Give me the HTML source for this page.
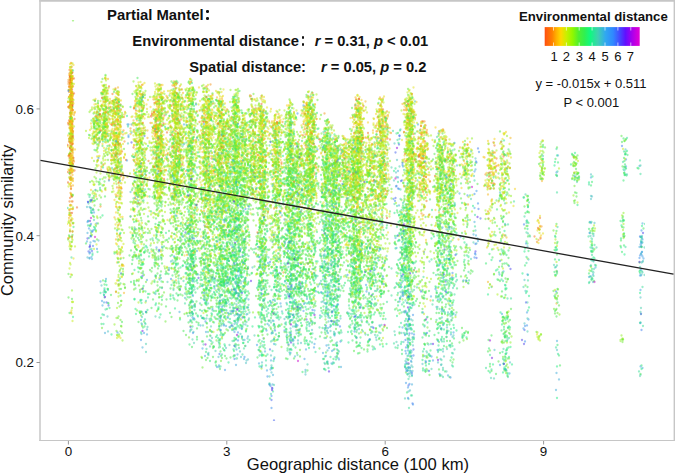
<!DOCTYPE html>
<html><head><meta charset="utf-8">
<style>
html,body{margin:0;padding:0;background:#fff;}
body{width:675px;height:475px;position:relative;overflow:hidden;font-family:"Liberation Sans",sans-serif;color:#111;}
.t{position:absolute;white-space:pre;line-height:1;}
.b{font-weight:700;}
</style></head><body>
<svg width="675" height="475" style="position:absolute;left:0;top:0">
<defs><filter id="bl" x="0" y="0" width="1" height="1"><feGaussianBlur stdDeviation="0.3"/></filter><linearGradient id="cg" x1="0" x2="1" y1="0" y2="0"><stop offset="0.0" stop-color="#ff4a08"/><stop offset="0.014" stop-color="#ff5a10"/><stop offset="0.077" stop-color="#ff8000"/><stop offset="0.122" stop-color="#ffb000"/><stop offset="0.17" stop-color="#ffd800"/><stop offset="0.23" stop-color="#c8f000"/><stop offset="0.294" stop-color="#90f800"/><stop offset="0.356" stop-color="#50f030"/><stop offset="0.419" stop-color="#30f050"/><stop offset="0.48" stop-color="#10f880"/><stop offset="0.56" stop-color="#40d0b0"/><stop offset="0.64" stop-color="#30a8f0"/><stop offset="0.72" stop-color="#3088ff"/><stop offset="0.8" stop-color="#4840ff"/><stop offset="0.85" stop-color="#6010ff"/><stop offset="0.91" stop-color="#a000f0"/><stop offset="0.98" stop-color="#d800d8"/><stop offset="1.0" stop-color="#e000d8"/></linearGradient></defs>
<g stroke="#c6c6c6" fill="none"><line x1="39.2" y1="0.8" x2="675" y2="0.8" stroke-width="1.7"/><line x1="40" y1="0" x2="40" y2="441.1" stroke-width="1.6" stroke="#cbcbcb"/><line x1="39.2" y1="440.5" x2="675" y2="440.5" stroke-width="1.2"/><line x1="674.3" y1="0" x2="674.3" y2="441.1" stroke-width="1.4"/></g>
<g fill="none" stroke-width="4.6" stroke-linecap="round" stroke-opacity="0.5" transform="scale(.5)" filter="url(#bl)">
<path stroke="#f0611d" d="M142 142h0m0 4h0m-4 27h0m0 21h0m3 16h0m-3 31h0m0 37h0m0 5h0m2 13h0m2 12h0m-2 0h0m-1 8h0m2 94h0m0 16h0m3-100h0m0-114h0m4-25h0m-4-31h0m0-3h0m67 108h0m17-13h0m7 35h0m32 12h0m16-24h0m30 4h0m0-36h0m1-5h0m-10-5h0m7-23h0m18 25h0m15 64h0m5-56h0m65-21h0m11 155h0m13-142h0m5-5h0m20 35h0m43-17h0m5-27h0m12-9h0m-2 82h0m5 140h0m94-215h0m-6 42h0m-3 34h0m14 47h0m1-1h0m32 48h0m32-68h0m22-73h0m4 98h0m6-25h0m30 95h0m8-149h0m8 95h0m50-110h0m2-49h0m21 132h0m-1 39h0m10-113h0m20 95h0m117-47h0m94 172h0"/>
<path stroke="#f27516" d="M139 140h0m0 7h0m3 10h0m1 5h0m-3 29h0m2 14h0m0 21h0m1 47h0m-1 5h0m1 1h0m0 0h0m0 52h0m-3 65h0m-1 7h0m3 37h0m3-112h0m4-90h0m-3-34h0m-2-18h0m0-32h0m70 95h0m7-35h0m16-14h0m-3 6h0m3 0h0m-6 35h0m6 92h0m7 197h0m42-297h0m-14-12h0m44 9h0m1-5h0m8-28h0m-1 119h0m23 77h0m-7-25h0m2-14h0m8-154h0m4 86h0m45-42h0m10 21h0m4-92h0m10 61h0m25 226h0m37-214h0m-1 151h0m19-52h0m-7-85h0m6-62h0m61 127h0m39 98h0m4-152h0m7 80h0m93-117h0m13 47h0m-2 115h0m-2 27h0m5-158h0m28 95h0m13-89h0m-2-26h0m5-23h0m-1-3h0m48-14h0m7 67h0m9-4h0m-11-23h0m30-2h0m7 159h0m39-122h0m83 94h0m8-8h0m1-5h0m5-70h0m31 45h0m-6 0h0m-4-7h0m66 127h0"/>
<path stroke="#f38f13" d="M142 126h0m0 23h0m-3 2h0m4 2h0m-1 6h0m0 2h0m-1 3h0m-1 2h0m0 6h0m1 6h0m-3 6h0m5 2h0m0 2h0m-4 15h0m2 4h0m-5 7h0m0 32h0m4 22h0m2 8h0m0 42h0m1 21h0m-1 5h0m0 16h0m-5 117h0m9-30h0m-2-103h0m2-68h0m-1-32h0m4-18h0m-3-6h0m-2-17h0m0-3h0m0-16h0m0-11h0m46 28h0m11 212h0m17-54h0m3-20h0m-8-72h0m4-38h0m-9-3h0m23 23h0m-7 1h0m9 30h0m-3 57h0m9 61h0m0 73h0m-2 98h0m3-282h0m9-4h0m-8-74h0m20 48h0m26 0h0m-4-43h0m30 116h0m4-4h0m2-6h0m-7-14h0m3-49h0m-3-2h0m0-17h0m-4-14h0m15-7h0m1 5h0m8 3h0m-9 4h0m3 10h0m-1 52h0m6 19h0m-6 58h0m24-39h0m-1-34h0m-1-23h0m0-65h0m6 12h0m0 13h0m9 7h0m-4 58h0m-5 1h0m-1 34h0m33 99h0m23-51h0m-1-138h0m3-6h0m4-1h0m4-19h0m7 53h0m-7 60h0m28-110h0m-2-15h0m18 125h0m-4 60h0m30-114h0m23 15h0m-4-67h0m18 4h0m-12 13h0m10 8h0m-6 25h0m9 7h0m-14 4h0m14 30h0m0 28h0m23-96h0m8 18h0m1 42h0m9 239h0m12-282h0m24 67h0m17-113h0m-5 18h0m2 14h0m-3 2h0m-4 7h0m10 22h0m2 27h0m3 34h0m0-53h0m25 76h0m8-120h0m15 55h0m0 24h0m11 115h0m18-79h0m15-147h0m-6 3h0m8 27h0m-10 82h0m-1 33h0m6 57h0m9 19h0m-3-146h0m2-2h0m3-15h0m-4-26h0m45 70h0m-10-80h0m4-13h0m-1-2h0m12 26h0m-1 9h0m4 5h0m8 7h0m-8 34h0m-4 7h0m6 21h0m-4 60h0m38-168h0m-2 0h0m7 7h0m-1 19h0m11 93h0m-3-63h0m1-39h0m7-1h0m-3-7h0m15 23h0m-8 45h0m0 80h0m12 4h0m3 31h0m-1-46h0m8-28h0m-3-74h0m-4-21h0m29 20h0m3 12h0m24 54h0m30 34h0m42 124h0m11-138h0m-3 0h0m-3-38h0m30 37h0m65 132h0"/>
<path stroke="#f6b316" d="M143 151h0m-2 12h0m1 8h0m1 7h0m0 0h0m-2 18h0m1 13h0m0 25h0m0 6h0m-1 1h0m1 11h0m-1 4h0m1 15h0m-2 21h0m0 15h0m1 24h0m-1 8h0m1 72h0m-3 25h0m6-97h0m0-14h0m2-28h0m0-10h0m-1-21h0m-1 0h0m1-59h0m-1-19h0m0-14h0m0-2h0m0-5h0m1-10h0m45 129h0m-2-44h0m19-70h0m-3 13h0m0 93h0m19 36h0m0-48h0m-7-40h0m-4-1h0m11-6h0m-8-39h0m1-22h0m20 17h0m-2 12h0m-1 18h0m1 8h0m2 36h0m-2 6h0m-8 14h0m8 2h0m5 2h0m-11 0h0m7 17h0m-1 17h0m-1 8h0m-5 2h0m8 7h0m2 40h0m-9 71h0m3 44h0m16 107h0m-2-56h0m-6-55h0m2-126h0m4-80h0m-5-24h0m29-43h0m-1 62h0m-8 4h0m16 174h0m10-70h0m-4-45h0m-4-5h0m-6-4h0m4-34h0m2-16h0m0-45h0m-2-10h0m8-24h0m33 205h0m-9-22h0m-2-57h0m10-27h0m-1-15h0m-6-1h0m3-18h0m0-16h0m-5 0h0m10-24h0m0-11h0m0-1h0m1-24h0m4 17h0m8 5h0m-8 19h0m-3 59h0m5 93h0m19 62h0m-4-86h0m8-88h0m-2-21h0m-3-27h0m9-47h0m14 22h0m-11 35h0m1 54h0m8 10h0m-7 18h0m3 2h0m-2 10h0m8 33h0m-12 11h0m24 15h0m3-42h0m-13-60h0m10-41h0m0-38h0m6 152h0m13 58h0m12-7h0m-7-112h0m6-16h0m4-15h0m2-10h0m-10-10h0m11-55h0m10 13h0m-1 6h0m-3 6h0m3 55h0m-8 11h0m3 8h0m-2 25h0m21 19h0m3-23h0m-1-19h0m-4-5h0m1-28h0m7-48h0m8 25h0m9 71h0m-1 19h0m-6 14h0m7 17h0m-12 106h0m9 0h0m6-67h0m5-171h0m17 19h0m-2 14h0m23 81h0m-1-11h0m1-48h0m0-36h0m-5-2h0m7-3h0m-4-11h0m-1-17h0m21 32h0m-1 17h0m-1 29h0m3 15h0m-14 49h0m15 12h0m-8 3h0m2 41h0m10 16h0m0-24h0m7-117h0m-9-6h0m14-11h0m14 3h0m-5 37h0m-5 55h0m7 30h0m-7 94h0m22-102h0m19-147h0m-5 23h0m-1 42h0m3 117h0m12-71h0m-1-36h0m12-94h0m11 32h0m1 10h0m-9 3h0m5 14h0m4 6h0m-3 8h0m3 6h0m-3 18h0m1 10h0m5 8h0m-5 1h0m5 46h0m-7 19h0m9 9h0m4-50h0m-5-36h0m32 68h0m1-79h0m16-22h0m14 22h0m-2 54h0m10 15h0m-4-37h0m6-22h0m20-84h0m-7 58h0m-5 9h0m6 14h0m6 15h0m-3 35h0m-8 5h0m1 86h0m1 10h0m10 31h0m6 0h0m-2-129h0m0-96h0m6-40h0m-5-4h0m8-15h0m20 49h0m-8 69h0m-5 25h0m18 23h0m-2-56h0m4-66h0m7-17h0m7 21h0m-1 28h0m43 62h0m0 40h0m5 57h0m-2 0h0m-1-64h0m10-29h0m1-21h0m-4-60h0m2-5h0m-8-19h0m7-35h0m-2-7h0m19 68h0m3 27h0m-1 11h0m-11 20h0m7 66h0m1 5h0m21 206h0m-12-186h0m-1-90h0m3-25h0m3-40h0m73 89h0m42-34h0m5 113h0m10-20h0m-8-19h0m5-54h0m1-27h0m8-3h0m15 55h0m12-52h0m64 167h0m-1-23h0m4-90h0m29 245h0m36-262h0"/>
<path stroke="#f8cf18" d="M143 145h0m-1 1h0m-3 10h0m4 5h0m-1 4h0m1 1h0m0 7h0m-1 12h0m1 0h0m-5 9h0m5 0h0m0 5h0m-3 1h0m1 11h0m1 2h0m-1 12h0m-1 12h0m0 5h0m3 12h0m0 1h0m-1 3h0m-1 0h0m0 9h0m2 1h0m-7 3h0m4 12h0m-1 1h0m1 28h0m2 15h0m-1 40h0m1 10h0m0 11h0m-4 42h0m2 22h0m1 0h0m1 97h0m2-264h0m1-42h0m0-3h0m0-73h0m-1-8h0m1-5h0m60 55h0m-8 3h0m3 10h0m1 10h0m-5 15h0m1 84h0m13-87h0m0-9h0m4-48h0m-3-29h0m19 42h0m-3 21h0m7 17h0m2 1h0m-4 12h0m2 7h0m-2 14h0m-7 2h0m10 1h0m-5 44h0m5 10h0m2 17h0m1 74h0m-6 5h0m6 16h0m-3 14h0m4 15h0m-1 35h0m4 11h0m-1-12h0m0-70h0m4 0h0m3-120h0m-6-21h0m0-92h0m25 78h0m19 107h0m-10-12h0m5-19h0m-7-35h0m6-22h0m2-12h0m-7-3h0m3-60h0m4-12h0m3 0h0m-10-2h0m3-21h0m23 26h0m-12 87h0m10 54h0m-4 38h0m20-60h0m3-33h0m-8-29h0m3-4h0m4-31h0m-4-3h0m-2-2h0m5-8h0m-3-27h0m6-7h0m0-8h0m-3-2h0m9-9h0m-3 5h0m3 19h0m2 13h0m-5 1h0m1 6h0m-1 6h0m-1 21h0m1 2h0m-2 7h0m0 4h0m12 3h0m-8 16h0m-1 5h0m4 1h0m-3 6h0m1 20h0m-2 14h0m-1 8h0m2 10h0m-2 8h0m1 1h0m0 24h0m24 168h0m-4-66h0m7-85h0m-1-74h0m-13-7h0m11-12h0m1-4h0m0-72h0m6 11h0m-2 17h0m4 23h0m9 8h0m-5 1h0m6 7h0m-12 4h0m0 23h0m3 7h0m-5 10h0m8 0h0m-3 45h0m26 17h0m-3-37h0m0-7h0m-1-19h0m-7-93h0m6-43h0m7-16h0m3 7h0m-3 19h0m-1 51h0m4 40h0m-2 99h0m3 63h0m23 89h0m0-147h0m1-46h0m1-98h0m-8-18h0m8-13h0m1-5h0m-8-2h0m6-31h0m0 0h0m12 5h0m-5 4h0m2 4h0m-4 32h0m-2 28h0m0 21h0m2 36h0m4 29h0m-4 13h0m7 72h0m16-38h0m-1-72h0m-4-12h0m7-50h0m4-10h0m-8-10h0m1-9h0m-2-9h0m3-6h0m9-5h0m0 65h0m10 13h0m-12 81h0m14 16h0m-14 14h0m24 46h0m-4-69h0m1-6h0m0-12h0m0 0h0m-2-55h0m0-3h0m6-6h0m21 21h0m-14 132h0m22-58h0m1-9h0m-2-8h0m4-10h0m0-61h0m-8-28h0m10-44h0m1-27h0m9 20h0m6 22h0m-7 38h0m0 6h0m8 3h0m1 4h0m-10 19h0m1 10h0m3 1h0m6 13h0m-2 1h0m3 48h0m-2 0h0m-1 7h0m6 97h0m0-120h0m7-104h0m6-46h0m17 24h0m-12 13h0m10 1h0m-5 45h0m0 26h0m-7 5h0m13 60h0m-10 82h0m15-107h0m12-41h0m-2-10h0m6-105h0m11 76h0m-4 50h0m-9 10h0m4 53h0m13 260h0m13-223h0m-13-72h0m11-48h0m-9-3h0m27-99h0m-8 1h0m-5 7h0m7 2h0m-9 19h0m9 2h0m-2 6h0m-6 2h0m10 1h0m-1 19h0m-6 33h0m7 30h0m8-27h0m-2-24h0m5-16h0m7-2h0m-10-23h0m0-3h0m5-13h0m23 72h0m-4 63h0m19-34h0m-11-12h0m-2-2h0m9-2h0m-9-24h0m16-11h0m2 23h0m11 24h0m-10 27h0m5 154h0m11-116h0m4-14h0m-8-4h0m4-16h0m-3-23h0m0-29h0m24-107h0m-2 10h0m-3 40h0m9 9h0m-6 27h0m8 0h0m-6 4h0m2 33h0m-9 2h0m2 5h0m2 10h0m-5 22h0m11 10h0m7 115h0m-2-11h0m-1-5h0m15-9h0m-15-62h0m14-4h0m1-17h0m-1-27h0m-9-4h0m8-18h0m-12-4h0m3-4h0m6-20h0m3-24h0m-13-2h0m6-4h0m-6-26h0m4-6h0m-2-5h0m3-17h0m-4-2h0m2-14h0m25 38h0m-5 38h0m0 14h0m5 56h0m-10 18h0m1 0h0m7 35h0m-3 38h0m5 2h0m-10 8h0m-1 92h0m23-122h0m5-18h0m-5-38h0m5-8h0m-9-64h0m9-8h0m-2-16h0m-8-3h0m2-4h0m-1 0h0m7-2h0m2-8h0m1-6h0m-4-4h0m-10-10h0m16 3h0m12 25h0m-9 9h0m-1 67h0m2 17h0m-4 2h0m2 46h0m0 255h0m38-445h0m1 6h0m5 18h0m-3 3h0m2 22h0m2 31h0m-1 33h0m0 56h0m3 118h0m-1-48h0m14-33h0m-12-22h0m8-32h0m-4-23h0m6-2h0m-3-7h0m-1-12h0m3-1h0m-8-1h0m2-5h0m-3-13h0m3-3h0m-3-23h0m4-15h0m2-3h0m-3-1h0m-5-12h0m3-28h0m26 62h0m-4 6h0m-6 9h0m7 1h0m-2 4h0m-5 3h0m5 3h0m-1 13h0m3 2h0m4 12h0m0 9h0m-7 3h0m8 9h0m-9 9h0m3 10h0m2 9h0m2 64h0m6-63h0m1-7h0m-2-63h0m-2-8h0m1-5h0m2-3h0m-2-19h0m27 40h0m3 26h0m-8 84h0m-1 32h0m11-20h0m9-35h0m-9-16h0m14-37h0m-13-4h0m-1-24h0m4-1h0m-1-21h0m3-33h0m11 80h0m10 3h0m-7 16h0m39-76h0m-6 22h0m3 2h0m-7 19h0m0 18h0m37-31h0m17 259h0m-7-207h0m1-2h0m0-3h0m4-5h0m-2-26h0m4-19h0m5-33h0m7 77h0m3 130h0m13-221h0m18 114h0m49 81h0m1-5h0"/>
<path stroke="#e3e018" d="M141 138h0m2 26h0m0 3h0m-1 42h0m-4 5h0m3 23h0m1 35h0m1 0h0m-3 16h0m-4 5h0m4 37h0m2 2h0m-1 2h0m2 21h0m-2 63h0m-2 7h0m1 23h0m6-30h0m1-98h0m-1-4h0m1-37h0m-2 0h0m1-16h0m-1-22h0m1-89h0m38 164h0m4-51h0m0 0h0m1-39h0m18-54h0m-11 36h0m0 4h0m1 15h0m3 1h0m-2 12h0m-3 37h0m12 94h0m13-34h0m3-16h0m-10-49h0m-3-2h0m1-5h0m6-48h0m-6-4h0m1-10h0m-1-26h0m28 24h0m-14 1h0m10 0h0m-6 3h0m7 7h0m-1 32h0m2 22h0m2 4h0m-12 20h0m3 1h0m8 2h0m-6 3h0m4 141h0m3 133h0m5-16h0m-4-111h0m2-67h0m3-16h0m1-72h0m-5-25h0m-1-38h0m26 84h0m1 112h0m-1 18h0m0 108h0m14-79h0m3-13h0m-1-50h0m-6-35h0m4-13h0m-8-13h0m4-11h0m4 0h0m-4-6h0m3-4h0m1-8h0m-8-7h0m12-2h0m-6-4h0m-4-5h0m5-9h0m-7-6h0m15-13h0m-5 0h0m-6-10h0m9-11h0m-7-16h0m-3-10h0m11-1h0m-3-12h0m-6-44h0m12 72h0m-1 32h0m0 45h0m24 82h0m-1 0h0m-3-40h0m3-10h0m0-11h0m6-7h0m2-7h0m-6-25h0m4-10h0m1-12h0m-3-8h0m1-15h0m3-18h0m-12-5h0m10-2h0m-8-5h0m8-6h0m-7-31h0m9-12h0m6 15h0m-3 1h0m3 17h0m-2 3h0m-2 30h0m11 20h0m-11 11h0m2 0h0m-3 6h0m7 15h0m-4 1h0m5 2h0m-6 35h0m6 7h0m-5 7h0m0 15h0m-2 6h0m3 5h0m-1 18h0m-2 79h0m13 69h0m15-147h0m0-41h0m-13-13h0m12-7h0m2-2h0m-1-20h0m-4-2h0m4-26h0m-8-25h0m5-63h0m-3-1h0m4-1h0m12-6h0m-4 9h0m0 0h0m3 13h0m4 9h0m-9 16h0m-1 21h0m0 4h0m3 2h0m-1 10h0m2 7h0m0 5h0m5 16h0m-2 2h0m-7 9h0m2 9h0m-1 6h0m13 0h0m-6 13h0m-2 6h0m-3 21h0m-3 4h0m5 6h0m-4 24h0m3 60h0m22-59h0m-9-1h0m4-78h0m-1-38h0m11-22h0m-8-2h0m5-20h0m2-14h0m-3-21h0m1-10h0m0-29h0m4 21h0m8 11h0m-7 20h0m6 42h0m-3 22h0m-3 22h0m6 15h0m1 6h0m-3 4h0m1 70h0m4 31h0m5 79h0m15-97h0m-8-2h0m5-5h0m-3-2h0m-5-7h0m10-66h0m-3-11h0m2-5h0m1-2h0m-12-10h0m0-17h0m13-8h0m-8-7h0m0-2h0m5-16h0m4-32h0m-6-2h0m7-40h0m8 28h0m-2 28h0m3 4h0m-6 1h0m0 9h0m4 16h0m2 9h0m-7 2h0m0 3h0m0 10h0m-2 61h0m15 9h0m-14 22h0m0 8h0m1 10h0m1 9h0m7 75h0m19 53h0m1-77h0m-7-49h0m6-40h0m-12-43h0m6-4h0m-4-9h0m10-1h0m-4-5h0m6-4h0m-10-10h0m6-5h0m2-4h0m-8-5h0m9-12h0m-1-9h0m-6-1h0m-6-8h0m4-19h0m2 0h0m5-18h0m-6-15h0m20 60h0m1 30h0m-11 20h0m3 6h0m3 14h0m-5 24h0m3 16h0m7 34h0m-2 16h0m-6 3h0m-1 28h0m6 10h0m8 84h0m1-161h0m11-70h0m-2-10h0m2-12h0m3-2h0m-12-5h0m-2-3h0m11-25h0m-6-3h0m0-5h0m1-11h0m-1-11h0m0-11h0m1-5h0m-2-8h0m22 67h0m4 43h0m-9 55h0m-1 124h0m11-86h0m11-6h0m-2-33h0m5 0h0m-1-10h0m1-7h0m-7-25h0m0-13h0m8-2h0m0-5h0m-6-11h0m1-22h0m5-15h0m-10-15h0m-1-2h0m27-25h0m-1 28h0m-7 1h0m8 20h0m-10 9h0m0 1h0m8 17h0m-8 0h0m7 14h0m-11 6h0m-1 15h0m6 2h0m-2 9h0m3 19h0m-1 6h0m3 1h0m-4 13h0m5 7h0m5 2h0m-6 21h0m5 18h0m13 34h0m-9-63h0m4-73h0m9-43h0m-13-19h0m23-27h0m-4 15h0m6 0h0m-2 9h0m4 7h0m-10 22h0m6 14h0m2 10h0m-5 3h0m8 23h0m-9 2h0m2 1h0m4 2h0m-3 14h0m-7 16h0m12 26h0m-13 79h0m7 38h0m-4 27h0m25-60h0m0-182h0m9-83h0m3 4h0m2 24h0m-10 18h0m10 36h0m-9 2h0m2 12h0m2 2h0m3 0h0m-2 0h0m1 12h0m6 71h0m-10 7h0m1 27h0m-2 38h0m13 16h0m4-28h0m3-6h0m3-1h0m-9-42h0m15-5h0m-10-43h0m-2-7h0m-3-16h0m7-11h0m19-132h0m-1 1h0m-5 33h0m2 18h0m7 3h0m1 24h0m-2 7h0m-4 2h0m4 26h0m-12 2h0m5 7h0m2 8h0m5 6h0m-1 7h0m-11 5h0m6 14h0m4 3h0m5 16h0m1 27h0m9 0h0m-5-14h0m-2-1h0m10-38h0m2-47h0m-14-26h0m2-9h0m2-6h0m0-1h0m-2 0h0m0-9h0m0-8h0m0-38h0m23 61h0m1 39h0m-3 22h0m8 40h0m-5 10h0m18-1h0m2-7h0m-9-6h0m6-1h0m-1-11h0m1-5h0m7-54h0m10 8h0m-12 7h0m14 17h0m-13 25h0m4 86h0m-4 120h0m22-107h0m-2-49h0m0-33h0m0-21h0m-5-33h0m13-66h0m17-31h0m-2 3h0m2 10h0m-3 2h0m4 19h0m-8 7h0m6 30h0m-4 1h0m-5 2h0m11 0h0m-15 2h0m10 0h0m5 9h0m0 7h0m-13 8h0m11 4h0m-4 12h0m-7 2h0m8 6h0m4 12h0m-2 3h0m-11 2h0m2 4h0m0 3h0m4 9h0m5 20h0m-7 6h0m5 29h0m-4 13h0m4 41h0m3 11h0m0 7h0m0 3h0m-11 29h0m4 17h0m3 18h0m13-117h0m2-28h0m-8-34h0m0-25h0m14-10h0m0-3h0m-3-8h0m-4-1h0m0-12h0m-7-19h0m15-1h0m-10-21h0m-3-19h0m-2-39h0m26 47h0m-4 27h0m7 14h0m-11 6h0m1 19h0m-2 1h0m11 6h0m2 12h0m-8 27h0m2 0h0m6 5h0m-7 2h0m-2 61h0m1 7h0m-1 14h0m8 12h0m-3 84h0m11-80h0m-5-1h0m7-103h0m5-7h0m-9-18h0m9-11h0m-3-1h0m-1-13h0m0-11h0m2-39h0m-9 0h0m8-14h0m4-2h0m2-11h0m-13-5h0m8 0h0m3-23h0m-7-5h0m5-6h0m-7-5h0m17 24h0m3 1h0m-4 9h0m1 5h0m-2 31h0m0 6h0m-3 8h0m0 23h0m6 43h0m2 107h0m-4 106h0m38-372h0m-3 29h0m8 21h0m-2 10h0m2 1h0m-11 20h0m9 51h0m-2 28h0m3 19h0m-12 63h0m14 138h0m3-117h0m4-53h0m-7-11h0m4-7h0m2-8h0m5-3h0m-8-13h0m7-1h0m0-20h0m-6-4h0m1-24h0m-2-2h0m4-4h0m5-2h0m-12-2h0m4-4h0m3-1h0m-3-2h0m8-27h0m-8-6h0m4 0h0m-2-1h0m3-8h0m-3-2h0m1-18h0m-7-3h0m9-2h0m-4-3h0m0-3h0m-5-19h0m1-15h0m6-6h0m4-13h0m15 98h0m-5 10h0m4 10h0m-5 3h0m9 0h0m-5 16h0m2 3h0m1 13h0m0 5h0m13 100h0m-1-59h0m0-3h0m-3-6h0m-1-1h0m9-1h0m-7-14h0m1-60h0m1-21h0m15 16h0m6 15h0m0 74h0m-11 87h0m28-135h0m0 0h0m-4-5h0m2-32h0m0-12h0m16 12h0m-11 12h0m2 41h0m-2 303h0m27-315h0m5-31h0m14 1h0m-7 14h0m36 48h0m18 77h0m-8-17h0m6-69h0m-8-21h0m1-8h0m27-56h0m0 26h0m0 16h0m-3 47h0m3 18h0m5 24h0m0-32h0m-3-9h0m9 0h0m4-42h0m64 152h0m-11-6h0m1-21h0m4-8h0m3-91h0"/>
<path stroke="#c6eb18" d="M142 152h0m1 16h0m0 6h0m-1 3h0m0 20h0m0 34h0m0 0h0m1 5h0m-2 31h0m-2 10h0m2 50h0m-2 14h0m2 14h0m1 35h0m-1 40h0m1 63h0m-2 33h0m3 101h0m1-386h0m0-25h0m41 52h0m22-63h0m-12 14h0m5 20h0m7 2h0m-12 5h0m4 2h0m-2 1h0m2 3h0m8 6h0m-9 1h0m-4 0h0m7 20h0m21 64h0m-2-6h0m-8-33h0m9-27h0m-9-9h0m6-6h0m4-37h0m-11-6h0m8 0h0m-7-6h0m1-16h0m-4-8h0m0-10h0m22 0h0m-4 0h0m4 48h0m5 0h0m-11 5h0m11 2h0m-2 22h0m5 18h0m-4 6h0m2 6h0m-6 3h0m5 20h0m-2 7h0m4 25h0m-1 46h0m-5 21h0m5 30h0m-2 35h0m2 81h0m3-138h0m15-62h0m-8-2h0m-7-7h0m0-43h0m27-31h0m4 28h0m0 81h0m8 130h0m-1-1h0m0-47h0m-5-79h0m7-32h0m-2-6h0m-3-1h0m7-4h0m4-12h0m-5-2h0m-6-4h0m0-18h0m-2-6h0m5-3h0m2-1h0m-3-7h0m-3-10h0m6-2h0m4-6h0m3-2h0m-3-21h0m-3-11h0m-2-17h0m0-1h0m-1-7h0m-3-8h0m6-8h0m-8-12h0m16 4h0m1 10h0m9 38h0m4 52h0m-14 0h0m6 76h0m-4 56h0m11 69h0m6-16h0m6-15h0m5-4h0m-4-33h0m1-23h0m-2-12h0m1-10h0m-1-12h0m-3-16h0m-3-13h0m8-3h0m-2-6h0m5-7h0m-3-4h0m-9-13h0m10-8h0m-10-8h0m5-1h0m-5-21h0m-1-6h0m12-5h0m-1-61h0m-6-17h0m17 30h0m-3 3h0m-4 22h0m10 20h0m-10 33h0m1 5h0m2 6h0m9 9h0m-11 5h0m-1 35h0m2 16h0m-1 20h0m1 77h0m18-8h0m6-6h0m2-39h0m-6-8h0m7-18h0m-5-9h0m-7-67h0m10-2h0m1-4h0m-5-6h0m6-56h0m1-2h0m-7-7h0m3-30h0m1-4h0m6 5h0m11 11h0m0 0h0m-13 5h0m1 7h0m3 4h0m-3 2h0m3 16h0m0 7h0m10 19h0m-3 5h0m-7 2h0m-1 3h0m4 6h0m-2 8h0m5 28h0m4 10h0m-8 2h0m-3 4h0m6 1h0m-9 1h0m2 17h0m-1 12h0m8 3h0m-1 2h0m5 3h0m-7 2h0m-3 14h0m-3 8h0m0 75h0m4 82h0m17 74h0m8-180h0m-1-29h0m-12-1h0m15-90h0m0-17h0m-4-8h0m-11-2h0m12-2h0m-7 0h0m0-21h0m-5-57h0m6-42h0m11 55h0m4 2h0m2 8h0m-5 17h0m3 75h0m-1 46h0m8 39h0m-7 11h0m6 41h0m-6 75h0m23-31h0m3-62h0m-10-91h0m3-11h0m2-4h0m-8-1h0m-2-9h0m15-12h0m-5-8h0m5-3h0m-11-29h0m11-2h0m-11-17h0m8-6h0m-2-3h0m-1-2h0m-1-28h0m2-6h0m2-7h0m2-30h0m8 9h0m-1 9h0m-3 11h0m2 22h0m2 3h0m-4 4h0m12 16h0m-12 23h0m2 14h0m-1 17h0m-3 3h0m13 3h0m-3 41h0m-6 20h0m-2 26h0m7 9h0m0 26h0m2 2h0m1 10h0m-12 97h0m21-42h0m5-7h0m-1-60h0m-1-11h0m6-1h0m-3-61h0m-1-2h0m-5-1h0m8-1h0m-9-2h0m10 0h0m0-7h0m-3-4h0m-6-2h0m-5-3h0m1-6h0m6 0h0m-3-13h0m1-12h0m1-2h0m-3-96h0m5-9h0m23 27h0m-11 18h0m6 1h0m-4 13h0m0 23h0m-2 2h0m9 6h0m-7 13h0m2 6h0m0 27h0m1 28h0m1 25h0m0 103h0m-5 6h0m-1 134h0m26-59h0m-2-95h0m-9-45h0m5-30h0m1-48h0m6-24h0m-14-9h0m14-14h0m-3-1h0m-5 0h0m5-21h0m2-3h0m-8-11h0m3-10h0m3-10h0m-3-25h0m6-1h0m-7-1h0m-1-4h0m6-13h0m-1-3h0m-7-6h0m-3-1h0m2-6h0m8-12h0m13 49h0m-4 4h0m5 5h0m3 4h0m-6 24h0m4 15h0m-4 2h0m7 1h0m-10 21h0m11 25h0m-15 12h0m4 7h0m-3 41h0m8 96h0m-1 72h0m17-184h0m1-1h0m-2-3h0m-8-14h0m11-18h0m-2-2h0m-8-24h0m14-2h0m-9-12h0m6 0h0m-4-2h0m2-11h0m-6 0h0m3-23h0m-7-3h0m6-12h0m8-20h0m-5-8h0m-8-7h0m30-19h0m-2 3h0m-7 6h0m-5 13h0m10 3h0m-9 3h0m12 16h0m-1 2h0m-7 6h0m-1 0h0m2 11h0m6 8h0m-9 0h0m9 5h0m-4 29h0m6 17h0m-7 9h0m-4 0h0m-2 3h0m4 2h0m9 28h0m-7 11h0m-2 1h0m6 6h0m0 23h0m-3 3h0m2 55h0m2 29h0m-10 31h0m5 6h0m9 0h0m0-5h0m7-87h0m-6-58h0m-1-25h0m11-76h0m-6-15h0m-2-28h0m24 11h0m-6 14h0m1 16h0m8 14h0m-9 16h0m-4 39h0m6 9h0m-4 13h0m10 31h0m-13 2h0m8 40h0m0 61h0m-7 50h0m26-157h0m-5-3h0m8-32h0m-14 0h0m-1-10h0m3-3h0m2-42h0m8-31h0m-3-3h0m3-42h0m0-2h0m15 1h0m-11 1h0m6 1h0m7 2h0m-2 6h0m2 1h0m-12 19h0m9 2h0m-4 2h0m-3 0h0m4 0h0m-3 2h0m0 1h0m4 22h0m-7 5h0m-2 19h0m6 5h0m3 0h0m-7 3h0m8 4h0m5 12h0m-15 1h0m10 6h0m-9 8h0m-1 18h0m6 78h0m8 28h0m-7 104h0m-6 2h0m5 43h0m25-84h0m-10-83h0m0-10h0m9-57h0m-7 0h0m-2-17h0m1-7h0m-4-3h0m0 0h0m2-11h0m3-21h0m4-1h0m2-17h0m0-8h0m1-70h0m-13-12h0m21-10h0m4 9h0m3 16h0m0 0h0m-3 10h0m-2 13h0m7 27h0m-8 0h0m1 15h0m4 15h0m-6 1h0m-5 11h0m8 25h0m4 1h0m1 11h0m0 2h0m-2 0h0m-2 13h0m-10 37h0m6 68h0m6 26h0m-9 40h0m26-124h0m-11-26h0m7-14h0m-8-7h0m1-26h0m-2-99h0m4-17h0m15 67h0m12 1h0m-13 29h0m2 5h0m5 19h0m0 14h0m2 3h0m-7 8h0m2 42h0m4 51h0m6 36h0m9-35h0m-4-18h0m1-28h0m6-20h0m-3-7h0m5-1h0m-3-14h0m-7-8h0m6-6h0m-10-17h0m7-18h0m-2-3h0m5-2h0m3-6h0m-7-3h0m7-1h0m-8-32h0m8-1h0m-3-8h0m3-12h0m-13-18h0m30 56h0m-8 21h0m-3 6h0m5 2h0m1 49h0m-2 14h0m8 92h0m6 16h0m-1-40h0m0-37h0m10-45h0m-5 0h0m-6-6h0m-2-6h0m6-2h0m1-23h0m-8-19h0m1-1h0m14-2h0m-5-22h0m-9-6h0m9-1h0m3-14h0m1-19h0m15-62h0m-5 12h0m3 16h0m-1 0h0m-8 10h0m4 2h0m-6 13h0m7 6h0m-6 8h0m13 2h0m-4 3h0m-10 13h0m1 7h0m14 0h0m-8 16h0m7 5h0m-7 8h0m1 7h0m-4 16h0m7 1h0m-5 1h0m-4 4h0m0 9h0m3 10h0m7 9h0m-9 7h0m9 14h0m-12 8h0m15 4h0m-6 18h0m0 5h0m-5 9h0m7 24h0m0 11h0m-3 9h0m3 3h0m2 12h0m-7 41h0m0 16h0m1 30h0m11 1h0m13-78h0m-11-73h0m-1-23h0m4-15h0m-1 0h0m-1-37h0m10-23h0m-15-13h0m2-5h0m7-9h0m-1-7h0m7-5h0m-12-30h0m1 0h0m2-5h0m-5-8h0m-1-30h0m27 2h0m-10 34h0m3 27h0m4 11h0m2 2h0m0 11h0m-6 5h0m2 52h0m-1 9h0m8 3h0m-11 3h0m13 4h0m-9 54h0m-3 8h0m7 27h0m-5 29h0m2 12h0m23 148h0m-10-75h0m11-185h0m-15-10h0m12-10h0m-9-28h0m2-4h0m4-5h0m5-2h0m-3-3h0m-3-4h0m4-27h0m-2-13h0m1-2h0m-6-4h0m5-6h0m4-27h0m-2-6h0m-12-9h0m6-4h0m2-9h0m5-2h0m-5-8h0m3-34h0m5 28h0m3 0h0m-2 8h0m4 26h0m-4 5h0m1 98h0m4 57h0m8 30h0m16 21h0m17-287h0m-1 29h0m1 25h0m-1 10h0m-1 2h0m-5 14h0m7 58h0m-3 4h0m0 3h0m-10 105h0m11 60h0m15 98h0m-7-22h0m4-27h0m-9-18h0m10-54h0m0-9h0m-5-3h0m0-18h0m0-58h0m5-1h0m-5-5h0m1-26h0m6-10h0m-12-2h0m0-11h0m9-11h0m4-1h0m-8-10h0m1-3h0m5-8h0m-8-9h0m1-29h0m10-3h0m-3-30h0m-5-2h0m0-13h0m5-11h0m16 79h0m4 1h0m-3 20h0m1 1h0m1 8h0m-5 1h0m2 17h0m-10 48h0m3 19h0m5 7h0m-9 26h0m0 0h0m15 117h0m1 85h0m5-54h0m7-187h0m-11-9h0m4-8h0m-3-53h0m0-11h0m24 47h0m1 4h0m0 10h0m-3 10h0m-1 1h0m5 3h0m3 5h0m-15 48h0m9 1h0m2 78h0m13-8h0m-8-45h0m1-31h0m6-45h0m1-1h0m-4-13h0m7-24h0m-6-13h0m-4-3h0m1-35h0m1-3h0m6-8h0m15 5h0m-8 14h0m15 6h0m-12 1h0m-1 4h0m13 9h0m-6 13h0m-6 7h0m6 11h0m-3 52h0m8 13h0m17-110h0m6-12h0m5 15h0m-8 24h0m1 2h0m1 10h0m3 0h0m-7 2h0m9 44h0m8-4h0m30-11h0m14 111h0m-6-89h0m2-39h0m-2-29h0m7-18h0m14-26h0m-3 46h0m1 75h0m2 8h0m-12 71h0m16 6h0m2-75h0m0-26h0m5-46h0m-6-81h0"/>
<path stroke="#aaef17" d="M142 159h0m-2 0h0m2 2h0m-1 8h0m2 14h0m-7 21h0m3 13h0m0 40h0m1 1h0m1 3h0m-1 45h0m0 11h0m3 10h0m-5 119h0m7 17h0m1-123h0m-1-64h0m2-76h0m-2-73h0m36 94h0m6-21h0m16-36h0m-11 44h0m12 30h0m1 12h0m-6 2h0m-1 0h0m7 8h0m-10 10h0m0 11h0m12 32h0m-5 68h0m6-11h0m8-30h0m-6-13h0m13-26h0m-6-3h0m-6-24h0m-3-22h0m2-2h0m6-17h0m4-3h0m-11-20h0m1-5h0m2-4h0m3-7h0m-3-5h0m-2-7h0m3-6h0m-4-6h0m1-14h0m1-4h0m27 46h0m-5 15h0m-2 12h0m2 5h0m-7 10h0m4 10h0m3 26h0m1 1h0m-5 1h0m9 11h0m-12 11h0m13 6h0m-8 3h0m6 24h0m2 1h0m-1 13h0m-8 2h0m3 7h0m-7 21h0m11 7h0m-2 33h0m1 9h0m0 25h0m2 7h0m-2 103h0m1 25h0m-3 30h0m9 37h0m1-124h0m0-122h0m-3-18h0m0-82h0m2-27h0m10-14h0m-12-22h0m4-14h0m-4-9h0m28-38h0m1 2h0m1 65h0m0 16h0m0 65h0m-11 16h0m8 55h0m-2 5h0m0 52h0m4 36h0m11 26h0m1-18h0m0-52h0m-10-10h0m12-61h0m-5-1h0m4-10h0m-1-1h0m-10-3h0m7-4h0m-1-4h0m7-7h0m-5-47h0m-3-3h0m5-18h0m-4-12h0m-4 0h0m8-2h0m5-6h0m-11-13h0m6-16h0m4-14h0m-8-13h0m5-9h0m1-5h0m-1-15h0m5 35h0m2 55h0m-1 40h0m-1 18h0m6 32h0m-5 99h0m-1 10h0m21 47h0m7-53h0m-9-73h0m7-4h0m0-11h0m5-3h0m-6-16h0m5-4h0m-5-6h0m-2-2h0m4-9h0m3 0h0m0-9h0m-13-5h0m7-1h0m3-7h0m3-3h0m-5-25h0m3-19h0m0-9h0m-7-25h0m1-8h0m2-16h0m6-5h0m3-6h0m5 23h0m8 23h0m-14 8h0m2 13h0m0 15h0m1 5h0m11 0h0m-7 19h0m0 8h0m-6 11h0m1 27h0m-2 4h0m3 7h0m6 4h0m-6 6h0m-3 0h0m3 5h0m-2 3h0m3 10h0m-1 10h0m8 10h0m-7 17h0m-4 1h0m10 1h0m-4 19h0m-5 57h0m18-120h0m8-12h0m-3-7h0m5-12h0m-2 0h0m1-7h0m3-8h0m-1-63h0m-9-6h0m8-8h0m-11-1h0m-1-19h0m12-13h0m2-1h0m-8-3h0m-3-2h0m11-15h0m-6 0h0m4-2h0m-2-2h0m-1-17h0m1 0h0m15-13h0m-10 27h0m0 1h0m4 7h0m-4 8h0m4 2h0m10 1h0m-9 4h0m6 8h0m-7 6h0m1 6h0m-2 6h0m7 8h0m-4 2h0m6 3h0m-7 15h0m-1 3h0m-4 9h0m13 1h0m-11 5h0m1 3h0m3 1h0m2 6h0m1 13h0m-3 5h0m-4 21h0m2 1h0m9 10h0m-3 2h0m-6 0h0m-1 30h0m11 0h0m-8 4h0m-2 8h0m4 87h0m12 22h0m-2-80h0m9-10h0m4-12h0m-13-15h0m0-25h0m8-28h0m3-11h0m-2-19h0m4-9h0m-1-6h0m1-3h0m-5-23h0m-6-18h0m7-6h0m-11-3h0m11-9h0m4-25h0m-12-23h0m18 71h0m-3 13h0m9 2h0m-4 30h0m-5 2h0m1 40h0m-2 2h0m3 46h0m1 16h0m5 8h0m-6 28h0m-3 27h0m9 25h0m4 8h0m-9 8h0m25 50h0m-4-6h0m5-162h0m-3-1h0m0 0h0m-4-6h0m-6-4h0m13-23h0m-4-8h0m-10 0h0m3-2h0m10-5h0m-5-7h0m2-21h0m-3-10h0m3-11h0m2-12h0m-4-4h0m-3-2h0m2-16h0m4-3h0m-7-15h0m0-17h0m10-16h0m-8-28h0m0-6h0m13 69h0m1 0h0m1 13h0m-5 6h0m4 6h0m-1 70h0m3 8h0m-6 7h0m4 4h0m0 7h0m-5 8h0m0 19h0m8 3h0m6 37h0m14 103h0m-4-11h0m-4-1h0m9 0h0m-8-24h0m2-8h0m7-8h0m0-1h0m-7-7h0m4-9h0m-8-25h0m9-13h0m-10-16h0m0-4h0m5-18h0m0 0h0m-7-19h0m3-9h0m6-12h0m6-1h0m-5-18h0m-4-12h0m7-13h0m-13-1h0m8-6h0m6-1h0m-7-5h0m-2-16h0m-4-4h0m5-4h0m7-1h0m1-11h0m-2-33h0m-8-1h0m15 8h0m-3 4h0m5 16h0m8 14h0m-12 5h0m-1 6h0m1 29h0m8 10h0m-5 4h0m8 1h0m-4 6h0m7 4h0m-2 5h0m-6 2h0m-1 3h0m3 1h0m-1 4h0m0 16h0m-4 1h0m-4 7h0m10 4h0m1 9h0m-6 25h0m2 4h0m-4 6h0m5 8h0m7 0h0m-15 4h0m4 0h0m6 1h0m3 9h0m-8 7h0m5 20h0m-9 5h0m8 27h0m-2 68h0m13 30h0m0-151h0m5-5h0m-5-12h0m8-19h0m-6-2h0m-1-17h0m6-15h0m-6-16h0m0-10h0m10-1h0m0-10h0m-1-4h0m-3-10h0m-5-1h0m-2-6h0m11-3h0m-9-6h0m2 0h0m5-6h0m-1-3h0m2-7h0m-4-4h0m3-16h0m-10-6h0m-2-2h0m14-21h0m-4-15h0m-4-14h0m-4-7h0m5-2h0m-1-1h0m16 32h0m-2 1h0m8 21h0m-2 20h0m1 23h0m-2 2h0m-6 14h0m7 5h0m-7 70h0m7 54h0m-8 18h0m1 27h0m8 3h0m6-112h0m4-10h0m8-39h0m-2-20h0m-1-2h0m2-1h0m-4-10h0m-7-19h0m8-3h0m0-2h0m4-3h0m-9-4h0m-1-33h0m0-3h0m7-1h0m-3-25h0m16 19h0m1 12h0m-7 7h0m8 1h0m1 13h0m-2 0h0m1 9h0m4 10h0m-2 11h0m-2 1h0m5 1h0m-10 18h0m9 0h0m-14 9h0m9 3h0m6 0h0m-6 15h0m-8 1h0m9 14h0m-2 15h0m-2 5h0m5 7h0m3 6h0m0 1h0m1 13h0m-2 2h0m1 4h0m-6 45h0m0 39h0m2 50h0m7 58h0m-1-102h0m1-58h0m0-20h0m-1-40h0m0-22h0m2-5h0m-1-3h0m2-12h0m3-32h0m-1-25h0m-3-5h0m9-21h0m-10-4h0m21-12h0m4 15h0m-1 3h0m-1 1h0m4 10h0m2 1h0m1 3h0m-6 3h0m-5 34h0m7 1h0m-10 11h0m1 18h0m11 6h0m0 37h0m1 8h0m-3 6h0m4 2h0m-4 11h0m-5 15h0m3 1h0m-4 15h0m4 13h0m-6 81h0m14 46h0m5-19h0m5-7h0m-1-144h0m-1-13h0m-8-29h0m8-1h0m6-44h0m-12-29h0m0-25h0m0-10h0m10-7h0m0-7h0m7-3h0m6 32h0m-6 24h0m5 50h0m6 3h0m-15 2h0m3 9h0m0 0h0m-3 2h0m8 13h0m-7 18h0m1 1h0m4 11h0m-3 10h0m3 11h0m-2 25h0m10 8h0m0 0h0m0 1h0m-13 7h0m-1 49h0m5 9h0m6 0h0m2 18h0m-11 19h0m3 12h0m13-49h0m4-25h0m6-20h0m-11-4h0m5-35h0m0-15h0m-3-48h0m8-9h0m-9-35h0m8-15h0m-7-7h0m3-17h0m0-8h0m24-63h0m1 7h0m-7 3h0m5 1h0m0 32h0m-5 13h0m7 20h0m-7 27h0m4 5h0m0 32h0m-11 2h0m14 12h0m-4 11h0m-3 8h0m3 0h0m3 6h0m-3 10h0m2 16h0m-4 24h0m-2 13h0m-1 12h0m3 16h0m-9 6h0m12 28h0m0 12h0m-7 37h0m-1 0h0m12-50h0m2-80h0m-2-5h0m1-3h0m4-4h0m-1-98h0m4-4h0m-7-2h0m1-2h0m2-5h0m-4-10h0m2-22h0m1-2h0m0-40h0m1-3h0m1-13h0m23 43h0m1 0h0m1 3h0m0 5h0m-5 4h0m-1 13h0m-1 0h0m5 1h0m3 12h0m-5 15h0m-7 60h0m22 165h0m-3-17h0m-1-33h0m4-27h0m-8-16h0m5-21h0m6-33h0m-9-21h0m5-32h0m2-4h0m2-7h0m2-4h0m1-17h0m-1-3h0m-3-24h0m3-5h0m-10-3h0m2-3h0m-6-11h0m29 5h0m-5 42h0m-2 16h0m7 27h0m-7 11h0m-6 8h0m3 1h0m3 19h0m-5 20h0m3 12h0m-4 5h0m13 24h0m-7 62h0m25 46h0m-6-9h0m3-154h0m-7-7h0m8-11h0m-2-15h0m-9-10h0m4-1h0m6-23h0m-3-24h0m1-2h0m17-108h0m2 22h0m-11 9h0m12 17h0m-7 12h0m0 6h0m0 8h0m-2 3h0m6 19h0m4 0h0m-11 6h0m11 4h0m-15 5h0m7 9h0m0 4h0m6 1h0m-8 2h0m2 14h0m4 4h0m-1 0h0m-6 0h0m-2 3h0m12 4h0m-5 20h0m-1 1h0m7 1h0m-14 20h0m2 3h0m0 2h0m11 15h0m-5 12h0m-5 44h0m1 12h0m-3 6h0m3 7h0m1 23h0m3 46h0m9-8h0m1-50h0m9-75h0m-1-1h0m3-19h0m-3-45h0m-9-6h0m-2-27h0m5-1h0m-4-5h0m-1-41h0m2-7h0m1-5h0m1-10h0m0-3h0m0-19h0m-4-7h0m6-15h0m-6-5h0m12-1h0m5 84h0m-1 2h0m3 4h0m9 0h0m-7 16h0m7 2h0m-4 0h0m-5 23h0m3 7h0m-6 1h0m2 38h0m3 16h0m0 23h0m-3 4h0m2 20h0m7 44h0m-3 4h0m-7 14h0m22 3h0m3-29h0m-4-17h0m4-28h0m3-45h0m2-6h0m-10-23h0m-4-9h0m11-1h0m-4-11h0m-2-2h0m4-18h0m-9 0h0m5-4h0m4-4h0m-4-11h0m3-18h0m6-5h0m-1-17h0m0-4h0m1-9h0m-7-8h0m0-1h0m-6-27h0m6-11h0m-2-14h0m12 38h0m7 20h0m-7 33h0m4 50h0m2 2h0m3 92h0m-8 54h0m0 80h0m40-367h0m3 3h0m-2 42h0m1 8h0m-1 48h0m0 5h0m2 14h0m0 37h0m1 2h0m-2 13h0m-4 28h0m3 76h0m2 83h0m8-38h0m0-10h0m4-4h0m-8-13h0m-2-5h0m4-16h0m-3-1h0m3-8h0m9-6h0m-8-8h0m7-5h0m0-7h0m-6-6h0m1-2h0m-3-1h0m0-18h0m5-4h0m-7-4h0m-2-8h0m2-8h0m7-16h0m-6-7h0m8-10h0m-11-13h0m7-12h0m-3-5h0m-4-5h0m6-1h0m-5-20h0m5 0h0m-6-1h0m0-3h0m2-2h0m3-2h0m9-12h0m-9-5h0m-5 0h0m9-15h0m-3-2h0m3-5h0m-7-1h0m2-14h0m6 0h0m-10-3h0m3-6h0m0-14h0m-2-2h0m12-3h0m-6-20h0m-4-8h0m20 86h0m-4 37h0m11 1h0m1 21h0m-8 31h0m-7 1h0m14 1h0m-7 23h0m5 15h0m3 50h0m-6 76h0m21 36h0m-3-231h0m-4-36h0m-5-28h0m28 20h0m0 22h0m-5 21h0m4 2h0m-2 7h0m-9 2h0m5 17h0m5 6h0m-1 17h0m4 17h0m-2 8h0m0 7h0m-1 88h0m-1 6h0m9 143h0m-1-201h0m11-38h0m-14-21h0m1-28h0m6-39h0m7-4h0m-1-29h0m14 28h0m0 2h0m-3 47h0m-7 2h0m10 12h0m0 12h0m-3 22h0m-4 6h0m3 11h0m3 15h0m-5 23h0m10 4h0m2 31h0m-1-30h0m1-100h0m22-70h0m6 9h0m-1 3h0m-9 2h0m12 36h0m-13 59h0m4 33h0m5 53h0m5-73h0m34 153h0m10-28h0m-7-68h0m-4-52h0m4-52h0m-4-44h0m10-5h0m-3-8h0m9-18h0m8 16h0m1 11h0m4 37h0m-1 7h0m2 135h0m-12 82h0m16 134h0m3-38h0m6-349h0m-5-28h0m0 0h0m65 373h0m-1-9h0m2-378h0m9 43h0m-2 7h0m22 142h0m40-159h0m32 207h0m6-83h0m56-20h0"/>
<path stroke="#8cef1d" d="M137 180h0m4 17h0m2 66h0m-2 33h0m2 145h0m1 175h0m0-35h0m0-31h0m3-104h0m41-50h0m3-15h0m-2-12h0m-1-47h0m0-45h0m18-97h0m-1 15h0m2 31h0m-8 7h0m8 33h0m-1 1h0m-11 55h0m11 9h0m5 45h0m8-35h0m-8-74h0m-2-8h0m0-3h0m7-4h0m-5-43h0m0-4h0m-3-10h0m1-1h0m6-12h0m23 22h0m-10 6h0m-2 4h0m-1 23h0m0 49h0m6 51h0m-2 16h0m4 1h0m0 14h0m2 91h0m-1 9h0m-5 36h0m6 12h0m-2 120h0m1 34h0m8-60h0m0-73h0m-1-155h0m2-48h0m-1-11h0m0-33h0m-1-37h0m-1-3h0m27-87h0m4 47h0m-2 222h0m-8 1h0m-2 22h0m11 5h0m-3 52h0m17 140h0m-4-26h0m-6-66h0m12-64h0m-13-5h0m9-13h0m1-2h0m-1-60h0m5-11h0m-7-13h0m0-8h0m4-1h0m-9-4h0m12-14h0m-8-2h0m-6-11h0m10 0h0m-2-21h0m-8-4h0m1-1h0m6-9h0m3-8h0m-3-15h0m5-19h0m-6-4h0m-5-6h0m13-14h0m-11-18h0m2-25h0m22-14h0m-12 34h0m13 67h0m0 6h0m-9 83h0m-4 2h0m9 29h0m-1 43h0m4 8h0m7 119h0m12-29h0m-6-29h0m-1-10h0m1-44h0m-6-38h0m6-14h0m-3-27h0m7-14h0m-2-3h0m1-2h0m-9-2h0m4-1h0m4-6h0m-1-42h0m-8-46h0m9-5h0m4-25h0m0-22h0m-2-5h0m2-19h0m-4-24h0m2-9h0m5 10h0m12 23h0m-8 5h0m9 18h0m-8 25h0m-2 13h0m-5 9h0m3 1h0m10 16h0m-8 7h0m0 32h0m9 38h0m-7 4h0m5 4h0m-9 23h0m5 44h0m6 95h0m17-40h0m-10-70h0m7-49h0m-1-14h0m-4-6h0m7-7h0m-7-14h0m-6-7h0m14-11h0m-1-5h0m-4-34h0m5-11h0m0-21h0m-6-25h0m-5-6h0m0-6h0m3-30h0m12 14h0m3 3h0m-5 14h0m3 10h0m4 9h0m-6 8h0m4 5h0m-5 3h0m1 0h0m6 1h0m-7 33h0m11 1h0m-4 20h0m-1 19h0m-5 8h0m2 16h0m-2 12h0m10 10h0m3 9h0m-13 7h0m2 5h0m-3 12h0m13 0h0m-9 5h0m7 31h0m-8 16h0m-2 14h0m1 25h0m-2 18h0m6 9h0m12 60h0m6-26h0m-3-4h0m2-109h0m-3-2h0m6-38h0m1-1h0m2-5h0m-4-11h0m3-22h0m-2-2h0m-4-23h0m7-2h0m-5-3h0m6-1h0m0-13h0m-3-16h0m0-7h0m0-8h0m-8-5h0m10-2h0m-10-13h0m-2-8h0m8-13h0m2-16h0m-4-37h0m10 2h0m-1 7h0m4 0h0m3 25h0m-3 0h0m-4 16h0m2 0h0m-2 26h0m8 18h0m-7 10h0m2 7h0m-4 25h0m0 10h0m3 16h0m0 1h0m-3 27h0m0 3h0m7 5h0m8 10h0m-13 2h0m0 4h0m1 3h0m3 9h0m-4 31h0m10 11h0m-8 1h0m5 31h0m-3 44h0m9 40h0m14-29h0m-8-38h0m4-21h0m-2-43h0m3-16h0m-5-1h0m-1-2h0m-2-3h0m9-9h0m3-5h0m1-1h0m-4-9h0m-7-1h0m5-28h0m1-10h0m1-6h0m-5-4h0m3-25h0m2-12h0m-3-7h0m5-9h0m-2-15h0m-11-6h0m15-28h0m5-47h0m-3 9h0m6 1h0m-7 18h0m5 4h0m-2 34h0m2 3h0m1 20h0m1 45h0m7 8h0m-9 2h0m3 4h0m-6 8h0m1 3h0m-3 28h0m1 4h0m12 13h0m-13 43h0m1 9h0m5 8h0m-4 26h0m6 4h0m3 32h0m-6 15h0m22 79h0m-8-79h0m-3-28h0m6-12h0m5-33h0m-6-21h0m2-2h0m2-10h0m1-13h0m4-17h0m-12-2h0m7-9h0m-5-2h0m7-2h0m-3-18h0m1-2h0m3-7h0m-6-39h0m5-3h0m-4-22h0m1 0h0m-5-10h0m7-8h0m1-7h0m-6-6h0m10-5h0m-4-20h0m4-13h0m-11-22h0m25-27h0m-5 41h0m1 2h0m6 29h0m-6 27h0m2 6h0m0 22h0m-3 10h0m-5 10h0m3 7h0m-1 3h0m-2 17h0m-1 5h0m-2 2h0m14 24h0m-6 3h0m-2 1h0m9 11h0m-12 4h0m10 7h0m1 31h0m-6 10h0m-5 27h0m3 15h0m9 21h0m-15 30h0m12 10h0m4-37h0m2-2h0m3-13h0m9-21h0m0-49h0m-1-28h0m-9-16h0m5-17h0m-9-1h0m3-2h0m6-2h0m6-1h0m-6-21h0m1-9h0m-4-1h0m-4-10h0m8-3h0m0-6h0m-2-4h0m-1-17h0m0-10h0m-1-8h0m5-4h0m4-2h0m-4-3h0m-2-6h0m-4-15h0m3-2h0m2-21h0m-2-12h0m-1-3h0m9 46h0m5 4h0m9 1h0m-4 5h0m-6 27h0m0 1h0m3 2h0m2 1h0m-4 8h0m3 18h0m2 8h0m3 6h0m2 6h0m-13 4h0m8 4h0m4 2h0m-14 10h0m9 9h0m-8 30h0m-1 8h0m1 13h0m5 48h0m-4 1h0m1 5h0m-3 13h0m10 20h0m-6 11h0m5 3h0m-9 18h0m11 24h0m-2 1h0m17 59h0m-10-88h0m3-56h0m0-11h0m4-83h0m5-2h0m-6-21h0m8-12h0m-5-12h0m6-8h0m-7-12h0m1-8h0m1-13h0m-9-20h0m6-24h0m1-4h0m4-7h0m19-14h0m-13 6h0m8 23h0m-9 32h0m11 10h0m-10 3h0m10 4h0m-7 8h0m10 4h0m-6 0h0m6 6h0m-7 15h0m-1 10h0m0 25h0m1 22h0m-7 5h0m11 4h0m2 3h0m0 4h0m1 8h0m-7 16h0m-1 8h0m0 16h0m1 3h0m-4 7h0m5 6h0m-3 16h0m9 25h0m-10 60h0m-1 19h0m7 139h0m6-195h0m2-23h0m-1-33h0m13-8h0m0-23h0m-15-20h0m14-24h0m-6-6h0m3-21h0m-11-27h0m1-1h0m3-23h0m6-7h0m-6-14h0m9-6h0m-9-5h0m2-58h0m16-12h0m-1 16h0m8 16h0m2 38h0m-4 5h0m-2 58h0m4 26h0m-9 6h0m4 10h0m-2 26h0m2 2h0m-7 2h0m3 3h0m9 15h0m-2 96h0m-4 13h0m2 6h0m4 20h0m-6 92h0m-2 1h0m25-103h0m-5-153h0m5-1h0m1-19h0m-15-6h0m5-54h0m0-10h0m7-67h0m-1-4h0m4-23h0m3-15h0m4 8h0m0 58h0m-1 9h0m1 17h0m7 0h0m-1 7h0m-5 3h0m-2 8h0m-2 1h0m2 7h0m7 2h0m-12 9h0m11 5h0m-8 18h0m6 4h0m1 0h0m-8 8h0m10 9h0m-7 9h0m3 19h0m-8 7h0m0 18h0m8 5h0m-3 0h0m6 40h0m3 17h0m-14 0h0m0 47h0m4 28h0m-2 32h0m20-19h0m-4-60h0m4-9h0m-4-31h0m3-9h0m-3-50h0m0-19h0m1-18h0m1-26h0m11-9h0m-12-56h0m1-6h0m7-4h0m-9 0h0m-1-4h0m3 0h0m3-29h0m-3-4h0m20-85h0m5 22h0m-1 35h0m1 4h0m-1 15h0m-7 2h0m-5 3h0m7 0h0m8 3h0m-6 10h0m-3 24h0m3 3h0m-5 1h0m5 1h0m5 17h0m-11 2h0m10 11h0m-1 12h0m-3 4h0m-9 6h0m10 4h0m-6 1h0m7 0h0m-6 18h0m1 7h0m5 10h0m3 2h0m-4 23h0m-9 0h0m13 5h0m-1 1h0m-4 0h0m6 20h0m-3 8h0m0 67h0m-5 25h0m4 5h0m3 87h0m5-48h0m1-16h0m3-37h0m-1-54h0m-6-15h0m2-22h0m1-22h0m9-1h0m-7-37h0m-4-26h0m1-4h0m3-61h0m-4-20h0m2-3h0m8-3h0m-8-1h0m-2-35h0m5-22h0m20 59h0m-3 2h0m3 49h0m5 20h0m-5 8h0m0 21h0m-9 7h0m3 6h0m7 12h0m4 25h0m-5 42h0m3 9h0m-11 28h0m10 14h0m-6 28h0m4 10h0m18 8h0m-1-76h0m-11-18h0m4-37h0m7-14h0m0-18h0m-4-1h0m5-6h0m3-2h0m-14-3h0m9-9h0m-2-31h0m4-4h0m1-20h0m-7-14h0m-1-1h0m0-12h0m-2-7h0m-3-14h0m16-4h0m14 19h0m-10 14h0m-1 8h0m-1 2h0m6 2h0m-4 7h0m2 26h0m9 6h0m-13 31h0m13 7h0m-12 28h0m1 18h0m0 18h0m7 6h0m3 9h0m-6 13h0m-5 16h0m6 7h0m19-26h0m1-8h0m-11-1h0m6-24h0m5-32h0m-6-28h0m4-2h0m4-1h0m-14-1h0m13 0h0m0-18h0m-6-12h0m7-16h0m-10-5h0m-2-3h0m11-14h0m-4-4h0m-2 0h0m-5-3h0m-3-4h0m6 0h0m-1-2h0m20-75h0m3 5h0m1 1h0m-9 49h0m2 14h0m7 1h0m-3 1h0m-7 1h0m2 1h0m4 2h0m6 7h0m-9 2h0m-3 8h0m9 14h0m-10 1h0m4 1h0m-1 4h0m7 0h0m-4 23h0m3 1h0m-2 5h0m-8 6h0m6 13h0m-1 4h0m4 1h0m-5 6h0m6 46h0m-6 31h0m0 7h0m8 2h0m-8 3h0m4 17h0m-2 16h0m1 9h0m1 30h0m1 25h0m-5 40h0m2 12h0m19 27h0m5-106h0m-14-13h0m4-37h0m1-41h0m9-4h0m-14-32h0m3-16h0m-4-1h0m13-7h0m-4-5h0m2-1h0m-1-4h0m0-9h0m-9-10h0m6-4h0m2-4h0m-3-15h0m-4-24h0m13-17h0m-7-9h0m-7-52h0m7-18h0m21 65h0m-10 9h0m5 2h0m-3 1h0m5 3h0m-6 4h0m10 0h0m1 13h0m-1 29h0m-10 1h0m3 14h0m-7 67h0m9 16h0m-6 33h0m7 5h0m-1 15h0m0 39h0m7 104h0m12-94h0m-4-27h0m-4-24h0m5-2h0m-8-9h0m14-29h0m-4-18h0m-4-63h0m6-13h0m-1-20h0m-7-25h0m6-3h0m4-45h0m-5-7h0m0-1h0m0-5h0m-6-14h0m4-4h0m13-16h0m-5 45h0m2 13h0m-2 18h0m12 8h0m-11 2h0m3 3h0m-2 12h0m1 24h0m4 24h0m-6 22h0m0 67h0m10 11h0m-9 34h0m43-318h0m2 51h0m-5 45h0m3 57h0m-1 24h0m-6 81h0m8 49h0m-11 20h0m2 69h0m16-48h0m0-10h0m-1-25h0m0-12h0m-1-27h0m3-10h0m9-6h0m-14 0h0m5-2h0m4-7h0m-7-31h0m0-14h0m-3-15h0m10-7h0m-5-19h0m-3-5h0m6-37h0m6-6h0m-1-5h0m-9-10h0m3-7h0m-5 0h0m7-9h0m-8-6h0m5-12h0m-1-10h0m-5-20h0m10-3h0m-4-1h0m1-7h0m-1-6h0m-5-10h0m28 81h0m1 23h0m-5 16h0m-6 1h0m6 23h0m6 11h0m-11 127h0m8 22h0m1 8h0m-1 36h0m-4 20h0m19-151h0m-11-19h0m9-30h0m-6-64h0m26-44h0m-10 20h0m11 6h0m1 33h0m-1 7h0m-3 22h0m-7 1h0m7 13h0m3 83h0m-11 11h0m2 49h0m9 51h0m17 63h0m-2-105h0m-10-12h0m4 0h0m5-31h0m-7-2h0m2-9h0m-6-18h0m10-36h0m-2-2h0m-3-13h0m6-2h0m-12-9h0m4-28h0m6-8h0m-7-16h0m4-19h0m-3-21h0m1 0h0m5-2h0m-5-20h0m1-16h0m17 58h0m7 20h0m-2 6h0m-1 15h0m1 12h0m-3 23h0m-7 6h0m-1 45h0m11 45h0m-5 20h0m4 13h0m-3 81h0m23-32h0m-1-134h0m-5-23h0m15-85h0m-2 18h0m3 25h0m-2 55h0m-3 65h0m19-169h0m-7-49h0m28 151h0m4 64h0m1-5h0m5-14h0m7-9h0m-4-23h0m-3-109h0m22-2h0m-2 63h0m0 39h0m2 252h0m10 45h0m9-56h0m-15-6h0m3-331h0m3-64h0m67 86h0m4-10h0m-1-7h0m-1-7h0m2-13h0m0-19h0m34 327h0m-3-37h0m-4-125h0m34-110h0m-1-1h0m2-26h0m5 0h0m4 16h0m-1 10h0m34 106h0m57 217h0m2-211h0"/>
<path stroke="#6bea34" d="M141 250h0m-2 31h0m1 181h0m1 92h0m41-88h0m6-32h0m-3-33h0m6-64h0m-2-54h0m-6-5h0m7-36h0m15-54h0m-7 31h0m-5 9h0m12 26h0m2 3h0m-8 6h0m7 2h0m1 8h0m-7 10h0m-7 47h0m15 25h0m3 0h0m5-35h0m-5-20h0m-1-16h0m2-1h0m-3-20h0m2-9h0m0-27h0m2-10h0m-1-17h0m-4-15h0m29 5h0m-10 18h0m-3 38h0m14 23h0m-4 8h0m1 23h0m-2 6h0m2 7h0m-6 1h0m6 22h0m1 10h0m-8 3h0m-2 4h0m12 3h0m-11 2h0m11 82h0m0 58h0m-6 7h0m4 101h0m3 7h0m-2 20h0m-1 3h0m5 4h0m3-309h0m4-33h0m23-104h0m-2 88h0m-5 173h0m4 124h0m14 52h0m-1-6h0m2-69h0m-3-53h0m4-4h0m-3-26h0m4-12h0m-7-39h0m5-26h0m0-7h0m0-6h0m-4-26h0m5-24h0m-6-1h0m0-3h0m8-39h0m-10-5h0m10-8h0m1-11h0m0-51h0m-4-5h0m-4-2h0m0-9h0m3-1h0m1-1h0m-3-14h0m-2-11h0m12 18h0m-2 21h0m6 124h0m2 108h0m-5 4h0m-3 103h0m29 68h0m-7-106h0m9-109h0m-9-6h0m3-14h0m0-8h0m-4-2h0m2-5h0m1-15h0m3-2h0m-9-18h0m3-27h0m-4-11h0m8 0h0m4 0h0m-1-37h0m-2-2h0m1-3h0m4-74h0m14 24h0m2 128h0m-10 11h0m3 25h0m-5 98h0m9 31h0m-7 95h0m-2 18h0m8 34h0m19-102h0m-14-57h0m12-16h0m3-9h0m-4-6h0m-5-44h0m0-1h0m8-28h0m-2-28h0m3-3h0m-2 0h0m-3-1h0m-3-20h0m1-16h0m-3-4h0m10-13h0m-1-17h0m-3-1h0m1-1h0m-6-21h0m9-10h0m-2-54h0m-6-28h0m16 31h0m-5 16h0m7 4h0m-4 12h0m4 8h0m-1 24h0m0 7h0m-3 1h0m-4 2h0m10 2h0m-11 22h0m5 41h0m-5 14h0m3 2h0m-1 11h0m-1 5h0m5 14h0m2 6h0m-1 8h0m4 16h0m-9 7h0m8 51h0m-10 25h0m7 14h0m-5 12h0m3 25h0m2 37h0m24 45h0m-8-59h0m2-60h0m-1-25h0m0-2h0m3-4h0m-10-5h0m14-6h0m-5-1h0m3-3h0m-5-8h0m6-56h0m-13-7h0m9-11h0m0-19h0m0 0h0m0-10h0m2-27h0m3-13h0m-7-8h0m-8-37h0m11-7h0m1 0h0m3-1h0m-9-13h0m6-10h0m0-5h0m2 0h0m1-24h0m-4-6h0m-3-2h0m-1-9h0m19-2h0m-6 8h0m-2 12h0m6 2h0m-8 1h0m2 73h0m12 32h0m-10 18h0m-4 10h0m15 37h0m-7 33h0m5 54h0m-10 20h0m4 1h0m-5 22h0m1 2h0m-2 1h0m2 23h0m27 121h0m0-64h0m-12-64h0m8-21h0m2-9h0m-10 0h0m12-9h0m-11-74h0m6-7h0m-2-7h0m-4-2h0m0-17h0m10-24h0m-2-9h0m3-9h0m-1-12h0m-7-2h0m7-10h0m-4 0h0m4-16h0m-3-8h0m1-3h0m-9-37h0m15-41h0m5 20h0m8 1h0m-4 12h0m1 12h0m-8 41h0m5 10h0m-6 17h0m1 10h0m12 2h0m-13 1h0m7 20h0m-5 14h0m-1 3h0m-2 10h0m10 1h0m3 29h0m0 21h0m1 6h0m-1 59h0m0 11h0m0 47h0m-11 24h0m1 79h0m1 2h0m18-11h0m8-8h0m-1-40h0m-10-24h0m7-16h0m-3-5h0m-6-17h0m9-18h0m-1-23h0m-3-4h0m-2-17h0m-5-4h0m10-13h0m2-4h0m-8-24h0m6-25h0m-9-1h0m12-7h0m-9-1h0m7-3h0m-8-2h0m7-6h0m-7-2h0m9-6h0m-8-1h0m10-11h0m-6-12h0m1-11h0m4 0h0m-11-15h0m2-2h0m7-1h0m-4-3h0m0-14h0m-3-1h0m-2-2h0m9-11h0m1-3h0m1-8h0m-11-4h0m2-5h0m10-5h0m-7-7h0m4-29h0m-9-9h0m1-43h0m18 63h0m-5 7h0m13 6h0m-13 2h0m13 11h0m-5 2h0m-6 1h0m3 13h0m4 3h0m-1 12h0m1 7h0m3 4h0m-8 1h0m4 53h0m7 2h0m-12 12h0m5 1h0m-2 4h0m5 1h0m-8 4h0m3 3h0m7 7h0m1 64h0m-14 4h0m7 24h0m-4 4h0m12 12h0m-8 23h0m7 4h0m0 25h0m-4 0h0m3 5h0m-12 2h0m19 24h0m10-18h0m-8-45h0m-3-4h0m1-17h0m3-51h0m1-31h0m1-20h0m5-9h0m-4-1h0m-8-15h0m7-11h0m-1-1h0m-7-1h0m-1-7h0m3-3h0m3-15h0m3-13h0m-3-6h0m7-1h0m-10-13h0m10-15h0m-6-5h0m1-3h0m0-3h0m6-6h0m-8-10h0m-3-30h0m7-25h0m-6-5h0m3-1h0m-6-5h0m8-11h0m10 52h0m-1 23h0m4 1h0m9 44h0m-4 5h0m-6 3h0m-1 1h0m-1 4h0m6 13h0m2 6h0m-8 15h0m11 5h0m-13 11h0m8 18h0m4 34h0m-11 0h0m-1 0h0m10 6h0m-2 8h0m-6 13h0m12 17h0m-6 28h0m-9 2h0m6 3h0m1 23h0m-1 72h0m0 14h0m12-144h0m6-41h0m-5-20h0m-1-15h0m6-24h0m-2-8h0m-5-1h0m-1-10h0m15-3h0m-15-21h0m3-7h0m7-27h0m-3-11h0m7-14h0m1-21h0m-14-24h0m3-30h0m7-5h0m20 31h0m-3 13h0m0 15h0m2 19h0m-1 10h0m-8 5h0m8 69h0m2 9h0m-2 12h0m-1 4h0m-1 27h0m-2 1h0m3 45h0m2 5h0m-5 12h0m3 2h0m-11 6h0m1 8h0m-2 16h0m8 1h0m4 19h0m-3 27h0m0 3h0m6 16h0m-2 3h0m-3 30h0m1 13h0m-1 1h0m7-38h0m0-50h0m0-24h0m1-11h0m2-36h0m0-33h0m0 0h0m-4-8h0m3-6h0m-3 0h0m10-11h0m-3-2h0m-6-13h0m6-15h0m8-8h0m-4-41h0m-7-10h0m9-21h0m-7-49h0m18 43h0m-6 6h0m11 3h0m-11 8h0m9 10h0m-3 3h0m2 10h0m-4 1h0m6 2h0m-3 8h0m0 2h0m4 0h0m-8 5h0m4 8h0m1 39h0m5 8h0m-11 86h0m6 4h0m-3 8h0m3 52h0m-1 40h0m-8 25h0m15-90h0m5-43h0m-5-99h0m1-35h0m7-11h0m-7-16h0m7-11h0m7-29h0m0-16h0m-3-25h0m9 0h0m0 6h0m-1 59h0m4 2h0m-4 8h0m3 3h0m-4 0h0m10 19h0m-7 15h0m1 5h0m1 5h0m1 2h0m-4 1h0m5 6h0m-7 4h0m6 3h0m-8 3h0m11 19h0m-6 4h0m-2 4h0m4 37h0m5 9h0m-2 2h0m1 4h0m2 3h0m-8 14h0m4 34h0m-7 11h0m7 13h0m-3 155h0m12-70h0m9-27h0m-2-7h0m-6-44h0m4-20h0m6-5h0m-1 0h0m-12-3h0m10-44h0m-7-5h0m10-20h0m-7-7h0m-3-17h0m-1-7h0m8-8h0m-9-13h0m9-5h0m-9-1h0m12-49h0m-8-28h0m7-2h0m-3-67h0m21-30h0m-8 22h0m-1 33h0m5 42h0m-11 30h0m13 27h0m-11 20h0m13 1h0m-1 23h0m-6 20h0m3 4h0m-7 14h0m-4 2h0m11 14h0m-2 9h0m5 7h0m-14 25h0m5 49h0m4 39h0m9-2h0m2-71h0m-1-25h0m-2-8h0m-1-66h0m13-37h0m0-7h0m-9 0h0m-2-14h0m0-13h0m-2-1h0m14-23h0m-13-18h0m3-76h0m14 9h0m13 10h0m-2 3h0m1 23h0m-4 9h0m0 2h0m2 22h0m-2 2h0m-5 0h0m6 34h0m2 0h0m-1 4h0m1 3h0m-7 25h0m-3 8h0m4 14h0m3 0h0m-1 6h0m-3 17h0m-1 3h0m9 10h0m-11 87h0m10 2h0m-10 3h0m-1 25h0m8 12h0m17-7h0m4-19h0m-12-29h0m7-7h0m-1-7h0m-5-3h0m0-9h0m5-10h0m-2-6h0m2-32h0m-5-19h0m-3-13h0m4-1h0m1-7h0m6-13h0m-10-39h0m10-5h0m2-6h0m-5-16h0m-7-3h0m9-4h0m-10-12h0m12-2h0m-10-1h0m1-8h0m-1-9h0m0-12h0m16 22h0m-1 5h0m2 34h0m-3 6h0m13 9h0m-11 4h0m-1 20h0m-2 20h0m4 14h0m-4 1h0m9 31h0m-9 6h0m13 28h0m-7 8h0m-3 60h0m-1 92h0m28-24h0m-9-70h0m-5-6h0m10-26h0m5 0h0m-6-6h0m5-7h0m-12-4h0m8-10h0m-10-3h0m5-46h0m0-2h0m4-4h0m-2-7h0m0-1h0m2-18h0m4-9h0m-11 0h0m2-17h0m-1-5h0m-3-4h0m6-12h0m2-11h0m5-41h0m16-78h0m2 25h0m-4 1h0m-1 1h0m5 2h0m-7 12h0m-7 32h0m10 3h0m-8 42h0m2 5h0m8 20h0m-9 7h0m11 0h0m-8 23h0m7 7h0m1 2h0m-3 0h0m0 14h0m-2 17h0m-6 6h0m-4 19h0m9 16h0m0 5h0m5 3h0m-4 10h0m2 5h0m2 9h0m-12 13h0m11 31h0m-10 10h0m9 2h0m-12 1h0m0 6h0m15 10h0m-13 21h0m13 2h0m-14 3h0m13 1h0m-5 7h0m-3 5h0m1 1h0m4 46h0m-3 25h0m22-32h0m-14-43h0m14-20h0m-14-20h0m8-25h0m4-3h0m2-18h0m-4-6h0m0-47h0m-10-65h0m11-35h0m-10-3h0m13-12h0m1-1h0m-1-4h0m-13-50h0m-1-6h0m5-6h0m21 11h0m-7 56h0m-1 20h0m11 17h0m1 23h0m-1 9h0m1 10h0m-3 2h0m2 1h0m-3 43h0m4 7h0m-2 13h0m-12 2h0m14 2h0m-6 17h0m-7 37h0m10 19h0m-6 45h0m-4 6h0m1 1h0m27 69h0m-4-79h0m-6-46h0m3-2h0m1-7h0m5-30h0m3-26h0m-12-24h0m-2 0h0m9-14h0m-9-31h0m5-9h0m3-8h0m1-9h0m1-11h0m-4-4h0m4-8h0m-1-4h0m0-3h0m-7-20h0m11-3h0m1-1h0m-8-8h0m5-10h0m-3-1h0m-8-17h0m14-4h0m-9-23h0m1-10h0m0-27h0m6-24h0m6 13h0m6 51h0m-8 18h0m8 74h0m16 236h0m-1-128h0m20-223h0m3 76h0m-5 41h0m-7 17h0m-3 36h0m15 9h0m-13 14h0m8 40h0m3 4h0m-9 10h0m6 22h0m1 17h0m10-27h0m3-1h0m-7-10h0m13-9h0m-7-3h0m-7-1h0m10-3h0m5-4h0m-9-4h0m-3-10h0m3-7h0m-1-10h0m1-18h0m-6-24h0m5-3h0m0-13h0m-4-2h0m7-19h0m5-12h0m-4-5h0m-1-12h0m1-25h0m2-3h0m-9-18h0m7-4h0m0-23h0m-7-17h0m5-2h0m-4-2h0m3-28h0m7-2h0m-4-8h0m-5-4h0m-1-20h0m-3-9h0m0-12h0m30 134h0m-10 1h0m-3 58h0m9 14h0m-5 167h0m-5 2h0m23 101h0m8-205h0m-15-99h0m10-33h0m21 7h0m-6 41h0m1 29h0m3 38h0m0 8h0m-1 13h0m1 1h0m0 31h0m1 53h0m-6 105h0m2 71h0m10-87h0m0-14h0m1-88h0m-5-25h0m2-6h0m3-14h0m7-27h0m-12-6h0m13-1h0m-2-14h0m-5-1h0m2-30h0m-1-21h0m-6-12h0m3-22h0m0-12h0m-4-5h0m10-9h0m-8-6h0m-2-20h0m9-14h0m-7-20h0m20 75h0m-3 12h0m6 2h0m-6 3h0m4 38h0m-3 3h0m-2 1h0m6 17h0m-6 26h0m6 31h0m-4 29h0m-1 12h0m4 131h0m24 40h0m-15-245h0m13-121h0m10-14h0m6 40h0m-1 23h0m-3 13h0m-3 55h0m1 18h0m-6 54h0m15-173h0m27 107h0m13-23h0m-2-38h0m9-24h0m-11-2h0m5-49h0m22 1h0m-8 74h0m1 14h0m4 7h0m0 39h0m-2 41h0m-5 22h0m8 135h0m-2 49h0m2 2h0m4-13h0m11-5h0m-3-25h0m-9-6h0m8-3h0m-3-70h0m-5-167h0m0-89h0m74 4h0m8-17h0m22 325h0m2-24h0m36-195h0m-1-29h0m3-57h0m93 369h0m6-405h0"/>
<path stroke="#52e747" d="M138 471h0m-1 124h0m7-121h0m45-200h0m1-56h0m-1-3h0m16-57h0m1 41h0m-12 90h0m1 32h0m8 6h0m-4 38h0m-3 82h0m10 114h0m17-260h0m-15-61h0m6-1h0m-5-12h0m2-77h0m20 49h0m6 28h0m-7 40h0m8 294h0m0 108h0m6-3h0m6-91h0m-4-25h0m0-12h0m-2-304h0m24 88h0m-2 46h0m3 87h0m-1 7h0m1 4h0m16 60h0m-12-14h0m8-28h0m2-43h0m-8-11h0m5 0h0m-2-23h0m-4-18h0m8-7h0m-2-60h0m-1-63h0m-6-2h0m8-21h0m0-32h0m-6-6h0m6-16h0m7 140h0m1 11h0m2 11h0m1 6h0m1 20h0m5 73h0m2 97h0m3 3h0m15 45h0m-2-6h0m-7-52h0m3-3h0m5-14h0m-11-32h0m9-17h0m-7-38h0m11-31h0m-1-23h0m1-2h0m-5-11h0m0-5h0m5-2h0m-12-9h0m7-10h0m-1-19h0m6-2h0m-6-1h0m4-18h0m1-5h0m-4-24h0m4-15h0m-5-1h0m10-48h0m-3 45h0m3 28h0m-1 8h0m-1 10h0m-1 33h0m9 9h0m0 42h0m1 73h0m-7 17h0m9 78h0m-12 9h0m27 25h0m-4-41h0m7-1h0m-10-96h0m7-21h0m-10-8h0m5-44h0m7-2h0m-5-11h0m2-7h0m-2-5h0m6-17h0m-2-41h0m-7-4h0m5-16h0m-7-72h0m28 42h0m-8 14h0m1 20h0m-5 19h0m-1 12h0m-1 32h0m0 14h0m3 3h0m-4 16h0m7 5h0m-1 48h0m-5 27h0m14 13h0m-7 19h0m3 5h0m-11 20h0m2 4h0m5 1h0m-7 22h0m3 48h0m10 16h0m16 3h0m-1-37h0m-4-31h0m2-44h0m1-24h0m-5-1h0m9-17h0m-5-10h0m3-5h0m-11-11h0m11-13h0m0-20h0m-11-14h0m13-6h0m-12-8h0m11-31h0m1-7h0m-10-15h0m1-49h0m5-61h0m8-3h0m-2 11h0m2 25h0m8 41h0m-1 11h0m-10 10h0m6 23h0m4 49h0m-10 14h0m7 5h0m1 43h0m-3 47h0m-3 24h0m7 57h0m-7 10h0m0 13h0m20 113h0m7-37h0m-10-36h0m7-3h0m-8-11h0m7-15h0m-7-50h0m0-9h0m10-14h0m-8-14h0m4-4h0m3-19h0m-3-5h0m1-21h0m-9-16h0m5-4h0m3-12h0m4-5h0m-3-12h0m4-35h0m-13-6h0m13-20h0m-1-1h0m-2-29h0m3-49h0m-8-33h0m2-26h0m6-16h0m6 161h0m12 18h0m-10 3h0m1 15h0m-1 27h0m-3 26h0m10 28h0m-7 32h0m3 9h0m-4 8h0m-2 24h0m1 14h0m-2 0h0m14 44h0m13 126h0m-3-91h0m3-35h0m-1-20h0m-5-9h0m8-7h0m-1-6h0m-4-55h0m4-8h0m0-1h0m-12-1h0m9-26h0m-7-39h0m-1-7h0m11-6h0m-13-5h0m6-1h0m6 0h0m-4-8h0m1-20h0m-5-19h0m2-23h0m2-29h0m-3-1h0m9-27h0m-2-4h0m-5-21h0m5-27h0m-6-14h0m15 60h0m-4 13h0m2 41h0m-2 2h0m0 22h0m4 45h0m6 4h0m1 9h0m-1 13h0m-3 5h0m-7 3h0m2 1h0m7 10h0m-3 2h0m-3 6h0m-4 9h0m13 1h0m-7 40h0m4 7h0m1 6h0m-9 13h0m8 4h0m1 11h0m-7 1h0m-1 2h0m5 2h0m-8 21h0m1 2h0m4 31h0m-3 14h0m19-17h0m10-28h0m-14-6h0m8-14h0m-1-10h0m2-3h0m-10-52h0m6-18h0m5-21h0m2-11h0m-13-9h0m0-11h0m10-2h0m-7-13h0m0-6h0m6-7h0m2-72h0m-3-8h0m0-6h0m7-39h0m-12-5h0m5-5h0m3-14h0m4-8h0m-4-5h0m1 0h0m-1-17h0m-8-1h0m9-2h0m12 56h0m-5 29h0m0 47h0m7 36h0m-2 0h0m-7 7h0m8 11h0m0 2h0m-5 7h0m6 19h0m-10 19h0m14 7h0m-14 19h0m2 18h0m6 27h0m-1 5h0m-1 8h0m3 59h0m-8 10h0m5 63h0m10-233h0m6-1h0m-1-22h0m3-42h0m1-6h0m-2-2h0m5-6h0m-12-3h0m15-7h0m-6-9h0m-9-6h0m0-10h0m3-48h0m12-5h0m1-17h0m8 13h0m5 2h0m-11 27h0m4 46h0m5 6h0m-11 32h0m14 7h0m-2 36h0m2 15h0m-13 4h0m8 1h0m-5 13h0m10 17h0m-7 37h0m-7 6h0m14 13h0m-2 46h0m0 14h0m-4 2h0m-4 15h0m7 65h0m9 13h0m-4-57h0m0-13h0m10-50h0m-9-17h0m1-42h0m-1-103h0m7-3h0m5-28h0m-11-3h0m25-72h0m-6 5h0m1 17h0m0 61h0m7 28h0m1 12h0m-4 2h0m-3 12h0m5 143h0m-2 24h0m-8 162h0m23-72h0m-8-107h0m0-35h0m7-8h0m2-4h0m-5-21h0m5-1h0m-7-10h0m2-3h0m-2-14h0m9-43h0m-10-35h0m9-37h0m0-109h0m3-13h0m8 38h0m-2 7h0m-1 11h0m1 9h0m0 3h0m3 6h0m4 1h0m-3 22h0m-2 18h0m-4 3h0m10 14h0m-6 1h0m6 8h0m-12 3h0m11 1h0m-7 1h0m3 18h0m2 2h0m-1 19h0m1 7h0m3 13h0m2 10h0m-8 8h0m2 6h0m-4 15h0m-1 6h0m4 7h0m1 10h0m-1 5h0m-7 2h0m10 31h0m2 19h0m3 10h0m-3 31h0m12 124h0m4-76h0m-10-17h0m5-42h0m-7-9h0m13-2h0m-10-12h0m-3-23h0m10-15h0m2-30h0m0-13h0m-3-3h0m-3 0h0m2-2h0m-5-28h0m1-1h0m-2-8h0m0-4h0m-1-18h0m0-4h0m14-19h0m-5-23h0m-2-9h0m4-100h0m16-43h0m-12 6h0m15 55h0m-5 18h0m-1 8h0m-1 11h0m-1 2h0m6 15h0m-4 4h0m-8 6h0m4 4h0m9 2h0m0 32h0m-8 8h0m7 2h0m1 14h0m-7 26h0m4 23h0m-3 43h0m0 12h0m7 0h0m-2 9h0m2 12h0m-4 84h0m3 59h0m-12 8h0m21-63h0m-4-15h0m3-16h0m-3-43h0m-1-11h0m4-32h0m3-12h0m1-155h0m-10-6h0m3-19h0m10-26h0m-4-3h0m-4-15h0m-4-33h0m-1-41h0m28 88h0m-6 3h0m8 22h0m-3 28h0m-2 29h0m0 2h0m2 7h0m2 4h0m-1 9h0m2 4h0m-3 14h0m1 34h0m-6 1h0m0 1h0m0 43h0m9 5h0m-6 1h0m-5 42h0m-1 46h0m5 32h0m7 3h0m-3 19h0m0 83h0m6-95h0m1-9h0m8-12h0m-8-13h0m4-69h0m1-5h0m-6-1h0m8-9h0m-1-15h0m-3-1h0m-3-16h0m11-2h0m-8-4h0m6-3h0m-3-25h0m-1-40h0m-3-26h0m6-3h0m-10-3h0m6-56h0m7-13h0m-9-15h0m16 5h0m-3 18h0m-1 13h0m2 12h0m-2 8h0m7 1h0m6 0h0m-14 18h0m12 11h0m-10 5h0m3 10h0m-4 2h0m5 12h0m-5 9h0m9 38h0m4 7h0m-11 11h0m1 10h0m-4 9h0m12 16h0m-10 17h0m11 6h0m-10 23h0m-1 32h0m-2 63h0m27-82h0m3-20h0m0-20h0m-9-25h0m-1-19h0m6-40h0m4 0h0m-3-9h0m-7-10h0m-1-15h0m-2-17h0m12-50h0m-4-1h0m-3-22h0m10-80h0m15 13h0m-2 21h0m-3 5h0m5 49h0m-1 0h0m-6 5h0m2 3h0m-9 17h0m6 23h0m2 6h0m-4 27h0m0 0h0m-4 13h0m9 0h0m3 11h0m-11 39h0m11 16h0m-11 13h0m8 4h0m1 9h0m0 13h0m-4 0h0m5 7h0m0 4h0m-2 4h0m-7 24h0m0 4h0m2 5h0m-1 21h0m3 3h0m3 2h0m-7 46h0m6 0h0m2 12h0m13 64h0m-4-39h0m0-16h0m2-27h0m5-74h0m4-26h0m-1-19h0m-5 0h0m-2-13h0m-6-5h0m14-31h0m-5-55h0m16-86h0m1 1h0m1 24h0m-11 19h0m6 18h0m-4 53h0m12 3h0m-5 16h0m4 24h0m-9 21h0m0 7h0m4 4h0m1 8h0m-7 39h0m-3 12h0m2 55h0m-1 19h0m8 13h0m-5 16h0m-2 22h0m25-1h0m-2-65h0m6-29h0m-7-12h0m2-97h0m-7-3h0m-2-35h0m-1-30h0m0-13h0m6-9h0m7-47h0m-9-7h0m10 0h0m0-35h0m-11-7h0m13 76h0m15 10h0m-14 149h0m3 44h0m5 11h0m18 8h0m4-122h0m16-240h0m-1 56h0m1 1h0m-1 12h0m0 4h0m-9 114h0m8 1h0m-6 5h0m8 10h0m-6 6h0m1 4h0m-9 0h0m11 26h0m3 17h0m-9 5h0m-2 6h0m7 2h0m1 8h0m-12 0h0m6 12h0m2 10h0m6 6h0m-9 2h0m2 6h0m8 14h0m-3 190h0m5-146h0m6-7h0m1-24h0m-4-9h0m9-2h0m-12-6h0m6-42h0m-4-9h0m3-6h0m-4-9h0m-2-33h0m13-16h0m-6-24h0m-6-11h0m8-10h0m1-3h0m-3-16h0m1-4h0m-5-6h0m-1-90h0m5-4h0m-7-64h0m18 59h0m8 12h0m-10 210h0m7 13h0m-5 100h0m11 20h0m4 70h0m3-20h0m-3-84h0m-1-170h0m2-34h0m12-41h0m13 22h0m-9 13h0m9 3h0m-2 57h0m5 0h0m1 9h0m-1 22h0m-3 49h0m-2 72h0m2 16h0m3 2h0m-1 42h0m16 48h0m0-20h0m1-13h0m-2-72h0m-2-12h0m-4-31h0m3-52h0m2-9h0m-5-14h0m8-1h0m-6-23h0m-2-17h0m6-52h0m-5-12h0m-4-17h0m1-23h0m-4-6h0m1-4h0m1-16h0m24 22h0m-9 17h0m3 37h0m0 5h0m-2 28h0m4 3h0m8 24h0m-13 14h0m10 11h0m-5 41h0m-6 35h0m10 30h0m-8 6h0m28-10h0m-2-97h0m3-146h0m4 38h0m1 58h0m1 75h0m2 5h0m-6 33h0m3 134h0m43-343h0m13 149h0m12-206h0m1 126h0m-8 12h0m14 108h0m-2 19h0m-1 65h0m1 88h0m-8 42h0m12 18h0m2-59h0m7-16h0m-7-2h0m0-107h0m-2-171h0m5-43h0m2-10h0m-7-23h0m50 161h0m21-120h0m4-13h0m66 47h0m0-30h0m-2-31h0m5 25h0m5 6h0m23 107h0m65-29h0m-3-161h0m5 202h0"/>
<path stroke="#42e757" d="M141 234h0m4-20h0m37 257h0m4-39h0m3-147h0m-1-34h0m2-6h0m7-21h0m1 5h0m9 4h0m-10 20h0m1 13h0m-3 31h0m-3 4h0m30 289h0m-13-227h0m11-141h0m15-23h0m1 150h0m3 66h0m5 229h0m-2-42h0m4-54h0m-5-30h0m30-132h0m-4 11h0m-3 61h0m5 47h0m-10 6h0m6 3h0m12 48h0m5-32h0m-4-18h0m3-10h0m5-28h0m-13-5h0m8-113h0m3-3h0m-3-10h0m5-26h0m-11-56h0m9-32h0m7 236h0m10 14h0m-13 26h0m11 83h0m7 11h0m3-38h0m1-28h0m3-18h0m4-12h0m-5-27h0m0-39h0m7-64h0m-4-25h0m4-26h0m-6-3h0m5-2h0m-12-14h0m8-4h0m3-24h0m-9-23h0m13 38h0m1 71h0m1 6h0m-3 25h0m14 88h0m-9 16h0m15 130h0m1-49h0m7-6h0m0-173h0m-1-49h0m1-17h0m3-29h0m-4-125h0m18 19h0m-4 119h0m5 70h0m-4 4h0m-10 69h0m15 14h0m-3 37h0m3 12h0m-11 5h0m5 46h0m0 16h0m-6 12h0m20-14h0m8-1h0m-7-4h0m-2-47h0m-4-11h0m13-13h0m-9-55h0m7-6h0m-6-32h0m5-29h0m-2-88h0m2-9h0m-2-3h0m-8-87h0m3-12h0m15 22h0m1 44h0m4 5h0m-9 31h0m6 96h0m6 15h0m-9 56h0m5 13h0m1 1h0m-8 37h0m-1 48h0m2 23h0m7 22h0m-1 24h0m23 89h0m-6-96h0m-1-29h0m-2-71h0m4-66h0m4-21h0m-11-35h0m9-48h0m-8-96h0m3-37h0m24-5h0m-11 157h0m-2 4h0m13 22h0m-2 49h0m-11 2h0m11 58h0m2 13h0m-11 14h0m-3 15h0m12 20h0m-5 29h0m18 24h0m-5-14h0m6-14h0m-1-32h0m-3-7h0m7-4h0m-14-2h0m8-7h0m-1-23h0m2-4h0m-1-14h0m-7-16h0m10-9h0m2-8h0m1-11h0m-6-9h0m6-32h0m1-27h0m-3-14h0m-9-120h0m11-4h0m-3-20h0m-11-28h0m26 32h0m-3 17h0m8 39h0m-12 20h0m2 39h0m-2 0h0m5 8h0m-3 10h0m4 7h0m4 4h0m-4 11h0m-1 2h0m-8 16h0m4 3h0m6 5h0m-5 27h0m6 20h0m-10 3h0m12 8h0m2 3h0m-9 13h0m9 23h0m-5 12h0m-7 10h0m9 6h0m-7 6h0m-2 2h0m8 14h0m-2 20h0m2 3h0m-10 17h0m1 112h0m20-70h0m9-12h0m-5-2h0m-6-11h0m10 0h0m-1-11h0m-6-8h0m0 0h0m-5-7h0m5-7h0m4-13h0m-9-29h0m9-6h0m-1-6h0m-9-10h0m12-8h0m-5 0h0m6-3h0m0-9h0m-7-10h0m-1-24h0m7-9h0m-4-16h0m2-2h0m0-29h0m4-2h0m-15-18h0m9-1h0m4-6h0m-4-23h0m3-6h0m1-8h0m-4-4h0m-5-9h0m-2-42h0m6-18h0m-3-13h0m6-5h0m-8-9h0m-1-18h0m4-35h0m12 63h0m4 6h0m-1 8h0m5 33h0m-8 33h0m1 34h0m6 0h0m-9 5h0m8 28h0m-7 11h0m12 49h0m-2 2h0m-2 4h0m1 14h0m-2 3h0m3 11h0m-4 0h0m-7 5h0m0 26h0m4 7h0m-1 6h0m-1 5h0m-1 105h0m11 10h0m5-41h0m2-70h0m2-196h0m1-16h0m8-1h0m-10-13h0m6-56h0m-7-14h0m25-17h0m-6 44h0m5 31h0m4 53h0m-6 76h0m-3 19h0m5 1h0m0 15h0m2 17h0m-5 30h0m6 6h0m0 11h0m-4 9h0m-4 12h0m-1 8h0m8 85h0m-1 10h0m3 30h0m-12 21h0m24-142h0m4-39h0m-11-17h0m-1-22h0m10-145h0m-2-59h0m-8-54h0m20 31h0m-3 72h0m-2 1h0m11 24h0m1 7h0m-3 7h0m-1 8h0m3 102h0m-10 25h0m4 27h0m-2 10h0m6 4h0m4 12h0m-3 64h0m2 19h0m-13 12h0m9 18h0m14-100h0m1-77h0m-8-57h0m8-19h0m5-21h0m-1-8h0m1-5h0m-13-115h0m13-7h0m9-22h0m-5 19h0m5 1h0m-4 42h0m12 0h0m-12 7h0m3 18h0m2 2h0m-5 4h0m3 8h0m-4 3h0m7 17h0m-9 14h0m0 17h0m3 13h0m-1 12h0m10 17h0m-9 17h0m7 4h0m-7 19h0m3 3h0m-6 23h0m7 30h0m-1 12h0m-6 10h0m14 15h0m9 63h0m1-23h0m-4-72h0m7-35h0m-7-5h0m4-6h0m-2-16h0m7-33h0m-10-15h0m1-18h0m9-10h0m-11-22h0m-2-17h0m2-5h0m6-32h0m-7-2h0m8-28h0m-4-8h0m-2-2h0m9-8h0m15-73h0m4 69h0m-14 34h0m7 1h0m6 12h0m-9 18h0m-3 5h0m-1 4h0m7 29h0m7 71h0m-12 36h0m1 32h0m-4 14h0m8 44h0m7 48h0m0 49h0m6-109h0m-2-5h0m-3-6h0m7-3h0m0-49h0m4-21h0m-11-95h0m8-137h0m20 42h0m-3 6h0m-4 1h0m1 23h0m-2 12h0m6 2h0m5 44h0m-1 1h0m-6 13h0m6 53h0m-1 3h0m-5 12h0m0 15h0m3 5h0m4 16h0m-9 37h0m2 2h0m2 5h0m0 32h0m-8 42h0m8 9h0m0 25h0m-7 15h0m6 11h0m-1 42h0m21-162h0m0-33h0m0-5h0m2-16h0m-1-20h0m-9-8h0m4-4h0m-1-23h0m7-8h0m-3 0h0m1-9h0m-2-14h0m-2-4h0m5-3h0m-10-17h0m1-3h0m0-3h0m-5-16h0m12-2h0m2-4h0m0-5h0m-13-19h0m7-11h0m6-3h0m-11-1h0m12-24h0m-15-22h0m0-7h0m16 36h0m5 10h0m-3 12h0m13 3h0m-5 39h0m3 6h0m-5 14h0m-3 3h0m-1 23h0m1 7h0m-5 2h0m9 1h0m-5 4h0m0 10h0m6 52h0m-8 1h0m-1 2h0m0 4h0m7 39h0m0 0h0m-4 40h0m-2 126h0m0 6h0m26-57h0m1-19h0m1-42h0m-1-4h0m-3-2h0m4-5h0m0-17h0m-9-12h0m8-21h0m2-13h0m-1-111h0m-7-25h0m5-10h0m-8-11h0m11-25h0m-8-2h0m3-43h0m1-8h0m11-20h0m6 28h0m-1 13h0m2 1h0m-5 41h0m-6 1h0m4 29h0m-6 3h0m4 13h0m5 2h0m0 28h0m-2 13h0m-5 14h0m11 10h0m-12 16h0m6 4h0m-4 2h0m8 28h0m2 8h0m-5 26h0m1 10h0m-3 12h0m7 8h0m-11 29h0m25-9h0m-11-11h0m2-11h0m2-13h0m5-10h0m5-27h0m-14-17h0m0-6h0m3-13h0m5-21h0m-3-32h0m-4-11h0m11-119h0m-9-14h0m-1-3h0m14 56h0m11 11h0m2 25h0m-7 40h0m2 17h0m6 59h0m-14 13h0m4 32h0m-3 16h0m1 33h0m24-1h0m-9-6h0m8-1h0m2-30h0m-8-2h0m-3-23h0m1-62h0m14-4h0m-4-17h0m-3-107h0m2-26h0m0-55h0m12 296h0m22 70h0m0-17h0m3-155h0m-4-24h0m12 5h0m1 3h0m-3 19h0m-3 8h0m7 4h0m-1 8h0m3 5h0m2 80h0m2 24h0m0 24h0m4-7h0m6-15h0m-9-27h0m3-24h0m4-50h0m-6-48h0m5-67h0m-3-3h0m-3-18h0m4-45h0m1-37h0m2-38h0m21 367h0m2 56h0m5 77h0m4-92h0m3-52h0m-7-15h0m9-168h0m-11-55h0m28-56h0m1 26h0m-4 85h0m3 83h0m0 37h0m-10 27h0m9 3h0m0 44h0m19 45h0m-5-10h0m-3-36h0m2-18h0m5-5h0m1-4h0m-14-2h0m-1-2h0m2-5h0m-2-83h0m4-4h0m0-4h0m-4-22h0m3-56h0m9-7h0m-8-36h0m-4-13h0m9-8h0m-9-5h0m23 26h0m6 13h0m-12 4h0m5 19h0m1 49h0m-7 68h0m4 23h0m5 39h0m-6 3h0m4 3h0m1 122h0m-3 34h0m24-45h0m-12-51h0m14-148h0m-5-110h0m-2-36h0m12-24h0m3 140h0m-5 84h0m4 25h0m11-13h0m40-28h0m5-70h0m14-147h0m1 249h0m-1 5h0m11 165h0m-5-4h0m6-57h0m0-98h0m2-179h0m-4-18h0m0-12h0m101 229h0m-4-83h0m1-145h0m37-3h0m8-1h0m-3 15h0m30 195h0m58-75h0m2-197h0m8-5h0m-1 25h0m-3 137h0"/>
<path stroke="#31ea6d" d="M143 212h0m46 60h0m17 0h0m-3 376h0m11-30h0m-6-438h0m25 46h0m-7 55h0m5 14h0m-2 212h0m12 84h0m20-377h0m9 273h0m8-7h0m-2-108h0m-2-83h0m8-3h0m9 297h0m27 12h0m-9-69h0m8-9h0m-10-212h0m17 295h0m25-64h0m-5-39h0m6-60h0m-5-45h0m-1-24h0m3-67h0m-8-18h0m24-50h0m-11 72h0m7 16h0m-3 5h0m3 54h0m-4 38h0m-2 14h0m5 64h0m6 13h0m-10 10h0m11 13h0m7 47h0m7-2h0m-1-11h0m2 0h0m-5-16h0m8-99h0m-1-20h0m-5-7h0m6-15h0m-8-17h0m6-23h0m-2-45h0m-6-19h0m0-20h0m9-24h0m0-43h0m6 245h0m-4 7h0m3 40h0m-1 14h0m0 48h0m8 107h0m16-158h0m-3-53h0m-2-236h0m11-32h0m5 58h0m7 109h0m-11 79h0m0 2h0m13 47h0m-8 17h0m-2 6h0m3 40h0m4 135h0m15-84h0m-2-16h0m4-28h0m-9-25h0m1-3h0m9-1h0m-11-1h0m11-3h0m2-4h0m-14-7h0m11-10h0m-2-18h0m4-22h0m-13-46h0m2-25h0m4-11h0m-4-46h0m12-3h0m-9-6h0m0-120h0m9-5h0m5 69h0m5 31h0m-2 17h0m-7 139h0m8 5h0m7 42h0m-6 17h0m-6 18h0m-2 1h0m-1 17h0m7 19h0m-6 2h0m8 0h0m-7 14h0m10 15h0m3 32h0m-15 22h0m20 33h0m11-99h0m-14-15h0m14-1h0m-8-20h0m4-3h0m1-23h0m-8 0h0m5-7h0m-4-36h0m-1-4h0m10-2h0m-9-11h0m6-16h0m-11-2h0m9-6h0m3-1h0m-5-11h0m-1-18h0m6-2h0m-8-18h0m-2-7h0m10-14h0m-4-22h0m0-5h0m1-44h0m-1 0h0m-3-30h0m10-46h0m-13-4h0m9-1h0m3-31h0m8 59h0m3 54h0m-1 3h0m-3 21h0m3 42h0m-1 41h0m-6 29h0m9 5h0m-10 4h0m5 16h0m4 6h0m0 20h0m-6 21h0m8 45h0m-3 33h0m-6 12h0m6 2h0m3 7h0m-3 11h0m2 9h0m-6 9h0m3 34h0m10-46h0m1-175h0m9-116h0m16 24h0m0 4h0m-4 62h0m3 46h0m-1 0h0m-3 51h0m3 32h0m1 3h0m-1 5h0m1 13h0m-2 6h0m6 7h0m-7 78h0m5 29h0m16 88h0m-8-85h0m-3-76h0m5-3h0m0-4h0m-5-13h0m7-11h0m-3-25h0m4-80h0m-9-25h0m9-81h0m-9-151h0m25 37h0m1 1h0m-2 22h0m6 9h0m1 58h0m-14 28h0m-1 49h0m7 33h0m5 27h0m-3 27h0m1 18h0m-4 2h0m0 8h0m6 8h0m-6 18h0m5 10h0m2 16h0m-8 11h0m-1 24h0m-1 2h0m-2 30h0m25-84h0m-9-23h0m10-29h0m2-8h0m-12-26h0m6-8h0m1-11h0m0-17h0m3-45h0m3-21h0m-7-6h0m-1-5h0m7-6h0m2-68h0m-2-5h0m-12-12h0m20-20h0m0 35h0m4 22h0m-5 33h0m11 8h0m-4 10h0m-6 2h0m5 5h0m0 15h0m0 12h0m-6 25h0m11 13h0m-4 1h0m3 3h0m-2 19h0m-3 18h0m5 6h0m-8 17h0m5 1h0m1 5h0m-2 12h0m4 3h0m-14 8h0m12 18h0m1 29h0m-4 23h0m3 4h0m-6 29h0m-3 2h0m8 26h0m4 4h0m14 49h0m-8-72h0m5-3h0m-1-60h0m0-55h0m1-2h0m0-25h0m-7-7h0m2-10h0m1 0h0m-3-53h0m8-68h0m-7-34h0m1-6h0m11-13h0m8 10h0m4 2h0m-5 4h0m3 51h0m-2 12h0m7 11h0m-7 22h0m2 48h0m-7 3h0m12 20h0m-12 20h0m5 15h0m5 34h0m-1 38h0m-5 2h0m-2 30h0m12-12h0m0-40h0m3-27h0m1-166h0m7-44h0m-2-93h0m8 6h0m12 46h0m-10 66h0m10 15h0m-11 30h0m9 5h0m-2 14h0m-10 27h0m15 9h0m-6 39h0m6 6h0m-8 1h0m3 23h0m-3 33h0m5 30h0m-7 30h0m22 62h0m0-69h0m3-13h0m-6-13h0m-4-39h0m-1-4h0m11-8h0m1-10h0m-3-9h0m0-6h0m-4-32h0m-7-6h0m7-1h0m-7 0h0m0-38h0m7-4h0m-3-2h0m1-36h0m2-17h0m2-23h0m-3-3h0m4-16h0m-8-41h0m10-23h0m-7-7h0m10 44h0m4 56h0m0 50h0m-4 2h0m1 6h0m4 17h0m0 9h0m8 21h0m-3 13h0m3 60h0m-4 56h0m-3 10h0m23-54h0m2-20h0m-13-2h0m10-37h0m-1-46h0m-1-8h0m-4-93h0m-2-4h0m0-51h0m25-60h0m-9 14h0m2 72h0m-2 5h0m1 101h0m10 1h0m-15 18h0m6 17h0m-3 13h0m0 7h0m4 7h0m-2 6h0m-1 9h0m5 1h0m1 22h0m-6 5h0m10 6h0m-1 12h0m-13 3h0m5 3h0m8 16h0m2 11h0m-1 51h0m-5 9h0m13-61h0m8-40h0m-12-32h0m-1-5h0m13-6h0m-6-14h0m6-23h0m-7-35h0m-5-72h0m12-24h0m-8-61h0m14 29h0m0 97h0m10 88h0m-7 8h0m-4 7h0m5 22h0m2 6h0m-5 1h0m-1 14h0m0 28h0m10 22h0m-14 58h0m16-26h0m11-30h0m-7-6h0m8-5h0m-1-34h0m-11-17h0m15-7h0m-2-107h0m2-128h0m-2-48h0m8 133h0m17 211h0m3-74h0m4-9h0m2-55h0m-9-9h0m7-28h0m3-183h0m14 84h0m-5 84h0m-9 13h0m8 10h0m2 2h0m-4 1h0m2 43h0m4 3h0m-3 15h0m-9 10h0m3 13h0m8 1h0m4 14h0m0 17h0m-6 10h0m0 2h0m-6 42h0m1 75h0m10 85h0m4-108h0m0-24h0m-2-58h0m3-3h0m0-4h0m0-17h0m4-32h0m7-14h0m-13-9h0m5-25h0m-5-8h0m8-17h0m-9-10h0m2-15h0m-2-32h0m9-26h0m-5-24h0m4-60h0m3-7h0m-10-90h0m15 321h0m9 40h0m5 174h0m5 6h0m4-2h0m6-40h0m-11-11h0m8-18h0m-9-31h0m4-155h0m-5-162h0m27-37h0m0 3h0m3 131h0m1 9h0m0 27h0m-7 44h0m7 1h0m-3 11h0m1 18h0m-6 42h0m5 107h0m7-2h0m10-11h0m-1-25h0m-4-88h0m6-8h0m-13-68h0m3-8h0m-4-77h0m9-3h0m-6-11h0m8-7h0m16-10h0m-5 26h0m7 23h0m-8 22h0m-3 58h0m4 19h0m3 8h0m-8 1h0m3 6h0m2 4h0m-3 18h0m6 12h0m-8 18h0m6 10h0m-2 107h0m13-117h0m10-171h0m8 145h0m-3 115h0m50-158h0m5-9h0m7-28h0m12-188h0m0 112h0m3 49h0m-4 38h0m1 17h0m0 162h0m3 57h0m11-23h0m-9-36h0m8-26h0m-3 0h0m-2-43h0m0-11h0m6-78h0m-4-190h0m42 263h0m-7-179h0m9 107h0m29-173h0m32 382h0m-3-106h0m-5-55h0m-1-6h0m7-219h0m32-12h0m32 240h0m-2-6h0m4-5h0m0-171h0m2-7h0m61 79h0m6-135h0m4 2h0m-5 19h0m-1 17h0m-1 145h0m29-154h0"/>
<path stroke="#23ed86" d="M185 510h0m5-51h0m-8-34h0m24-142h0m-1 148h0m0 198h0m18 40h0m-14-92h0m1-313h0m59 276h0m2 78h0m11 47h0m1-65h0m-4-63h0m-7-181h0m22 139h0m18 88h0m6-51h0m-7-228h0m22 10h0m-9 5h0m2 6h0m-1 42h0m-2 227h0m-2 35h0m29-12h0m-4-90h0m11-192h0m-5 196h0m9 4h0m-1 104h0m23-27h0m-2-6h0m2-6h0m-11-31h0m5-76h0m-7-34h0m13-24h0m-1-25h0m0-5h0m-6-20h0m4-83h0m4 14h0m5 12h0m-3 135h0m2 19h0m2 27h0m-5 0h0m4 13h0m-3 7h0m4 14h0m4 17h0m-5 79h0m-4 14h0m28-67h0m-9-14h0m0-12h0m9-85h0m-12-33h0m8-148h0m-1-7h0m18 3h0m-2 6h0m-5 101h0m1 48h0m1 9h0m-5 87h0m10 13h0m-3 23h0m11 94h0m3-57h0m2-32h0m3-11h0m0-36h0m3-22h0m-5-36h0m-4-77h0m0-6h0m10-31h0m1-11h0m-6-7h0m16-75h0m1 57h0m3 21h0m-8 14h0m-5 21h0m9 25h0m-9 14h0m12 17h0m0 10h0m-9 51h0m0 36h0m9 21h0m-7 5h0m-3 31h0m3 13h0m7 32h0m0 7h0m-11 44h0m18 10h0m0-77h0m4-36h0m0-7h0m2-17h0m-2-22h0m2 0h0m6-1h0m-11-15h0m-2-34h0m5-1h0m3-6h0m-7-6h0m8-4h0m-10-3h0m-1-6h0m9-1h0m4-24h0m-1-36h0m-7-13h0m7-32h0m-7-15h0m-4-8h0m5-47h0m-5-13h0m9-60h0m15 42h0m-7 88h0m-1 5h0m6 8h0m7 41h0m-2 26h0m-3 87h0m1 74h0m3 10h0m-11 1h0m5 21h0m-5 12h0m2 24h0m1 0h0m14 26h0m11-45h0m-14-68h0m3-93h0m23-231h0m-5 41h0m9 8h0m-7 52h0m2 20h0m-1 115h0m5 27h0m-4 29h0m0 16h0m6 10h0m-11 12h0m8 47h0m-1 7h0m1 3h0m-5 23h0m4 57h0m-4 23h0m19-121h0m-9-86h0m6-64h0m5-118h0m-11-40h0m17 87h0m12 94h0m-4 59h0m-2 17h0m-4 14h0m6 32h0m-10 16h0m11 2h0m-3 4h0m5 44h0m17 7h0m-2-31h0m-7-22h0m8-31h0m-9-28h0m9-15h0m1-324h0m13 100h0m-2 17h0m-1 64h0m6 17h0m-10 13h0m0 6h0m-4 3h0m5 9h0m-5 32h0m5 5h0m-1 11h0m4 14h0m-8 5h0m11 6h0m-4 18h0m0 11h0m5 1h0m-6 1h0m1 7h0m2 42h0m-6 6h0m-1 10h0m13 20h0m11-1h0m-7-28h0m3-1h0m-5-4h0m4-2h0m-5-1h0m14-25h0m-1-19h0m-3-38h0m-4-58h0m0-30h0m6-49h0m-2-1h0m-7-76h0m25 14h0m-4 24h0m-1 29h0m7 52h0m-13 106h0m9 65h0m-7 10h0m3 36h0m1 37h0m11-129h0m-2-4h0m8-31h0m21-254h0m-3 34h0m0 26h0m1 18h0m-8 12h0m10 14h0m-9 11h0m-4 60h0m0 32h0m15 39h0m-10 12h0m1 4h0m-1 15h0m10 26h0m0 1h0m-2 4h0m2 15h0m-12 41h0m19 9h0m9-18h0m-5-24h0m1-30h0m-10-33h0m14-10h0m-13-29h0m5-12h0m3-20h0m0-2h0m-10-3h0m10-27h0m4-43h0m1-20h0m0-17h0m-8-4h0m10 55h0m7 81h0m-8 11h0m8 9h0m2 3h0m-10 56h0m2 31h0m-2 18h0m2 8h0m28 42h0m1-2h0m-5-30h0m-5-123h0m-1-36h0m-1-53h0m15-26h0m11 33h0m-11 26h0m2 13h0m-3 13h0m13 55h0m-9 51h0m3 6h0m-5 16h0m-1 12h0m4 53h0m23-28h0m-9-101h0m-4-9h0m0-120h0m19-64h0m-3 183h0m12 14h0m-6 78h0m6 4h0m-5 1h0m16 46h0m5-89h0m-7-66h0m-5-12h0m21 179h0m21-56h0m2-21h0m1-91h0m-6-23h0m-2-71h0m22-17h0m-1 7h0m-9 13h0m12 56h0m-2 0h0m-6 23h0m9 3h0m-6 11h0m-4 10h0m6 3h0m-4 3h0m-4 3h0m12 1h0m-3 19h0m-7 4h0m5 11h0m1 10h0m-3 19h0m8 21h0m-1 102h0m5-42h0m9-8h0m-9-28h0m7 0h0m-8-2h0m3-32h0m2-24h0m2-30h0m-9-1h0m0-134h0m13-175h0m9 150h0m14 329h0m8-9h0m-12-24h0m15-221h0m11-185h0m5 75h0m0 5h0m-3 78h0m0 2h0m-1 19h0m3 6h0m-3 51h0m-3 47h0m3 74h0m7 51h0m5-51h0m1-2h0m-7-2h0m3-27h0m-4-17h0m10-153h0m-10-62h0m2-11h0m18 19h0m9 131h0m0 5h0m-8 27h0m2 67h0m3 4h0m-10 15h0m11 7h0m1 6h0m-5 59h0m22-41h0m21-262h0m30 177h0m16-48h0m9 84h0m3 24h0m3 79h0m-1 17h0m15-51h0m-7-12h0m6-27h0m-9-78h0m2-187h0m-5-109h0m42 216h0m5-39h0m3 134h0m56 141h0m0-234h0m-5-168h0m5-20h0m28 18h0m41 161h0m1 1h0m5 26h0m53-22h0m0-18h0m1-26h0m4-112h0m1 128h0m36-15h0m-1 32h0m-3 102h0"/>
<path stroke="#36dd98" d="M183 498h0m-5-22h0m9-56h0m13-44h0m7 272h0m62-286h0m1 208h0m16 58h0m-3-258h0m0-65h0m6 190h0m1 144h0m19-53h0m-4-109h0m11-176h0m27 269h0m6-102h0m-4-116h0m10-70h0m2 79h0m0 147h0m-1 83h0m23 26h0m-9-10h0m12-3h0m-10-58h0m10-30h0m-10-65h0m7-2h0m2-247h0m8 372h0m7 59h0m17-23h0m-1-74h0m-6-160h0m10-159h0m3 165h0m-3 10h0m10 56h0m2 44h0m-10 49h0m10 32h0m-7 9h0m8 52h0m-7 48h0m-5 28h0m27-1h0m-5-56h0m1-34h0m-2-1h0m-3-83h0m-2-36h0m8 0h0m5-38h0m-1-22h0m0-79h0m-6-43h0m18 135h0m-8 16h0m5 98h0m3 37h0m0 41h0m3 11h0m-11 46h0m24-11h0m-7-37h0m12-31h0m-11-5h0m1-38h0m8-13h0m-2-15h0m-4-30h0m1-16h0m2-38h0m-2-13h0m6-15h0m-11-7h0m5-38h0m4-20h0m-7-1h0m-2-3h0m10-77h0m-5-3h0m14 101h0m1 1h0m-5 6h0m14 30h0m-4 50h0m-5 4h0m-1 40h0m-4 19h0m0 11h0m8 31h0m-4 0h0m0 22h0m-3 13h0m5 5h0m12 2h0m10-127h0m-3-102h0m-2-94h0m17 18h0m3 3h0m-5 26h0m8 43h0m-8 62h0m5 229h0m8 48h0m-1-170h0m-2-57h0m5-41h0m16-184h0m7 87h0m-3 216h0m3 71h0m-5 16h0m-1 20h0m9-105h0m1-51h0m13-55h0m-10-20h0m11-67h0m0-24h0m-8-114h0m10 78h0m3 12h0m8 70h0m3 28h0m-1 29h0m0 22h0m-8 41h0m0 19h0m1 6h0m-2 6h0m2 11h0m-4 3h0m1 63h0m17 25h0m-1-5h0m1-1h0m0-26h0m-5-5h0m5-3h0m0-8h0m-1-42h0m8-12h0m-2-36h0m-8-8h0m1-17h0m24-184h0m-11 218h0m10 111h0m7-22h0m7-72h0m3-2h0m-5-16h0m-2-26h0m-1-290h0m19 106h0m-1 54h0m8 59h0m-8 2h0m-3 144h0m11 30h0m2 11h0m6 88h0m3-71h0m7 0h0m-10-54h0m-5 0h0m14-26h0m-5-9h0m-8-2h0m1-2h0m9-4h0m1-15h0m-5-2h0m2-26h0m6-72h0m-15 0h0m18-13h0m2 33h0m-1 99h0m3 10h0m22-79h0m1-55h0m18-203h0m-9 148h0m-2 117h0m-2 46h0m13 1h0m-2 3h0m-8 89h0m-3 1h0m13 7h0m-1 55h0m15-82h0m-13-11h0m8-7h0m-7-12h0m-1-40h0m14-43h0m-13-38h0m2-186h0m21 267h0m6 60h0m-11 28h0m0 54h0m19-15h0m-4-46h0m-1-12h0m9-13h0m4-61h0m-5-34h0m22 92h0m5 96h0m8-205h0m-2-70h0m2-48h0m-1-84h0m-9-18h0m22 78h0m1 91h0m-6 32h0m3 18h0m6 10h0m1 23h0m-13 4h0m10 36h0m-6 55h0m9 50h0m-11 29h0m8 46h0m14 57h0m-7-33h0m4-11h0m1-34h0m-2-9h0m1-3h0m-5-5h0m9-12h0m-8-46h0m3-24h0m-3-58h0m3-58h0m-2-107h0m17-30h0m4 18h0m36 108h0m-1 1h0m-9 121h0m11 95h0m7 16h0m1-37h0m10-19h0m-11-5h0m1-16h0m21-342h0m-3 60h0m7 45h0m0 6h0m-2 144h0m-5 10h0m-3 44h0m5 21h0m-3 59h0m35-250h0m2 121h0m12-131h0m22 306h0m26-191h0m13 193h0m-1-19h0m5-81h0m0-41h0m-5-27h0m43-105h0m3 156h0m56 74h0m-1-194h0m4-158h0m63 223h0m2-100h0m3-22h0m6 46h0m-5 20h0m0 8h0m3 34h0m59-112h0m0-116h0m2 10h0m34 147h0m-2 65h0m0 100h0"/>
<path stroke="#48cdab" d="M177 407h0m2-13h0m37 212h0m25-281h0m15-38h0m11 194h0m16 166h0m1-23h0m-3-22h0m11 86h0m19-55h0m5-403h0m31 350h0m34 80h0m-5-28h0m-6-45h0m7-29h0m6-42h0m-6-7h0m9 54h0m-2 61h0m3 40h0m20 25h0m9-82h0m6 46h0m24 17h0m-7-28h0m7-31h0m-6-16h0m7-30h0m-14-141h0m19-135h0m-1 77h0m3 3h0m8 53h0m-2 6h0m-7 37h0m1 20h0m4 37h0m2 10h0m3 7h0m-12 13h0m3 20h0m-1 11h0m20 56h0m-7-24h0m7-29h0m1-12h0m5-14h0m-4-18h0m-6-5h0m5-10h0m-2-3h0m4-8h0m-10-15h0m0-77h0m8-100h0m-4 0h0m3-23h0m9 125h0m5 42h0m2 92h0m-9 20h0m0 31h0m15 17h0m-2 16h0m-7 36h0m23-9h0m18-229h0m-1 69h0m-9 3h0m7 23h0m-3 35h0m18 197h0m3-86h0m14-374h0m-9 233h0m1 68h0m-3 8h0m0 23h0m28-58h0m0-203h0m0-20h0m11 175h0m-2 3h0m5 42h0m-7 8h0m-1 9h0m1 32h0m8 4h0m-6 36h0m0 29h0m16-121h0m3-41h0m-5-5h0m1-18h0m14-205h0m0 436h0m19-98h0m2-95h0m-6-64h0m21-223h0m3 34h0m-1 179h0m-1 35h0m3 16h0m-9 34h0m10 23h0m1 43h0m1 35h0m-5 63h0m7 2h0m1-38h0m11-71h0m-10-75h0m4-21h0m1 0h0m4-82h0m-1-53h0m-5-82h0m20 140h0m-8 17h0m2 65h0m-1 0h0m3 52h0m2 14h0m-7 24h0m5 47h0m36-205h0m-4 67h0m-3 8h0m11 55h0m5 61h0m-1-89h0m27-114h0m-12 115h0m6 91h0m8 16h0m3 10h0m40 4h0m4-114h0m-4-216h0m6-76h0m7 284h0m4 11h0m-5 16h0m-3 4h0m9 8h0m3 27h0m-4 169h0m15-63h0m-9-42h0m9-51h0m3-61h0m-12-54h0m8-113h0m7-38h0m-7-93h0m10 293h0m15 78h0m5-18h0m20-361h0m1 173h0m3 35h0m-6 110h0m3 2h0m0 20h0m2 87h0m6 28h0m11-31h0m-8 0h0m8-112h0m0-69h0m-8-177h0m13 118h0m-3 2h0m0 142h0m5 10h0m6 59h0m35-273h0m-5 169h0m11-215h0m34 404h0m25-58h0m48-61h0m0-32h0m-8-31h0m4-185h0m103-25h0m29 194h0m-1-38h0m1-16h0m10-9h0m92 29h0m-5 10h0m1 90h0"/>
<path stroke="#46bdc2" d="M175 515h0m15-32h0m9-199h0m-2 197h0m6 90h0m13 92h0m47-398h0m-2 119h0m22 284h0m-2-326h0m42-40h0m-1 254h0m20-33h0m39 117h0m-3-84h0m16-280h0m-7 249h0m-3 59h0m2 8h0m27 45h0m-12-120h0m8-90h0m3-108h0m4 389h0m26-75h0m4-254h0m5 241h0m5 16h0m-8 13h0m11 5h0m11 57h0m-2-53h0m7-62h0m2-4h0m-10-34h0m11-21h0m-2-7h0m-3-79h0m-9-104h0m17 150h0m-1 52h0m3 1h0m8 14h0m-9 3h0m0 17h0m-1 0h0m8 28h0m-7 102h0m10 12h0m26-135h0m25 154h0m-1-34h0m-4-60h0m7-167h0m13 189h0m4-60h0m9-83h0m7-300h0m11 218h0m-12 139h0m9 66h0m-5 4h0m1 17h0m14 7h0m-3-31h0m1-90h0m4-156h0m8-50h0m9 46h0m2 206h0m3 40h0m-9 103h0m37-372h0m1 132h0m3 108h0m0 59h0m9-26h0m-5-32h0m4-33h0m10-65h0m-9-130h0m15 75h0m0 68h0m-1 108h0m-3 46h0m2 4h0m29-395h0m-7-11h0m10 1h0m0 30h0m2 318h0m9 0h0m-9 21h0m29-173h0m14 43h0m-11 33h0m2 48h0m3 39h0m24-120h0m23-180h0m2-25h0m-5-33h0m26 0h0m0 169h0m-2 133h0m0 129h0m1 0h0m-4 16h0m5 14h0m2 35h0m0-72h0m9-20h0m-10-13h0m4-70h0m1-24h0m5-38h0m4-343h0m28 519h0m-1-33h0m5-1h0m16-166h0m-5 92h0m7 136h0m1-32h0m5-68h0m2-27h0m7-86h0m-4-168h0m-1-19h0m-4-49h0m17 89h0m11-59h0m39 156h0m-2-26h0m69 264h0m31-143h0m-2-22h0m133-162h0m5 125h0m-1 41h0m65-265h0m-2 42h0m32 133h0m2 51h0"/>
<path stroke="#3eacda" d="M175 466h0m9 52h0m-1-4h0m27 152h0m0-82h0m-1-4h0m23-381h0m25 72h0m122 314h0m-7-51h0m7-84h0m5-146h0m17 347h0m12-48h0m-4-3h0m0-149h0m12 119h0m8 7h0m-4 41h0m15-48h0m15 11h0m17 98h0m1-111h0m10-300h0m5 450h0m29-355h0m1 364h0m12-24h0m1-477h0m27 230h0m-12 144h0m0 150h0m-1 19h0m0 8h0m25-214h0m11-314h0m2 217h0m-4 168h0m2 37h0m13-163h0m14 100h0m28-35h0m9-187h0m8 69h0m1 17h0m-14 95h0m6 139h0m21-6h0m-8-108h0m1-94h0m-1-166h0m53 193h0m47 126h0m5-204h0m-4-94h0m6-28h0m47 97h0m-1 32h0m3 199h0m-3 54h0m-1 21h0m4 13h0m9 28h0m-6-62h0m-1-76h0m5-413h0m27 494h0m37-156h0m-6-28h0m1-81h0m-1-103h0m19 54h0m-2 79h0m10 150h0m-5 42h0m17-282h0m88 156h0m-8 6h0m119 210h0m64-206h0m4-4h0m93-55h0m0-162h0m6 115h0m0 289h0"/>
<path stroke="#3b9de7" d="M180 490h0m7-8h0m-2-19h0m40-114h0m32-100h0m25 95h0m10 280h0m-4 42h0m32-303h0m60 263h0m25 71h0m28-268h0m14-18h0m25 175h0m-3-7h0m0-214h0m47 129h0m18 247h0m7-2h0m-10-326h0m16 57h0m22 191h0m12 5h0m47 29h0m1-7h0m3-105h0m17-60h0m-6 62h0m26 86h0m-12-134h0m1-98h0m10-25h0m-10-34h0m18-84h0m-3 189h0m34 5h0m8 75h0m-2 110h0m16-164h0m26 68h0m1-63h0m6-123h0m40 112h0m-2 91h0m10 29h0m1 77h0m7-69h0m3-145h0m-2-34h0m3-69h0m71 109h0m-3-121h0m4-18h0m13 310h0m20-104h0m24-52h0m1-186h0m300 10h0m33 146h0m2 38h0"/>
<path stroke="#3a8fec" d="M185 420h0m8 27h0m42 218h0m57-41h0m27-122h0m5-303h0m59 378h0m3 89h0m31-302h0m17 370h0m5-127h0m13-186h0m24 260h0m-2-227h0m6 48h0m47 175h0m14 95h0m-6-19h0m-5-223h0m18 149h0m26-185h0m14 110h0m41-342h0m32 336h0m-2-155h0m22-144h0m-7 293h0m20-195h0m17 236h0m101 62h0m1 47h0m13 67h0m-7-41h0m7-138h0m-7-84h0m4-208h0m40 375h0m-15-209h0m24-179h0m3 375h0m30-154h0m44-31h0m69 17h0m36 119h0m58-68h0m2-40h0m138-224h0m27 197h0m4-55h0"/>
<path stroke="#3c7cef" d="M180 505h0m-1-11h0m91-98h0m41 157h0m34-158h0m34 83h0m4-125h0m-1-71h0m57 426h0m30-179h0m6-69h0m49 128h0m16-64h0m29-85h0m14 43h0m-7 91h0m6 6h0m21 36h0m44-169h0m33 207h0m15-264h0m27 120h0m49-151h0m33 150h0m23 203h0m77-156h0m46-48h0m1-19h0m293-196h0m36 181h0m2 67h0m1 120h0"/>
<path stroke="#435eed" d="M181 472h0m32 133h0m147-27h0m108 1h0m73-295h0m7 557h0m39-225h0m10-89h0m75-112h0m38 218h0m20-89h0m63-172h0m28 278h0m7-110h0m74-172h0m147 292h0m3-55h0"/>
<path stroke="#4b40eb" d="M175 477h0m210 0h0m12 79h0m27-1h0m47-118h0m130 130h0m146 89h0m73-109h0m69-48h0m155 181h0"/>
<path stroke="#5920e9" d="M313 317h0m75 215h0m194 153h0m18-377h0m355 126h0m327 194h0"/>
<path stroke="#7411e3" d="M180 442h0m672 197h0m132 77h0"/>
<path stroke="#9609dc" d="M471 436h0m158 194h0m140 20h0m48 77h0"/>
<path stroke="#ca0bc9" d="M190 474h0m-8-38h0"/>
<path stroke="#f0611d" d="M142 166h0m-2 2h0m1 13h0m1 8h0m0 11h0m-3 13h0m3 0h0m-4 2h0m3 7h0m-1 4h0m0 51h0m1 8h0m-1 11h0m1 3h0m2 2h0m-3 7h0m0 14h0m2 16h0m-6 27h0m6 8h0m-3 47h0m5 6h0m2-105h0m-2-32h0m0-16h0m1-6h0m0-3h0m0-43h0m0-12h0m55 20h0m1 33h0m11-38h0m31 153h0m9-57h0m50-88h0m1 1h0m5 24h0m2-5h0m-2-27h0m5-6h0m2-17h0m12 45h0m-7 30h0m8 81h0m16-88h0m39-37h0m40 84h0m98-95h0m6 0h0m9 202h0m92-136h0m41-9h0m16 70h0m27-118h0m4 134h0m4 81h0m7-234h0m20 150h0m19-143h0m-5-9h0m52 218h0m25-114h0m10 45h0m3-108h0m26 85h0m6-13h0m23 20h0m77-22h0m24-8h0m-15 28h0"/>
<path stroke="#f27516" d="M143 134h0m-6 30h0m3 2h0m-2 14h0m2 0h0m2 3h0m-1 7h0m1 15h0m-3 7h0m3 79h0m0 21h0m-3 29h0m-4 3h0m5 13h0m4 116h0m1-10h0m-1-70h0m0-3h0m1-91h0m1-111h0m2-31h0m-4-11h0m55 83h0m11 45h0m15-72h0m13 19h0m-8 2h0m0 36h0m-1 12h0m-1 36h0m9 59h0m7-63h0m42-4h0m-2-129h0m13 152h0m21 21h0m-2-66h0m-6-17h0m1-2h0m-2-52h0m42 171h0m-11-67h0m16-87h0m3 19h0m-4 5h0m4 43h0m-3 12h0m1 67h0m56-73h0m-8-28h0m41 67h0m-2-1h0m1-17h0m-6-52h0m84-73h0m-3 53h0m-4 65h0m55 105h0m39-202h0m23 25h0m-9-15h0m61 102h0m33-127h0m-4 20h0m-2 317h0m25-258h0m23-13h0m0-11h0m20 26h0m-9 101h0m43-160h0m10 94h0m3-9h0m-8-64h0m3-20h0m-1-2h0m22 50h0m8 56h0m36 98h0m91-70h0m2-8h0m2-7h0m11-21h0m0 15h0m87 104h0"/>
<path stroke="#f38f13" d="M140 154h0m-1 13h0m-2 1h0m6 27h0m-2 15h0m2 26h0m-2 3h0m0 4h0m2 1h0m-4 3h0m3 1h0m-1 9h0m2 15h0m-1 22h0m-2 14h0m-3 4h0m4 2h0m-2 12h0m1 33h0m1 27h0m-1 77h0m8-140h0m-3-10h0m-1-1h0m1-11h0m-1-24h0m1-21h0m-1-43h0m0-15h0m0-39h0m59 76h0m-5 42h0m9 52h0m7-113h0m-5-22h0m19 24h0m-3 3h0m6 7h0m2 12h0m4 2h0m-11 2h0m3 48h0m2 20h0m-5 8h0m8 55h0m4 1h0m-3 132h0m6-257h0m7-17h0m-8-2h0m2-13h0m26 41h0m-1 60h0m2 65h0m4-101h0m14-68h0m14 30h0m9 87h0m6-91h0m3-33h0m-4-6h0m4-9h0m16 1h0m-10 1h0m-4 101h0m14 11h0m-13 21h0m24 37h0m2-127h0m0-24h0m-1-13h0m3-35h0m13 45h0m-6 76h0m10 28h0m15 24h0m-6-47h0m12-12h0m15-45h0m3-15h0m15-52h0m5 38h0m-9 88h0m0 19h0m21-15h0m1-24h0m1-31h0m21 33h0m-9 48h0m21-64h0m-4-29h0m25 79h0m14 22h0m-1-26h0m-5-115h0m-2-1h0m22 45h0m3 33h0m-3 5h0m3 40h0m-5 31h0m3 24h0m4 79h0m16-193h0m12-7h0m-9 3h0m4 8h0m0 6h0m1 21h0m0 23h0m-6 22h0m20-87h0m29 107h0m2-67h0m11-36h0m9-56h0m5 7h0m-5 50h0m3 34h0m2 1h0m-6 10h0m14 87h0m-5-28h0m5-4h0m20-122h0m25 93h0m7 42h0m7-46h0m10-24h0m12-81h0m8 16h0m-5 24h0m2 13h0m-7 2h0m8 9h0m-1 21h0m-3 47h0m1 17h0m-5 54h0m16 6h0m-4-37h0m6-93h0m0-13h0m-6-28h0m3 0h0m21 39h0m-7 12h0m13 9h0m1 84h0m13 41h0m3-56h0m-14-115h0m5-21h0m10 79h0m48-2h0m9-20h0m-9-43h0m2-24h0m9-9h0m-3-35h0m17 71h0m6 6h0m-2 43h0m-6 2h0m8 23h0m-3 28h0m-5 17h0m19 52h0m-7-115h0m-2-20h0m4-29h0m85 45h0m39 126h0m-1-14h0m11-52h0m3-37h0m84 150h0m9-31h0m64-139h0"/>
<path stroke="#f6b316" d="M143 154h0m-1 3h0m-4 17h0m5 15h0m0 0h0m0 12h0m-7 3h0m4 5h0m2 3h0m-1 15h0m-2 17h0m2 11h0m0 29h0m-3 42h0m4 34h0m1 43h0m-3 29h0m1 11h0m1 56h0m0 126h0m4-282h0m-1-35h0m-1-3h0m0-18h0m1-4h0m-1-24h0m1-39h0m0-36h0m42 94h0m8-46h0m10 37h0m-13 2h0m7 14h0m4 49h0m-11 59h0m19-13h0m1-107h0m-1-26h0m-1-21h0m13-5h0m-14-18h0m2-5h0m0-41h0m23 39h0m1 1h0m1 15h0m2 3h0m-2 5h0m-10 12h0m9 29h0m-7 1h0m5 10h0m-1 40h0m-3 27h0m2 7h0m8 28h0m-2 7h0m-4 33h0m4 36h0m3 59h0m1-124h0m-1-43h0m3-4h0m-3-50h0m9-59h0m1-5h0m21-17h0m-2 7h0m2 20h0m-1 90h0m-3 46h0m4 28h0m5-70h0m-3 0h0m-1-1h0m4-43h0m4-5h0m-6-38h0m7-10h0m5-28h0m-5-14h0m14 72h0m0 15h0m-6 62h0m3 13h0m21 0h0m-6-84h0m6-13h0m2-23h0m-8 0h0m11-5h0m0-15h0m1-4h0m3-37h0m11 22h0m-7 43h0m-6 49h0m0 4h0m13 2h0m-6 21h0m7 9h0m-14 22h0m25 45h0m-9-69h0m14-36h0m1-8h0m-8-62h0m4-15h0m3-13h0m-2-21h0m12 9h0m1 60h0m2 23h0m-1 44h0m-10 44h0m0 218h0m26-271h0m-1-78h0m8 26h0m1 67h0m13 54h0m-9 56h0m20 37h0m1-19h0m-3-11h0m-2-21h0m0-22h0m4-114h0m2-21h0m4-13h0m0 19h0m9 63h0m-9 17h0m11 11h0m-4 21h0m-6 11h0m12 18h0m-3 15h0m-6 54h0m18-113h0m7-22h0m-4-35h0m0-4h0m2-8h0m0-49h0m6 15h0m-1 48h0m11 7h0m-2 25h0m3 19h0m-12 80h0m17-92h0m8-31h0m-2-18h0m14-1h0m0 114h0m21-16h0m-8-5h0m8-135h0m17-40h0m-4 20h0m7 22h0m-1 17h0m-6 24h0m5 43h0m-7 59h0m25 27h0m15-183h0m-9 21h0m0 0h0m-1 21h0m1 28h0m-3 10h0m1 16h0m13 61h0m-8 43h0m10 6h0m12-15h0m-12-99h0m17-89h0m7 88h0m15 90h0m2-60h0m5-146h0m6 5h0m8 20h0m1 38h0m-10 30h0m7 40h0m4 21h0m1 192h0m0-154h0m1-131h0m0-1h0m2-21h0m-3-22h0m17 59h0m12 10h0m17 31h0m6-27h0m7 9h0m15 54h0m4-60h0m9-101h0m4 40h0m-4 11h0m-4 8h0m12 31h0m-6 13h0m-3 4h0m0 39h0m5 62h0m6 120h0m14-88h0m0-59h0m-13-62h0m-1-79h0m20 65h0m4 137h0m1 63h0m9-107h0m-2-3h0m8-3h0m5-42h0m-5-16h0m6-47h0m-2-4h0m-13-4h0m3 0h0m-2-23h0m4-7h0m4-3h0m-6-6h0m5-40h0m12 78h0m-2 67h0m43-62h0m0 8h0m12 93h0m-1-2h0m-7-34h0m10-36h0m-6-32h0m-1-24h0m3-32h0m-3-1h0m-2-5h0m27 72h0m-2 31h0m1 20h0m15 14h0m-8-85h0m27 160h0m11-148h0m8 11h0m20 191h0m14-177h0m53 97h0m-6-27h0m6-28h0m-3-8h0m16-5h0m0 72h0m16 72h0m2-150h0m6-49h0m58 183h0m5-138h0m1-40h0"/>
<path stroke="#f8cf18" d="M143 127h0m-3 7h0m3 8h0m-4 7h0m4 14h0m-3 30h0m3 6h0m0 17h0m-1 3h0m0 38h0m1 3h0m-5 50h0m3 61h0m0 79h0m-1 37h0m5-49h0m0-112h0m0-10h0m-1-77h0m6-15h0m-5 0h0m0-35h0m2-59h0m42 151h0m-9-21h0m9-51h0m8 25h0m3 24h0m-6 1h0m-2 13h0m4 8h0m9 8h0m11 55h0m7-32h0m-5-15h0m-6-11h0m-2-10h0m6-20h0m-6-4h0m7-10h0m-7-9h0m7-19h0m0-5h0m2-4h0m-4-5h0m1-12h0m-4-2h0m-2-5h0m14 26h0m6 2h0m7 2h0m-3 11h0m-5 0h0m-2 6h0m7 13h0m2 5h0m1 1h0m-2 11h0m1 18h0m-9 4h0m6 5h0m3 7h0m-3 4h0m3 31h0m-8 18h0m8 49h0m-4 20h0m2 76h0m10 43h0m0-38h0m-2-118h0m-2-36h0m2-33h0m0-4h0m0-9h0m2-17h0m-2-23h0m28 27h0m-2 59h0m0 8h0m3 45h0m0 12h0m-3 0h0m1 18h0m17-31h0m-6-40h0m6-21h0m0-23h0m-8-11h0m2-7h0m-4-32h0m7-1h0m-2-10h0m5-14h0m-14-24h0m1-6h0m3-11h0m9 0h0m-12-19h0m44 291h0m-2-69h0m2-23h0m-2-5h0m-1-9h0m5-20h0m-2-4h0m-2-13h0m-5-20h0m0-48h0m2 0h0m-4-2h0m1-2h0m5 0h0m-4-21h0m6-10h0m-2-5h0m9-19h0m-1 55h0m2 15h0m-2 3h0m0 26h0m0 14h0m0 196h0m26-109h0m3-21h0m-1-75h0m-13-38h0m12-13h0m-4-12h0m4-2h0m1-4h0m-5 0h0m3-30h0m0-30h0m5-1h0m7 27h0m-7 31h0m4 3h0m9 45h0m-4 9h0m-9 4h0m4 47h0m9 5h0m-3 24h0m20 251h0m-13-220h0m6-13h0m7-100h0m-5-32h0m-3-6h0m-5-25h0m5-15h0m11 21h0m1 14h0m0 0h0m1 26h0m3 44h0m-5 127h0m21-47h0m-4-18h0m11-23h0m-10-58h0m-2-28h0m7-9h0m-1-25h0m-8-6h0m14-13h0m-6-11h0m2-22h0m8 61h0m3 4h0m-2 8h0m1 5h0m1 15h0m5 75h0m-1 97h0m20 99h0m-5-32h0m-7-11h0m5-74h0m4-20h0m0-46h0m-5-29h0m10 0h0m0-17h0m-12-3h0m7-15h0m5-20h0m-14-40h0m4 0h0m7-2h0m-3-6h0m-3-2h0m-5-10h0m9 0h0m1-5h0m2-5h0m9 52h0m4 17h0m0 41h0m-5 155h0m7 66h0m14-177h0m1-32h0m2-33h0m-6-42h0m8-10h0m10 9h0m-4 3h0m0 23h0m-4 1h0m10 8h0m-6 1h0m6 57h0m-4 1h0m-1 1h0m0 120h0m21-150h0m17-118h0m-3 17h0m0 8h0m-8 20h0m7 30h0m6 50h0m0 2h0m1 19h0m-3 10h0m-11 30h0m14 116h0m11-116h0m-7-23h0m-1-43h0m-1-1h0m19-43h0m3 10h0m2 71h0m-5 4h0m10 71h0m-12 14h0m12 16h0m-1 42h0m4-133h0m-1-123h0m1-3h0m19-9h0m9 13h0m-5 2h0m6 3h0m-4 31h0m0 48h0m4 34h0m-12 18h0m-1 62h0m28-71h0m-2-41h0m-2-29h0m2-31h0m19-52h0m-13 8h0m4 7h0m9 4h0m1 6h0m-6 4h0m3 19h0m2 13h0m-2 5h0m3 31h0m-1 33h0m1 21h0m-1 5h0m-8 10h0m8 35h0m6 180h0m-3-53h0m-1-177h0m13-26h0m-13-56h0m11-13h0m-6-30h0m21 28h0m-4 28h0m5 10h0m-3 30h0m-4 28h0m27 102h0m-13-125h0m12-7h0m-10-39h0m11-7h0m-9 0h0m2-26h0m21 45h0m-4 28h0m16 152h0m-9-24h0m15-66h0m-12-32h0m2-8h0m2-7h0m4-12h0m-4-4h0m5-9h0m-3-4h0m-6-21h0m11 0h0m-10-19h0m27-77h0m-6 15h0m6 5h0m-8 6h0m4 12h0m3 4h0m-3 5h0m2 10h0m-8 3h0m9 8h0m1 5h0m0 15h0m-2 7h0m-5 13h0m6 11h0m-8 3h0m3 16h0m2 1h0m-4 1h0m3 6h0m1 2h0m0 10h0m3 1h0m0 0h0m-8 5h0m2 12h0m5 64h0m6 58h0m-1-42h0m2-113h0m-4-103h0m1-22h0m4-19h0m25 84h0m-12 18h0m2 11h0m-3 21h0m3 22h0m-1 16h0m12 19h0m-10 58h0m22-72h0m-6-8h0m4-8h0m-7-33h0m10-5h0m0-9h0m-1-16h0m-3-1h0m4-1h0m0-22h0m-3 0h0m0-16h0m3-13h0m1-14h0m-2-6h0m1-4h0m-3-9h0m8 43h0m-1 30h0m4 1h0m-3 55h0m3 3h0m41-140h0m1 7h0m-1 3h0m1 20h0m-1 44h0m2 35h0m-5 140h0m11-54h0m2-1h0m-2-46h0m3 0h0m-8-15h0m8-8h0m0-37h0m-8-13h0m5-3h0m-1-1h0m1-61h0m0-4h0m1-11h0m11-2h0m3 59h0m7 2h0m4 46h0m-1 5h0m1 4h0m-7 6h0m5 0h0m-3 7h0m0 5h0m2 8h0m3 6h0m-3 15h0m8 118h0m-4-96h0m11-6h0m-2-24h0m-5-5h0m0-6h0m-3-12h0m4-44h0m40 83h0m-10-5h0m-1-64h0m6-5h0m-6-5h0m44 35h0m0-47h0m9 6h0m8 62h0m32-21h0m-7 41h0m13 70h0m2-39h0m2-67h0m6-1h0m-5-12h0m-7-5h0m10-2h0m-5-10h0m20 40h0m-2 27h0m2 100h0m78-2h0m-4-25h0"/>
<path stroke="#e3e018" d="M143 140h0m0 42h0m0 6h0m-7 15h0m6 8h0m1 15h0m-1 11h0m-1 8h0m0 29h0m-2 3h0m4 24h0m-1 14h0m-1 11h0m1 16h0m0 76h0m-4 1h0m1 11h0m4 191h0m1-144h0m1-135h0m-1-8h0m0-89h0m0-54h0m41 96h0m3-70h0m3-19h0m14-27h0m0 69h0m2 1h0m-15 5h0m15 18h0m-4 8h0m-9 41h0m0 11h0m29-16h0m-15-6h0m10-2h0m-10-4h0m9-28h0m-7-6h0m3-13h0m18-55h0m5 6h0m-8 4h0m7 11h0m2 3h0m-5 10h0m-5 5h0m-2 25h0m7 1h0m7 6h0m-12 0h0m2 4h0m9 0h0m-8 5h0m0 23h0m-2 22h0m7 30h0m-3 1h0m-3 3h0m9 3h0m-7 93h0m1 38h0m6 37h0m1 148h0m2 4h0m0-285h0m0-63h0m0-11h0m9-9h0m-9-49h0m-1-16h0m6-29h0m17 20h0m8 44h0m-2 141h0m-4 48h0m7 43h0m5-16h0m-1-3h0m7-3h0m-2-114h0m4-15h0m-10-5h0m5-10h0m0-10h0m7-9h0m-3-5h0m-1-22h0m-5-2h0m6-14h0m-5-31h0m-2-18h0m-4-36h0m8-9h0m-7-9h0m5-5h0m17 26h0m-2 18h0m-4 37h0m0 49h0m0 88h0m9 30h0m4 81h0m16-80h0m-3-33h0m0-3h0m2-17h0m-9-2h0m10-4h0m-7-11h0m5 0h0m1-4h0m-2-12h0m-5-11h0m7-5h0m-9-3h0m5-8h0m-10-9h0m7-23h0m4-11h0m-10-7h0m3-5h0m7-3h0m-11-6h0m14-8h0m-6-1h0m-2-2h0m1-16h0m3-10h0m0-11h0m5-20h0m-3-3h0m12 8h0m-3 11h0m4 22h0m-3 22h0m-6 19h0m1 16h0m11 4h0m-12 8h0m2 12h0m2 4h0m-2 8h0m8 8h0m-2 5h0m4 18h0m-12 12h0m4 4h0m0 17h0m-3 12h0m-1 4h0m23 86h0m0-39h0m7-48h0m-1-41h0m-3-21h0m-3-11h0m6-1h0m-10-4h0m6-9h0m6-1h0m-7-32h0m-5-24h0m10-2h0m0-19h0m-9-10h0m10-8h0m1-6h0m0-4h0m-11-8h0m5-1h0m4-4h0m4 4h0m3 5h0m10 8h0m-1 13h0m-8 27h0m-5 7h0m3 1h0m4 4h0m3 14h0m5 66h0m-15 2h0m4 1h0m-3 19h0m1 8h0m1 14h0m-1 52h0m9 130h0m20-19h0m-14-27h0m12-164h0m-6-22h0m7-9h0m-7-17h0m5-76h0m-6-12h0m7-3h0m1-6h0m0-4h0m-9-3h0m10-9h0m1 67h0m1 16h0m1 58h0m7 43h0m-1 27h0m14 144h0m4-126h0m-1-19h0m2-21h0m0-23h0m0-4h0m-10-11h0m0-3h0m-1-12h0m6-5h0m0-21h0m4-3h0m-10-5h0m7-33h0m-3-7h0m1-13h0m3-15h0m-6-5h0m5-32h0m11 20h0m0 16h0m6 7h0m-6 4h0m12 2h0m-14 6h0m15 6h0m-2 10h0m-6 3h0m-6 23h0m14 22h0m-7 3h0m0 42h0m1 38h0m2 16h0m17 273h0m-10-185h0m3-16h0m0-41h0m0-16h0m-4-5h0m8-19h0m1-21h0m-3-10h0m-3-13h0m5 0h0m1-38h0m1-6h0m2-10h0m-11 0h0m5-7h0m1-32h0m5-18h0m-3-27h0m-2 0h0m17 19h0m3 39h0m3 16h0m-12 0h0m7 3h0m-1 32h0m-4 4h0m3 26h0m-8 62h0m17 91h0m8-71h0m-2-34h0m4-28h0m4-56h0m-5-3h0m-5-41h0m-3-18h0m2-48h0m21 28h0m-3 9h0m5 6h0m-9 16h0m6 29h0m-3 5h0m6 89h0m-3 9h0m13 33h0m3-49h0m7-3h0m-11-10h0m6-10h0m-5-1h0m8-1h0m2 0h0m-14-7h0m3-1h0m1-23h0m2-16h0m3-28h0m4-9h0m-7-2h0m7-2h0m-14-15h0m8-6h0m3-5h0m3-4h0m0-36h0m14 26h0m3 5h0m-3 15h0m1 10h0m-7 2h0m7 29h0m0 0h0m-6 1h0m0 6h0m6 20h0m-5 30h0m-2 8h0m-2 5h0m6 12h0m5 15h0m-6 16h0m18 76h0m-9-136h0m6-1h0m-6-15h0m4-26h0m-5-19h0m3-15h0m5-5h0m-6-5h0m3-38h0m-4-13h0m28 34h0m-10 6h0m0 0h0m11 3h0m-1 64h0m-6 1h0m1 4h0m-7 10h0m3 3h0m2 19h0m-4 12h0m9 132h0m-10 4h0m17-105h0m1-54h0m11-45h0m-2-61h0m5-5h0m8 22h0m-9 15h0m7 4h0m-4 1h0m-1 18h0m-2 3h0m3 11h0m5 1h0m5 11h0m-2 7h0m1 70h0m-2 50h0m16 88h0m-3-61h0m2-34h0m2-16h0m-1-11h0m-5-14h0m-6-7h0m1-6h0m3-36h0m11-3h0m0-5h0m-9-16h0m4-5h0m-7-18h0m11-70h0m-3-2h0m14-22h0m2 2h0m2 2h0m-9 13h0m5 18h0m1 9h0m3 0h0m-5 8h0m-2 18h0m-4 5h0m9 9h0m-5 8h0m1 9h0m5 7h0m1 22h0m-1 20h0m-11 8h0m5 13h0m-3 1h0m12 10h0m-7 1h0m-2 1h0m-4 19h0m10 33h0m-12 58h0m16 33h0m10-101h0m-2-38h0m-6-3h0m-2-4h0m2-1h0m5-20h0m3-42h0m-6-9h0m0-13h0m1-3h0m6-21h0m-9-8h0m2-5h0m5-20h0m-8-4h0m1-2h0m-1-3h0m27 27h0m-8 26h0m7 85h0m7 154h0m-1-191h0m14-18h0m16-35h0m-4 36h0m-4 33h0m-2 37h0m0 5h0m5 6h0m11 94h0m1-3h0m6-115h0m-11-26h0m1-1h0m13-34h0m-15-13h0m5-8h0m3 0h0m19-98h0m0 1h0m0 14h0m-2 12h0m5 0h0m-4 2h0m2 5h0m2 0h0m-8 8h0m-1 7h0m8 10h0m1 7h0m0 19h0m-1 2h0m-6 9h0m-3 17h0m-1 2h0m0 7h0m11 2h0m-5 5h0m5 17h0m-12 9h0m8 7h0m-4 4h0m9 4h0m-1 3h0m1 28h0m-3 22h0m-2 121h0m17-61h0m-6-99h0m-5-16h0m12-22h0m-11-30h0m12-20h0m-7-10h0m0-22h0m-4-29h0m-2-4h0m4-4h0m23 30h0m-8 38h0m0 10h0m0 7h0m3 5h0m7 25h0m-12 10h0m4 67h0m2 74h0m0 13h0m17 77h0m-6-78h0m0-7h0m8-95h0m-1-4h0m-2-47h0m4-18h0m-4-4h0m0-1h0m1-10h0m4-18h0m-6-56h0m-1-10h0m6-5h0m0-6h0m5-21h0m11 72h0m-4 40h0m-2 12h0m-5 19h0m9 19h0m-7 160h0m-2 16h0m42-323h0m5 102h0m-6 14h0m5 12h0m0 10h0m-6 15h0m-4 64h0m9 88h0m3-54h0m13-10h0m-11-36h0m1-4h0m9-37h0m-6-30h0m-1-7h0m3-2h0m-6-10h0m3-5h0m5-8h0m-5-3h0m4-7h0m-4-20h0m-5-21h0m0-8h0m9 0h0m-5-8h0m4 0h0m6-4h0m-4-3h0m-3-4h0m-6-20h0m8-7h0m-4-1h0m21 43h0m-1 14h0m-5 17h0m11 4h0m-6 25h0m1 16h0m-6 9h0m4 0h0m1 11h0m5 16h0m0 1h0m-6 8h0m4 10h0m-8 24h0m8 7h0m0 47h0m6-42h0m2-31h0m8 0h0m-9-71h0m4-13h0m-2-6h0m12-13h0m9 42h0m4 33h0m-1 32h0m-4 8h0m4 4h0m18 133h0m-13-99h0m0-37h0m-2-9h0m3-3h0m12-13h0m-5-13h0m-4-53h0m9-9h0m-15-5h0m21-3h0m1 21h0m1 5h0m2 9h0m-6 27h0m-2 7h0m7 22h0m0 2h0m-8 5h0m19 40h0m-3-61h0m15-62h0m2-11h0m9 15h0m4 25h0m-5 9h0m-9 1h0m5 12h0m40-8h0m12 125h0m-5-2h0m7-121h0m-8-21h0m-2-20h0m28-29h0m1 191h0m-11 27h0m14-171h0m0-58h0m65 402h0"/>
<path stroke="#c6eb18" d="M143 153h0m-1 23h0m-1 30h0m1 27h0m-1 16h0m1 44h0m1 37h0m-5 38h0m5 21h0m-4 104h0m0 44h0m6 105h0m1-38h0m-2 0h0m0-120h0m0-167h0m1-16h0m-1-4h0m0-37h0m1-70h0m-1-5h0m4-17h0m41 220h0m-2-19h0m0-87h0m1-25h0m1-9h0m0-24h0m-5-9h0m22-29h0m-10 29h0m-4 47h0m6 2h0m-3 1h0m4 10h0m-5 2h0m11 3h0m-8 33h0m10 8h0m16-27h0m-2-26h0m-13 0h0m5 0h0m-1-16h0m2-12h0m-1-4h0m10-4h0m-14-5h0m-1-9h0m13-3h0m-9-1h0m0-44h0m-1-14h0m25 32h0m-12 19h0m13 9h0m-10 5h0m10 2h0m-3 2h0m-6 0h0m6 2h0m1 3h0m-5 6h0m1 6h0m3 2h0m-8 19h0m3 2h0m3 1h0m-6 21h0m4 2h0m2 5h0m1 2h0m5 2h0m-7 1h0m-2 8h0m5 16h0m-5 20h0m1 5h0m9 32h0m-4 6h0m-1 116h0m-2 65h0m-1 0h0m10-66h0m6-13h0m-4-29h0m-1-53h0m4-58h0m-2-14h0m-3-90h0m-1-11h0m25 0h0m5 14h0m-2 95h0m2 22h0m16 160h0m-13-86h0m3-45h0m-2-21h0m7-16h0m6-30h0m-10-17h0m7-3h0m-4-14h0m5-14h0m-12-6h0m-1-5h0m9-10h0m-8-6h0m-1-24h0m2-14h0m12-28h0m-6-2h0m1-10h0m-4-3h0m16 127h0m-1 2h0m2 72h0m-3 20h0m14 124h0m14-122h0m-11-20h0m10-18h0m1-7h0m-15-9h0m10 0h0m-7-5h0m-1-2h0m6-16h0m7-18h0m-10-4h0m-5-29h0m8-1h0m-4-2h0m6-4h0m-10-35h0m10-1h0m3-7h0m-8-6h0m5-3h0m-4-7h0m-5-5h0m5-6h0m6-6h0m-6-15h0m17 29h0m-5 39h0m5 1h0m0 1h0m0 13h0m-4 40h0m-1 4h0m1 32h0m0 5h0m-1 15h0m5 4h0m-2 15h0m0 13h0m-2 107h0m26 31h0m-3-14h0m4-18h0m0-7h0m-6-110h0m5-4h0m1-14h0m-6-10h0m2-3h0m-4-4h0m5-12h0m3-3h0m-1-41h0m-1-10h0m-6-5h0m4-19h0m-1-7h0m5 0h0m-1-2h0m-11-17h0m10-23h0m-3-4h0m13 4h0m9 10h0m-14 1h0m8 8h0m-4 1h0m10 0h0m-6 3h0m4 20h0m-12 10h0m3 2h0m1 8h0m-1 10h0m2 13h0m1 9h0m-1 22h0m7 13h0m-7 12h0m2 24h0m-5 21h0m-3 1h0m1 1h0m5 11h0m1 15h0m6 37h0m1 1h0m-12 27h0m25 152h0m-3-161h0m-6-16h0m13-41h0m-2-10h0m2-51h0m-5-16h0m5-10h0m-3-2h0m-8-7h0m5-7h0m4-1h0m-6-50h0m-3-12h0m1-27h0m5-3h0m1-44h0m7 9h0m2 8h0m4 1h0m-6 5h0m-1 40h0m-1 28h0m3 26h0m7 32h0m-3 53h0m8 14h0m11 95h0m2-79h0m-11-1h0m9-16h0m0-13h0m-9-4h0m11-4h0m-5-40h0m6-15h0m-10-9h0m4-2h0m4-6h0m-3-5h0m-2-9h0m1-5h0m5-20h0m1-5h0m0-7h0m-4-4h0m-4-21h0m3-1h0m10-31h0m-2 19h0m8 28h0m5 4h0m-9 21h0m5 2h0m2 6h0m-10 10h0m1 17h0m7 5h0m4 1h0m1 45h0m-11 2h0m2 4h0m4 17h0m1 55h0m-10 1h0m9 1h0m-2 7h0m-3 14h0m-1 19h0m-3 16h0m0 2h0m5 37h0m6 150h0m18-191h0m-1-37h0m-1-5h0m-11-2h0m8-17h0m0-21h0m2-30h0m5-16h0m-9-14h0m-1-4h0m-4 0h0m3-10h0m-3-38h0m13-8h0m-5-24h0m1-12h0m1-3h0m4-18h0m-7-7h0m5-1h0m-5-13h0m8 37h0m7 11h0m6 9h0m0 5h0m0 29h0m-4 5h0m-2 26h0m8 9h0m-11 1h0m1 7h0m6 3h0m-11 5h0m1 2h0m13 1h0m-8 23h0m4 26h0m-9 7h0m6 13h0m3 9h0m-3 4h0m-6 37h0m9 6h0m15 10h0m-3-79h0m-2-2h0m6-4h0m-2-3h0m-6 0h0m3-2h0m-1-1h0m1-26h0m8 0h0m-6-16h0m-6-1h0m13-8h0m-8-13h0m-6-30h0m14-96h0m-9-8h0m26 31h0m-8 18h0m5 12h0m0 23h0m-8 2h0m5 12h0m-7 0h0m7 2h0m1 12h0m4 6h0m-11 17h0m9 23h0m-8 25h0m10 2h0m-4 149h0m0 36h0m-4 74h0m10-174h0m14-68h0m-1-1h0m-2-7h0m-11-10h0m8-15h0m7-27h0m-4-3h0m1-14h0m0-5h0m-10-20h0m5-5h0m-4-9h0m12-23h0m-4-5h0m-3-24h0m10-26h0m0 27h0m-1 9h0m9 19h0m3 3h0m1 34h0m-12 9h0m10 13h0m1 2h0m-4 1h0m-9 0h0m11 5h0m-8 1h0m4 10h0m-3 8h0m-4 9h0m2 10h0m4 8h0m7 12h0m-13 7h0m14 1h0m-1 17h0m1 16h0m-3 11h0m-1 8h0m-4 4h0m7 54h0m-13 54h0m21-17h0m8-71h0m-12-28h0m11-1h0m-8-10h0m1-62h0m-2-3h0m12-14h0m-3 0h0m-3-33h0m4-87h0m18 9h0m-12 17h0m0 21h0m10 10h0m-7 7h0m-2 5h0m1 13h0m0 20h0m4 13h0m2 0h0m3 20h0m-5 2h0m4 8h0m-3 24h0m-1 47h0m2 14h0m-2 64h0m22-97h0m-8-86h0m7-17h0m-4-20h0m4-4h0m1-4h0m-12-24h0m12-16h0m-12-18h0m17-29h0m1 9h0m-3 5h0m9 1h0m-10 0h0m12 56h0m-4 10h0m-1 3h0m-1 19h0m-2 23h0m-2 14h0m1 19h0m-3 32h0m12 3h0m15 59h0m-3-16h0m-6-85h0m2-1h0m6-1h0m1-34h0m-10-12h0m9-14h0m12-76h0m0 6h0m-3 0h0m6 2h0m-5 4h0m3 5h0m-5 3h0m11 27h0m-8 4h0m8 8h0m-8 7h0m6 57h0m2 3h0m-4 4h0m1 14h0m-6 0h0m3 9h0m4 2h0m-8 1h0m7 13h0m-1 7h0m-3 3h0m-6 12h0m3 26h0m15 81h0m-3-21h0m7-3h0m-7-112h0m6-7h0m0-8h0m4-1h0m-9-24h0m2-2h0m1-2h0m-4-55h0m3-31h0m-2-29h0m29 24h0m-14 54h0m5 15h0m9 22h0m-6 18h0m4 14h0m-7 5h0m4 40h0m-1 91h0m12-30h0m8-74h0m-10-29h0m10-19h0m1-38h0m-9-2h0m8-7h0m-7-52h0m-4-6h0m16 70h0m-1 15h0m12 8h0m-12 47h0m15 3h0m-10 17h0m11 148h0m5-64h0m7-89h0m2-17h0m-7-3h0m-7-9h0m13-18h0m-7-39h0m-6-13h0m5-4h0m-5-7h0m27-99h0m-2 33h0m5 6h0m-6 16h0m2 1h0m3 3h0m-4 6h0m6 2h0m-3 20h0m1 2h0m-4 11h0m-9 18h0m11 10h0m1 3h0m-4 13h0m4 0h0m-6 11h0m5 0h0m-9 3h0m1 10h0m4 20h0m-7 4h0m10 18h0m-8 14h0m-2 1h0m5 15h0m1 20h0m-3 67h0m2 93h0m12-54h0m1-37h0m-2-22h0m8-132h0m0-4h0m2-12h0m5-36h0m-15-4h0m0-13h0m2-3h0m-1-19h0m0-2h0m0-11h0m1-46h0m-1-9h0m26 43h0m-9 41h0m0 6h0m0 9h0m11 26h0m-2 19h0m-5 9h0m-4 7h0m6 33h0m-6 1h0m13 11h0m-8 19h0m5 30h0m-2 8h0m-5 11h0m3 92h0m13-26h0m-4-98h0m10-18h0m2-3h0m-2-11h0m3-50h0m-2-2h0m-11-3h0m10-4h0m2-3h0m-9-10h0m0-1h0m9-14h0m-1-22h0m-4-15h0m5-1h0m-1-5h0m-9-1h0m8-8h0m2-6h0m-7-15h0m6-1h0m-3-6h0m-3-10h0m-5-20h0m9-12h0m16 18h0m-5 28h0m2 17h0m-6 2h0m5 2h0m-1 21h0m6 2h0m-8 1h0m-3 1h0m0 5h0m9 28h0m-4 0h0m-5 20h0m1 30h0m2 36h0m42-180h0m-4 12h0m3 0h0m2 52h0m0 47h0m0 36h0m1 30h0m-1 154h0m0 23h0m7-28h0m3-4h0m1-54h0m-4-18h0m-4-41h0m10-9h0m2-5h0m-13-1h0m8-18h0m-5-28h0m4-29h0m0-15h0m-1-11h0m2-12h0m-3-1h0m0-20h0m4-5h0m-6 0h0m-3-4h0m6-10h0m3-1h0m-9-3h0m3-23h0m-2-19h0m10 0h0m4-4h0m-12-9h0m5-7h0m-1-7h0m-3-2h0m-3-2h0m15 28h0m2 16h0m12 14h0m-11 37h0m3 1h0m3 4h0m-1 7h0m-4 18h0m3 4h0m5 11h0m-1 7h0m-5 15h0m4 16h0m0 42h0m-3 43h0m0 25h0m5 35h0m5 47h0m5-16h0m-5-93h0m3-12h0m-3-102h0m0-11h0m13-15h0m-8-5h0m-2-4h0m-1-21h0m4-5h0m19 41h0m2 9h0m0 20h0m-5 17h0m5 6h0m13 11h0m-9-6h0m14-2h0m-13-9h0m11-7h0m-11-10h0m7-13h0m-7-5h0m1-23h0m12-4h0m1-5h0m-7-20h0m-8-5h0m3-9h0m10 0h0m-4-9h0m10 14h0m2 10h0m6 22h0m-11 4h0m4 8h0m1 27h0m-5 2h0m5 29h0m7 34h0m-1 28h0m0 2h0m-7 27h0m5 8h0m8-122h0m12-7h0m-3-43h0m13-31h0m6 44h0m-7 22h0m-4 4h0m15-40h0m28 59h0m5 60h0m6-16h0m-8-33h0m6-26h0m-5-20h0m12-3h0m-11-28h0m22-13h0m-8 57h0m12 4h0m-12 8h0m15 41h0m10 226h0m-2-317h0m4-18h0m56 377h0m5-333h0m1-30h0m33 190h0"/>
<path stroke="#aaef17" d="M141 190h0m-1 3h0m-1 55h0m2 28h0m-1 71h0m-2 8h0m-1 89h0m6 48h0m-2 37h0m4-49h0m2-147h0m-3-53h0m0-5h0m2-4h0m2-18h0m37 134h0m2-23h0m0-76h0m-9-12h0m11-31h0m18-65h0m-3 37h0m-11 9h0m12 3h0m-12 5h0m3 3h0m1 4h0m-3 7h0m1 10h0m-3 0h0m4 1h0m8 2h0m-10 39h0m1 4h0m6 43h0m16 5h0m5-78h0m-1-5h0m-9-16h0m-1-1h0m-1-1h0m5-6h0m4 0h0m-2-9h0m-8-8h0m2-35h0m1-32h0m13 62h0m4 3h0m2 3h0m-5 22h0m9 18h0m-4 9h0m8 2h0m-13 8h0m6 5h0m5 9h0m-10 11h0m1 9h0m8 0h0m-6 2h0m5 11h0m4 63h0m-8 41h0m6 133h0m-5 11h0m5 10h0m-2 78h0m5-242h0m10-64h0m-8-49h0m5-40h0m-4-41h0m-2-23h0m20 50h0m7 111h0m3 13h0m-2 0h0m17 198h0m-3-6h0m-5-120h0m-4-16h0m5-42h0m5-5h0m-5-15h0m2-9h0m5-26h0m-3-18h0m-6-10h0m-3-2h0m11-17h0m-3-3h0m-4-20h0m-6-5h0m7-35h0m-1-3h0m0-1h0m-4-3h0m10-5h0m-12-25h0m10-23h0m-10-3h0m31 114h0m-11 2h0m2 9h0m-4 46h0m2 26h0m3 37h0m-7 22h0m14 1h0m3 134h0m3-77h0m5-81h0m2-33h0m-4-5h0m1-4h0m2-9h0m2-20h0m2-4h0m-8-35h0m4-2h0m2-10h0m-9-6h0m1 0h0m3-13h0m7-4h0m-4-1h0m2-6h0m-1-1h0m-6 0h0m3-11h0m2-3h0m5-31h0m-1-7h0m5-7h0m4 25h0m-6 4h0m2 5h0m-1 33h0m1 1h0m3 18h0m2 23h0m5 16h0m-10 13h0m1 32h0m7 5h0m-3 75h0m-4 14h0m3 27h0m2 49h0m16 28h0m-9-21h0m8-12h0m3-94h0m-7-29h0m11-13h0m-1-13h0m-12-2h0m2-19h0m7-9h0m0-25h0m-4-17h0m6-19h0m-3-10h0m2-4h0m0-1h0m2-21h0m-1-11h0m-13-30h0m14-1h0m-2-7h0m-8-2h0m13-25h0m0 10h0m4 7h0m3 8h0m-2 0h0m-3 4h0m2 3h0m-5 1h0m0 1h0m15 9h0m-6 0h0m-6 4h0m0 26h0m1 1h0m9 5h0m-13 0h0m10 15h0m-5 4h0m-2 13h0m3 23h0m7 1h0m-12 1h0m1 17h0m9 22h0m-2 3h0m0 12h0m-3 14h0m1 5h0m8 15h0m-8 22h0m2 0h0m3 5h0m-9 70h0m2 1h0m-2 17h0m18-32h0m3-43h0m7-7h0m-1-21h0m0-8h0m-5-3h0m1-4h0m-4-25h0m9-18h0m-7-2h0m-8-5h0m13-3h0m-3-14h0m2-50h0m0-2h0m-10-12h0m12-18h0m-1-12h0m1-2h0m0-3h0m-6-4h0m-4-1h0m-3-1h0m13-2h0m-5-7h0m1-38h0m8 2h0m0 19h0m10 31h0m-12 5h0m7 6h0m-5 9h0m3 19h0m3 15h0m7 20h0m-14 26h0m8 31h0m2 33h0m-2 47h0m-3 31h0m-3 65h0m5 7h0m14 47h0m3-27h0m3-31h0m-11-49h0m14-9h0m-8-2h0m-2-8h0m6-27h0m-4-5h0m7-10h0m-10-17h0m0 0h0m8-13h0m2-2h0m-3-3h0m-5-5h0m0-32h0m1-5h0m1-20h0m7-2h0m-8-10h0m3-1h0m4-34h0m-4 0h0m3-16h0m-8-2h0m2-42h0m3-3h0m1-18h0m5 19h0m0 16h0m0 19h0m4 7h0m-4 5h0m5 9h0m3 8h0m4 16h0m3 19h0m-5 36h0m2 2h0m-9 2h0m-3 9h0m15 5h0m-3 27h0m-2 6h0m-6 1h0m-4 7h0m13 98h0m1 2h0m-13 55h0m23 121h0m1-160h0m1-24h0m0-61h0m-4-38h0m5-2h0m-4-1h0m2-6h0m-5-26h0m11-8h0m-11-9h0m0-26h0m0-5h0m8-5h0m-7-7h0m0-9h0m-5-3h0m15-2h0m-5-2h0m-8 0h0m13-12h0m-11-5h0m4-7h0m3-23h0m0-2h0m4-2h0m-11-5h0m4-10h0m2-23h0m18 32h0m0 4h0m-6 1h0m1 2h0m-2 1h0m1 0h0m7 24h0m2 1h0m-3 12h0m0 64h0m-5 0h0m6 0h0m-7 9h0m-5 27h0m9 12h0m-2 55h0m-1 2h0m-6 3h0m12 17h0m-1 36h0m-3 10h0m-6 1h0m5 32h0m-7 12h0m15 18h0m6-136h0m-4-42h0m10-6h0m-1-62h0m-5-8h0m5-12h0m3-7h0m1-11h0m-7-7h0m7-3h0m-12-11h0m6-27h0m-7-6h0m1-21h0m11 0h0m-1-3h0m-11-3h0m11-14h0m-2-9h0m-2-11h0m19 82h0m-3 1h0m-8 7h0m2 5h0m7 9h0m-6 4h0m9 2h0m-8 16h0m-4 15h0m0 14h0m7 11h0m-2 1h0m-1 0h0m-2 6h0m11 18h0m-4 43h0m2 49h0m-5 5h0m-2 21h0m22-88h0m-4-11h0m-3-10h0m8-21h0m-1-3h0m-4-10h0m-1-16h0m7-3h0m-6-7h0m4-1h0m0-10h0m-8-1h0m5-10h0m-4-1h0m5-7h0m-4-18h0m0-27h0m-2-1h0m4-3h0m1-21h0m3-2h0m-3-5h0m7-2h0m11 6h0m3 8h0m-3 4h0m1 1h0m-2 3h0m4 0h0m-8 12h0m2 11h0m4 2h0m-6 12h0m8 0h0m0 1h0m-5 13h0m5 7h0m0 2h0m-4 6h0m-7 6h0m6 1h0m-1 8h0m5 4h0m0 1h0m0 3h0m-10 5h0m6 5h0m6 3h0m1 19h0m-15 25h0m5 11h0m8 2h0m0 33h0m-4 21h0m-3 36h0m3 6h0m-3 48h0m8 0h0m-12 11h0m7 155h0m10-167h0m2-31h0m2-71h0m-5-7h0m-1-8h0m10-14h0m-9-37h0m2-6h0m-2-11h0m4-6h0m-3-20h0m6-15h0m-1-32h0m-6-5h0m5-33h0m-5-34h0m19 27h0m7 2h0m3 13h0m-5 46h0m-4 1h0m1 12h0m1 11h0m0 16h0m4 1h0m0 12h0m-9 2h0m5 12h0m0 16h0m-5 6h0m6 2h0m-7 1h0m0 20h0m11 36h0m-11 13h0m10 3h0m2 7h0m-10 48h0m-2 6h0m11 6h0m0 73h0m-1 0h0m5-50h0m9-7h0m-6-53h0m11-55h0m-15-9h0m0-50h0m12-17h0m-10-23h0m8-38h0m-8-9h0m-2-27h0m11-1h0m-11-3h0m9-34h0m12-15h0m7 21h0m-3 7h0m1 33h0m1 5h0m-5 5h0m-1 2h0m10 1h0m-9 12h0m1 11h0m5 5h0m-11 1h0m7 7h0m-8 9h0m5 21h0m1 20h0m2 1h0m-6 4h0m8 3h0m-4 34h0m6 84h0m-8 74h0m1 17h0m13 45h0m11-26h0m-5-38h0m0-38h0m-6-125h0m12 0h0m-8-8h0m-4-9h0m5-18h0m0-15h0m3-3h0m-1-31h0m-6-6h0m-1-7h0m2-10h0m23-88h0m-1 7h0m5 1h0m-2 14h0m-1 2h0m-11 1h0m6 8h0m0 3h0m8 2h0m-1 29h0m1 4h0m-1 7h0m-12 2h0m3 5h0m8 18h0m-3 5h0m-1 14h0m0 3h0m-2 0h0m6 6h0m-10 7h0m-1 8h0m10 36h0m-12 0h0m1 5h0m9 38h0m1 8h0m-10 19h0m14 2h0m-13 8h0m13 9h0m-7 19h0m-6 33h0m14 71h0m0-52h0m4-76h0m0-32h0m-3-6h0m13-9h0m-9-47h0m3-9h0m-4-8h0m-2-8h0m0-30h0m2-3h0m-2-5h0m-2-3h0m6-17h0m1-31h0m-7-13h0m4-1h0m-3 0h0m7-17h0m1-44h0m7 49h0m14 34h0m-10 7h0m11 5h0m-3 9h0m3 26h0m-1 3h0m0 40h0m-6 26h0m5 5h0m-8 15h0m-1 18h0m3 45h0m3 13h0m5 41h0m0 25h0m10 0h0m6-40h0m0-15h0m-14-65h0m11-9h0m-7-33h0m2 0h0m8-2h0m-2-10h0m-3-4h0m-2-3h0m-4-6h0m8-9h0m-12-2h0m11-4h0m-5-7h0m1-11h0m5-14h0m-2-1h0m0-6h0m-7-5h0m10-2h0m-13-40h0m1-5h0m30 20h0m-5 60h0m2 21h0m-11 2h0m3 11h0m6 5h0m3 5h0m-6 9h0m-7 35h0m0 11h0m6 8h0m4 25h0m-6 4h0m0 78h0m0 7h0m26 30h0m-6-65h0m2-16h0m-9-57h0m9-5h0m0-56h0m-10-2h0m13-2h0m1-2h0m1-8h0m-12-8h0m-1-8h0m3-2h0m-1-5h0m2-6h0m-3-24h0m-2-2h0m12-4h0m2-13h0m-3-8h0m-2-11h0m12-66h0m4 37h0m0 6h0m0 6h0m-6 5h0m7 2h0m-6 4h0m9 5h0m-2 6h0m-2 0h0m1 0h0m0 22h0m-4 13h0m-4 1h0m6 13h0m1 1h0m4 4h0m-8 0h0m4 4h0m-5 23h0m8 1h0m1 7h0m-10 15h0m3 14h0m3 43h0m5 17h0m-2 22h0m2 8h0m-4 13h0m-6 11h0m-4 67h0m12 33h0m14-9h0m-10-54h0m2-43h0m4-3h0m4-1h0m-6-1h0m9-64h0m-2-7h0m-5-4h0m-6-15h0m5-10h0m1-28h0m-6-9h0m1-10h0m1-10h0m2-56h0m1-8h0m3-4h0m-7-1h0m5-8h0m-5-6h0m0-49h0m27 34h0m-5 22h0m-6 14h0m1 5h0m6 6h0m-1 5h0m1 7h0m-9 6h0m6 7h0m1 6h0m0 12h0m4 36h0m-11 3h0m15 1h0m-7 40h0m0 20h0m-5 1h0m1 75h0m0 1h0m5 1h0m-8 10h0m7 2h0m-3 82h0m0 7h0m24 34h0m-5-66h0m1-77h0m-9-13h0m2-20h0m8-8h0m-10-9h0m4-5h0m-4-21h0m5-5h0m-5-17h0m14-8h0m-7 0h0m1-20h0m6-13h0m-12-8h0m9-2h0m-2-19h0m-1-8h0m-6-16h0m7-1h0m5-28h0m-3 0h0m0 0h0m-1-2h0m4-2h0m-13-13h0m9-23h0m-2-5h0m6-2h0m-8-7h0m8-11h0m-2-3h0m0-2h0m3-19h0m-5-5h0m9 83h0m-2 57h0m3 14h0m-1 143h0m23 55h0m9-331h0m12 8h0m-1 0h0m-1 54h0m0 9h0m-5 79h0m4 63h0m2 102h0m11-12h0m-7-20h0m2-20h0m5 0h0m5-6h0m-4-5h0m-7-15h0m-2-22h0m1-13h0m6-15h0m-3-13h0m3-14h0m-7-3h0m1-2h0m4-3h0m3 0h0m-5-2h0m7 0h0m-5-5h0m-2-3h0m-2-30h0m3-12h0m2-5h0m-5-9h0m0-19h0m3-5h0m-5-16h0m6-25h0m-4-15h0m0-5h0m2-2h0m0-12h0m-1-17h0m2-5h0m25 92h0m-14 32h0m12 1h0m-2 18h0m-6 1h0m11 6h0m-3 32h0m-9 9h0m-3 0h0m13 2h0m-7 6h0m9 11h0m0 23h0m-12 2h0m6 18h0m-1 30h0m7 138h0m4-41h0m4-52h0m-7-49h0m11-81h0m-5-12h0m-3-11h0m7-16h0m-7-5h0m7-5h0m-5-20h0m-5-11h0m7-5h0m7-28h0m-12-16h0m29 24h0m-4 11h0m3 35h0m-4 84h0m4 3h0m-4 74h0m-4 6h0m9 34h0m-1 30h0m6 15h0m4-7h0m7-109h0m-2-12h0m-3-26h0m-1-42h0m4-11h0m-1-45h0m-9-11h0m0-1h0m-3-17h0m9-1h0m10-2h0m4 21h0m-1 0h0m3 8h0m6 4h0m-6 2h0m-5 0h0m9 11h0m-11 1h0m-2 1h0m8 5h0m-2 6h0m4 20h0m-5 33h0m5 4h0m-8 1h0m5 14h0m-6 58h0m6 29h0m-7 7h0m9 10h0m-8 85h0m15-149h0m1-97h0m6-31h0m6-35h0m5-6h0m7 7h0m-5 3h0m9 26h0m-4 4h0m-2 0h0m-5 21h0m1 70h0m7 109h0m-8 24h0m51-81h0m4-133h0m-7-2h0m12 0h0m-10-15h0m23 0h0m-1 44h0m13 264h0m-1-4h0m-4-175h0m-2-30h0m0-36h0m0-16h0m2-11h0m2-11h0m-4-18h0m12-22h0m35 103h0m-1-8h0m21 272h0m6-317h0m0-31h0m6-2h0m26 200h0m-2-45h0m7-142h0m127 340h0m2-229h0"/>
<path stroke="#8cef1d" d="M143 206h0m0 31h0m-2 31h0m0 8h0m-3 32h0m7 138h0m1-31h0m-1-23h0m0-123h0m-1-15h0m1-12h0m39 228h0m-4-18h0m4-90h0m5-8h0m-4-78h0m3-28h0m-2-5h0m4-9h0m-11-10h0m5-5h0m12-4h0m4 3h0m3 15h0m-6 6h0m-3 8h0m1 2h0m-3 3h0m14 5h0m0 60h0m-3 8h0m-2 43h0m-9 21h0m7 2h0m11-13h0m6-94h0m-2-28h0m-6-8h0m3-10h0m0-19h0m-2-7h0m6-10h0m-2-20h0m17-2h0m1 20h0m-3 0h0m4 5h0m6 5h0m-8 24h0m5 15h0m4 0h0m-7 17h0m-4 1h0m1 16h0m3 4h0m5 8h0m-4 12h0m-4 12h0m1 6h0m8 4h0m-11 10h0m8 6h0m0 10h0m4 6h0m-7 2h0m-7 9h0m5 85h0m4 48h0m11 176h0m-2-79h0m0-54h0m-3-193h0m1-115h0m30-28h0m0 56h0m-1 43h0m1 171h0m7 40h0m-5-23h0m6-52h0m0-37h0m-2-20h0m1-6h0m3 0h0m-4-1h0m5-3h0m-7-3h0m-1-8h0m7-4h0m-6-28h0m7-4h0m-3-3h0m1-49h0m-2-17h0m-6-15h0m12-18h0m2-13h0m-8-15h0m4-1h0m3 0h0m-2-2h0m0-3h0m-4-21h0m12 6h0m3 42h0m-6 163h0m26 235h0m5-28h0m-3-162h0m2-29h0m-10-19h0m8-15h0m-6-24h0m0 0h0m6-37h0m-2-20h0m3-16h0m1-10h0m0-6h0m-2-17h0m3-4h0m-1-26h0m-3-20h0m3-9h0m3 45h0m4 18h0m6 15h0m4 0h0m-4 1h0m-5 64h0m6 10h0m-6 14h0m-2 14h0m1 1h0m-3 3h0m4 7h0m-3 2h0m3 5h0m-4 1h0m1 40h0m-2 51h0m3 18h0m11 8h0m-9 15h0m21 15h0m2-42h0m-7-12h0m9-17h0m-1-12h0m-11-73h0m3-18h0m6-2h0m2-7h0m-8-1h0m0-2h0m4-2h0m5-2h0m0-28h0m-8-17h0m8-37h0m-10-1h0m3-11h0m-3-1h0m10-25h0m-3-1h0m-1-28h0m4-10h0m11 1h0m-6 10h0m8 7h0m-8 33h0m-4 4h0m12 43h0m1 65h0m-11 21h0m3 1h0m-4 42h0m4 0h0m8 48h0m-11 6h0m4 46h0m4 68h0m18 48h0m-7-37h0m7-37h0m3-35h0m-10-53h0m9-5h0m-1-21h0m-9-27h0m6-4h0m3 0h0m-4-86h0m-4-10h0m3-12h0m-8-52h0m11-33h0m-7-18h0m4-9h0m11 4h0m-2 4h0m6 55h0m4 17h0m1 11h0m-12 5h0m2 41h0m-2 2h0m0 48h0m5 3h0m8 14h0m-2 5h0m4 45h0m-9 6h0m3 8h0m-4 33h0m-3 12h0m2 8h0m6 45h0m-8 1h0m26 73h0m2-22h0m-4-31h0m-8-46h0m5-4h0m-3-4h0m2-86h0m2-12h0m4-35h0m-11-5h0m9-1h0m0-22h0m-1-9h0m-1-21h0m4-4h0m-10-5h0m10-10h0m-4-30h0m6-5h0m-8 0h0m1-18h0m8-16h0m-6-28h0m3-5h0m-4-3h0m5-5h0m-7-11h0m11 27h0m2 7h0m-3 4h0m4 14h0m2 4h0m-1 11h0m-4 7h0m2 3h0m4 17h0m-5 6h0m12 4h0m-14 10h0m1 21h0m8 5h0m3 6h0m-10 30h0m-1 21h0m-1 17h0m7 17h0m-3 5h0m-3 1h0m13 1h0m-7 10h0m-6 1h0m8 30h0m-5 19h0m0 41h0m-4 21h0m7 32h0m7 20h0m-10 65h0m0 10h0m20-29h0m-1-18h0m0-46h0m-3-9h0m5-15h0m2-40h0m1-52h0m-6-11h0m4-6h0m-3-29h0m7 0h0m-9-3h0m-2-19h0m7-14h0m4-12h0m-13-3h0m4-6h0m-2-65h0m8-2h0m0-4h0m-4-2h0m7-13h0m-9-6h0m2-24h0m8-1h0m-5-8h0m-1 0h0m9 19h0m8 1h0m-10 72h0m5 5h0m4 26h0m-2 10h0m-2 0h0m5 1h0m-6 1h0m1 1h0m9 16h0m-11 5h0m3 0h0m7 5h0m-2 3h0m-5 9h0m8 37h0m-3 42h0m-9 31h0m2 29h0m0 4h0m1 29h0m0 46h0m20-13h0m-9-30h0m12-75h0m-3 0h0m-9-12h0m11-16h0m-5-13h0m-1-1h0m0-7h0m3-4h0m-4-16h0m10-2h0m-1-7h0m-10-4h0m4-19h0m5-7h0m-10-1h0m2-2h0m5-12h0m-5-22h0m1-3h0m10-15h0m-4-2h0m-8-5h0m10-13h0m-1-21h0m-1-10h0m-7-2h0m1-4h0m1-2h0m8-1h0m-2-6h0m3-13h0m-12-8h0m7-4h0m1-7h0m-3-2h0m5-4h0m-10-1h0m-3-6h0m10-1h0m-4-9h0m6-12h0m-10-9h0m5-23h0m16 76h0m3 12h0m1 36h0m-4 10h0m7 6h0m-9 14h0m3 1h0m1 12h0m-7 3h0m3 1h0m-2 9h0m7 14h0m-9 19h0m9 9h0m2 1h0m-3 1h0m-6 3h0m11 55h0m-7 65h0m-7 4h0m10 33h0m-8 75h0m19-278h0m1-1h0m-6-35h0m14-4h0m-2-18h0m1-3h0m-9-19h0m1-38h0m9-3h0m-2-7h0m2-12h0m-7-12h0m12-8h0m4 20h0m2 19h0m-2 7h0m1 1h0m-1 48h0m-7 0h0m8 2h0m-1 6h0m2 13h0m3 2h0m-4 4h0m-3 2h0m7 11h0m1 11h0m-5 7h0m1 14h0m0 2h0m1 25h0m2 1h0m-4 1h0m0 9h0m6 5h0m-4 4h0m-10 36h0m12 27h0m-1 15h0m0 15h0m-6 2h0m-3 38h0m10 13h0m1 76h0m3 74h0m2-201h0m13-41h0m-12-29h0m-1-55h0m9-78h0m-7-23h0m-4-29h0m4-7h0m14 11h0m5 5h0m0 1h0m-6 6h0m12 11h0m-9 4h0m8 19h0m-4 1h0m1 7h0m0 2h0m-8 4h0m1 1h0m3 0h0m-4 1h0m8 4h0m-7 5h0m2 16h0m4 15h0m6 49h0m-5 1h0m3 26h0m-6 28h0m1 54h0m4 0h0m-1 46h0m-8 55h0m1 8h0m2 47h0m25 0h0m-1-118h0m0-17h0m-4-37h0m6-32h0m-4-40h0m2-16h0m2-3h0m-8-3h0m8-10h0m-6-13h0m-9-14h0m15-52h0m-6 0h0m6-16h0m-3-19h0m-10-14h0m11-12h0m0-24h0m6-10h0m-1 43h0m0 8h0m3 4h0m6 1h0m-5 2h0m-6 10h0m0 2h0m1 17h0m3 3h0m-4 10h0m14 19h0m-10 3h0m-4 22h0m6 25h0m-5 30h0m14 8h0m-4 9h0m4 0h0m-12 31h0m7 2h0m-4 63h0m4 45h0m-2 34h0m13 3h0m8-77h0m-8-26h0m-4-71h0m7-12h0m-3-2h0m3-3h0m-4-1h0m4-30h0m-2-18h0m1-2h0m-1-11h0m2-23h0m-7-55h0m23-93h0m-1 27h0m4 22h0m-4 2h0m4 17h0m2 14h0m-2 13h0m1 8h0m0 11h0m-5 12h0m7 18h0m0 1h0m-12 4h0m11 0h0m2 7h0m-5 0h0m-9 0h0m7 11h0m1 7h0m4 11h0m2 18h0m-11 3h0m5 34h0m5 33h0m-12 20h0m13 11h0m-3 26h0m2 76h0m8-25h0m4-7h0m-5-23h0m-1-8h0m8-103h0m-7-50h0m-2-7h0m-1-8h0m1-4h0m0-31h0m-1-18h0m1-1h0m-1-12h0m-2-31h0m3-27h0m-1-1h0m-2-45h0m28 47h0m-6 37h0m4 20h0m3 15h0m-6 9h0m6 6h0m-5 16h0m3 4h0m2 5h0m-5 14h0m3 48h0m3 36h0m-7 24h0m0 7h0m0 8h0m-1 4h0m18 89h0m0-2h0m5-28h0m-4-11h0m5-5h0m-11-36h0m4-38h0m-3-2h0m-3-12h0m11-10h0m-11-3h0m9-2h0m2-21h0m-7-18h0m4-33h0m-9-6h0m5-5h0m-4 0h0m9-1h0m5-12h0m-13-13h0m-1-15h0m0-2h0m4-3h0m5-9h0m-3 0h0m3-2h0m-3-3h0m4-2h0m-10-3h0m3-3h0m4-9h0m1-29h0m7 72h0m14 6h0m-7 0h0m0 5h0m7 3h0m1 32h0m-6 8h0m-1 4h0m3 8h0m-5 1h0m-4 7h0m2 33h0m-4 13h0m0 56h0m3 65h0m19-98h0m7-21h0m-12-1h0m13-7h0m1-2h0m-6-24h0m-5-7h0m-3-39h0m-1-1h0m12-2h0m-9-9h0m-1-9h0m11-1h0m-9-7h0m6-10h0m4-21h0m17-40h0m-9 23h0m0 2h0m-4 1h0m5 1h0m6 5h0m1 3h0m-2 0h0m1 1h0m-7 13h0m6 7h0m-12 1h0m10 5h0m1 1h0m-8 10h0m3 6h0m7 13h0m-10 4h0m0 7h0m12 10h0m-7 0h0m7 7h0m-13 3h0m0 22h0m5 62h0m-1 3h0m8 2h0m-11 11h0m1 2h0m0 12h0m1 14h0m1 1h0m1 9h0m7 24h0m-3 19h0m-1 14h0m1 24h0m5-20h0m4-73h0m-2-13h0m3-2h0m1-49h0m9-6h0m-10 0h0m9-29h0m-1-4h0m-10-35h0m-3-5h0m0-17h0m15-5h0m-15-66h0m2-26h0m6 0h0m8 17h0m11 0h0m3 20h0m-12 48h0m6 5h0m3 23h0m-5 1h0m9 9h0m-12 30h0m3 1h0m-2 18h0m4 5h0m-6 7h0m11 1h0m-5 7h0m2 9h0m-2 17h0m-8 7h0m8 56h0m-3 67h0m-1 54h0m20-107h0m5-56h0m-13-3h0m12-52h0m-5 0h0m-4-20h0m11-6h0m0-1h0m0-18h0m-14-9h0m12-2h0m-11-12h0m14-10h0m0-4h0m-4-23h0m-3-4h0m6-4h0m-8-5h0m8-18h0m-5-18h0m2-22h0m-1-4h0m10-19h0m4 75h0m-1 65h0m-4 13h0m12 2h0m-10 35h0m25 134h0m16-319h0m-9 77h0m4 21h0m-3 6h0m9 1h0m0 0h0m-9 14h0m4 73h0m3 10h0m-13 2h0m12 11h0m-3 10h0m-6 33h0m12 22h0m-2 25h0m-1 1h0m8 16h0m4-6h0m-8-41h0m0-86h0m3-3h0m4-23h0m-5-12h0m0-1h0m10-8h0m0-23h0m3-10h0m-8-7h0m2-10h0m-3-9h0m-2-10h0m3-20h0m5-7h0m-8-1h0m4-5h0m4-6h0m-11-1h0m10-3h0m-4-12h0m3-6h0m-7-6h0m0-5h0m-1-10h0m10-13h0m-10-24h0m27 45h0m-3 50h0m-10 17h0m3 10h0m8 17h0m-5 199h0m7 34h0m9 25h0m7-95h0m-11-4h0m-2-100h0m2-98h0m-2-37h0m31 30h0m-4 4h0m-3 18h0m-8 6h0m12 21h0m-1 5h0m-4 32h0m5 14h0m-1 5h0m4 31h0m-4 12h0m-2 43h0m0 4h0m15 51h0m2-49h0m-2-7h0m3-60h0m0-32h0m-11-14h0m15 0h0m-3-3h0m3-10h0m-8-12h0m-5-3h0m12-2h0m-8-5h0m-5-1h0m5-6h0m-5-14h0m4-44h0m21 39h0m3 3h0m-6 18h0m2 0h0m2 10h0m3 10h0m-10 11h0m7 2h0m-5 10h0m1 7h0m-3 10h0m-4 7h0m15 46h0m-2 11h0m-12 15h0m11 39h0m-2 21h0m-4 54h0m24-151h0m4-102h0m-1 68h0m16-92h0m28 57h0m4 109h0m9-109h0m3-2h0m-12-20h0m1-13h0m10-23h0m-3-2h0m16 2h0m3 78h0m0 2h0m-10 59h0m18 294h0m4-11h0m5-50h0m-12-37h0m10-152h0m-5-10h0m8-94h0m-12-9h0m7-30h0m-7-9h0m1-3h0m8-14h0m-9-17h0m45 83h0m-1-1h0m24 283h0m0-2h0m4-4h0m-3-210h0m7-101h0m-5-12h0m4-20h0m-3-8h0m-1-3h0m6-10h0m-4-12h0m5 57h0m23 247h0m39-239h0m-4-31h0m2-11h0m4-2h0m3 33h0m0 14h0m24 180h0m2-58h0m60 199h0m0-2h0m2-9h0m4-195h0m0-2h0m0-48h0"/>
<path stroke="#6bea34" d="M140 198h0m-4 281h0m8-148h0m2-290h0m43 370h0m-9-8h0m6-20h0m2-129h0m-1-17h0m15-51h0m4 3h0m-3 23h0m-10 45h0m11 12h0m-9 26h0m-3 62h0m0 95h0m2 27h0m10 177h0m15-302h0m3-1h0m-4-1h0m-4-4h0m-1-51h0m-4-18h0m13-3h0m-12-10h0m5-13h0m-7-17h0m11-12h0m-11-3h0m1-23h0m2 0h0m-1 0h0m-1-1h0m28-14h0m-4 116h0m-9 12h0m7 19h0m4 11h0m-7 19h0m4 34h0m4 124h0m3 25h0m-2 26h0m-4 93h0m14-146h0m-6-10h0m-1-168h0m3-107h0m24 187h0m0 21h0m2 25h0m2 2h0m-3 12h0m3 32h0m-5 5h0m8 106h0m4-94h0m5-2h0m2-105h0m-11-13h0m11-5h0m-2-5h0m0-3h0m-5-4h0m-6-2h0m7-11h0m-1-4h0m1-2h0m-1-28h0m-5-13h0m14-26h0m-4-20h0m-2-16h0m2-2h0m-7-8h0m8-10h0m-1 0h0m-4-11h0m0-16h0m4-12h0m8 110h0m3 23h0m24 265h0m-6-55h0m-1-27h0m4-40h0m-6-78h0m6-44h0m-2-31h0m1-1h0m2-35h0m0-37h0m0-2h0m0-57h0m-8-8h0m16 7h0m6 24h0m5 136h0m-13 8h0m9 22h0m-7 20h0m2 48h0m-1 2h0m-1 50h0m2 55h0m-2 11h0m17 14h0m-1-92h0m6-51h0m-7-4h0m11 0h0m-1-20h0m-1-5h0m-3-23h0m5-1h0m1-2h0m-1-2h0m-3-4h0m-8-3h0m-3-33h0m3-11h0m6-49h0m2-14h0m-3 0h0m-4-63h0m0-2h0m2-10h0m17-15h0m-5 2h0m5 9h0m-6 18h0m1 44h0m8 25h0m-10 24h0m7 17h0m2 2h0m-8 27h0m-1 6h0m5 4h0m-4 4h0m7 5h0m1 10h0m2 19h0m0 94h0m3 10h0m-12 42h0m-2 7h0m1 12h0m16 62h0m11-23h0m-6-70h0m8-5h0m-5-11h0m5-2h0m0-8h0m-1-23h0m-2-4h0m0-36h0m2-2h0m-13-13h0m14-25h0m-7-1h0m3-29h0m2-1h0m2-8h0m-4-25h0m1-3h0m0-11h0m-1-1h0m-4-15h0m3-4h0m-2-3h0m8-8h0m-4-11h0m2-2h0m0-2h0m-3-6h0m4-9h0m-3-2h0m0-9h0m-3-1h0m1-26h0m4-7h0m-3-12h0m4-3h0m-5-18h0m-2-3h0m5-18h0m-2-5h0m5-2h0m3 14h0m-2 62h0m5 21h0m-3 41h0m2 9h0m-4 0h0m11 4h0m-3 10h0m-3 40h0m1 1h0m-2 6h0m-2 11h0m-1 1h0m1 67h0m6 1h0m4 48h0m-10 5h0m-1 23h0m4 8h0m23 39h0m-8-63h0m3-40h0m3-9h0m4-24h0m-4-33h0m-5-2h0m-2-26h0m11-18h0m-3-3h0m2-11h0m-1-11h0m-7-50h0m4-4h0m-2-8h0m6-25h0m-8-4h0m9-13h0m-7-50h0m-3-6h0m13 19h0m-1 8h0m7 8h0m5 8h0m-1 34h0m1 10h0m-9 31h0m6 3h0m-8 15h0m9 10h0m2 17h0m-3 36h0m-8 12h0m4 0h0m0 7h0m8 21h0m2 10h0m-7 5h0m-1 6h0m0 18h0m-1 4h0m-4 20h0m2 18h0m0 9h0m-4 21h0m4 54h0m-4 16h0m11 101h0m17-16h0m-3-54h0m4-17h0m-13-25h0m9-6h0m-4-1h0m3-7h0m-5-7h0m7-19h0m-7 0h0m7-13h0m3-10h0m-1-19h0m-4-1h0m0-27h0m-1-18h0m2-1h0m-1-28h0m5-5h0m-12-37h0m12-4h0m-4-3h0m-2-5h0m1-7h0m6-1h0m-3-3h0m-6-3h0m4-3h0m-9-15h0m9-20h0m6-13h0m-7-7h0m2-11h0m3-1h0m-4-43h0m-3-40h0m19 21h0m-4 20h0m9 19h0m0 8h0m1 39h0m-10 0h0m-3 3h0m7 7h0m-3 12h0m1 21h0m4 1h0m-1 7h0m3 4h0m0 4h0m0 13h0m-1 2h0m0 1h0m-4 4h0m-6 6h0m-2 0h0m9 9h0m1 14h0m2 3h0m-8 39h0m9 18h0m0 28h0m0 1h0m-9 11h0m-3 1h0m6 34h0m-7 13h0m2 9h0m0 9h0m7 47h0m-7 1h0m3 27h0m-3 7h0m29-29h0m-2-62h0m-1-2h0m-6-24h0m-5-16h0m12-4h0m-2-25h0m3-8h0m-7-16h0m7-3h0m-13-38h0m3-17h0m0-4h0m3-3h0m-6-2h0m9-6h0m-3 0h0m-6-13h0m2-15h0m0-1h0m5-12h0m6-3h0m1-11h0m-5-10h0m1-29h0m-7 0h0m10-5h0m-11-14h0m2-14h0m4-19h0m-2-4h0m1-19h0m-5 0h0m2-1h0m1-9h0m7-6h0m-4-6h0m0-11h0m-6-2h0m18 23h0m1 12h0m6 41h0m-3 2h0m4 0h0m-6 18h0m5 11h0m3 9h0m-3 2h0m1 0h0m1 2h0m-11 15h0m6 1h0m-4 18h0m5 17h0m-3 0h0m-1 8h0m-3 2h0m12 5h0m-14 12h0m0 10h0m0 11h0m4 18h0m-3 4h0m7 2h0m-2 39h0m2 1h0m3 31h0m-8 6h0m-2 21h0m8 148h0m7-219h0m10-32h0m-11-12h0m5-10h0m-2-11h0m12-3h0m-6-9h0m-3-22h0m-1-10h0m2-13h0m-6-15h0m12-20h0m-2-52h0m-3-15h0m2-1h0m2-29h0m10-12h0m7 29h0m-4 95h0m-5 15h0m10 21h0m-3 45h0m3 4h0m-6 1h0m3 31h0m-3 36h0m4 0h0m-7 15h0m9 73h0m-7 14h0m6 84h0m6-59h0m-3-12h0m9-11h0m0-57h0m-8-14h0m-1-140h0m2-24h0m8-6h0m-10-2h0m0-45h0m5-9h0m22-67h0m-5 23h0m5 24h0m3 16h0m-4 17h0m-6 9h0m-4 7h0m14 13h0m1 16h0m-2 4h0m-1 0h0m-4 12h0m4 24h0m-2 4h0m1 11h0m-3 24h0m-8 3h0m10 11h0m3 1h0m-11 1h0m12 22h0m-14 5h0m1 11h0m2 7h0m11 28h0m-11 8h0m4 67h0m-3 18h0m5 8h0m3 35h0m15-120h0m3-27h0m-6-59h0m-2-47h0m4-14h0m-9-7h0m8-11h0m-5-25h0m8-12h0m3-33h0m-5-5h0m4-7h0m5-87h0m0 15h0m0 22h0m1 9h0m8 4h0m-9 2h0m-1 18h0m2 4h0m-2 10h0m3 26h0m8 1h0m-10 9h0m7 9h0m-4 10h0m-5 2h0m1 10h0m4 16h0m-5 5h0m2 2h0m6 1h0m1 31h0m1 8h0m-1 4h0m-2 23h0m-6 21h0m10 10h0m-4 6h0m-5 0h0m3 1h0m1 0h0m7 17h0m-11 19h0m-1 12h0m1 26h0m4 8h0m4 85h0m-10 46h0m18-76h0m4-52h0m-2-48h0m2-10h0m8-4h0m-9-6h0m2-22h0m-2-30h0m1-8h0m-4-42h0m12-2h0m-3-10h0m-5-7h0m6-12h0m2-3h0m-10-1h0m-4-2h0m0-12h0m1-20h0m8-18h0m-7-18h0m10-67h0m18 59h0m-9 3h0m-2 5h0m10 4h0m-2 6h0m-6 13h0m3 2h0m-6 8h0m1 26h0m8 10h0m-3 6h0m-2 13h0m2 2h0m0 52h0m4 10h0m-13 7h0m14 19h0m-7 29h0m-1 3h0m-1 28h0m9 18h0m-2 21h0m-10 10h0m11 63h0m6-24h0m4-11h0m-5-149h0m5-17h0m0-54h0m-6-40h0m4-6h0m1-8h0m-4-11h0m0-7h0m3-61h0m1-15h0m5-35h0m15 84h0m-6 4h0m5 2h0m-6 0h0m3 9h0m4 6h0m4 5h0m-1 9h0m-7 1h0m2 4h0m3 1h0m4 12h0m-6 8h0m-2 1h0m0 22h0m5 8h0m-2 10h0m-5 57h0m5 0h0m4 60h0m0 11h0m-3 125h0m19-86h0m-3-12h0m1-29h0m-4-9h0m-4-17h0m7-2h0m4-1h0m-8-11h0m0-11h0m3-12h0m-5-17h0m7-2h0m-1-32h0m1-6h0m2-4h0m-3-3h0m2-3h0m-2-8h0m-1-11h0m-3-3h0m6-5h0m-8-23h0m8-5h0m1-6h0m-5 0h0m-6-42h0m4-20h0m-7-12h0m21 25h0m-1 25h0m8 23h0m-12 7h0m1 8h0m5 16h0m-1 2h0m-4 6h0m13 11h0m-10 26h0m-2 3h0m0 0h0m5 7h0m0 5h0m-3 16h0m-4 42h0m3 7h0m2 20h0m1 8h0m-3 23h0m-1 34h0m3 13h0m-5 25h0m22 27h0m5-149h0m1-85h0m0-2h0m2-3h0m-9-1h0m-5-36h0m1-10h0m9-18h0m-7-9h0m9-32h0m19-7h0m0 0h0m-3 5h0m-2 3h0m4 15h0m-4 2h0m1 2h0m-1 19h0m1 4h0m2 3h0m-3 16h0m-5 6h0m10 5h0m-14 10h0m9 11h0m-1 1h0m1 0h0m0 0h0m-10 14h0m5 7h0m-1 15h0m2 17h0m-5 0h0m5 6h0m3 10h0m2 29h0m-7 2h0m1 7h0m9 7h0m-5 7h0m1 8h0m-7 1h0m11 5h0m-14 8h0m14 13h0m-11 4h0m2 9h0m6 21h0m-11 4h0m0 2h0m9 0h0m-2 6h0m-1 11h0m-4 4h0m11 2h0m4-53h0m9-2h0m-6-23h0m-1-4h0m8-50h0m-4-1h0m-4-26h0m-3-3h0m12-28h0m-7-22h0m-5-14h0m6-9h0m6-60h0m-11 0h0m6-15h0m-7-30h0m28 59h0m-10 4h0m11 5h0m-2 13h0m-7 3h0m-2 11h0m13 30h0m-5 9h0m-8 39h0m1 52h0m10 21h0m-9 5h0m-2 7h0m5 4h0m0 3h0m4 6h0m1 1h0m-4 11h0m-3 11h0m2 7h0m1 14h0m6 37h0m-7 7h0m24 18h0m-3-74h0m-9-64h0m-3-24h0m8-12h0m0-21h0m-4-38h0m0-1h0m1-3h0m9-15h0m-14-42h0m9-2h0m6-9h0m-2-11h0m0-56h0m-6-13h0m9 105h0m15 3h0m-13 54h0m28 165h0m1-34h0m-9-56h0m19-278h0m0 92h0m5 13h0m-2 66h0m-10 48h0m12 3h0m-9 23h0m10 9h0m-7 26h0m6 11h0m-5 20h0m10 4h0m-2-12h0m4-2h0m-3-13h0m0-9h0m1-46h0m-1-10h0m6-28h0m4-5h0m-2-10h0m4-3h0m0-2h0m-6-15h0m-7-13h0m3-9h0m4-3h0m-3-3h0m1-8h0m0-23h0m-6-7h0m2-18h0m-2-12h0m5-11h0m2-11h0m-1-20h0m1-7h0m2-15h0m12 82h0m0 10h0m1 31h0m-3 61h0m6 0h0m3 3h0m-1 27h0m-3 186h0m-2 6h0m15 126h0m9-100h0m-10-55h0m-2-237h0m4-31h0m21-12h0m1 11h0m-5 14h0m1 20h0m7 3h0m-10 23h0m1 118h0m3 33h0m1 7h0m6 114h0m14-104h0m-4-10h0m-1-10h0m-6-13h0m10-10h0m1-18h0m-11-24h0m0-27h0m6-3h0m-6-13h0m8-6h0m0-27h0m-8-3h0m-3-19h0m0-8h0m7-61h0m16 16h0m1 25h0m-4 21h0m-3 7h0m2 22h0m4 58h0m5 9h0m-5 6h0m0 9h0m-5 20h0m9 137h0m8-98h0m12-80h0m0-135h0m-9-5h0m12-20h0m6 49h0m2 18h0m-1 8h0m-6 52h0m49 292h0m8-324h0m-8-71h0m-3-18h0m26 29h0m-6 30h0m9 74h0m-8 113h0m8 106h0m5 101h0m7-24h0m-5-55h0m-1-16h0m-4-158h0m5-61h0m-3-51h0m0-37h0m9-36h0m34 149h0m20 212h0m8-311h0m5-21h0m-1-14h0m-2-34h0m25 334h0m2-24h0m-3-133h0m41-59h0m3-48h0m-1-22h0m0-6h0m39 172h0m57 181h0"/>
<path stroke="#52e747" d="M142 195h0m-1 6h0m-1 273h0m-3 74h0m8-78h0m35-106h0m7-118h0m0-19h0m16-16h0m-3 9h0m-4 10h0m-1 10h0m1 26h0m9 26h0m-8 72h0m4 45h0m7-143h0m0-95h0m26 44h0m4 75h0m-8 4h0m5 13h0m-3 13h0m5 173h0m5 159h0m-2-209h0m0-3h0m29-126h0m0 50h0m1 149h0m-6 35h0m23 34h0m-7-2h0m6-4h0m-13-14h0m-1-64h0m1-39h0m11-2h0m0-3h0m-1-70h0m4-2h0m-6-4h0m-5-6h0m10-21h0m-6-18h0m5-14h0m-10-14h0m3-4h0m5 0h0m-10-12h0m-1-28h0m7-15h0m1-41h0m11 56h0m-1 81h0m-1 22h0m1 26h0m-2 0h0m0 28h0m8 82h0m-1 3h0m-6 2h0m-1 138h0m16-107h0m12-8h0m-3-29h0m0-28h0m1-58h0m5-16h0m-10-5h0m-1-21h0m4-41h0m-3-21h0m-2-1h0m5-43h0m11-53h0m0 7h0m7 76h0m-1 46h0m-6 4h0m2 87h0m-3 111h0m21 91h0m4-68h0m-2-67h0m-4-80h0m4-21h0m2-2h0m4-11h0m-3-48h0m-1-17h0m-3-55h0m6-80h0m11 13h0m-8 87h0m12 8h0m1 21h0m-6 4h0m-7 9h0m1 45h0m11 33h0m-7 5h0m4 36h0m-10 4h0m13 0h0m-13 9h0m14 3h0m-8 1h0m1 0h0m3 29h0m-1 7h0m-3 6h0m-1 32h0m-2 7h0m18 55h0m10-77h0m-9-2h0m7-5h0m2-12h0m-15-14h0m0-2h0m9-24h0m-5-4h0m3-7h0m4-11h0m0-4h0m4 0h0m0-19h0m-1-6h0m-2-11h0m0-10h0m-12-3h0m15-13h0m-4-4h0m0-19h0m0-29h0m-6-1h0m2 0h0m-7-19h0m9-32h0m3-5h0m3-18h0m-14-24h0m9-22h0m3-20h0m-2-4h0m5 3h0m7 59h0m-3 124h0m-1 0h0m-2 41h0m11 63h0m-11 7h0m12 10h0m-6 1h0m-4 31h0m0 54h0m25 26h0m-3-2h0m-4-11h0m7-6h0m0-1h0m-2-23h0m-1-27h0m-9-3h0m6-13h0m1-36h0m6-8h0m-5-2h0m2-1h0m3-10h0m-1-64h0m-9-7h0m-1-4h0m10-13h0m-4-15h0m-7-61h0m1-3h0m5-23h0m14-43h0m-2 62h0m6 10h0m-8 2h0m13 9h0m-13 2h0m8 51h0m-7 7h0m12 15h0m-9 15h0m-5 6h0m3 24h0m3 0h0m5 15h0m2 5h0m-1 35h0m1 9h0m-13 10h0m3 13h0m0 19h0m7 20h0m5 87h0m-7 27h0m2 50h0m15-52h0m2-14h0m3-19h0m-11-34h0m9-16h0m-3-15h0m6 0h0m-1-1h0m-1-5h0m-6-5h0m0-4h0m-4-21h0m1-5h0m5-2h0m-3-7h0m7-61h0m-13-29h0m12-3h0m-7-13h0m4-13h0m-7-11h0m11-2h0m-2-4h0m3-2h0m-4-3h0m-1-14h0m3-26h0m-3-22h0m6-16h0m-5-10h0m3-19h0m-5-24h0m0-19h0m4-3h0m-1-12h0m-2-6h0m10 52h0m5 4h0m-5 3h0m12 22h0m-2 5h0m-2 1h0m-2 8h0m-1 14h0m4 63h0m-9 14h0m5 7h0m-7 13h0m2 5h0m9 14h0m-11 14h0m8 8h0m1 20h0m-6 1h0m8 10h0m-7 7h0m-5 24h0m15 2h0m-9 18h0m-4 12h0m13 7h0m-11 10h0m5 23h0m-4 29h0m3 49h0m13 19h0m2-23h0m5-70h0m-1-16h0m-9-35h0m8-20h0m2-27h0m-2-29h0m-5-11h0m10-13h0m-15-3h0m11-12h0m-7-1h0m8-4h0m-2-4h0m-4-8h0m-4-13h0m6-20h0m-2-3h0m3-4h0m0-6h0m-1-4h0m-3-1h0m6-7h0m-6-7h0m10-3h0m-8-5h0m0-4h0m4-2h0m1-12h0m-2-36h0m-8-2h0m-2-15h0m7-10h0m1-41h0m3-4h0m-3-16h0m23 74h0m-13 11h0m1 37h0m0 21h0m3 4h0m1 9h0m-7 12h0m1 1h0m6 1h0m-4 16h0m12 8h0m-1 10h0m-13 7h0m13 9h0m-12 2h0m13 12h0m-12 15h0m12 1h0m-2 25h0m-1 10h0m-11 16h0m3 1h0m-3 92h0m2 7h0m5 38h0m21-95h0m-11-32h0m8-113h0m-5-7h0m4-19h0m-5-1h0m7-1h0m4-2h0m-11-3h0m9-20h0m-13-4h0m6-15h0m8-3h0m-1-40h0m-7-1h0m-4-8h0m2-31h0m8-3h0m-10-11h0m28 4h0m1 2h0m-8 56h0m7 36h0m0 29h0m-3 17h0m-10 5h0m13 62h0m-2 12h0m-3 9h0m0 20h0m-6 5h0m9 26h0m1 15h0m-7 6h0m8 25h0m-3 0h0m-5 77h0m7 5h0m1 29h0m-5 28h0m21-29h0m-14-68h0m2-7h0m0-63h0m4-21h0m7-18h0m-7-23h0m-5-10h0m2-7h0m4-24h0m1-21h0m-8-1h0m7-10h0m-6-38h0m1-45h0m5-75h0m21 24h0m1 55h0m-6 85h0m-2 6h0m4 25h0m-5 17h0m11 1h0m-10 29h0m2 9h0m-4 2h0m10 1h0m-4 31h0m2 2h0m-1 28h0m-8 4h0m4 28h0m0 80h0m8 18h0m15-89h0m-11-5h0m11-3h0m-8-36h0m-1-4h0m7-38h0m-2-14h0m-8-7h0m8-134h0m0-1h0m-8-3h0m12-15h0m1-2h0m0-1h0m-2-12h0m10-67h0m0 11h0m-2 1h0m-2 19h0m1 14h0m7 6h0m-9 8h0m3 2h0m2 13h0m-2 9h0m6 7h0m0 4h0m3 1h0m-3 23h0m-3 0h0m-6 3h0m10 10h0m-7 18h0m8 2h0m-4 2h0m-8 11h0m3 2h0m8 6h0m-7 24h0m-2 53h0m0 5h0m4 4h0m9 8h0m-3 11h0m-7 1h0m8 11h0m-6 2h0m3 19h0m5 7h0m0 16h0m-7 39h0m4 5h0m-7 52h0m12-65h0m14-2h0m-5-17h0m-7-43h0m6-33h0m5-23h0m-8-14h0m-1-6h0m-2-18h0m3-31h0m-4-19h0m2-8h0m7-23h0m0-23h0m-11-7h0m4-16h0m17-132h0m5 31h0m3 16h0m-7 26h0m3 13h0m1 24h0m-2 8h0m0 18h0m-5 50h0m11 4h0m-9 2h0m-1 10h0m6 0h0m4 1h0m-9 4h0m7 4h0m-7 21h0m9 27h0m-1 11h0m-2 9h0m2 4h0m1 2h0m-6 37h0m2 6h0m-7 30h0m3 4h0m-6 36h0m4 39h0m17 20h0m-1-37h0m-2-79h0m2-34h0m3-8h0m-7-5h0m9-37h0m4-25h0m-5-15h0m-6-76h0m5-4h0m-6-15h0m4-8h0m8-47h0m-12-27h0m25 12h0m3 50h0m0 8h0m1 5h0m-2 12h0m-8 3h0m11 4h0m-5 44h0m1 12h0m0 6h0m0 10h0m-10 8h0m5 17h0m0 4h0m5 23h0m-7 22h0m7 6h0m-7 22h0m-4 2h0m6 74h0m5 82h0m18 42h0m-8-15h0m-4-58h0m6-1h0m0-14h0m-7-40h0m9-44h0m2-15h0m-11-17h0m15-10h0m0-4h0m-8-11h0m1-13h0m7 0h0m-9-5h0m-5-46h0m14-28h0m-10-9h0m0-3h0m-4-3h0m1-3h0m0-12h0m-1-12h0m11-22h0m-3-1h0m-3-1h0m1-56h0m-7-16h0m16 42h0m2 1h0m12 39h0m-6 5h0m0 27h0m-7 19h0m5 15h0m5 27h0m-11 27h0m14 0h0m-2 3h0m-11 4h0m9 4h0m5 21h0m-10 10h0m0 20h0m-1 13h0m7 0h0m-2 14h0m-2 14h0m4 28h0m-7 22h0m1 32h0m2 39h0m11-186h0m13-59h0m-10-14h0m3-3h0m-4-20h0m7-2h0m-1-5h0m-4-6h0m-3-27h0m7-50h0m-7-12h0m12-19h0m-3-4h0m14-38h0m0 59h0m-1 33h0m-8 9h0m11 6h0m-6 15h0m1 3h0m5 2h0m-11 25h0m9 0h0m-3 1h0m-2 4h0m-5 15h0m9 13h0m-7 51h0m12 5h0m-4 12h0m-10 15h0m3 6h0m-1 5h0m2 22h0m4 17h0m-8 21h0m6 4h0m-3 41h0m12 10h0m-15 54h0m15 38h0m3-80h0m4-34h0m1-69h0m-4-7h0m-2-14h0m-1-9h0m2-49h0m0-7h0m5-18h0m-7-48h0m2-27h0m-2-3h0m3-3h0m-1-17h0m9-27h0m-9-38h0m-2-49h0m19 94h0m4 78h0m3 1h0m-2 11h0m-2 21h0m2 71h0m-7 6h0m11 16h0m-6 27h0m7 18h0m-6 43h0m-4 3h0m28 12h0m-4-20h0m1-20h0m-4-72h0m5-59h0m0-6h0m1-43h0m-7-23h0m2-53h0m3-28h0m-7-51h0m11 72h0m0 47h0m0 11h0m11 7h0m-1 164h0m-10 50h0m29-47h0m13-295h0m-1 150h0m6 10h0m-1 18h0m1 6h0m-12 24h0m1 50h0m1 7h0m8 4h0m-8 22h0m1 9h0m9 5h0m-13 14h0m15 72h0m8-35h0m4-25h0m-4-13h0m2-5h0m-11-36h0m3-35h0m-2-2h0m1-86h0m4-19h0m4-2h0m-4-9h0m0-40h0m-4-10h0m8-9h0m-5-21h0m-3-64h0m7-27h0m17 136h0m3 252h0m1 130h0m13 37h0m-6-35h0m1-226h0m0-156h0m16-52h0m3 58h0m2 18h0m-1 108h0m2 20h0m-1 56h0m3 143h0m0 55h0m4-81h0m11-59h0m-12-13h0m14-36h0m-8-15h0m-7-13h0m5-56h0m-5-13h0m12-13h0m1-16h0m0-2h0m-6-3h0m2 0h0m-9-1h0m0-22h0m13-33h0m-12-28h0m6 0h0m-4 0h0m8-43h0m-11-2h0m5-23h0m18 25h0m0 28h0m6 2h0m-9 0h0m4 38h0m-6 15h0m8 36h0m3 17h0m-9 1h0m-1 25h0m0 50h0m1 54h0m19 127h0m3-132h0m-10-60h0m10-96h0m-2-82h0m16 52h0m-1 68h0m2 70h0m0 17h0m-7 14h0m12 5h0m-6 25h0m19-198h0m19-17h0m6 382h0m0-164h0m6-161h0m14-16h0m4 5h0m2 109h0m9 119h0m1-95h0m-7-26h0m6-117h0m-1-2h0m-3-61h0m40 247h0m-2-158h0m35-56h0m-6-29h0m32 299h0m3-9h0m-6-36h0m6-134h0m1-153h0m41 16h0m-2 82h0m32 69h0m59-8h0m1-18h0m0-103h0m4 139h0"/>
<path stroke="#42e757" d="M139 626h0m5-28h0m41-202h0m4-96h0m-11-30h0m12-68h0m6 4h0m2 163h0m3 66h0m-9 26h0m23-181h0m-4-38h0m1-4h0m25-9h0m-5 128h0m10 221h0m0-236h0m25-28h0m-1 158h0m-4 29h0m9 76h0m6 67h0m7-88h0m-1-20h0m4-8h0m-7-26h0m1-44h0m2-1h0m-3-79h0m6-1h0m-12-26h0m13-9h0m-9-101h0m9-50h0m-12-35h0m13 183h0m3 1h0m8 6h0m-10 44h0m7 43h0m5 58h0m2 125h0m11-152h0m2-14h0m-6-56h0m-2-55h0m9-5h0m0-10h0m-4-22h0m0-8h0m-3-54h0m22-11h0m-7 22h0m3 124h0m-5 38h0m0 106h0m10 27h0m1 1h0m-1 52h0m-1 14h0m11-114h0m3-3h0m-8-34h0m9-37h0m2-42h0m-10-5h0m-1-1h0m1-32h0m7-58h0m-1-54h0m6-26h0m4-10h0m2 13h0m10 7h0m-7 64h0m-7 5h0m9 3h0m-6 24h0m3 17h0m-2 4h0m7 19h0m-10 28h0m-1 6h0m1 14h0m8 57h0m1 12h0m1 26h0m-10 19h0m3 75h0m10 72h0m10-17h0m-3-18h0m-1-38h0m8-19h0m-1-13h0m3-22h0m-1-2h0m-2-2h0m0-3h0m-10-2h0m12-18h0m-3-45h0m2-53h0m2-3h0m0-25h0m-1-2h0m-5-3h0m6 0h0m-15-28h0m0-11h0m10-10h0m4-6h0m-1-8h0m-6-3h0m7-9h0m-4-10h0m-9-5h0m10-31h0m-2-91h0m18 67h0m4 81h0m-12 2h0m7 20h0m-10 105h0m7 3h0m5 1h0m0 42h0m-5 12h0m-7 17h0m8 3h0m-8 1h0m1 4h0m-1 0h0m8 21h0m-1 3h0m3 127h0m10 42h0m0-33h0m10-36h0m-1-46h0m-4-19h0m3-1h0m2-3h0m-7-8h0m1-34h0m1-8h0m-2-9h0m-4-3h0m7-18h0m-7-1h0m10-7h0m-6-55h0m8-2h0m-3-42h0m-4-31h0m0-12h0m7-33h0m-3-45h0m0-55h0m-1-22h0m8 5h0m3 104h0m-6 12h0m1 35h0m2 7h0m-1 1h0m2 36h0m0 17h0m6 55h0m-7 15h0m8 21h0m-11 17h0m11 27h0m-5 31h0m18 162h0m5-70h0m-5-33h0m0-1h0m1-2h0m-6-2h0m10-11h0m-10-23h0m11-13h0m-3-13h0m-3-3h0m6-1h0m-2-1h0m-2-2h0m1-5h0m2-8h0m-9-2h0m1-119h0m-4-5h0m12-3h0m-4-4h0m-6-1h0m1-2h0m7-83h0m-10-9h0m6 0h0m2-9h0m2-21h0m-8-1h0m10-6h0m2-17h0m-5-64h0m6 35h0m15 3h0m-1 9h0m-2 42h0m3 10h0m-15 86h0m13 53h0m-6 13h0m-3 5h0m11 22h0m-11 19h0m4 11h0m-2 7h0m8 26h0m-6 20h0m7 32h0m-8 2h0m-7 21h0m2 6h0m-1 8h0m12 81h0m16-25h0m0-18h0m-1-34h0m-10-12h0m5-30h0m6-36h0m-10-1h0m10-3h0m-11-11h0m4-30h0m-2-3h0m5-10h0m-2-7h0m-2-2h0m-4-7h0m0 0h0m9-11h0m-9-6h0m1-7h0m12-2h0m-1-1h0m-1-22h0m-9-6h0m1-67h0m6-6h0m2-7h0m-9-32h0m4-2h0m-5-8h0m4 0h0m0-13h0m9 0h0m-9-34h0m4-11h0m1-38h0m-4-4h0m10 128h0m0 15h0m6 9h0m-4 26h0m6 3h0m1 1h0m-7 6h0m5 13h0m-5 13h0m-1 4h0m1 0h0m10 15h0m-7 8h0m-3 2h0m-1 28h0m2 4h0m1 11h0m6 14h0m3 0h0m-4 19h0m-5 11h0m3 6h0m3 35h0m1 3h0m-1 1h0m-7 93h0m21-178h0m-3-2h0m-6-43h0m9-76h0m18-166h0m0 68h0m-2 28h0m-1 70h0m1 1h0m-1 71h0m7 42h0m-6 37h0m-2 5h0m6 1h0m-7 31h0m5 77h0m-4 52h0m11-55h0m5-79h0m-3-81h0m-1-84h0m0-35h0m3-15h0m-4 0h0m2-12h0m-3-24h0m0-45h0m4-30h0m15 111h0m2 28h0m9 17h0m-7 1h0m-1 7h0m-2 43h0m6 31h0m2 21h0m-4 28h0m3 26h0m-7 40h0m23 32h0m2-106h0m0-8h0m-4 0h0m-10-10h0m11-18h0m-5-22h0m-3-39h0m9-3h0m1-46h0m0-7h0m2-95h0m3-50h0m3 5h0m-1 84h0m-3 14h0m11 23h0m0 12h0m-11 7h0m7 12h0m-7 16h0m3 34h0m4 8h0m1 15h0m-3 29h0m6 12h0m-10 9h0m-2 17h0m2 4h0m11 8h0m-11 29h0m12 29h0m0 0h0m-5 2h0m3 6h0m-1 18h0m-3 9h0m3 1h0m-11 66h0m21-19h0m3-8h0m3-60h0m-4-5h0m-2-4h0m-3-1h0m4-6h0m-2-3h0m8-27h0m1-7h0m-8-28h0m-1-12h0m9-2h0m1-18h0m-7-24h0m1-26h0m-7-20h0m6-2h0m7-14h0m-2-2h0m-5-33h0m-5-23h0m-1-13h0m12-6h0m16-119h0m-4 3h0m-7 22h0m13 76h0m-3 16h0m-2 18h0m3 17h0m-9 5h0m4 23h0m-6 9h0m4 44h0m7 11h0m-11 8h0m7 6h0m1 36h0m-7 12h0m1 30h0m6 0h0m0 14h0m1 36h0m-6 56h0m-4 34h0m0 3h0m15-33h0m3-95h0m-3-1h0m1-27h0m0-61h0m7-58h0m-3-34h0m3-25h0m16-79h0m-3 12h0m-5 3h0m14 1h0m-8 29h0m5 1h0m3 3h0m-2 10h0m0 8h0m-10 14h0m13 5h0m-7 68h0m6 34h0m-12 24h0m-2 52h0m15 4h0m-6 25h0m2 19h0m-1 84h0m1 3h0m-11 5h0m14 54h0m15-37h0m-5-9h0m-7-49h0m11-43h0m0-16h0m-10-1h0m8-13h0m4-11h0m-5-13h0m3-1h0m-7-24h0m-5-3h0m11-1h0m-5-7h0m1-9h0m3-5h0m-9-53h0m7-1h0m-4-9h0m-4-3h0m9-12h0m4-26h0m-8-20h0m4-9h0m-2-8h0m-6-1h0m12 0h0m1-2h0m-11-3h0m-1-2h0m12-2h0m-3-8h0m-3-38h0m23-10h0m-12 33h0m6 69h0m-4 1h0m-3 43h0m0 44h0m5 10h0m-4 12h0m0 6h0m6 7h0m-8 86h0m2 13h0m-2 28h0m0 1h0m3 76h0m2 27h0m22-96h0m-1-21h0m-1-18h0m0-95h0m3-7h0m2-5h0m-4-18h0m-6-28h0m9-2h0m-14-6h0m2-19h0m6-62h0m7-33h0m-2-6h0m6-20h0m0 21h0m7 28h0m-7 6h0m10 83h0m-13 6h0m8 30h0m-6 21h0m10 8h0m-8 3h0m11 14h0m-11 6h0m0 24h0m-3 1h0m14 7h0m0 0h0m-8 14h0m-5 7h0m8 6h0m-3 11h0m2 0h0m4 15h0m-12 38h0m8 47h0m7-2h0m14-56h0m-10-5h0m4-15h0m-7-8h0m6-11h0m-7-15h0m0-21h0m3-7h0m1-9h0m-4-11h0m0-3h0m5-16h0m1-59h0m4-11h0m-10-55h0m5-21h0m0-15h0m-5-28h0m4-56h0m19 30h0m6 61h0m-9 5h0m-3 91h0m3 30h0m6 13h0m-2 31h0m-1 5h0m-6 21h0m4 77h0m-3 15h0m13 15h0m12-100h0m-3-11h0m2-6h0m3-29h0m-7-40h0m7-34h0m-11-162h0m21 18h0m-1 219h0m-5 20h0m27 8h0m-7-61h0m9-55h0m15-220h0m-4 32h0m-3 191h0m4 8h0m1 18h0m-7 14h0m7 21h0m-2 9h0m4 1h0m-2 12h0m-7 17h0m5 20h0m-7 16h0m7 19h0m-1 24h0m12 100h0m8-50h0m-10-66h0m6 0h0m-2-8h0m-4-48h0m0-6h0m6-10h0m-6-1h0m3-5h0m1-35h0m-4-9h0m-2-31h0m4-2h0m2-4h0m-5-29h0m1-59h0m7-32h0m-2-18h0m2-40h0m24 428h0m-1-22h0m2-26h0m1-54h0m28-276h0m-13 9h0m9 84h0m-1 38h0m2 8h0m-10 20h0m13 14h0m-6 143h0m5 0h0m-4 32h0m20 24h0m-10-55h0m4-7h0m-5-57h0m4-18h0m4-6h0m-6-31h0m4-7h0m-7-36h0m13-48h0m-9-17h0m4-28h0m3-23h0m-5 0h0m-8-2h0m3-28h0m12-14h0m13 45h0m-7 9h0m1 39h0m2 24h0m4 35h0m-5 78h0m-6 49h0m7 44h0m1 8h0m-6 13h0m6 76h0m-6 29h0m30-465h0m5 15h0m4 26h0m-9 181h0m7 153h0m41 16h0m6-9h0m5-122h0m18-244h0m-2 166h0m3 30h0m-2 44h0m-1 5h0m-4 12h0m7 72h0m4 74h0m0-38h0m6-154h0m-6-45h0m6-172h0m39 100h0m0 12h0m0 62h0m57 160h0m1-47h0m0-39h0m0-2h0m0-36h0m1-25h0m-4-166h0m9 413h0m27-399h0m2-18h0m-4-4h0m8 17h0m5 26h0m-5 33h0m31 105h0m3 10h0m1 61h0m59-107h0"/>
<path stroke="#31ea6d" d="M141 202h0m6 252h0m34-3h0m7-49h0m-11-13h0m23-146h0m-3 45h0m8 83h0m-5 9h0m23-117h0m-7-39h0m2-8h0m15 117h0m2 23h0m6 110h0m27-22h0m-6 120h0m24 91h0m-9-111h0m5-33h0m-8-11h0m10-30h0m-12-84h0m10-33h0m6 39h0m14 31h0m-14 96h0m1 134h0m20-89h0m1-44h0m1-144h0m1-83h0m-1-8h0m10 73h0m1 153h0m1 52h0m24 33h0m-2-45h0m4-7h0m-8-32h0m5-33h0m-2-56h0m6-41h0m-1-2h0m2-18h0m-5-132h0m9-65h0m7 138h0m-7 13h0m4 11h0m-4 47h0m1 19h0m-3 102h0m7 85h0m-7 7h0m29 55h0m0-38h0m-5-66h0m1-5h0m-8-39h0m0-15h0m12-38h0m-7-37h0m0-21h0m14-202h0m-2 93h0m-1 5h0m11 1h0m-13 46h0m2 11h0m5 36h0m-7 34h0m1 40h0m2 24h0m4 43h0m-2 17h0m-5 9h0m1 91h0m27 73h0m-5-68h0m-1 0h0m-2-50h0m4-7h0m-3-10h0m7-11h0m-8-10h0m4-2h0m-6-1h0m12-60h0m0-44h0m-5-10h0m0-50h0m-1-5h0m-5 0h0m3-90h0m7-31h0m5-57h0m5 43h0m3 95h0m-3 18h0m0 71h0m2 53h0m5 14h0m1 5h0m-4 30h0m-11 5h0m2 0h0m-1 24h0m6 7h0m-4 2h0m10 8h0m-11 7h0m11 6h0m-12 2h0m11 34h0m-6 15h0m-2 5h0m11 83h0m7-30h0m2-1h0m0-13h0m2-15h0m3-25h0m-4-8h0m-8-20h0m5-4h0m0-2h0m9-36h0m-3 0h0m1-33h0m1-41h0m1-11h0m-12-11h0m1-14h0m10-1h0m-14-6h0m3-34h0m12-8h0m-7-76h0m-1-24h0m4-74h0m1-27h0m11 96h0m5 57h0m-3 16h0m-6 23h0m-2 58h0m1 9h0m-1 1h0m8 13h0m-2 7h0m2 15h0m3 6h0m-11 4h0m5 10h0m8 18h0m0 44h0m1 19h0m-13 1h0m13 2h0m-2 17h0m-13 8h0m21 56h0m3-13h0m-3-2h0m10-21h0m-10-78h0m10-3h0m-14-16h0m11 0h0m-10-37h0m7-4h0m-4-6h0m-1-14h0m9-18h0m-8-37h0m5-3h0m-3-5h0m-4-32h0m2-10h0m5-5h0m-6-8h0m-3-2h0m14-1h0m-7-8h0m0-7h0m7-7h0m-8-6h0m0-35h0m0-14h0m3-27h0m-9-7h0m11-11h0m-5-5h0m0-23h0m-4-14h0m5-10h0m21 25h0m-7 29h0m7 22h0m-12 129h0m5 9h0m-2 12h0m8 33h0m-7 5h0m5 56h0m-5 9h0m5 5h0m-6 10h0m-1 9h0m8 1h0m-2 78h0m-8 16h0m16-40h0m0-46h0m11-59h0m-12-80h0m1-48h0m9-34h0m-3-30h0m-5-31h0m13-6h0m10-53h0m-7 153h0m13 2h0m-11 40h0m8 25h0m-7 23h0m-3 22h0m9 1h0m-9 24h0m8 37h0m5 10h0m-8 2h0m6 15h0m-5 34h0m7 2h0m-6 19h0m6 1h0m-10 67h0m15-111h0m-4-11h0m6-27h0m-3-29h0m1-28h0m-1-249h0m20 17h0m7 22h0m-6 50h0m3 18h0m-10 2h0m13 8h0m-2 112h0m-6 42h0m3 18h0m-8 79h0m4 16h0m8 5h0m-9 14h0m1 9h0m9 9h0m17 52h0m0-17h0m0-4h0m-1-12h0m-2-27h0m2-131h0m-6-36h0m0-17h0m-6-102h0m10-74h0m-1-54h0m9-21h0m3 21h0m-7 54h0m1 9h0m5 2h0m2 48h0m-2 8h0m-5 3h0m14 6h0m-10 2h0m4 4h0m1 9h0m-4 0h0m-3 30h0m-3 29h0m3 2h0m-2 36h0m11 20h0m-7 33h0m-1 6h0m5 15h0m0 2h0m-9 16h0m6 6h0m1 3h0m-1 7h0m-3 51h0m11 31h0m-10 23h0m15-67h0m-3-9h0m9-3h0m-3-36h0m8-11h0m-5 0h0m-3-3h0m-4-12h0m4-7h0m3-15h0m-1-74h0m1-20h0m-1-18h0m7-29h0m-2-3h0m-12-4h0m10-80h0m20-70h0m-4 57h0m-6 34h0m-1 1h0m-3 27h0m7 3h0m-2 4h0m-4 5h0m2 34h0m11 43h0m-4 53h0m-7 18h0m-1 49h0m-2 16h0m9 8h0m-9 0h0m10 3h0m2 36h0m-7 33h0m16-27h0m6-51h0m-6-86h0m8-11h0m-4-23h0m-7-74h0m3-96h0m4-68h0m-8-17h0m0-19h0m25 67h0m2 87h0m-1 90h0m-2 25h0m-4 77h0m5 13h0m2 14h0m0 36h0m-6 14h0m-2 13h0m6 7h0m10 42h0m3-65h0m4-6h0m-8-8h0m3-3h0m8-10h0m-14-14h0m6-4h0m8-9h0m-1-7h0m0-11h0m-8-18h0m-5-8h0m11-28h0m-6-29h0m2-15h0m3-1h0m1-17h0m-5-19h0m1-7h0m7-11h0m-7-3h0m-2-10h0m7-103h0m-12-10h0m23 58h0m-6 36h0m-1 62h0m3 4h0m-3 35h0m12 12h0m-7 15h0m-3 10h0m8 19h0m-6 52h0m1 17h0m2 12h0m-4 1h0m-4 21h0m4 6h0m-2 31h0m-1 41h0m1 24h0m22-154h0m3-20h0m4-9h0m-15-7h0m10-23h0m-9-46h0m6-3h0m-3-6h0m3-1h0m7-23h0m-10-51h0m11-1h0m-4-24h0m4-23h0m4-43h0m12 6h0m-11 45h0m-3 4h0m1 23h0m2 7h0m-4 37h0m0 35h0m7 6h0m5 36h0m-5 3h0m3 1h0m0 28h0m-9 13h0m4 12h0m-1 11h0m-1 17h0m4 16h0m6 12h0m-13 10h0m8 14h0m-8 25h0m9 5h0m4 5h0m-4 2h0m-3 5h0m-5 22h0m10 11h0m20 11h0m-14-28h0m-1-91h0m7-31h0m-3-65h0m-2-64h0m-2-136h0m17 59h0m0 31h0m14 33h0m-8 94h0m4 36h0m2 10h0m-9 12h0m2 15h0m-4 27h0m3 32h0m4 27h0m-9 6h0m25-88h0m3-17h0m1-8h0m-11-23h0m1-36h0m6-57h0m-7-2h0m-1-170h0m22-12h0m-1 194h0m16 37h0m4-67h0m13-55h0m8 5h0m-9 40h0m2 4h0m-3 25h0m-4 19h0m7 2h0m-2 4h0m8 1h0m-8 11h0m2 28h0m4 32h0m0 2h0m-8 1h0m5 10h0m-9 10h0m14 36h0m-14 2h0m9 54h0m4 84h0m3 0h0m5-29h0m4-28h0m-7-72h0m-1-35h0m3-6h0m9-15h0m-12-12h0m8-14h0m-1-22h0m-4-16h0m8-14h0m-6-56h0m2-52h0m-5-18h0m3-6h0m4-7h0m-3-5h0m2-41h0m-7-4h0m5-2h0m-3-44h0m3-16h0m22 358h0m-1 45h0m1 50h0m14-13h0m15-324h0m4 65h0m-2 51h0m-2 132h0m2 63h0m1 6h0m0 11h0m-8 4h0m19 8h0m2-96h0m0-43h0m-1-10h0m-7-3h0m1-39h0m1-2h0m8-13h0m-12-69h0m6-12h0m21-65h0m-1 13h0m0 30h0m-2 6h0m1 37h0m-5 4h0m9 17h0m-13 16h0m14 15h0m-3 5h0m-10 24h0m2 1h0m11 2h0m-11 23h0m-1 48h0m11 2h0m-13 17h0m44-195h0m-12 133h0m4 37h0m-3 105h0m-1 5h0m44-144h0m5 215h0m1-45h0m9-342h0m19 279h0m-1 8h0m10 104h0m-3-5h0m2-66h0m0-39h0m-5-109h0m1-20h0m6-146h0m39 126h0m0-64h0m1-9h0m1 32h0m29-152h0m58 14h0m39 252h0m-4-115h0m6 22h0m56-25h0m6-1h0m0-80h0m1-45h0m4 21h0m-2 13h0m3 1h0m30 380h0"/>
<path stroke="#23ed86" d="M206 228h0m0 107h0m5 227h0m0 0h0m34-298h0m25 82h0m-1 252h0m3 30h0m11-22h0m-2-6h0m1-46h0m-1-17h0m-5-2h0m9-5h0m-6-13h0m13-25h0m4 103h0m20 24h0m-4-12h0m7-205h0m-1-50h0m23 240h0m1-145h0m2-220h0m10 105h0m0 91h0m2 57h0m3 23h0m-7 25h0m5 35h0m24 68h0m-3-44h0m5-13h0m-2-40h0m-8-5h0m9-1h0m-2-30h0m-9-16h0m7-61h0m-2-80h0m6-34h0m2-141h0m2 163h0m-2 29h0m4 62h0m5 44h0m-9 38h0m1 16h0m2 41h0m2 4h0m-3 11h0m9 57h0m2 19h0m7-14h0m3-57h0m6-1h0m-2-100h0m3-150h0m8-89h0m6 72h0m-12 88h0m4 32h0m-1 5h0m0 57h0m-3 26h0m2 44h0m10 0h0m-7 29h0m2 35h0m13 49h0m2-51h0m7-6h0m-8-4h0m8-63h0m-4-28h0m-2-5h0m-1-61h0m0-21h0m-1-126h0m8-50h0m-9-13h0m18 45h0m7 47h0m-6 76h0m3 1h0m5 15h0m-12 43h0m5 43h0m-4 31h0m6 11h0m-10 21h0m10 47h0m-7 9h0m6 88h0m20-51h0m-13-14h0m15-38h0m-2-9h0m-11-56h0m12-1h0m-2-14h0m-6-2h0m8-3h0m-2-42h0m-3-21h0m-4-7h0m9-17h0m-9-6h0m9-101h0m-11-7h0m3-19h0m1-16h0m8-24h0m-7-50h0m18 57h0m2 54h0m-8 40h0m0 29h0m2 25h0m-5 102h0m-1 10h0m15 4h0m-12 5h0m12 16h0m-12 27h0m7 5h0m-2 13h0m1 22h0m3 27h0m5-339h0m8-11h0m9 175h0m8 22h0m-1 14h0m4 7h0m-3 55h0m-4 11h0m8 2h0m-1 12h0m-1 7h0m-6 37h0m-1 17h0m4 21h0m3 19h0m4-28h0m0-27h0m9-31h0m-6-55h0m-1-34h0m-2-98h0m1-96h0m1-94h0m28 219h0m-6 15h0m5 13h0m-13 38h0m8 13h0m7 31h0m-4 58h0m1 43h0m17-86h0m-1-39h0m2-13h0m0-26h0m-3-47h0m2-76h0m-4-24h0m5-9h0m-8-15h0m15-2h0m-1 6h0m11 14h0m-13 8h0m4 9h0m2 15h0m-8 52h0m2 8h0m2 12h0m3 7h0m0 4h0m-7 16h0m11 8h0m4 0h0m-13 15h0m-1 6h0m9 15h0m-10 11h0m4 44h0m0 12h0m7 32h0m-5 40h0m11-92h0m2-52h0m-3-12h0m5-3h0m-4-76h0m6-3h0m3-7h0m1-4h0m-6-22h0m7-28h0m9-12h0m-2 12h0m12 103h0m-4 13h0m-7 69h0m10 17h0m-9 13h0m0 63h0m5 41h0m9-116h0m-1-109h0m9-213h0m18 25h0m-5 9h0m2 3h0m3 18h0m2 44h0m0 0h0m0 6h0m-1 13h0m-2 36h0m-2 17h0m3 8h0m-2 32h0m-3 14h0m6 4h0m-3 13h0m4 9h0m-6 15h0m-7 11h0m9 1h0m-5 23h0m1 19h0m3 6h0m3 9h0m1 131h0m11 4h0m0 0h0m-3-76h0m4-4h0m4-16h0m-6 0h0m5-11h0m-6-19h0m8-29h0m-10-1h0m5-31h0m3-18h0m-10-76h0m10-40h0m5-78h0m7 184h0m-5 87h0m-1 9h0m0 21h0m-1 61h0m-2 28h0m24-55h0m7-168h0m-11-137h0m22-98h0m-8 75h0m12 15h0m-14 23h0m7 128h0m-1 15h0m-6 26h0m9 10h0m-3 4h0m1 23h0m2 3h0m-4 38h0m-4 1h0m4 36h0m12-28h0m1-19h0m-1-85h0m11-38h0m-8-1h0m11-46h0m-12-134h0m16 45h0m1 196h0m2 8h0m0 21h0m8 121h0m10-9h0m1-57h0m-1-183h0m4-29h0m-6-51h0m3-22h0m10 46h0m26 177h0m-1-38h0m2-52h0m-4-8h0m-6-130h0m17 103h0m3 23h0m7 9h0m-5 15h0m-7 4h0m12 3h0m-11 0h0m9 21h0m-12 27h0m12 9h0m-1 82h0m2 30h0m-11 16h0m7 47h0m9-28h0m3-44h0m-2-11h0m5-38h0m-3-3h0m5-2h0m-9-34h0m-2-9h0m0-4h0m2-28h0m1-112h0m1-15h0m-4-103h0m30 441h0m5-74h0m4-22h0m23-366h0m-10 194h0m8 66h0m3 98h0m0 62h0m5-25h0m-4-22h0m2-53h0m2-11h0m-3-19h0m4-7h0m8-20h0m-4-24h0m4-7h0m-10-135h0m4-91h0m9 34h0m6 196h0m-2 14h0m1 62h0m-2 53h0m6 48h0m1 41h0m6-180h0m1-87h0m16-165h0m5 22h0m-3 144h0m2 208h0m47 70h0m6-16h0m13-332h0m-4 142h0m0 20h0m20 190h0m-5-11h0m-1-3h0m3-27h0m0-7h0m6-48h0m-7-13h0m0-69h0m-1-205h0m48 249h0m56 181h0m-2-301h0m38-189h0m5 104h0m26 85h0m4-142h0m-1 130h0m0 19h0m99 236h0"/>
<path stroke="#36dd98" d="M135 416h0m8 99h0m47-59h0m-14-5h0m5-51h0m34 178h0m-4-15h0m23-102h0m37-244h0m3 86h0m25 203h0m20 129h0m-8-25h0m2-141h0m33 122h0m3-165h0m-2-139h0m20 275h0m4-15h0m4-9h0m1-22h0m-1-14h0m2-12h0m4-29h0m1-28h0m-7-42h0m9 83h0m0 13h0m3 39h0m6 36h0m-7 42h0m-2 11h0m5 5h0m-3 19h0m16-7h0m2-10h0m8-16h0m-12-147h0m11-68h0m-9-2h0m16 44h0m-1 23h0m-1 75h0m11 27h0m-9 4h0m6 67h0m4 16h0m0 49h0m13 39h0m-3-47h0m8-39h0m-8-20h0m-6-97h0m9-21h0m-1-85h0m-2-118h0m24 89h0m-3 25h0m-5 6h0m4 19h0m3 10h0m-5 17h0m-6 2h0m11 73h0m2 15h0m-14 7h0m11 16h0m-7 36h0m-3 71h0m23 25h0m1 0h0m-6-35h0m4-23h0m-2-16h0m2-14h0m3-32h0m0-30h0m-4-15h0m-1-9h0m8-2h0m-12-5h0m-1-5h0m2-22h0m2-64h0m4-8h0m1-53h0m5-61h0m3 19h0m13 46h0m-11 26h0m8 81h0m-4 78h0m-1 30h0m-2 22h0m3 72h0m-3 12h0m11-25h0m1-172h0m0-94h0m28-97h0m-9 0h0m8 98h0m1 61h0m-6 54h0m4 104h0m0 67h0m9 16h0m3-12h0m-5-12h0m3-75h0m3-4h0m4-8h0m-9-24h0m0-56h0m6-15h0m-9-80h0m4-66h0m-4-113h0m26 279h0m1 22h0m2 35h0m-9 26h0m4 11h0m6 10h0m-10 39h0m-3 24h0m4 13h0m-2 7h0m27-46h0m-13-41h0m3-160h0m9-35h0m-7-33h0m16-151h0m0 59h0m8 57h0m-5 8h0m-4 6h0m4 6h0m-3 43h0m-5 27h0m8 26h0m-3 14h0m7 14h0m-5 1h0m7 17h0m-9 17h0m-2 7h0m0 35h0m0 40h0m3 7h0m7 13h0m-5 27h0m11-59h0m10-19h0m-7-25h0m6-4h0m-12-26h0m10-53h0m-3-13h0m-8-168h0m25-69h0m-1 147h0m-4 18h0m4 281h0m23-35h0m-9-154h0m6-92h0m-9-20h0m5-36h0m22 63h0m-7 33h0m0 5h0m6 43h0m-5 72h0m5 0h0m-4 23h0m-6 30h0m7 91h0m7 23h0m14-90h0m-1-16h0m-11-10h0m3-31h0m-3-22h0m3-5h0m6-28h0m-11-3h0m13-3h0m-12-1h0m9-10h0m-3-3h0m-8-6h0m3-23h0m12-6h0m-5-5h0m4-5h0m-12-6h0m1-13h0m5-5h0m2-8h0m-1-104h0m19 100h0m-5 21h0m-6 55h0m25 102h0m-10-40h0m15-17h0m-9-81h0m13-100h0m-1 135h0m2 12h0m10 86h0m-6 24h0m5 20h0m14-149h0m8-56h0m1 52h0m-4 6h0m24 150h0m2-317h0m21 201h0m8 158h0m-1-25h0m6-84h0m-2-57h0m-1-262h0m17 106h0m2 62h0m-5 33h0m-6 2h0m3 14h0m3 11h0m-2 14h0m0 27h0m5 21h0m-5 24h0m7 1h0m-10 64h0m13 66h0m3 104h0m4-25h0m2-39h0m-4-11h0m-2-70h0m1-21h0m-3-57h0m6-30h0m-3-133h0m0-42h0m2-47h0m-4-122h0m30 335h0m2 97h0m30-166h0m-3 11h0m3 122h0m-2 73h0m9 63h0m2-71h0m6-17h0m-11-43h0m12-62h0m-14-16h0m5-56h0m-3-98h0m16-19h0m-3 97h0m3 0h0m6 65h0m-6 15h0m5 10h0m4 13h0m1 17h0m-7 76h0m2 41h0m21-34h0m-13-109h0m2-3h0m-1-52h0m24 36h0m13-91h0m-1-92h0m31 349h0m25-383h0m-2 110h0m0 122h0m3 3h0m1 165h0m1 11h0m20-335h0m24 183h0m1-144h0m-4-9h0m-2-38h0m11 10h0m-2 9h0m53 178h0m1-57h0m4-4h0m-4-59h0m4-87h0m-1-87h0m69 233h0m3 12h0m66-206h0m0 12h0m0 145h0m29-173h0m2 153h0m2 69h0m1 31h0m-4 71h0m5 7h0"/>
<path stroke="#48cdab" d="M182 416h0m25 169h0m4 0h0m56-271h0m17 320h0m2-87h0m4-168h0m0 267h0m2 58h0m34-418h0m-5 264h0m17-14h0m7-15h0m9-65h0m7 27h0m19 180h0m3-78h0m-3-55h0m-1-21h0m-5-161h0m5-130h0m11 396h0m-5 65h0m3 7h0m18-35h0m3-13h0m-8-66h0m4 0h0m4-38h0m-2-91h0m1-148h0m15 248h0m2 78h0m-5 72h0m11 9h0m5-64h0m6-7h0m5-33h0m-12-35h0m3-7h0m9-19h0m-13-82h0m7-106h0m9-35h0m4 33h0m2 27h0m1 191h0m1 4h0m1 40h0m2 13h0m1 6h0m17 5h0m-4-4h0m-3-118h0m2-36h0m14-197h0m4 2h0m-8 30h0m3 111h0m-6 93h0m6 135h0m-3 9h0m-3 10h0m17-31h0m7-251h0m-9-44h0m12-48h0m17 57h0m-9 116h0m11 61h0m-9 172h0m24 88h0m-3-35h0m1-112h0m-9-389h0m22 29h0m-8 91h0m12 209h0m-13 156h0m25-231h0m4-46h0m4-60h0m2 7h0m5 101h0m-1 2h0m6 43h0m-7 6h0m-2 46h0m5 77h0m12-22h0m0-45h0m1-45h0m-6-215h0m6-8h0m18-56h0m0 255h0m5 69h0m-6 114h0m10-62h0m-1-443h0m19 170h0m12 35h0m-4 22h0m1 61h0m3 211h0m-7 15h0m20-74h0m-7-2h0m-5-34h0m3-22h0m7-82h0m-1-22h0m5-18h0m9-102h0m-3 109h0m-4 53h0m0 34h0m2 33h0m0 74h0m22-154h0m23-1h0m-9 119h0m25-46h0m14-252h0m-2 215h0m23-253h0m26 378h0m-5-117h0m8-241h0m4 87h0m8 93h0m-9 27h0m7 5h0m-3 12h0m6 25h0m-11 2h0m4 0h0m1 5h0m-6 8h0m12 52h0m1 17h0m1 1h0m-3 55h0m5 19h0m0-47h0m4-5h0m5-14h0m-1-16h0m-6-21h0m0-15h0m0-3h0m36 85h0m-1-2h0m6-180h0m19 67h0m15 153h0m-7-7h0m7-62h0m-10-17h0m3-77h0m-1-50h0m-4-21h0m23-52h0m-7 46h0m3 100h0m5 7h0m-8 52h0m12 37h0m-3 8h0m36-189h0m5-33h0m38-177h0m17 201h0m14 245h0m-6-347h0m44 34h0m103-84h0m24 175h0m6-64h0m-1 29h0m4 33h0m-2 8h0m59-66h0m36 21h0m6 2h0m-4 50h0m-3 71h0m-1 134h0m-1 2h0"/>
<path stroke="#46bdc2" d="M179 414h0m36 219h0m69 16h0m10 10h0m17-71h0m11-323h0m0 250h0m48 81h0m11-77h0m-4-31h0m4-149h0m-5-46h0m-3-43h0m14 93h0m22 257h0m0-7h0m7-251h0m21 372h0m4-54h0m2-39h0m-4-30h0m1-1h0m-3-11h0m4-127h0m15 69h0m6 131h0m-10 44h0m23-51h0m2-15h0m-12-40h0m28-234h0m-3 90h0m1 203h0m-11 54h0m13 18h0m3-2h0m0-46h0m9-138h0m3-189h0m13 173h0m17 123h0m-10-108h0m3-186h0m27-54h0m-6 286h0m-2 22h0m24 68h0m-5-32h0m6-49h0m6-321h0m8 68h0m-3 104h0m-7 128h0m4 6h0m-5 17h0m3 14h0m10 48h0m-4 35h0m-8 17h0m13-56h0m3-29h0m7-38h0m-1-10h0m18-118h0m-9 152h0m9 46h0m5-374h0m29 129h0m-11 106h0m13 22h0m-4 41h0m0 31h0m15 118h0m2-57h0m3-18h0m-15-172h0m21 74h0m0 10h0m-1 88h0m-2 49h0m4 4h0m-3 5h0m26-120h0m13-332h0m5 322h0m-1 80h0m13 11h0m-8-28h0m-2-187h0m10-64h0m18 36h0m-3 140h0m6 109h0m49-416h0m14 304h0m0 68h0m0 11h0m-12 24h0m14 132h0m3-17h0m3-50h0m0-7h0m1-7h0m2-42h0m-9-17h0m0-7h0m5-12h0m-5-60h0m0-86h0m2-44h0m2-74h0m29 365h0m1-18h0m25 3h0m6 5h0m12-75h0m-8-33h0m11-167h0m-1 170h0m15 5h0m-10 2h0m2 8h0m48-323h0m49 68h0m49 262h0m133-201h0m0-97h0m2 44h0m5 53h0m95 26h0m0 5h0m-1 8h0m0 9h0m-1 134h0"/>
<path stroke="#3eacda" d="M179 507h0m12-127h0m14 231h0m50-362h0m39 420h0m57-238h0m-6-80h0m11-111h0m11 49h0m8 165h0m-7-205h0m40-1h0m11 432h0m22-44h0m-6-153h0m9-139h0m15-88h0m-10 188h0m3 160h0m4 22h0m-4 26h0m20 78h0m-5-70h0m10-19h0m0-6h0m-6-48h0m7-113h0m9 89h0m6 66h0m-13 2h0m44-343h0m-12 90h0m8 153h0m15 117h0m16-248h0m1 139h0m-4 149h0m14-192h0m20-247h0m4 67h0m-7 202h0m1 57h0m5 22h0m-6 36h0m3 8h0m-1 65h0m18-45h0m1-44h0m11 123h0m18-119h0m-1-75h0m-1-56h0m23 68h0m13 169h0m-7-61h0m4-12h0m-3-19h0m8-86h0m30 76h0m2-283h0m18 206h0m38-48h0m45-89h0m-6-38h0m9 194h0m9 103h0m5 21h0m-3 47h0m3 3h0m9 9h0m-8-49h0m8-34h0m-4-10h0m-2-119h0m2-94h0m27-132h0m-1 313h0m3 44h0m13-76h0m14 6h0m3 149h0m16-108h0m1 111h0m60-269h0m-1-5h0m-8-8h0m2-25h0m0-28h0m55 212h0m7 111h0m101 41h0m2-98h0m2-371h0m62 243h0m103 92h0m0 87h0"/>
<path stroke="#3b9de7" d="M176 404h0m6-1h0m15-87h0m7 286h0m4-12h0m32-228h0m23-113h0m13 145h0m43 165h0m-4-212h0m3-33h0m36 46h0m6 135h0m32-286h0m-7 352h0m20 75h0m24-332h0m-10 238h0m22 118h0m7-9h0m76-165h0m3 60h0m49-44h0m14 75h0m-4 101h0m26 21h0m42-172h0m10 98h0m-1-94h0m-2-100h0m17-54h0m0 142h0m55 64h0m-12-221h0m27 174h0m-3 118h0m7-291h0m54-30h0m-3 241h0m10 51h0m1 24h0m-9 6h0m12 80h0m5-13h0m55-455h0m-6 311h0m11 79h0m3-202h0m-5-136h0m41 155h0m32-92h0m101 243h0m-2-138h0m61-142h0m36 7h0m30 114h0m1-22h0m103 43h0m1 17h0m-4 47h0"/>
<path stroke="#3a8fec" d="M179 516h0m5-53h0m-2-15h0m100 232h0m60-122h0m-4-18h0m51 70h0m22 33h0m-3-57h0m36 37h0m17-289h0m4 171h0m11-257h0m15 170h0m-8 239h0m6 57h0m9-301h0m21 101h0m24 278h0m5-74h0m28-257h0m1 117h0m19-192h0m1-16h0m-2-143h0m61 358h0m20-265h0m36 25h0m-3 318h0m11-159h0m47 64h0m32 35h0m-9-201h0m9-131h0m7 321h0m10 204h0m1-156h0m35 84h0m49 31h0m34-364h0m21 16h0m2-103h0m42 218h0m0 208h0m50-78h0m232-159h0"/>
<path stroke="#3c7cef" d="M137 182h0m49 310h0m166-102h0m29 150h0m73 14h0m15 164h0m-2-96h0m10-31h0m9-270h0m37 259h0m27 81h0m32-369h0m4 338h0m39-10h0m40 3h0m20-255h0m-4 315h0m35-103h0m35-268h0m36 86h0m9-21h0m15 245h0m3 37h0m-3 21h0m7-42h0m36 28h0m43-256h0m60 8h0m-1-121h0m92 152h0"/>
<path stroke="#435eed" d="M285 578h0m86-113h0m93 186h0m0-28h0m79 177h0m-3-101h0m61-123h0m-7-283h0m50 241h0m24 110h0m73-102h0m3 48h0m73 181h0m41-29h0m33-179h0m20-53h0m42 6h0m8-79h0"/>
<path stroke="#4b40eb" d="M176 404h0m301 167h0m18-34h0m118 102h0m36-172h0m54 44h0m103 38h0m242 139h0m238-222h0"/>
<path stroke="#5920e9" d="M470 486h0m106 41h0m2 66h0m238 22h0m50 73h0"/>
<path stroke="#7411e3" d="M180 493h0m197-102h0m112 11h0m387 318h0"/>
<path stroke="#9609dc" d="M474 670h0m320-374h0"/>
<path stroke="#b00ad2" d="M616 527h0"/>
<path stroke="#ca0bc9" d="M791 357h0m398 207h0"/>
<path stroke="#f0611d" d="M140 154h0m2 5h0m-2 2h0m1 5h0m2 20h0m0 7h0m0 12h0m-1 23h0m-1 5h0m2 9h0m-3 2h0m-3 5h0m4 26h0m1 3h0m-7 12h0m8 10h0m-5 11h0m4 46h0m1 36h0m11 22h0m-9-12h0m0-45h0m4-17h0m-2-25h0m-1-43h0m-1-16h0m-1-9h0m0-30h0m1-7h0m-1-4h0m0-28h0m1-21h0m0-13h0m59 51h0m-11 46h0m30 7h0m-5-76h0m18 111h0m1 4h0m2 21h0m3 43h0m3-5h0m32 59h0m39-126h0m-1-16h0m-3-5h0m11-7h0m11 13h0m-12 77h0m27-170h0m7 95h0m8 62h0m24-65h0m19-20h0m6-50h0m22 129h0m8-28h0m-5-93h0m89 49h0m27-7h0m-2 14h0m32 135h0m34 23h0m21-137h0m79-81h0m-6 2h0m-5 147h0m1 48h0m14-99h0m3-20h0m50 1h0m-1 159h0m36-128h0m2 14h0m4-114h0m21 103h0m2 11h0m11-39h0m42 38h0m95 46h0m-10-21h0m10-61h0"/>
<path stroke="#f27516" d="M140 152h0m2 5h0m-2 2h0m2 15h0m0 20h0m-1 10h0m2 16h0m0 41h0m-2 22h0m2 0h0m-4 62h0m0 2h0m2 10h0m1 21h0m4-50h0m-1-40h0m0-39h0m1-76h0m48 51h0m-2 8h0m9 29h0m24-73h0m6 102h0m37-73h0m15 132h0m2-83h0m0-77h0m23 145h0m7-2h0m-2-45h0m-2-19h0m-1-5h0m-4-7h0m6-12h0m10-12h0m29 30h0m2-95h0m2 72h0m5 43h0m53 60h0m-2-98h0m17 99h0m18-61h0m1-10h0m-11-25h0m27-10h0m52 228h0m45-123h0m28 22h0m13 37h0m13-191h0m2 14h0m-6 4h0m9 84h0m5-44h0m1-13h0m25 49h0m11 85h0m42-39h0m16-84h0m-3 114h0m8-97h0m12-17h0m8 70h0m19-84h0m7-18h0m5 20h0m33 10h0m21 56h0m-1-12h0m16-65h0m-6 33h0m8 41h0m-7 16h0m13 44h0m8-14h0m-8-9h0m-4-1h0m1-20h0m220 140h0"/>
<path stroke="#f38f13" d="M141 145h0m0 0h0m1 15h0m-5 0h0m5 7h0m-2 8h0m2 24h0m0 1h0m-1 5h0m1 6h0m-1 4h0m1 29h0m1 19h0m-2 23h0m2 6h0m-1 28h0m1 4h0m0 22h0m-2 7h0m4 65h0m-1-95h0m2-61h0m-2-11h0m1-53h0m46 77h0m3-39h0m25 2h0m12-61h0m6 36h0m-7 1h0m6 26h0m-9 61h0m5 3h0m1 4h0m-2 3h0m5 9h0m-3 16h0m0 55h0m-1 193h0m15-228h0m0-95h0m21-45h0m17 148h0m-1-14h0m-4-68h0m6-36h0m27 69h0m5-41h0m-6-24h0m-8-23h0m3-28h0m41 182h0m3-39h0m-5-49h0m-5-40h0m10-17h0m-4-27h0m4-33h0m-6-5h0m19 8h0m-11 8h0m7 82h0m1 41h0m20 147h0m-9-115h0m10-178h0m12 59h0m-2 57h0m19-50h0m8 77h0m24 88h0m3 0h0m-1-37h0m-10-8h0m6-23h0m-6-17h0m1-62h0m18-29h0m-3 33h0m6 6h0m12-14h0m36 144h0m3-25h0m0-18h0m-1-50h0m-1-33h0m12-46h0m3 152h0m11-46h0m-2-1h0m1-8h0m7-70h0m16 4h0m-4 29h0m7 41h0m-6 27h0m2 71h0m-5 2h0m15-89h0m16 16h0m42-127h0m-5 30h0m6 18h0m-11 4h0m7 11h0m-4 40h0m-2 1h0m20 14h0m-1-5h0m-3-82h0m-3-62h0m26 79h0m36 44h0m-15 15h0m22 17h0m19-68h0m1 1h0m2 2h0m0 69h0m13 105h0m4-50h0m-13-76h0m4-18h0m-1-4h0m8-27h0m14 109h0m-3 131h0m23-60h0m-3-63h0m-4-169h0m16 0h0m0 14h0m-4 91h0m-1 3h0m5 52h0m41-150h0m9-8h0m18 27h0m2 13h0m-1 3h0m-1 24h0m4 8h0m1 4h0m-8 5h0m0 2h0m4 6h0m3 67h0m-3 43h0m4 3h0m4-53h0m35-118h0m13 49h0m-2 8h0m1 35h0m37-62h0m-1 38h0m2 82h0m35-60h0m9 29h0m22-94h0m7 187h0m-1-108h0m69 95h0"/>
<path stroke="#f6b316" d="M142 142h0m-2 25h0m1 1h0m1 31h0m0 8h0m0 5h0m-1 4h0m-1 0h0m3 9h0m-2 4h0m2 12h0m0 7h0m-4 7h0m3 0h0m0 6h0m0 2h0m0 1h0m-2 9h0m3 45h0m-1 2h0m-1 11h0m1 9h0m-5 136h0m9-105h0m0-9h0m-1-12h0m1-45h0m-2-4h0m0-45h0m0-11h0m4-15h0m-3-31h0m0-5h0m1-2h0m61 11h0m-11 117h0m6 19h0m13-1h0m7-18h0m-3-30h0m-4-18h0m-3-23h0m-2-11h0m2-35h0m25-13h0m-2 15h0m-3 9h0m-2 31h0m-4 2h0m12 3h0m-7 3h0m5 21h0m1 4h0m-1 5h0m-1 58h0m-11 10h0m15 63h0m0 33h0m9-131h0m-6-49h0m25-26h0m1 49h0m14 48h0m-10-27h0m6-30h0m0-33h0m38 89h0m3-51h0m-1-24h0m-5-4h0m-2-3h0m7-4h0m1-11h0m-10-16h0m13-39h0m3 32h0m0 61h0m-3 11h0m10 52h0m-3 23h0m-9 13h0m5 8h0m18-60h0m5-19h0m3-50h0m-7-25h0m7-39h0m8-12h0m5 15h0m-9 44h0m-1 0h0m-1 47h0m9 31h0m12 193h0m-6-145h0m9-78h0m0-5h0m4-31h0m-7-8h0m8 0h0m17 27h0m-12 236h0m27-52h0m-8-111h0m-1-39h0m-5-5h0m14-21h0m1-33h0m-6-23h0m7-21h0m0 0h0m1 13h0m3 20h0m-4 37h0m7 59h0m1 2h0m-1 6h0m5 9h0m-9 9h0m1 12h0m-4 98h0m30-170h0m-1-38h0m-6-7h0m4-42h0m-9-14h0m22 50h0m4 45h0m9 37h0m14-11h0m5 75h0m20-61h0m-1-49h0m2-12h0m-7-27h0m25-11h0m-1 39h0m-14 37h0m7 12h0m6 4h0m-1 31h0m-5 33h0m8 32h0m9-113h0m-8-27h0m1-2h0m1-15h0m-1-12h0m23-21h0m-2 11h0m-6 3h0m5 7h0m4 21h0m6 36h0m-1 17h0m0 8h0m-7 6h0m12-73h0m-3-30h0m30 54h0m-7 21h0m3 10h0m-9 72h0m14 225h0m12-285h0m-1-6h0m1-34h0m1-65h0m3 0h0m6-20h0m9 23h0m-4 76h0m-8 54h0m-1 18h0m8 5h0m-7 33h0m23-81h0m-3-126h0m25 85h0m-13 13h0m23 52h0m-1-29h0m-6-8h0m12-24h0m-11-16h0m4-27h0m24 18h0m-15 239h0m21-130h0m4-52h0m-4-13h0m10-20h0m-14-9h0m24-72h0m-1 11h0m-5 47h0m6 5h0m-8 21h0m12 6h0m-11 53h0m4 38h0m4 11h0m-7 73h0m16-61h0m0-14h0m-1-109h0m0-15h0m-1-22h0m25 1h0m-3 43h0m0 12h0m4 19h0m-10 56h0m0 147h0m18-142h0m12-13h0m-10-17h0m5-7h0m-1-32h0m-2-38h0m4-7h0m-2-16h0m-3-14h0m9-1h0m-2-8h0m-1-39h0m-3-6h0m5-1h0m10 33h0m-8 89h0m3 32h0m44-148h0m-10 5h0m7 8h0m3 82h0m-8 23h0m1 52h0m5 36h0m2 59h0m2-69h0m4-6h0m10-31h0m-7-17h0m7-25h0m-7-67h0m-5-10h0m5-21h0m17 71h0m1 32h0m-8 218h0m20-153h0m-4-81h0m-2 0h0m8-12h0m-8-41h0m24 78h0m6 68h0m6-22h0m0-117h0m15 73h0m21-41h0m14 5h0m-6 22h0m3 18h0m45 224h0m11-187h0m2-9h0m2-42h0m-10-4h0m23-27h0m2 92h0m2-65h0"/>
<path stroke="#f8cf18" d="M142 168h0m-1 7h0m1 5h0m-2 4h0m0 9h0m1 2h0m2 4h0m-1 14h0m1 6h0m-4 15h0m3 4h0m1 3h0m-1 3h0m-1 1h0m1 0h0m0 14h0m0 6h0m-1 2h0m-1 13h0m2 15h0m1 18h0m-1 5h0m-1 22h0m1 1h0m0 25h0m-2 3h0m2 62h0m4-74h0m-1-18h0m0-28h0m5-12h0m-5-17h0m0-18h0m-1-8h0m1-4h0m-1-23h0m0-35h0m0-8h0m0-28h0m0-3h0m0-15h0m38 240h0m5-117h0m-5-16h0m6-9h0m17-53h0m-1 25h0m-2 3h0m-1 7h0m-2 92h0m20 43h0m2-107h0m-12-13h0m1-11h0m5-2h0m-7-10h0m12-5h0m0-9h0m12-12h0m-5 16h0m6 14h0m-4 12h0m-4 10h0m10 0h0m-9 8h0m10 25h0m-3 4h0m-5 2h0m3 7h0m8 6h0m-12 0h0m-2 25h0m6 74h0m-2 11h0m9 6h0m-4 61h0m4 12h0m-4 46h0m0 36h0m13-29h0m-3-147h0m-2-11h0m1-7h0m-1-47h0m-2-66h0m0 0h0m1-17h0m30-10h0m-1 19h0m-5 3h0m2 2h0m14 30h0m-4-11h0m1-14h0m3-19h0m3-20h0m-2-28h0m-8-2h0m8-13h0m4-5h0m7 40h0m-3 52h0m29 128h0m-1-3h0m-3-5h0m-4-16h0m5-12h0m-10-3h0m12-10h0m0-35h0m-9 0h0m5-14h0m-1-20h0m-1-4h0m2-58h0m-2-5h0m-3-8h0m5-2h0m8 2h0m2 19h0m-1 13h0m4 42h0m-6 6h0m7 29h0m1 35h0m-8 23h0m8 6h0m6 71h0m11 64h0m4-94h0m0-11h0m-2-4h0m3-30h0m-7-30h0m2-2h0m-6-1h0m11-11h0m-15-37h0m9-63h0m4-8h0m1-1h0m-10-9h0m9-19h0m-1-14h0m9 34h0m7 1h0m-9 5h0m-1 3h0m0 0h0m0 21h0m2 6h0m-3 0h0m7 16h0m-1 29h0m-5 8h0m2 21h0m6 7h0m-6 1h0m-1 21h0m1 1h0m7 6h0m-1 13h0m14 83h0m0-114h0m-8-18h0m7-38h0m-4-81h0m7-8h0m2-22h0m18 10h0m-14 20h0m9 94h0m2 176h0m8-43h0m12-24h0m-3-1h0m2-16h0m-7-21h0m-7-34h0m5-11h0m4-1h0m-4-37h0m7-27h0m0-4h0m2-10h0m-2-31h0m4-5h0m8 19h0m4 18h0m-7 0h0m-3 19h0m5 3h0m-7 4h0m11 12h0m4 32h0m-14 47h0m4 44h0m0 1h0m-4 8h0m12 6h0m-13 31h0m1 12h0m14 76h0m7-147h0m-1-23h0m0-9h0m-1-9h0m8-37h0m1-17h0m-4-20h0m4-6h0m0-2h0m-1-9h0m0-17h0m1-4h0m-7-7h0m5-1h0m-9-4h0m3-3h0m4-6h0m-2-12h0m1-1h0m4-4h0m-7-10h0m26 79h0m-11 20h0m-3 1h0m3 23h0m8 61h0m-11 2h0m13 18h0m-8 2h0m0 64h0m12-20h0m6-49h0m-4-39h0m9-13h0m0-28h0m-3-8h0m-1-77h0m0-9h0m4-6h0m-7-1h0m19 35h0m-2 25h0m1 42h0m-6 17h0m4 8h0m2 12h0m22 51h0m-1-72h0m-7-12h0m-4-5h0m3-18h0m-3-28h0m13-3h0m-2-7h0m2-7h0m-3-17h0m15-11h0m-6 15h0m10 9h0m-1 3h0m-5 8h0m2 53h0m-1 2h0m4 2h0m-7 5h0m6 36h0m-5 5h0m-8 157h0m20-184h0m-1-2h0m8-54h0m-5-26h0m19 13h0m2 10h0m-4 5h0m-1 6h0m0 21h0m2 5h0m-7 15h0m10 10h0m1 30h0m-5 21h0m9 132h0m2-89h0m11-13h0m-2-157h0m3-41h0m3 0h0m0 30h0m3 5h0m4 54h0m-4 8h0m0 12h0m3 8h0m-1 28h0m1 12h0m7 86h0m13 88h0m2-100h0m-7-56h0m2-69h0m-1-1h0m2-52h0m22-70h0m-10 12h0m3 24h0m-2 0h0m5 6h0m-6 1h0m-4 3h0m10 16h0m-6 9h0m8 13h0m-1 56h0m-12 25h0m2 1h0m0 30h0m13 17h0m1-58h0m2-67h0m1-20h0m-1-33h0m-2-5h0m30 17h0m-10 136h0m17 79h0m23-150h0m-10 60h0m-2 46h0m14 26h0m5 52h0m11-48h0m-14-14h0m14-55h0m-1 0h0m-1-3h0m1-5h0m-5-1h0m6-7h0m-12-1h0m9-15h0m-4-3h0m2-30h0m-9-3h0m7-5h0m-5-4h0m0-19h0m15-41h0m12 12h0m-1 14h0m-3 17h0m-4 25h0m8 8h0m-13 11h0m13 15h0m-7 28h0m5 3h0m-10 21h0m8 6h0m3 16h0m0 77h0m-3 31h0m8-61h0m5-46h0m-1-33h0m0-4h0m-3-27h0m-2-3h0m0-2h0m4-35h0m1-43h0m-2-22h0m13 1h0m14 43h0m-8 34h0m4 10h0m-2 30h0m-3 39h0m-3 40h0m16 60h0m6-108h0m0-22h0m1-25h0m-3-12h0m6-28h0m-11-20h0m6-4h0m-2-7h0m2-22h0m8-28h0m3 19h0m-2 29h0m1 31h0m10 124h0m32-184h0m0 13h0m2 33h0m0 299h0m7-207h0m2-6h0m-4-18h0m-1-19h0m14-30h0m-13 0h0m9-20h0m-11-8h0m8-2h0m-5-33h0m-3-7h0m13-15h0m-2-4h0m-3-16h0m-7-6h0m29 68h0m1 15h0m0 2h0m-14 15h0m13 2h0m-2 8h0m-1 26h0m-7 9h0m8 6h0m1 14h0m2 108h0m5 9h0m-4-119h0m1-74h0m22-32h0m22 106h0m-12-10h0m8-9h0m-5-17h0m-4-60h0m4-5h0m18 57h0m2 64h0m-8 17h0m9 153h0m18-175h0m1-68h0m5 100h0m1 55h0m44 32h0m2-126h0m12-24h0m-9-22h0m-3-17h0m0-24h0m28 15h0m-7 33h0m9 19h0m12 76h0m-3-77h0m-6-8h0m8-28h0m68 25h0"/>
<path stroke="#e3e018" d="M140 128h0m2 16h0m-1 4h0m1 47h0m-1 7h0m1 17h0m-2 33h0m1 10h0m0 7h0m1 0h0m1 10h0m-1 31h0m0 11h0m0 5h0m-1 3h0m-4 10h0m3 8h0m1 12h0m2 52h0m-5 30h0m-4 7h0m6 11h0m7 58h0m-3-156h0m0-40h0m1-26h0m-1-44h0m1-24h0m2-20h0m-3-1h0m1-35h0m-1-11h0m45 226h0m0-110h0m-6-23h0m23-69h0m0 45h0m-6 5h0m7 12h0m-15 18h0m13 16h0m-6 1h0m4 52h0m1 50h0m11-48h0m8-7h0m-3-21h0m-1-26h0m-5-16h0m9-4h0m-11-7h0m-2-1h0m3 0h0m7-14h0m15-56h0m3 2h0m0 47h0m0 23h0m1 8h0m-7 10h0m1 14h0m6 18h0m-13 1h0m7 25h0m0 11h0m-3 16h0m-2 9h0m11 24h0m2 8h0m2-6h0m0-94h0m7-32h0m-10-17h0m29-38h0m1 70h0m-2 9h0m1 127h0m15 28h0m-8-60h0m10-8h0m-7 0h0m-6-2h0m5-49h0m2-5h0m-2-40h0m4-12h0m0-7h0m2-2h0m-9-12h0m0-16h0m5-38h0m-5-2h0m3-8h0m-2-9h0m13-10h0m-1 40h0m2 110h0m0 39h0m5 3h0m18 98h0m-2-27h0m-6-3h0m13-57h0m-3-13h0m0-31h0m0-18h0m-2-32h0m-8-2h0m9-4h0m-6-13h0m10-18h0m-7-4h0m3-3h0m3-48h0m-3-13h0m6 1h0m5 15h0m-2 9h0m0 70h0m-2 16h0m4 14h0m-5 34h0m0 8h0m0 1h0m9 12h0m-1 40h0m-7 5h0m0 6h0m25 7h0m1-38h0m-6 0h0m-1-1h0m8-24h0m3-1h0m-11-11h0m11-25h0m-10-38h0m3-15h0m-7-7h0m12-4h0m-12-8h0m12-5h0m-1-3h0m-12-5h0m15-9h0m-8-21h0m-7-11h0m4 0h0m8-15h0m14 41h0m0 12h0m3 0h0m-2 31h0m-8 6h0m0 14h0m-3 24h0m7 4h0m3 13h0m1 1h0m-10 4h0m4 27h0m5 10h0m-10 0h0m13 7h0m-5 11h0m1 16h0m-5 32h0m26 63h0m1-49h0m0-9h0m-15-70h0m8-8h0m1-24h0m-9-64h0m5-16h0m8-8h0m-1-5h0m3 0h0m-5-29h0m3-4h0m-1-6h0m-2-11h0m5-5h0m6 61h0m-3 25h0m0 22h0m0 52h0m12 41h0m4 97h0m11-25h0m0-8h0m-3-41h0m1-44h0m-3-12h0m2-10h0m-3-1h0m7-19h0m-5-11h0m-9-6h0m9-7h0m1-1h0m4-3h0m-11-42h0m6-17h0m-4-15h0m8-3h0m-2-6h0m-11 0h0m22-9h0m-3 11h0m-1 12h0m7 5h0m-2 4h0m5 10h0m-5 24h0m-5 12h0m4 5h0m-3 10h0m3 76h0m8 17h0m-13 69h0m9 32h0m-4 27h0m-6 10h0m0 17h0m24-7h0m-7-37h0m2-1h0m9-64h0m2-49h0m-7-13h0m4-24h0m-5-8h0m4-2h0m-5-4h0m0-4h0m6 0h0m-9-1h0m6-5h0m5-2h0m1-6h0m-3-18h0m-3-17h0m-2-11h0m0-1h0m1-6h0m-6-6h0m9-13h0m4-43h0m-8-6h0m-3 0h0m8-2h0m-11-2h0m15-3h0m7 64h0m-1 9h0m-4 13h0m2 3h0m1 18h0m4 17h0m2 7h0m3 5h0m-6 21h0m-1 16h0m-1 4h0m6 4h0m-1 25h0m3 8h0m-7 19h0m-5 1h0m8 6h0m17 49h0m-7-12h0m0-66h0m2-73h0m5-1h0m-10-28h0m8-5h0m-8-61h0m14-1h0m-1 0h0m-3-1h0m19 32h0m-12 2h0m8 38h0m-5 1h0m6 81h0m2 18h0m11-40h0m-1-17h0m1-38h0m1-1h0m-8-4h0m9-71h0m3 0h0m-5-10h0m17 7h0m-4 1h0m-1 0h0m12 2h0m-14 3h0m9 11h0m5 5h0m-4 3h0m1 3h0m-2 5h0m5 3h0m-4 6h0m-2 5h0m-6 13h0m8 1h0m-4 8h0m1 27h0m-7 30h0m0 25h0m11 192h0m10-152h0m-4-17h0m-2-17h0m0-8h0m6-18h0m-4-18h0m-2-111h0m0-26h0m23 39h0m-3 12h0m4 4h0m5 5h0m2 1h0m-8 2h0m3 3h0m-7 3h0m10 8h0m-13 19h0m0 10h0m6 4h0m1 19h0m2 44h0m1 5h0m-4 0h0m-3 4h0m8 25h0m-5 50h0m16 42h0m2-111h0m6-69h0m-14-67h0m7-8h0m10-20h0m2 17h0m9 2h0m-5 25h0m1 25h0m5 48h0m-5 20h0m1 34h0m-4 8h0m24 11h0m-3-6h0m1-7h0m-3-76h0m3-68h0m4-8h0m16-47h0m-9 9h0m1 10h0m-5 0h0m10 2h0m-4 8h0m-7 4h0m2 2h0m12 3h0m-9 7h0m-2 0h0m6 7h0m-10 39h0m8 17h0m-3 12h0m1 1h0m8 2h0m-7 7h0m3 45h0m-1 13h0m4 52h0m-8 17h0m16-120h0m-4-22h0m9-9h0m-3-45h0m-4-5h0m-1-31h0m4-12h0m23 132h0m-7 40h0m1 24h0m15-34h0m8-22h0m-7-5h0m-2-28h0m-4-19h0m18 32h0m5 18h0m-5 1h0m3 1h0m13 61h0m2-4h0m10-33h0m-1-8h0m1-9h0m-12-30h0m3-20h0m2-27h0m-7-2h0m30-83h0m-5 18h0m5 6h0m-1 12h0m-1 1h0m1 40h0m0 31h0m-7 4h0m8 1h0m-8 5h0m4 7h0m-11 4h0m3 9h0m11 7h0m1 6h0m-12 7h0m0 0h0m3 6h0m2 5h0m-1 7h0m8 15h0m-6 1h0m1 27h0m2 1h0m-11 1h0m11 73h0m-6 3h0m9 38h0m-14 47h0m24-83h0m-2-8h0m-2-46h0m-5-47h0m6-31h0m4-12h0m-4-31h0m-5-15h0m11-12h0m-11-44h0m6-9h0m-4-12h0m19 51h0m2 37h0m2 0h0m-3 13h0m0 28h0m7 26h0m1 39h0m-5 31h0m-6 17h0m-1 21h0m14-97h0m4-1h0m-5-8h0m4-7h0m8-1h0m-11-37h0m11-23h0m-2-28h0m4-8h0m-3-13h0m4-3h0m-1 0h0m1-8h0m0-12h0m0-1h0m0-3h0m-4-12h0m0-5h0m-3-1h0m12 52h0m-1 34h0m1 28h0m-4 4h0m9 10h0m-4 8h0m7 1h0m-12 3h0m4 3h0m-4 25h0m1 6h0m5 30h0m38-168h0m0 49h0m-3 5h0m0 7h0m5 18h0m-1 11h0m1 69h0m-11 32h0m4 3h0m21 90h0m-10-34h0m2-4h0m-1-25h0m5-22h0m6-13h0m-6-69h0m2-1h0m-3-7h0m-2-14h0m8-6h0m-7 0h0m7-8h0m-7-8h0m3-8h0m-7-11h0m5-1h0m-3-37h0m0-10h0m-2-13h0m1-3h0m7-2h0m2 0h0m-7-6h0m4-19h0m-1-17h0m-6-21h0m24 62h0m5 12h0m-6 42h0m4 2h0m-4 5h0m-9 3h0m12 18h0m-4 19h0m1 25h0m6 3h0m-7 0h0m5 1h0m-9 15h0m9 43h0m-7 2h0m9 69h0m3 110h0m6-263h0m-8-16h0m14-1h0m-12-83h0m28 42h0m-1 71h0m0 13h0m-9 7h0m11 6h0m-2 23h0m2 59h0m-3 105h0m7-27h0m3-75h0m9-61h0m-7-18h0m-4-20h0m-2-1h0m2-4h0m1-13h0m1-46h0m0-34h0m16 26h0m-5 40h0m11 8h0m-5 12h0m-3 15h0m8 11h0m-4 10h0m-8 21h0m8 8h0m16-80h0m-8-26h0m21-10h0m-2 130h0m14-94h0m25 21h0m14 95h0m-4-92h0m-3-1h0m9-25h0m-4-9h0m6-3h0m-1-28h0m-8-2h0m-2-6h0m0-11h0m27 22h0m-2 68h0m6 8h0m2-46h0m7-4h0m-1-1h0m-8-65h0m19 143h0m50 74h0m0-43h0m-2-1h0m9-85h0m28 95h0"/>
<path stroke="#c6eb18" d="M143 133h0m-2 11h0m2 63h0m-3 21h0m3 10h0m-1 1h0m-2 9h0m0 21h0m3 0h0m-2 3h0m0 3h0m-2 45h0m3 37h0m-5 16h0m3 38h0m3 25h0m-3 54h0m10 3h0m-6-257h0m1-36h0m-1-26h0m44 324h0m-3-94h0m3-34h0m0-90h0m-2-13h0m15-65h0m-9 12h0m2 22h0m7 5h0m2 9h0m-1 5h0m-8 14h0m13 2h0m0 6h0m-10 13h0m-4 199h0m25-141h0m5-27h0m-12-1h0m4-10h0m-1-48h0m-1-2h0m2-1h0m-1-13h0m3-18h0m6-6h0m-15-2h0m13-17h0m-7-2h0m1-3h0m2-22h0m20 9h0m-4 11h0m-3 20h0m4 2h0m2 16h0m-2 8h0m-4 15h0m9 9h0m-9 3h0m4 4h0m-6 28h0m5 2h0m0 1h0m-6 22h0m5 5h0m6 40h0m-11 12h0m8 21h0m4 10h0m0 16h0m-5 15h0m2 37h0m1 35h0m0 157h0m-3 2h0m9-123h0m-2-55h0m3-2h0m-1-14h0m7-172h0m19 10h0m-7 99h0m-1 46h0m20 72h0m2-65h0m4-77h0m-11-9h0m-2-4h0m11-36h0m-4-7h0m3-3h0m-7-39h0m5-28h0m1 0h0m-2-26h0m0-1h0m-2-5h0m3-15h0m1-21h0m3-7h0m-5-30h0m16 65h0m-8 0h0m7 5h0m3 52h0m-6 50h0m1 36h0m6 7h0m12 76h0m2-26h0m1-31h0m-2-37h0m2-42h0m3-7h0m-3-12h0m-8-7h0m11-64h0m-6-1h0m-1-7h0m8-13h0m-11-14h0m2 0h0m5-7h0m-3-8h0m9 17h0m9 91h0m-5 1h0m-4 4h0m7 4h0m-3 14h0m-4 35h0m1 14h0m0 13h0m-1 9h0m6 5h0m-4 124h0m27-117h0m-8-6h0m0-25h0m5-32h0m3-2h0m-8-14h0m7-23h0m-2-31h0m2 0h0m-10-15h0m11-19h0m-13-26h0m13-19h0m2 15h0m4 1h0m-4 6h0m5 7h0m10 20h0m0 10h0m-6 19h0m6 3h0m-2 5h0m-10 12h0m0 6h0m9 15h0m-12 2h0m2 15h0m2 7h0m-4 12h0m2 0h0m9 16h0m-10 3h0m0 25h0m7 72h0m21-56h0m-8-1h0m2-105h0m2-21h0m1-5h0m3-25h0m0-37h0m-4-5h0m4-39h0m16 51h0m-5 74h0m7 1h0m-8 2h0m-1 14h0m2 17h0m-6 102h0m2 48h0m0 0h0m3 35h0m16 124h0m8-96h0m-5-120h0m5-10h0m-5-30h0m5-3h0m0-21h0m-5-7h0m-1-2h0m6-3h0m-1-4h0m-9-48h0m5-5h0m0-5h0m1-48h0m4-1h0m-8-4h0m1-7h0m3-11h0m-2-10h0m-1-7h0m11 23h0m1 3h0m0 1h0m-3 25h0m3 17h0m7 1h0m-1 5h0m0 2h0m-8 8h0m1 1h0m-1 20h0m12 13h0m-7 9h0m8 1h0m-6 21h0m3 6h0m-4 2h0m-3 3h0m2 7h0m-5 11h0m5 2h0m-7 9h0m11 12h0m-1 1h0m-1 11h0m-6 16h0m-2 4h0m12 52h0m-13 99h0m19 91h0m10-142h0m-9-48h0m-2-12h0m10-3h0m-8-30h0m11-4h0m-4-1h0m-7-9h0m4-14h0m0-5h0m3-5h0m1-11h0m-5-2h0m-4-25h0m6 0h0m-5-8h0m3-1h0m-1-5h0m4-22h0m-3-12h0m2-1h0m0-2h0m-9-13h0m15-3h0m-8 0h0m-2-11h0m-2-15h0m8-4h0m-10-11h0m5-7h0m4 0h0m0-22h0m8 3h0m-1 5h0m3 2h0m8 19h0m-8 7h0m0 1h0m-1 9h0m8 40h0m-5 39h0m1 9h0m0 11h0m-4 19h0m5 10h0m-5 25h0m4 88h0m19 43h0m4-69h0m-13-44h0m7 0h0m0-14h0m7-17h0m0-4h0m-3-24h0m-8-6h0m7-2h0m-4-15h0m2-14h0m-2-15h0m0-9h0m1-21h0m7 0h0m-9-24h0m7-2h0m-7-10h0m-6-14h0m14-4h0m-3-2h0m1-9h0m-3-4h0m0 0h0m-7-2h0m2-12h0m20 42h0m-8 8h0m11 1h0m-2 2h0m-3 2h0m-1 31h0m3 17h0m5 11h0m2 5h0m-9 1h0m3 9h0m4 16h0m-10 40h0m0 9h0m3 130h0m6 9h0m-5 39h0m11-87h0m11-127h0m-2-12h0m-4-18h0m-2-1h0m2-16h0m2-3h0m-1-21h0m5 0h0m2-7h0m-1-20h0m1-11h0m-9-26h0m2-1h0m12-10h0m-2 0h0m9 2h0m-11 1h0m7 27h0m0 0h0m3 18h0m-2 2h0m-8 6h0m9 17h0m0 6h0m5 1h0m-5 1h0m1 22h0m4 31h0m-11 4h0m-3 12h0m14 65h0m8 157h0m-2-106h0m-4-38h0m12-9h0m2-2h0m-6-12h0m-8-12h0m2-18h0m5-19h0m-5-10h0m7-12h0m-8-19h0m3-12h0m-3-16h0m-1-52h0m0-3h0m2-9h0m1-17h0m19 13h0m-6 10h0m8 11h0m5 17h0m2 10h0m-1 1h0m-11 5h0m0 11h0m10 17h0m-2 1h0m-1 1h0m2 20h0m-2 26h0m-8 2h0m3 2h0m0 1h0m6 7h0m2 87h0m-5 21h0m3 71h0m5-59h0m14-53h0m-3-6h0m-6-22h0m2-24h0m-7-10h0m3-2h0m1-14h0m6-9h0m2-24h0m3-11h0m-13-9h0m-1-6h0m0-8h0m7-2h0m-3-14h0m-1-18h0m7-33h0m10-27h0m1 40h0m-3 5h0m1 10h0m1 1h0m-1 8h0m8 12h0m3 5h0m-11 14h0m6 2h0m-1 20h0m-4 12h0m8 2h0m-6 34h0m8 14h0m-6 4h0m-2 4h0m-2 29h0m5 4h0m-8 5h0m4 9h0m8 8h0m-9 43h0m14 83h0m-1-64h0m6-31h0m-5-81h0m6-19h0m-6-13h0m-1-1h0m13 0h0m-11-33h0m11-4h0m-5-19h0m3-33h0m2-16h0m0-46h0m10-18h0m-1 15h0m-3 2h0m7 2h0m-3 17h0m-4 0h0m9 5h0m-9 6h0m1 66h0m1 7h0m2 12h0m5 5h0m-6 7h0m-2 2h0m7 18h0m-9 13h0m7 5h0m2 11h0m-6 30h0m7 1h0m-5 49h0m12-6h0m1-8h0m-1-12h0m4-41h0m0-6h0m-1-6h0m-4-28h0m-3-27h0m5-23h0m3-10h0m-7-77h0m0-4h0m22 52h0m2 8h0m3 54h0m-8 4h0m6 2h0m0 21h0m0 38h0m2 39h0m-7 8h0m5 40h0m10 28h0m4-146h0m6-11h0m-3-7h0m-8 0h0m7-35h0m4-5h0m0-8h0m-12 0h0m2-2h0m8-1h0m-9-5h0m12-16h0m6 12h0m-3 16h0m-1 2h0m0 8h0m-2 3h0m3 7h0m-1 7h0m-1 3h0m11 6h0m-12 23h0m14 6h0m-8 42h0m9 55h0m12 76h0m4-39h0m-8-15h0m6-11h0m-11-90h0m0-4h0m13-15h0m-9-2h0m7-11h0m-9-9h0m10-6h0m-10-29h0m6-15h0m5-2h0m-14-2h0m9 0h0m16-65h0m-6 10h0m5 3h0m6 8h0m-1 12h0m-6 1h0m0 12h0m-1 3h0m3 6h0m-4 4h0m5 3h0m-10 6h0m11 0h0m-1 9h0m4 16h0m-2 21h0m0 3h0m-11 5h0m2 0h0m8 5h0m3 3h0m-6 6h0m-5 8h0m7 5h0m-1 0h0m-9 2h0m-1 19h0m7 0h0m-2 1h0m5 5h0m-2 17h0m0 4h0m5 107h0m1 7h0m-1 21h0m2 36h0m-13 17h0m27-94h0m-9 0h0m-2-21h0m7-45h0m-2-11h0m6-43h0m0-6h0m-9-3h0m1-1h0m-5-11h0m0-22h0m3-14h0m0-3h0m-1-7h0m3-10h0m2-15h0m7-1h0m-14-9h0m0-4h0m1-4h0m0-14h0m4-14h0m0-13h0m1-12h0m8-13h0m-3-5h0m-5-10h0m12 70h0m5 10h0m-5 26h0m11 6h0m-1 16h0m-7 1h0m-5 2h0m13 7h0m-13 1h0m11 22h0m-3 4h0m-7 42h0m9 3h0m-1 2h0m2 15h0m-3 36h0m1 2h0m-3 74h0m14 71h0m-2 0h0m-1-27h0m14-30h0m-14-33h0m5-40h0m4-34h0m0-28h0m3-5h0m-8-21h0m3-2h0m2-15h0m1-22h0m0-8h0m1-3h0m-5-6h0m3-2h0m-1-16h0m-6-20h0m2-11h0m6-23h0m-3-5h0m-3-19h0m0-19h0m7-2h0m-1-5h0m-2 0h0m2-5h0m-1-8h0m2-9h0m9 72h0m1 34h0m0 2h0m-4 26h0m13 48h0m-9 6h0m-5 11h0m7 96h0m-8 77h0m47-346h0m-5 1h0m5 1h0m-2 5h0m0 19h0m0 18h0m1 46h0m1 38h0m-2 28h0m2 11h0m-4 26h0m-3 106h0m19 65h0m-4-28h0m-5-17h0m1-49h0m5-15h0m-1-6h0m1-18h0m-6-2h0m0-34h0m9-26h0m-4-7h0m3-4h0m-9-3h0m5 0h0m1-3h0m-2-3h0m-3-3h0m1-1h0m-3-13h0m3-9h0m9-12h0m-1-9h0m-6-17h0m1-11h0m-5-9h0m2-27h0m6-2h0m-1 0h0m-3-21h0m4-19h0m-2-2h0m-2-11h0m0-3h0m-1-13h0m4-3h0m20 74h0m-7 8h0m5 15h0m4 73h0m-14 151h0m15 84h0m4-201h0m6-124h0m20 47h0m0 42h0m-7 22h0m4 27h0m-2 36h0m0 42h0m19-36h0m-8-76h0m3-6h0m-2-44h0m-2-24h0m9-30h0m17 47h0m-7 7h0m6 12h0m-2 23h0m-2 22h0m4 2h0m-5 5h0m-6 35h0m9 2h0m-4 13h0m2 64h0m-5 93h0m29-252h0m-1-31h0m0-18h0m11 0h0m-4 2h0m-1 4h0m1 16h0m-2 22h0m4 7h0m-3 121h0m48 101h0m7-71h0m-8-80h0m4-52h0m3-28h0m-9-20h0m8 0h0m3-32h0m17 32h0m-3 20h0m1 55h0m3 144h0m4 58h0m3-189h0m-5-30h0m4-48h0m-4-1h0m69 350h0m2-211h0m0-160h0m31 274h0m39-266h0m3 5h0m4 3h0m-1 83h0m91-107h0m4 20h0"/>
<path stroke="#aaef17" d="M140 135h0m0 45h0m0 34h0m2 69h0m-1 51h0m-2 149h0m0 0h0m4 10h0m2 111h0m-1-369h0m28 27h0m19 187h0m-6-177h0m6-3h0m-3-14h0m2-13h0m-2-1h0m-2-3h0m17-49h0m1 25h0m-6 3h0m9 3h0m-13 3h0m13 24h0m-8 7h0m6 0h0m-8 38h0m-3 41h0m-1 12h0m1 88h0m-2 30h0m26-129h0m-6-28h0m8-29h0m-8-1h0m2-22h0m-4-6h0m-1-5h0m-1-4h0m6-1h0m-6-41h0m1-14h0m0-8h0m26 13h0m2 14h0m-10 7h0m4 3h0m-3 5h0m6 5h0m-8 23h0m11 13h0m-11 9h0m1 32h0m9 2h0m-11 19h0m8 6h0m1 6h0m0 1h0m-2 12h0m0 1h0m3 13h0m4 173h0m8 36h0m-1-25h0m-4-43h0m-2-20h0m8-14h0m-7-100h0m5-132h0m5-8h0m-11-3h0m27 40h0m2 125h0m1 44h0m7 173h0m1-46h0m9-93h0m-8-37h0m2-10h0m-2-25h0m3-11h0m5-15h0m-5-4h0m-3-12h0m-1-2h0m2-17h0m-3-5h0m1-1h0m7-8h0m-9-1h0m4-11h0m-7-16h0m8-1h0m-2 0h0m3-6h0m0-7h0m0-15h0m-6-3h0m11-3h0m-3-19h0m0-24h0m-6-12h0m-6-2h0m2-9h0m25 93h0m4 27h0m0 16h0m-14 7h0m-1 8h0m3 264h0m24-75h0m-10-20h0m10-115h0m-5-4h0m4-5h0m1-3h0m-2-2h0m-2-16h0m8 0h0m0-4h0m-4-4h0m4-20h0m-10-8h0m10-4h0m-1-13h0m1-1h0m-4-2h0m-1-16h0m-5-2h0m7-4h0m-5-3h0m4-12h0m1-22h0m-6-6h0m2-8h0m-6-5h0m7-39h0m22 4h0m-6 30h0m-2 1h0m-7 5h0m1 3h0m-1 3h0m1 10h0m2 25h0m1 11h0m-3 18h0m6 9h0m2 33h0m-8 17h0m1 1h0m1 3h0m-3 3h0m3 17h0m11 5h0m-13 3h0m9 19h0m-5 29h0m24 130h0m-7-78h0m8-100h0m-9-2h0m8-2h0m-11-13h0m11-5h0m0-9h0m-1-21h0m-3-7h0m-7-1h0m10-1h0m-12-9h0m14 0h0m-4-11h0m5-9h0m-10-24h0m9-1h0m1-6h0m-1-5h0m0-23h0m-5-3h0m6-3h0m-12-6h0m8-1h0m3-6h0m-13-11h0m11-18h0m-2-8h0m2-1h0m2-18h0m2 1h0m6 7h0m5 13h0m-6 1h0m8 18h0m-13 9h0m1 19h0m2 1h0m4 24h0m-6 13h0m13 4h0m0 0h0m-11 5h0m7 16h0m-3 0h0m-3 14h0m7 18h0m-3 2h0m-2 2h0m5 4h0m4 3h0m-13 18h0m-1 2h0m1 2h0m-1 1h0m9 7h0m5 181h0m14 98h0m-8-97h0m9-123h0m-1-16h0m2-33h0m-9-8h0m-2-4h0m10-9h0m-10-1h0m-3-4h0m10-2h0m-3-20h0m2 0h0m-4-18h0m9-21h0m-4-11h0m-3-3h0m-6-12h0m6-4h0m4-11h0m-7 0h0m-3-41h0m10-37h0m6 43h0m2 1h0m11 0h0m-13 19h0m-1 1h0m-1 34h0m5 17h0m7 1h0m1 6h0m-4 6h0m-3 26h0m3 18h0m3 2h0m-8 19h0m0 29h0m11 41h0m-15 4h0m5 2h0m3 84h0m23 60h0m-7-10h0m4-14h0m-5-24h0m5-30h0m0-21h0m-3-57h0m1 0h0m2 0h0m-5-50h0m-7-36h0m12-12h0m-6-6h0m-3-2h0m0-3h0m10-27h0m-3-13h0m5-5h0m-14-4h0m2-4h0m2-2h0m7-4h0m2-9h0m0-2h0m0-2h0m-11-5h0m9-2h0m-6-36h0m7-26h0m8 28h0m-4 1h0m0 16h0m1 1h0m1 1h0m10 7h0m-13 17h0m2 11h0m5 1h0m-5 3h0m6 0h0m7 10h0m-14 7h0m11 1h0m-5 1h0m-1 7h0m9 14h0m-1 3h0m-3 1h0m3 5h0m-11 28h0m11 8h0m1 5h0m-4 2h0m2 4h0m-6 34h0m5 6h0m-7 22h0m-3 6h0m-1 6h0m1 34h0m3 36h0m1 14h0m16 123h0m7-131h0m-11-25h0m6-6h0m5-11h0m-5-7h0m1-11h0m1-9h0m-9-13h0m12-7h0m-3-50h0m-7-17h0m-1-3h0m11 0h0m-3-14h0m2-2h0m-4-2h0m3-4h0m-3-1h0m-1-15h0m0-7h0m-1-39h0m-1-10h0m4-12h0m-6-16h0m11-6h0m-9-8h0m5-6h0m-5-12h0m9-1h0m14 2h0m-4 38h0m0 10h0m4 3h0m-9 3h0m7 10h0m-5 7h0m2 1h0m-3 11h0m3 2h0m0 4h0m-5 7h0m1 10h0m12 7h0m-13 2h0m5 27h0m-2 10h0m-2 4h0m2 1h0m4 31h0m-1 19h0m-5 15h0m7 28h0m-5 17h0m1 37h0m2 69h0m-6 14h0m15 67h0m6-141h0m-6-58h0m5-25h0m7-2h0m-5-31h0m-1-5h0m-6-1h0m5-2h0m5-11h0m-7-3h0m10-25h0m-6-8h0m-7-8h0m1-10h0m11-19h0m-8-2h0m-2-6h0m11-1h0m-3-3h0m-3-1h0m2-12h0m-10-18h0m5-3h0m4-11h0m0-19h0m-6-7h0m2-10h0m4-30h0m17 41h0m1 53h0m0 11h0m-1 1h0m-7 8h0m1 5h0m3 14h0m2 1h0m-7 14h0m12 6h0m-3 2h0m-1 18h0m5 7h0m-3 3h0m-5 2h0m8 12h0m-12 1h0m3 11h0m5 10h0m-6 28h0m7 20h0m-8 9h0m8 57h0m2 31h0m16-152h0m-11-38h0m2-18h0m9-3h0m-5-9h0m-2-4h0m-6-2h0m8-35h0m-5-1h0m-2-14h0m8-10h0m-5-9h0m-2-13h0m-1-14h0m8-4h0m18-34h0m-12 11h0m11 13h0m-2 13h0m2 9h0m-6 1h0m5 5h0m5 15h0m-5 24h0m2 0h0m-2 10h0m0 4h0m-3 34h0m6 5h0m2 1h0m-12 3h0m-1 5h0m7 35h0m3 5h0m0 3h0m-4 1h0m-6 1h0m9 26h0m0 29h0m3 41h0m-4 1h0m3 42h0m1 6h0m1 81h0m16-80h0m-12-2h0m12-96h0m-1-22h0m-2-2h0m-12-4h0m10-26h0m-9-35h0m1-16h0m2-8h0m-2-3h0m0-54h0m5-12h0m5-3h0m19-32h0m-8 33h0m1 10h0m3 7h0m-3 14h0m2 5h0m4 2h0m-3 4h0m-3 44h0m-3 4h0m5 13h0m1 23h0m-8 3h0m9 4h0m-7 10h0m2 29h0m-2 64h0m11 109h0m11-26h0m0-94h0m4-64h0m-2-4h0m1-12h0m-9-4h0m10-23h0m-8-3h0m8-33h0m-8-72h0m24-29h0m-14 10h0m0 2h0m0 32h0m-1 6h0m6 4h0m3 21h0m-9 3h0m3 30h0m6 25h0m3 0h0m0 4h0m-5 1h0m-7 26h0m9 6h0m3 9h0m-11 11h0m10 12h0m-9 22h0m1 6h0m6 9h0m-1 22h0m2 22h0m13 147h0m8-62h0m-7-53h0m4-77h0m-10-26h0m4-28h0m-4 0h0m4-28h0m0-2h0m1-10h0m4-21h0m3-3h0m-12-19h0m5-1h0m4-3h0m-8-3h0m0-4h0m6 0h0m4-1h0m1-1h0m-7-3h0m-5-5h0m3-10h0m-4-3h0m11-5h0m-11-57h0m29-50h0m-4 5h0m-6 26h0m1 13h0m3 8h0m-5 9h0m1 1h0m8 23h0m1 1h0m-5 2h0m-5 31h0m-3 1h0m5 6h0m4 22h0m3 3h0m-1 10h0m-5 5h0m8 27h0m-13 1h0m7 7h0m3 13h0m0 3h0m-1 89h0m-1 1h0m3 2h0m-7 75h0m-3 65h0m15-83h0m8-28h0m-5-36h0m10-43h0m-3-21h0m-11-12h0m4-1h0m-2-18h0m6-24h0m-7-18h0m1-8h0m-2-2h0m1-13h0m-1-4h0m3-33h0m2-17h0m-5-7h0m6-16h0m-5-2h0m-1-49h0m24 56h0m7 39h0m0 16h0m-10 59h0m1 20h0m7 9h0m0 18h0m1 154h0m16 6h0m1-128h0m-1-15h0m-13-17h0m6-4h0m3-20h0m-6-49h0m2-18h0m1-15h0m-4-11h0m9-42h0m8 32h0m5 3h0m4 4h0m-4 11h0m-1 33h0m7 2h0m-8 54h0m-7 17h0m4 2h0m7 6h0m-11 14h0m12 5h0m-3 86h0m19-22h0m-10-37h0m10-10h0m-8-18h0m-2-3h0m1-10h0m6-4h0m6-6h0m-5-30h0m-1-7h0m-4-18h0m0-12h0m-4-12h0m12-4h0m-12-3h0m10-21h0m4-25h0m0-14h0m16-50h0m-10 5h0m4 3h0m3 8h0m-3 14h0m0 21h0m3 21h0m-7 1h0m3 15h0m-2 3h0m9 1h0m0 7h0m-4 4h0m1 2h0m-2 5h0m3 2h0m-1 3h0m-9 2h0m9 0h0m-5 12h0m8 4h0m0 0h0m-11 24h0m8 4h0m-9 36h0m11 0h0m-1 6h0m-7 12h0m8 15h0m-10 5h0m10 4h0m-10 0h0m-1 1h0m11 9h0m-5 19h0m3 48h0m-1 1h0m4 26h0m-15 18h0m18 80h0m7-39h0m-9-76h0m13-10h0m-2-24h0m-10-8h0m2-17h0m-3-9h0m4-24h0m2-2h0m1-11h0m1-5h0m-2-10h0m0-23h0m-5-19h0m8-20h0m-9-9h0m14 0h0m-14-8h0m2-6h0m4-3h0m-3-7h0m10-6h0m0-3h0m-10-33h0m1-15h0m1-12h0m-1-10h0m-3-17h0m1-9h0m14 44h0m5 6h0m-4 33h0m14 0h0m-10 14h0m6 10h0m-7 3h0m4 41h0m-8 17h0m12 9h0m-5 24h0m3 27h0m-4 10h0m7 33h0m-5 67h0m-5 3h0m26-38h0m-7-82h0m7-48h0m-5-1h0m-2-6h0m1-21h0m-5-12h0m-1-8h0m11-7h0m2-19h0m-5-1h0m5-18h0m-2-2h0m-11-3h0m8-13h0m1-4h0m3-3h0m0-28h0m-7-12h0m8-11h0m5-9h0m5 26h0m1 112h0m-6 4h0m4 9h0m-5 2h0m5 125h0m-2 49h0m21-102h0m-2-44h0m16-161h0m2 26h0m5 1h0m0 18h0m-10 30h0m4 12h0m3 3h0m-2 13h0m-7 84h0m11 9h0m-10 27h0m2 61h0m8 35h0m9 36h0m5-130h0m-8-3h0m4-22h0m3-6h0m-9-5h0m0-14h0m7 0h0m-5-16h0m-2-2h0m0-5h0m7-16h0m-5-4h0m2-2h0m4-27h0m-1-18h0m-3-6h0m2-7h0m5-8h0m-12-6h0m6-5h0m0 0h0m-7-7h0m15-11h0m-12-3h0m6-13h0m1-11h0m-9-6h0m6-6h0m4-6h0m-3-18h0m-4-1h0m3-11h0m-1-6h0m13 87h0m10 13h0m-7 24h0m-1 6h0m9 6h0m-1 10h0m-4 22h0m-6 1h0m11 11h0m-4 72h0m-4 92h0m1 20h0m1 2h0m-6 4h0m23-135h0m-2-49h0m-6-4h0m0-13h0m-1-10h0m4-18h0m-1-9h0m1-3h0m5-3h0m12-41h0m10 21h0m-7 53h0m3 30h0m4 28h0m-7 34h0m3 2h0m-7 54h0m26-13h0m-7-48h0m0-48h0m1 0h0m-7-13h0m5-55h0m9-16h0m-14-1h0m3-4h0m-2-8h0m10-19h0m16 6h0m-2 4h0m-6 8h0m3 47h0m5 29h0m-1 8h0m0 13h0m-8 44h0m-3 23h0m15 171h0m16-185h0m-10-91h0m-5-6h0m22-24h0m-3 4h0m1 34h0m12-65h0m27 120h0m10-8h0m9-7h0m-12-45h0m1-50h0m23-13h0m3 37h0m-5 5h0m5 44h0m-4 28h0m4 63h0m-5 33h0m10-24h0m8-93h0m-4-70h0m63 358h0m-4-201h0m11-135h0m2-61h0m104 175h0m56 3h0"/>
<path stroke="#8cef1d" d="M143 146h0m-1 8h0m-5 43h0m4 28h0m0 12h0m1 30h0m-1 36h0m-1 22h0m-1 148h0m6-143h0m-1-163h0m36 104h0m9-7h0m-6-7h0m20-45h0m-8 1h0m8 19h0m-7 18h0m1 5h0m9 1h0m-1 15h0m-1 3h0m-12 1h0m13 83h0m-10 78h0m13-128h0m10-3h0m-2-1h0m-6-31h0m11-1h0m-13-25h0m1-5h0m0-5h0m4-4h0m2-8h0m-4-4h0m0-20h0m-2-5h0m4-2h0m-4-13h0m3-6h0m14 28h0m6 12h0m-6 13h0m3 16h0m8 15h0m2 9h0m-12 12h0m8 4h0m-11 27h0m5 9h0m8 4h0m2 2h0m-9 29h0m-6 29h0m14 13h0m-5 7h0m4 36h0m0 110h0m2 28h0m-10 71h0m16-146h0m-3-27h0m0-25h0m3-106h0m-1-119h0m24 21h0m1 32h0m2 27h0m0 44h0m-2 6h0m-3 11h0m0 49h0m-1 58h0m5 19h0m-2 76h0m10-119h0m-1-25h0m-2-17h0m-3-4h0m2-5h0m10-16h0m-8-4h0m-1-16h0m9-43h0m1-8h0m-9-1h0m1-14h0m3-1h0m-5-7h0m6-9h0m-7-30h0m1-14h0m8-1h0m-10-4h0m6-1h0m8-2h0m-6-22h0m-2-4h0m7-7h0m-12-8h0m-2-6h0m4-1h0m15 49h0m1 70h0m-3 28h0m5 40h0m-5 20h0m14 180h0m9-11h0m-2-102h0m7-23h0m-6-3h0m5-22h0m3-10h0m-9-17h0m7-10h0m-6-6h0m6-4h0m0-10h0m-11-9h0m5-14h0m2-2h0m-1-2h0m5 0h0m1-88h0m1-5h0m-2-5h0m2-1h0m-1-17h0m-6-7h0m10-22h0m7 11h0m-7 2h0m1 9h0m6 3h0m0 5h0m-2 13h0m-4 15h0m-2 7h0m2 35h0m1 6h0m-4 5h0m1 17h0m5 7h0m-5 23h0m0 18h0m7 9h0m-2 109h0m1 4h0m16 62h0m8-37h0m-7-34h0m4-34h0m-6-6h0m-5-28h0m9-30h0m-6-14h0m-1-2h0m11 0h0m-8-2h0m3-37h0m0-27h0m-2-30h0m8-9h0m-11-2h0m5-23h0m4-11h0m2-3h0m-1-5h0m-6-7h0m9 14h0m-1 38h0m0 8h0m8 12h0m-1 15h0m2 27h0m-1 17h0m-1 10h0m-4 20h0m6 4h0m-8 4h0m14 18h0m-8 44h0m4 0h0m-8 9h0m11 3h0m-4 30h0m4 18h0m14 64h0m-7-13h0m9-27h0m-11-38h0m5-18h0m7-60h0m-9-1h0m6-1h0m3-32h0m0-13h0m-10-39h0m8-8h0m-4-3h0m5-12h0m1-4h0m-5-10h0m4-3h0m-2-17h0m1-6h0m-1-4h0m1-14h0m-5-13h0m7-2h0m-7-17h0m-4-15h0m13-1h0m0 48h0m10 20h0m-8 14h0m12 9h0m-15 58h0m2 23h0m-1 23h0m4 51h0m-3 17h0m-2 38h0m1 70h0m18 163h0m9-90h0m-4-66h0m-1-30h0m8-2h0m-1-23h0m-13-15h0m8-43h0m6-6h0m-3-26h0m-5-34h0m8-15h0m-2-6h0m-1-10h0m-9 0h0m5-15h0m6-1h0m-5-25h0m1-3h0m1-7h0m1-9h0m-3-49h0m4-14h0m-3-11h0m-1 0h0m-2-17h0m7-20h0m11 20h0m-3 7h0m7 3h0m-10 14h0m0 7h0m-3 6h0m11 18h0m2 6h0m-5 3h0m2 2h0m-9 12h0m-1 9h0m4 43h0m2 40h0m6 6h0m2 9h0m-11 19h0m9 3h0m-7 6h0m-5 18h0m11 4h0m-10 22h0m10 62h0m2 9h0m-8 34h0m-2 26h0m3 29h0m25-53h0m-9-13h0m3-70h0m-7-20h0m10-24h0m-1-9h0m2-11h0m-3-9h0m-10-1h0m14-8h0m-6-1h0m-2-13h0m3-18h0m1-16h0m-7-2h0m-2-6h0m3-10h0m4-14h0m7-4h0m-1-11h0m-9-10h0m6-6h0m-5-3h0m1-15h0m6-4h0m-3-1h0m5-3h0m-2 0h0m-13-28h0m15-2h0m-10-6h0m0 0h0m-1-2h0m2-14h0m-2-5h0m19 36h0m2 7h0m-6 2h0m-3 1h0m9 5h0m4 17h0m-9 28h0m3 11h0m7 0h0m-13 5h0m2 3h0m1 1h0m0 12h0m-1 26h0m10 0h0m-9 17h0m1 0h0m-1 8h0m-2 12h0m12 2h0m-14 8h0m15 29h0m0 7h0m-2 35h0m-4 5h0m-9 83h0m25 65h0m-9-21h0m4-83h0m5-4h0m-2-42h0m-6-18h0m14-10h0m-5-49h0m-1-1h0m-3-36h0m-3-4h0m3-1h0m1-2h0m6 0h0m-2-4h0m1-5h0m-1-21h0m-2-3h0m-6-4h0m7-4h0m-4-1h0m6-1h0m-4-15h0m0-5h0m-3-26h0m-2-2h0m-2-1h0m6-10h0m0-17h0m8-1h0m-10 0h0m1-2h0m-1-5h0m-1-1h0m11-3h0m-15-3h0m4-2h0m5-9h0m-4-10h0m-4-3h0m11-20h0m15 49h0m-1 15h0m-4 3h0m-3 6h0m7 76h0m3 9h0m-2 2h0m4 10h0m-2 0h0m-5 8h0m5 6h0m-2 15h0m-5 15h0m-6 1h0m13 4h0m-4 3h0m3 132h0m-2 36h0m2 1h0m-10 5h0m6 28h0m8-162h0m14-57h0m-4-3h0m4-18h0m-5-1h0m2-1h0m-11-4h0m14-10h0m-9-7h0m8-6h0m-8-12h0m0-25h0m-2-21h0m7-16h0m0-16h0m0-2h0m15-45h0m-4 15h0m5 23h0m1 3h0m-3 11h0m-1 10h0m5 11h0m-2 11h0m-2 1h0m-7 4h0m10 4h0m-10 33h0m9 0h0m2 9h0m-7 6h0m4 1h0m-1 24h0m0 13h0m4 11h0m-5 5h0m-5 4h0m10 4h0m-1 3h0m-3 34h0m4 7h0m2 3h0m-6 11h0m3 1h0m1 4h0m-2 2h0m5 12h0m-1 2h0m-5 24h0m1 42h0m-5 48h0m9 0h0m-10 33h0m12 52h0m9-127h0m-9-7h0m3-30h0m-1-14h0m0-2h0m0-57h0m5-13h0m-2-23h0m3-9h0m-8-19h0m15-8h0m-1-26h0m-14-37h0m2-18h0m-2-47h0m5-12h0m12 24h0m7 16h0m-2 17h0m4 9h0m-2 29h0m4 0h0m-7 1h0m8 6h0m-10 2h0m10 9h0m-1 14h0m-2 4h0m-4 19h0m5 7h0m-3 10h0m-7 9h0m10 24h0m1 16h0m-5 2h0m5 1h0m-4 3h0m6 2h0m-13 10h0m1 4h0m7 4h0m0 11h0m5 3h0m-7 26h0m12 184h0m4-123h0m8-10h0m-1-9h0m-6-19h0m-6-11h0m3-33h0m-1-32h0m11-8h0m-4-5h0m3-45h0m-2-14h0m-2-5h0m-5-13h0m-4-63h0m7-3h0m-2-48h0m12-27h0m8 5h0m-3 3h0m-2 16h0m-4 1h0m9 26h0m-9 13h0m9 6h0m-4 7h0m9 2h0m-5 25h0m4 0h0m-11 19h0m6 3h0m-3 9h0m1 1h0m4 23h0m-4 14h0m6 17h0m-11 1h0m13 12h0m-13 4h0m11 8h0m-1 10h0m-11 4h0m3 4h0m-1 5h0m9 27h0m-8 7h0m5 21h0m12 57h0m2-23h0m-3-33h0m4-4h0m3-22h0m-8-6h0m2-15h0m7-10h0m-5-5h0m0-10h0m-3-18h0m9-3h0m-1-48h0m-8-17h0m4-8h0m-8-7h0m15-15h0m-13-1h0m8-2h0m-8-3h0m3-12h0m6-6h0m-10-1h0m0-2h0m1-41h0m13-60h0m13 2h0m-4 5h0m0 7h0m6 14h0m1 5h0m-4 4h0m2 27h0m-8 12h0m5 1h0m-7 3h0m8 4h0m3 5h0m-5 3h0m-3 8h0m8 4h0m-2 17h0m-2 14h0m-2 0h0m1 2h0m3 2h0m1 5h0m-5 1h0m6 21h0m-9 2h0m-5 8h0m15 5h0m-14 23h0m10 4h0m-6 37h0m2 8h0m-6 9h0m7 62h0m-2 30h0m12 28h0m2-2h0m-4-4h0m9-120h0m-9-32h0m2-46h0m4-1h0m7-4h0m-7-1h0m-5-12h0m0-8h0m-1-9h0m11-7h0m2-6h0m-7-41h0m-4-30h0m3-6h0m-1-38h0m-3-2h0m2-27h0m25 68h0m1 19h0m-1 4h0m0 12h0m-1 3h0m2 2h0m-3 4h0m0 33h0m3 1h0m0 10h0m-5 3h0m2 5h0m3 0h0m0 5h0m-1 21h0m-6 12h0m8 5h0m0 36h0m-14 105h0m14 135h0m6-84h0m-3-72h0m12-2h0m-5-20h0m0-7h0m0-27h0m0-19h0m-8 0h0m0-19h0m11-19h0m-1-10h0m-5-1h0m-3-9h0m6-11h0m5-30h0m1-5h0m-4-1h0m-1-2h0m2-24h0m-9-1h0m1-9h0m4-4h0m8-18h0m10 10h0m-4 11h0m-4 5h0m7 8h0m-8 2h0m5 19h0m2 6h0m-4 2h0m4 3h0m-5 2h0m0 2h0m13 30h0m-13 20h0m4 1h0m1 31h0m0 11h0m2 5h0m-9 2h0m5 5h0m-5 25h0m1 32h0m4 115h0m-3 9h0m28-124h0m-4-4h0m-2-10h0m4-53h0m-12-1h0m14-1h0m-10-5h0m2-22h0m8-11h0m-7-16h0m8-5h0m-4 0h0m-7-2h0m-4-1h0m12-2h0m3-14h0m-4-3h0m-1-1h0m2-7h0m-3-7h0m0-12h0m-8-8h0m2-22h0m1-12h0m9-1h0m0-12h0m-8 0h0m24-63h0m0 46h0m-6 32h0m5 10h0m-11 3h0m3 1h0m4 2h0m-2 1h0m-3 5h0m10 4h0m-2 5h0m-9 4h0m13 5h0m-13 0h0m4 6h0m3 8h0m-1 8h0m3 7h0m2 5h0m-5 1h0m7 0h0m-8 5h0m-4 7h0m7 3h0m5 2h0m-1 7h0m-12 6h0m3 30h0m2 2h0m-1 5h0m2 16h0m-7 5h0m1 2h0m13 4h0m-5 3h0m-7 3h0m2 19h0m1 29h0m7 3h0m0 2h0m-1 25h0m-9 2h0m5 7h0m1 2h0m-3 13h0m-5 34h0m16-94h0m0-3h0m2-2h0m-1-4h0m9-7h0m-11-11h0m6-51h0m8-1h0m-2-2h0m-9-5h0m7-36h0m-8 0h0m-2-13h0m6-24h0m9 0h0m-11-3h0m-4-5h0m14-12h0m-8-1h0m2-2h0m3-13h0m-5-3h0m-5-76h0m19 67h0m5 19h0m4 2h0m-11 25h0m2 14h0m0 26h0m9 5h0m-13 25h0m13 14h0m-8 0h0m1 23h0m-2 7h0m7 16h0m2 20h0m2 7h0m-6 57h0m-7 61h0m15 38h0m10-44h0m3-89h0m-14-58h0m1-14h0m6-15h0m7-38h0m-8-2h0m-2-11h0m11-9h0m-6-38h0m4-17h0m-10-41h0m0 0h0m12-22h0m-7-36h0m5-4h0m-11-2h0m12-23h0m3 70h0m6 15h0m-2 185h0m-1 47h0m27 110h0m14-430h0m0 102h0m-4 5h0m4 2h0m0 23h0m2 64h0m-2 7h0m-2 32h0m-6 5h0m-2 8h0m3 12h0m4 89h0m-1 37h0m7 17h0m2-7h0m4-18h0m2-13h0m-8-9h0m7-17h0m-3-24h0m4-8h0m-2-7h0m4-32h0m-7-36h0m6-16h0m-4-39h0m-5-13h0m12-10h0m-3-10h0m-4-2h0m4-9h0m-9-5h0m8-9h0m2-29h0m-7-16h0m1-24h0m6-7h0m-6-44h0m20 103h0m5 4h0m2 1h0m-2 22h0m-11 16h0m-1 5h0m3 111h0m8 12h0m-8 36h0m2 70h0m7 20h0m1 114h0m5-139h0m-3-42h0m0-4h0m6-10h0m-6-7h0m3-113h0m-3-21h0m3-25h0m-1-57h0m5-5h0m-2-1h0m-4-20h0m30-4h0m-1 7h0m-2 48h0m3 2h0m-8 5h0m2 10h0m2 31h0m1 7h0m-2 10h0m2 22h0m3 55h0m-1 108h0m14-41h0m1-4h0m-12-58h0m14-40h0m-8-15h0m8-21h0m-2 0h0m-8-3h0m-3-7h0m1-5h0m-1-4h0m1-12h0m6-6h0m-2-11h0m8-21h0m-12-2h0m4-1h0m-2-4h0m-1-16h0m6-1h0m-2-22h0m12 39h0m-4 12h0m10 2h0m-7 3h0m1 7h0m3 6h0m1 19h0m-7 2h0m9 9h0m1 3h0m0 7h0m-9 19h0m5 11h0m0 60h0m-7 1h0m3 78h0m5 65h0m8-306h0m14-2h0m-1-11h0m9 40h0m2 4h0m-2 19h0m6 80h0m-9 55h0m1 9h0m0 60h0m12-224h0m31 19h0m10 87h0m-4-88h0m8-22h0m-9-15h0m-3-15h0m30-14h0m-5 37h0m4 20h0m-6 19h0m0 12h0m5 74h0m-2 66h0m-1 73h0m10 128h0m10-316h0m-13-8h0m9-29h0m-2-18h0m-7-5h0m46 172h0m27 152h0m4-322h0m-7-33h0m2-26h0m8 49h0m22 215h0m36-161h0m1-45h0m-1-14h0m5-4h0m1 16h0m5 15h0m28 102h0m60 8h0m3-187h0"/>
<path stroke="#6bea34" d="M142 293h0m-3 134h0m4 57h0m-3 14h0m49-244h0m7-52h0m1 43h0m4 1h0m-7 23h0m-1 94h0m2 19h0m7 13h0m-8 3h0m29-71h0m-13-15h0m10-32h0m-9-26h0m-2-11h0m0-10h0m13-13h0m-3-14h0m-3-5h0m-3-15h0m21-3h0m-6 22h0m7 4h0m1 39h0m-2 37h0m1 2h0m1 0h0m2 31h0m-1 2h0m-3 15h0m-7 5h0m7 14h0m-3 0h0m8 4h0m-1 85h0m12 133h0m-10-36h0m5-80h0m0-22h0m-5-44h0m1-7h0m0-54h0m4-120h0m21 33h0m-1 158h0m-4 0h0m2 73h0m15 94h0m5-25h0m-4-10h0m2 0h0m1-35h0m2-17h0m-6-14h0m-3-4h0m7-30h0m-2-9h0m4-33h0m-7-9h0m0-3h0m4-5h0m-6-18h0m1-6h0m8-53h0m0-12h0m-3-47h0m3-20h0m-4-11h0m2-2h0m3-19h0m-12-3h0m15 81h0m1 30h0m1 14h0m10 16h0m2 13h0m1 3h0m-13 13h0m-1 0h0m0 5h0m4 88h0m10 9h0m-4 4h0m-6 19h0m-5 8h0m4 75h0m25 15h0m-2-15h0m-7-59h0m-1-5h0m11-19h0m-6-21h0m5-9h0m0 0h0m-4-41h0m3 0h0m3-11h0m-10-14h0m5-20h0m-4-4h0m1-6h0m1-6h0m-3-6h0m-3-8h0m5-10h0m4-29h0m-4-2h0m3 0h0m4-15h0m-1-22h0m-5-15h0m6-23h0m-11 0h0m7-11h0m5-19h0m4 7h0m3 8h0m4 13h0m-7 13h0m-3 4h0m6 60h0m9 16h0m-13 8h0m2 4h0m-1 2h0m-1 24h0m0 11h0m7 28h0m-4 0h0m-3 7h0m0 10h0m9 0h0m-5 35h0m4 98h0m-2 48h0m23-36h0m0-9h0m0-21h0m-5-15h0m4-65h0m-2-4h0m0-11h0m0-24h0m-4-1h0m4-4h0m3-8h0m-2-24h0m-2-8h0m-6-5h0m8-14h0m0 0h0m-12-15h0m4-11h0m-1-5h0m5-2h0m3-8h0m-9-1h0m8-84h0m-2-7h0m5-12h0m0-27h0m7 25h0m0 5h0m-4 34h0m2 8h0m4 8h0m8 14h0m-8 18h0m0 12h0m-3 6h0m2 36h0m-1 1h0m-5 4h0m0 5h0m7 0h0m-6 3h0m2 16h0m2 0h0m-3 15h0m4 27h0m0 15h0m-4 8h0m3 18h0m0 38h0m0 28h0m1 70h0m2 58h0m18 39h0m2-60h0m-2-32h0m2-22h0m-7-3h0m0-61h0m-1-12h0m3-20h0m7-1h0m-3-36h0m0-28h0m3-30h0m-5-3h0m6-7h0m-1-32h0m-2-1h0m-8-25h0m-1-2h0m3-63h0m0-18h0m8-11h0m-13-4h0m18-26h0m4 20h0m-7 10h0m0 10h0m2 23h0m9 20h0m-10 35h0m0 13h0m4 22h0m9 3h0m-8 7h0m-6 12h0m4 19h0m5 15h0m-8 28h0m7 40h0m-3 101h0m16 179h0m6-183h0m3-15h0m-11-10h0m5-2h0m7-12h0m-10-21h0m0-10h0m7-83h0m-2-32h0m3-5h0m-6-23h0m5-7h0m-6-6h0m1-1h0m2-8h0m4-23h0m-2-14h0m0-12h0m-5-10h0m4-1h0m0-16h0m-7-22h0m1-20h0m12-1h0m12 27h0m3 1h0m-9 11h0m8 19h0m-1 8h0m1 4h0m-12 20h0m-2 31h0m13 13h0m-13 19h0m14 1h0m-1 18h0m-10 16h0m0 4h0m9 2h0m1 6h0m-8 24h0m-2 4h0m5 8h0m-5 11h0m-1 3h0m2 4h0m5 16h0m-7 23h0m6 9h0m-3 13h0m1 10h0m0 19h0m-2 9h0m3 0h0m-3 11h0m2 39h0m-6 15h0m7 16h0m3 12h0m16 78h0m-9-41h0m1-73h0m7-2h0m-3-19h0m-3-15h0m3-18h0m-6-1h0m5-11h0m-2-18h0m8-12h0m-3-1h0m4-1h0m-2-17h0m2 0h0m-3-13h0m2-14h0m-9-18h0m7-50h0m4-4h0m-8-3h0m7-18h0m-4-1h0m-1-7h0m0-8h0m-3-5h0m-2-12h0m7-1h0m2-4h0m-4-10h0m-7-3h0m9-5h0m2-12h0m3-5h0m-6-17h0m-4-4h0m6-1h0m-4-7h0m6-1h0m3-5h0m-15-8h0m15-2h0m-7-13h0m-1-11h0m0-23h0m-6-8h0m6-15h0m2-7h0m13 69h0m-6 20h0m9 13h0m-6 5h0m12 7h0m-7 40h0m5 15h0m2 14h0m-11 2h0m-1 16h0m-2 15h0m14 23h0m-7 35h0m7 11h0m-5 6h0m-8 33h0m4 0h0m-5 15h0m14 0h0m-3 16h0m-4 7h0m-8 14h0m4 0h0m4 24h0m1 3h0m6 10h0m12-26h0m-9-15h0m12-29h0m1-16h0m-13-5h0m11-31h0m1-3h0m-7 0h0m-3-13h0m11-22h0m-9-9h0m3-3h0m-8-22h0m5-4h0m3-1h0m-3-2h0m-1-16h0m0-8h0m9-2h0m-3-24h0m-7-5h0m-4-1h0m2-21h0m7-7h0m-2-2h0m-5-6h0m4-1h0m1-1h0m2-5h0m6-1h0m-10-1h0m-3-4h0m5-4h0m3-9h0m-9-4h0m10-2h0m-1-12h0m-3-3h0m6-10h0m-8-12h0m1-5h0m-1-2h0m6-9h0m1-30h0m17 63h0m-3 3h0m-8 13h0m3 20h0m-5 11h0m6 14h0m9 1h0m-9 2h0m4 21h0m0 15h0m-4 16h0m0 18h0m5 22h0m-6 7h0m-2 28h0m-3 23h0m11 23h0m4 3h0m-12 49h0m7 1h0m-8 9h0m-2 16h0m0 33h0m10 47h0m3 17h0m3-139h0m1-79h0m9-22h0m-1-34h0m-9-9h0m3-1h0m-2-19h0m7-14h0m2-1h0m-4-23h0m5-19h0m-5-1h0m9-13h0m-10-1h0m-1-13h0m9-2h0m-7-27h0m18-28h0m-8 39h0m12 11h0m-1 15h0m-1 11h0m-3 6h0m3 2h0m-8 2h0m11 6h0m-7 1h0m4 17h0m-1 32h0m4 0h0m-7 10h0m2 13h0m5 9h0m-6 0h0m2 4h0m0 10h0m2 31h0m-3 22h0m-1 21h0m4 15h0m-3 4h0m3 2h0m3 18h0m-4 6h0m-1 5h0m2 22h0m-3 5h0m4 4h0m-5 17h0m8 2h0m-4 34h0m0 4h0m-5 16h0m3 34h0m-5 8h0m25-16h0m-11-133h0m0-7h0m5-65h0m-1-75h0m2-17h0m6-39h0m-1-17h0m-1-35h0m12-14h0m-7 30h0m9 6h0m-2 35h0m4 1h0m-9 5h0m11 1h0m-5 6h0m-2 15h0m-4 21h0m3 16h0m9 33h0m-9 8h0m0 11h0m5 18h0m-11 36h0m14 12h0m-7 15h0m-2 15h0m-2 56h0m11 0h0m-8 16h0m13 40h0m-1-114h0m8-107h0m-10-42h0m2-6h0m1-9h0m-1-8h0m13-17h0m-10-62h0m-5 0h0m3-33h0m15-26h0m-1 13h0m4 9h0m-2 3h0m4 13h0m-4 5h0m-1 3h0m6 1h0m-7 9h0m0 15h0m13 17h0m0 10h0m-13 8h0m0 10h0m1 2h0m13 17h0m-8 6h0m6 21h0m2 15h0m-14 14h0m5 6h0m1 32h0m7 8h0m-4 20h0m-8 0h0m2 4h0m-4 7h0m5 5h0m2 1h0m8 10h0m-10 7h0m3 32h0m4 3h0m-5 41h0m7 82h0m10 26h0m-4-78h0m-3-17h0m2-14h0m-3-4h0m7-36h0m1-5h0m3-53h0m-10-9h0m3-26h0m7-2h0m-6-32h0m5-30h0m-3-34h0m-6-39h0m10 0h0m2-1h0m-8-2h0m1-10h0m1-10h0m1-26h0m-8-37h0m21-41h0m7 38h0m-4 21h0m-7 21h0m12 26h0m2 1h0m-5 8h0m-10 17h0m12 0h0m0 13h0m-7 1h0m8 4h0m-8 3h0m-1 2h0m-3 3h0m10 0h0m0 3h0m-2 18h0m-2 11h0m-2 11h0m3 16h0m4 24h0m-5 15h0m1 4h0m5 5h0m2 23h0m0 31h0m-3 11h0m-2 17h0m-2 15h0m6 48h0m2 4h0m3-98h0m8-24h0m-9-2h0m2-88h0m-3-22h0m1-5h0m6-12h0m-5-15h0m10-10h0m-7-19h0m-3-34h0m1-15h0m1-20h0m-5-10h0m27 24h0m-8 9h0m5 24h0m-6 4h0m13 37h0m0 2h0m-9 2h0m8 1h0m-1 4h0m-5 2h0m1 6h0m1 8h0m1 16h0m-6 6h0m9 25h0m-13 21h0m5 45h0m4 121h0m17 51h0m-1-95h0m-7-2h0m-3-17h0m11-54h0m-3-16h0m-8-1h0m11-9h0m3-18h0m-11-1h0m0-16h0m2-2h0m-1-8h0m-1-24h0m9-4h0m-1-8h0m-8-5h0m8-20h0m4-10h0m-4-4h0m3-1h0m-2-1h0m-4-18h0m-2-19h0m-6-22h0m28 37h0m1 21h0m-10 0h0m8 5h0m0 18h0m-5 3h0m-3 2h0m5 17h0m-8 4h0m1 3h0m1 21h0m-2 9h0m14 15h0m-11 10h0m1 10h0m8 33h0m-7 16h0m-1 3h0m4 0h0m-1 17h0m-2 13h0m4 14h0m-9 110h0m21-108h0m0-39h0m3-5h0m-7-14h0m13-1h0m-8-6h0m9-12h0m-12-23h0m8-4h0m4-18h0m-11-5h0m-2-5h0m6-7h0m7-21h0m-13-4h0m2-19h0m3-32h0m8-13h0m-14-2h0m8-24h0m8-56h0m4 0h0m9 44h0m-2 14h0m0 8h0m-9 1h0m2 31h0m7 5h0m0 2h0m0 3h0m3 1h0m-10 22h0m-1 5h0m9 29h0m-3 2h0m1 2h0m-5 5h0m-2 25h0m4 2h0m-5 8h0m11 4h0m-4 24h0m-2 11h0m1 4h0m-2 13h0m4 6h0m3 10h0m-1 34h0m-2 11h0m-3 30h0m23 105h0m-10-108h0m-3-7h0m12-50h0m-12-9h0m0-8h0m11-56h0m0-18h0m-2-19h0m-5-3h0m6-6h0m-12-9h0m15-5h0m-10-24h0m7-19h0m-9-46h0m-2-3h0m-1-16h0m23 12h0m-2 27h0m-1 8h0m0 8h0m-4 7h0m7 21h0m2 6h0m-2 6h0m4 8h0m-3 2h0m4 19h0m-3 6h0m-3 25h0m1 11h0m7 18h0m-1 1h0m-13 13h0m12 21h0m-11 0h0m13 7h0m0 8h0m1 19h0m-15 8h0m9 6h0m6 3h0m-8 3h0m-4 8h0m7 51h0m20 44h0m-7-36h0m4-44h0m-8-4h0m10-62h0m-7-20h0m-3-13h0m6-17h0m4-23h0m-4-87h0m3-15h0m-2-7h0m-6-8h0m-1-15h0m3-7h0m0-18h0m1-24h0m6-16h0m9 4h0m-4 24h0m-1 49h0m6 2h0m-6 35h0m0 3h0m1 15h0m-1 16h0m6 85h0m-7 176h0m31 13h0m14-411h0m-1 85h0m1 68h0m-1 6h0m2 25h0m1 26h0m-10 10h0m0 3h0m10 7h0m-7 13h0m4 0h0m-9 31h0m9 1h0m5 188h0m8-121h0m-6-29h0m2-58h0m1-21h0m4-2h0m2-36h0m0-7h0m-2-30h0m-1-22h0m-4-6h0m7-3h0m-1-1h0m-6-1h0m-5-4h0m0-11h0m4-37h0m6-25h0m-7-46h0m5-4h0m-7-19h0m15 83h0m0 5h0m5 22h0m18 369h0m4-151h0m4-98h0m-15-93h0m0-97h0m5-6h0m-5-17h0m31 50h0m-2 65h0m-3 67h0m4 2h0m1 14h0m-1 16h0m0 8h0m-8 12h0m7 18h0m-1 4h0m-1 6h0m1 43h0m17 84h0m-8-26h0m7-64h0m1-2h0m-4-10h0m-9-16h0m2-34h0m8-14h0m3-29h0m-9-7h0m-3-41h0m-1-2h0m9-1h0m-5-26h0m2-10h0m6-2h0m-2-7h0m-3-5h0m-5 0h0m6-8h0m-4-4h0m0-12h0m-4-1h0m3-1h0m-3-7h0m31-2h0m-2 8h0m-9 42h0m0 15h0m11 10h0m-10 19h0m-2 19h0m-3 3h0m6 6h0m5 10h0m-9 3h0m11 54h0m-8 14h0m6 205h0m5-189h0m3-147h0m11-49h0m7-35h0m7 11h0m1 16h0m-11 8h0m2 12h0m-3 42h0m4 113h0m1 177h0m43-240h0m11-2h0m-9-89h0m25 4h0m-5 6h0m3 33h0m-4 11h0m9 33h0m-7 31h0m7 181h0m-1 68h0m2-29h0m11-26h0m-4-100h0m-5-231h0m11-20h0m35 92h0m29-52h0m-1-12h0m31 290h0m-4-30h0m0-7h0m5-10h0m-3-37h0m33-191h0m8-34h0m30 141h0m0 29h0m60 192h0"/>
<path stroke="#52e747" d="M138 267h0m8 123h0m44 11h0m-2-127h0m0-25h0m-5-8h0m16 11h0m0 13h0m-7 20h0m5 135h0m18-111h0m8-9h0m-4-8h0m-2-20h0m-7-18h0m3-14h0m-2-10h0m17-46h0m1 67h0m1 46h0m8 28h0m-5 17h0m3 79h0m0 58h0m5 184h0m8-94h0m16-381h0m-1 124h0m7 64h0m-6 1h0m-1 3h0m6 25h0m-3 15h0m13 205h0m2-2h0m4-80h0m-14-30h0m9-105h0m-4-36h0m5-4h0m-4-26h0m7-34h0m-2-23h0m-11-2h0m8-15h0m-1-11h0m2-20h0m-6-32h0m-2-16h0m15 168h0m15 142h0m12 82h0m0-34h0m1-10h0m-3-17h0m-4-4h0m-3-5h0m4-3h0m1-1h0m-5-5h0m7-40h0m4-35h0m0-11h0m-9-19h0m1-6h0m2-31h0m2-2h0m4-44h0m-4-5h0m0-45h0m-8-10h0m9-30h0m9 13h0m-1 64h0m-1 4h0m0 42h0m0 25h0m0 73h0m10 36h0m-6 3h0m0 17h0m26 16h0m-4-147h0m-5-46h0m-5-26h0m14-73h0m-1-34h0m3-29h0m8 56h0m5 57h0m-13 25h0m-1 11h0m8 1h0m-8 16h0m10 13h0m-1 44h0m4 12h0m-5 7h0m-8 15h0m9 58h0m3 11h0m8 182h0m6-59h0m5-9h0m0-68h0m-9-11h0m5-31h0m-10-4h0m9-5h0m-1-1h0m2-2h0m1-7h0m0-1h0m-7-4h0m7-3h0m-1-4h0m-7-15h0m11-4h0m-8-29h0m-2-35h0m-4-14h0m9-11h0m-2-2h0m2 0h0m5-19h0m-5-2h0m1-12h0m4-22h0m-2-43h0m1-19h0m-4-52h0m8 23h0m-1 81h0m-1 13h0m15 25h0m-14 46h0m0 2h0m7 2h0m-4 10h0m3 9h0m-4 7h0m3 35h0m3 5h0m-4 3h0m-4 11h0m5 35h0m-6 23h0m10 20h0m-9 5h0m-1 4h0m6 67h0m22 112h0m3-98h0m-5 0h0m1-33h0m0-2h0m-10-19h0m13-3h0m-3-4h0m-2-6h0m-1-49h0m-1-16h0m-6-8h0m-1-53h0m15-38h0m-12 0h0m2-4h0m6-81h0m4-3h0m-4-13h0m-3-52h0m2-61h0m15 10h0m-8 68h0m1 28h0m0 65h0m-1 3h0m2 25h0m-3 6h0m11 60h0m-11 1h0m6 18h0m-6 15h0m3 27h0m-2 7h0m5 10h0m-4 10h0m-1 9h0m8 2h0m-1 14h0m-1 133h0m3 8h0m7-58h0m5-5h0m-5-26h0m7-1h0m0-5h0m3-59h0m4-1h0m0-2h0m-13-9h0m-1-3h0m8-13h0m1-58h0m2-26h0m-3-12h0m-4-1h0m1-2h0m-3-14h0m-1-4h0m9-7h0m1-43h0m-6-6h0m8-6h0m-11-20h0m9-51h0m-2-22h0m-4-32h0m25 5h0m-12 54h0m-2 8h0m6 6h0m-7 4h0m5 15h0m-2 11h0m8 23h0m0 6h0m2 10h0m-7 12h0m-5 28h0m0 3h0m5 4h0m-4 18h0m12 47h0m-13 3h0m6 6h0m-1 16h0m8 23h0m-14 0h0m9 18h0m6 12h0m-1 24h0m-7 30h0m-4 8h0m-3 17h0m28 18h0m1-62h0m-12-8h0m8-29h0m0-1h0m-5-7h0m4-10h0m-7-19h0m7-4h0m-2-11h0m-5-20h0m9-7h0m3-4h0m-8 0h0m7-4h0m2-1h0m-9-8h0m-3-60h0m10-3h0m-6 0h0m6-1h0m0-17h0m-10-5h0m13-10h0m-15-5h0m4-2h0m-1-6h0m9-2h0m-9-5h0m6 0h0m0 0h0m-6-1h0m-3-3h0m3-31h0m2-1h0m1-6h0m-3-5h0m4-14h0m0 0h0m-3-3h0m1 0h0m-1-29h0m3-24h0m-5-17h0m25 55h0m-5 17h0m-1 8h0m-4 0h0m8 13h0m1 4h0m2 9h0m0 2h0m-8 25h0m6 0h0m-2 9h0m1 20h0m0 17h0m-7 9h0m7 1h0m-2 6h0m0 10h0m-2 18h0m6 22h0m-7 3h0m5 1h0m2 3h0m4 5h0m-14 20h0m8 24h0m-1 42h0m7 1h0m-1 9h0m-12 0h0m3 31h0m4 30h0m4 7h0m-11 9h0m16-37h0m6-41h0m-8-160h0m10-35h0m-4-9h0m-1-11h0m-5-3h0m13-10h0m0-11h0m2-53h0m-6-11h0m-1-45h0m17 34h0m3 47h0m-8 6h0m9 14h0m2 5h0m-7 28h0m-2 3h0m-1 8h0m-3 9h0m6 9h0m2 30h0m-1 14h0m6 19h0m-12 2h0m10 19h0m-5 11h0m4 37h0m2 9h0m-14 5h0m3 33h0m4 8h0m3 16h0m-10 28h0m12 70h0m19-51h0m-11-36h0m0-13h0m-3-23h0m8-7h0m5-13h0m-9-10h0m6-10h0m-6-18h0m-4-22h0m11-1h0m-12-47h0m1-16h0m1-10h0m-1-31h0m0-54h0m3-77h0m16 39h0m0 5h0m0 0h0m-3 5h0m4 55h0m3 2h0m1 30h0m-5 19h0m11 30h0m-2 28h0m0 20h0m0 22h0m-5 63h0m6 12h0m1 6h0m-10 31h0m-4 34h0m27 93h0m1-83h0m-9-93h0m-4-40h0m1-8h0m7-10h0m4-34h0m-10-36h0m5-19h0m-7-6h0m15-31h0m0-9h0m-2-10h0m-4-3h0m2-9h0m-11-25h0m6-17h0m5-10h0m-3-9h0m2-17h0m15-39h0m-1 7h0m-4 17h0m0 11h0m-1 13h0m3 4h0m4 15h0m-10 4h0m9 1h0m-1 27h0m-3 2h0m6 22h0m-9 5h0m10 2h0m-9 4h0m0 0h0m0 4h0m3 8h0m-1 10h0m5 5h0m3 3h0m-10 17h0m-2 9h0m0 3h0m7 20h0m7 27h0m-1 11h0m-2 2h0m3 6h0m-3 8h0m1 3h0m-7 3h0m9 14h0m-4 7h0m2 17h0m-6 8h0m2 3h0m-2 4h0m-4 8h0m7 9h0m-6 17h0m0 79h0m-2 25h0m16 33h0m-1-52h0m10-2h0m-6-10h0m4-2h0m5-25h0m-5-28h0m-8-4h0m7-8h0m-6-3h0m-2-15h0m14-1h0m-3-7h0m4-14h0m-12-3h0m12-4h0m-1-3h0m-2-8h0m-12-7h0m1-13h0m13-7h0m-13-33h0m1-2h0m12-27h0m-1-23h0m-10-2h0m5-2h0m-5-28h0m6-8h0m-8-21h0m-1-5h0m0-6h0m3-19h0m4-1h0m3-4h0m-6-14h0m22-8h0m4 21h0m-3 39h0m-4 7h0m-4 8h0m12 48h0m-6 1h0m3 37h0m-3 8h0m4 3h0m-6 7h0m3 6h0m0 36h0m-5 2h0m4 16h0m1 12h0m-5 19h0m7 25h0m-10 9h0m10 4h0m1 73h0m18 29h0m-9-121h0m1-42h0m-2-145h0m-1-54h0m-1-22h0m4-9h0m0-1h0m-6-8h0m8 0h0m-3-66h0m-4-18h0m27 115h0m-1 13h0m3 11h0m-12 24h0m7 10h0m3 1h0m-4 5h0m2 3h0m-7 1h0m4 19h0m1 16h0m-6 4h0m9 17h0m-2 5h0m-2 3h0m6 18h0m-4 23h0m2 31h0m-3 4h0m3 16h0m0 7h0m-8 12h0m3 51h0m6 25h0m17-51h0m-13-16h0m4-28h0m7-16h0m3-1h0m-3 0h0m-12-71h0m0 0h0m7-4h0m-4-7h0m-2-7h0m5-14h0m1-5h0m1-7h0m-4-5h0m6-7h0m4-3h0m0-20h0m-5-2h0m-8-14h0m11-4h0m-12-10h0m12-1h0m-2-1h0m3-3h0m-13-10h0m4-7h0m5-2h0m-1-1h0m-1-13h0m4-15h0m-10-15h0m1-2h0m21 9h0m5 8h0m-9 2h0m2 39h0m-3 9h0m13 13h0m-8 33h0m-2 11h0m-2 19h0m9 0h0m2 21h0m-8 9h0m-6 3h0m10 4h0m-4 26h0m0 33h0m7 9h0m2 51h0m-15 54h0m0 22h0m31-25h0m-5-30h0m4-47h0m-11-5h0m11-31h0m-2-44h0m-2-21h0m-3-28h0m-5-39h0m-2-13h0m7-12h0m-6-8h0m2-4h0m5-1h0m-8-10h0m1-22h0m14-15h0m-12-6h0m23-95h0m3 18h0m-3 53h0m-9 25h0m0 14h0m11 35h0m-4 13h0m-5 13h0m7 9h0m3 16h0m-9 2h0m10 28h0m-4 10h0m-2 14h0m3 28h0m-3 20h0m6 8h0m-10 57h0m-1 9h0m5 6h0m0 34h0m3 31h0m-3 0h0m1 41h0m-5 16h0m27-3h0m-15-49h0m15-15h0m0-37h0m-2-45h0m-11-28h0m11-30h0m2-15h0m-4-5h0m-5-51h0m3-22h0m5-2h0m-10 0h0m1-27h0m-4-47h0m14-2h0m-5-10h0m5-16h0m-14-33h0m29 10h0m-1 10h0m-4 42h0m-4 21h0m5 6h0m2 16h0m-10 44h0m1 13h0m3 11h0m9 12h0m-15 25h0m0 32h0m3 17h0m7 6h0m-1 15h0m-3 47h0m6 2h0m-12 14h0m5 24h0m17 46h0m-3-106h0m9-9h0m-11-47h0m6-2h0m-4-55h0m4-51h0m5-17h0m-7-50h0m4-11h0m3-14h0m-4-18h0m-7-29h0m14-11h0m9 5h0m-1 5h0m-2 62h0m4 29h0m-5 35h0m-3 147h0m4 31h0m1 84h0m20-127h0m19-318h0m2 22h0m0 2h0m-2 0h0m-2 67h0m-2 95h0m-9 26h0m14 9h0m-6 0h0m5 8h0m-1 29h0m2 25h0m0 6h0m-2 46h0m1 2h0m4 145h0m-1-50h0m7-101h0m-5-36h0m6-14h0m5-1h0m-7-3h0m-5-98h0m10-4h0m-3-6h0m1-6h0m-6-12h0m0-3h0m12-9h0m-7-4h0m-8-2h0m0-25h0m10-27h0m4-25h0m-11-24h0m4-34h0m1-13h0m22 165h0m6 310h0m-4-80h0m3-157h0m1-49h0m-2-83h0m22-6h0m7 5h0m-10 7h0m4 128h0m-1 87h0m7 27h0m2 87h0m3-32h0m-1-27h0m3-28h0m0-4h0m-1-45h0m3-10h0m-6 0h0m3-19h0m4-29h0m2-25h0m0-2h0m1-14h0m2-7h0m-8-8h0m7-21h0m-11-8h0m-1-5h0m2-25h0m1-4h0m7-1h0m-6-15h0m-2-7h0m1-1h0m25-1h0m-6 8h0m3 39h0m-7 8h0m3 25h0m-6 8h0m11 5h0m-3 4h0m-3 12h0m2 56h0m-1 3h0m5 9h0m-9 18h0m7 24h0m-6 3h0m-1 5h0m1 73h0m0 19h0m25 38h0m-1-159h0m0-142h0m4-18h0m-3-24h0m9-11h0m2 22h0m-5 18h0m2 67h0m-1 27h0m5 91h0m5 20h0m-5 119h0m11-204h0m-3-138h0m26 47h0m13 371h0m20-404h0m-3 32h0m6 72h0m-9 118h0m13 76h0m4-11h0m8-7h0m-10-262h0m38 101h0m8-32h0m27-80h0m-1-36h0m34 302h0m-4-12h0m0-112h0m35-81h0m-5-48h0m8-20h0m97-56h0"/>
<path stroke="#42e757" d="M139 346h0m33 141h0m14-69h0m2-26h0m4-155h0m1 3h0m14 6h0m-3 32h0m13 329h0m-1-29h0m-7-9h0m1-176h0m5-101h0m-4-13h0m-2-36h0m25-25h0m-3 92h0m10 257h0m3-292h0m-4-39h0m1-26h0m24 260h0m2 15h0m3 9h0m-2 16h0m-4 18h0m4 34h0m9-48h0m-1-38h0m-4-3h0m6-17h0m-6-13h0m12-73h0m-2-13h0m0-6h0m-10-5h0m6-11h0m5-131h0m2-10h0m12 184h0m-1 88h0m-3 159h0m22-54h0m2-52h0m1-74h0m-5-44h0m-8-7h0m1-45h0m6-113h0m7-67h0m5 58h0m-2 44h0m12 46h0m-10 2h0m-3 41h0m4 43h0m-3 3h0m1 110h0m1 11h0m25 38h0m-5-55h0m0-18h0m-6-117h0m13-58h0m-12-85h0m7-66h0m10 29h0m6 14h0m-5 115h0m8 17h0m0 37h0m-5 8h0m0 109h0m-2 3h0m5 4h0m-9 41h0m4 24h0m0 6h0m22 15h0m3-2h0m-4-8h0m-1-13h0m-2-1h0m6-2h0m-4-1h0m1-3h0m-2-7h0m1-10h0m-2-5h0m4-24h0m-4-8h0m4-3h0m2-20h0m-8-5h0m6-18h0m-4-2h0m3-4h0m-9-3h0m4-7h0m5-32h0m-4-28h0m7-11h0m-5-30h0m1 0h0m3-47h0m-3-3h0m1-41h0m-1-16h0m14-7h0m-5 33h0m7 155h0m-5 7h0m-5 3h0m6 2h0m-4 0h0m13 55h0m-14 7h0m3 12h0m-4 2h0m6 2h0m-4 12h0m13 0h0m-14 22h0m1 15h0m7 90h0m-9 1h0m13 1h0m-3 11h0m-10 37h0m30-21h0m0-98h0m-13-15h0m1-5h0m-1-5h0m6 0h0m5-32h0m-5-55h0m5-50h0m-2-13h0m-8-13h0m11-106h0m13-78h0m-7 5h0m-2 17h0m5 63h0m-3 16h0m12 16h0m-5 35h0m-6 5h0m-3 18h0m14 34h0m-9 9h0m1 16h0m0 12h0m6 8h0m-11 27h0m1 46h0m4 9h0m-2 15h0m-4 27h0m6 12h0m-6 0h0m8 21h0m-5 3h0m12 106h0m9-20h0m-3-23h0m0-22h0m-6-36h0m6 0h0m9-17h0m-14-4h0m12-29h0m-3-7h0m-5-4h0m10-26h0m-8-17h0m6-7h0m-11-15h0m4-2h0m-6-19h0m8-4h0m-2-20h0m6-24h0m-1-19h0m3-7h0m-7-1h0m2 0h0m2-28h0m-9-6h0m6-134h0m-6-30h0m18 25h0m6 86h0m-9 33h0m2 5h0m2 16h0m-5 42h0m0 6h0m5 18h0m7 9h0m-5 4h0m6 5h0m-5 22h0m3 25h0m2 9h0m-8 2h0m-1 2h0m9 2h0m-11 39h0m5 6h0m-6 6h0m-1 7h0m13 15h0m-5 14h0m-5 4h0m-2 7h0m4 106h0m15-6h0m3-23h0m1-65h0m0-7h0m3 0h0m-6-9h0m5-9h0m-1-12h0m5-11h0m-5-17h0m-3-19h0m5-9h0m3-28h0m-10-30h0m10-32h0m-7-3h0m5-7h0m-5-1h0m4-41h0m-7-3h0m3-2h0m3-5h0m0-24h0m-9 0h0m4-17h0m-1-15h0m0-1h0m-3-1h0m11-21h0m-9-55h0m12-62h0m4 39h0m2 58h0m1 4h0m5 6h0m-9 8h0m-2 31h0m13 14h0m-1 4h0m-1 12h0m-4 1h0m-2 12h0m-1 9h0m7 11h0m-11 7h0m6 0h0m-1 5h0m-4 4h0m8 29h0m-3 35h0m-1 0h0m5 7h0m-2 5h0m-3 31h0m-5 13h0m14 16h0m1 48h0m-14 10h0m3 0h0m23-172h0m-8-50h0m4-24h0m7-1h0m-3-21h0m-1-44h0m-4-34h0m8-5h0m-6-23h0m15 49h0m0 71h0m7 56h0m-3 8h0m-5 5h0m-4 67h0m9 28h0m-7 0h0m4 56h0m-2 7h0m2 129h0m15-34h0m-5-20h0m1-7h0m11-6h0m-14-5h0m1-24h0m1-23h0m1-16h0m1-22h0m0-26h0m-1-43h0m-1-10h0m0-8h0m0-36h0m10-12h0m-12-10h0m0-11h0m4-56h0m-1-25h0m20-37h0m2 22h0m3 25h0m-10 62h0m-1 2h0m1 1h0m5 11h0m0 18h0m4 17h0m4 31h0m-3 10h0m-1 4h0m0 8h0m-9 24h0m10 42h0m1 22h0m16 94h0m-4-11h0m-5-72h0m9-85h0m-3-46h0m-10-27h0m2-44h0m13-9h0m-5-8h0m2 0h0m-4-6h0m6-3h0m-12-2h0m0-57h0m7-7h0m13-61h0m-1 11h0m-1 10h0m8 15h0m0 4h0m-4 21h0m-4 6h0m11 3h0m-13 5h0m2 9h0m2 0h0m4 19h0m3 6h0m-3 5h0m-4 14h0m5 2h0m0 10h0m0 3h0m3 5h0m-13 4h0m8 48h0m0 7h0m-2 9h0m-7 10h0m13 3h0m-13 35h0m2 5h0m5 18h0m2 1h0m3 3h0m3 14h0m-3 1h0m-5 7h0m1 16h0m-8 28h0m2 45h0m-2 8h0m14 6h0m-2 74h0m16-66h0m-11-14h0m11-25h0m0-44h0m-12-6h0m0-5h0m10-16h0m4-1h0m-11-15h0m-3-4h0m1-5h0m14-122h0m-15-10h0m0-6h0m9-17h0m2-10h0m-8-3h0m23-138h0m2 8h0m-4 10h0m6 8h0m-5 37h0m5 4h0m-7 5h0m-2 2h0m1 14h0m7 2h0m-2 5h0m1 62h0m-4 6h0m1 54h0m-1 24h0m-8 2h0m9 14h0m-6 82h0m2 4h0m7 5h0m-11 20h0m0 5h0m3 6h0m5 29h0m-5 15h0m3 108h0m9-135h0m1-26h0m13-11h0m-13-20h0m3-69h0m-3-28h0m8-106h0m-9-2h0m2-2h0m1-6h0m-2-35h0m2-14h0m-1-38h0m2-36h0m26 37h0m0 10h0m0 12h0m-8 24h0m8 15h0m1 7h0m-3 12h0m-4 2h0m-2 8h0m6 30h0m-1 31h0m4 11h0m-11 0h0m-1 8h0m11 63h0m-3 7h0m4 12h0m-14 6h0m14 32h0m-3 81h0m14 69h0m5-65h0m-9-16h0m6-11h0m-5-1h0m1-16h0m7-33h0m-2-30h0m-7-11h0m2-26h0m1-4h0m1-6h0m2-8h0m-11-14h0m6-2h0m-2-2h0m-2-11h0m-3-24h0m10-17h0m-1 0h0m4-4h0m-4-19h0m-5-2h0m8-7h0m-7-5h0m13-59h0m3 4h0m3 49h0m-6 10h0m6 24h0m-2 28h0m2 27h0m7 3h0m-9 10h0m3 46h0m-1 1h0m-3 4h0m0 1h0m-1 1h0m1 53h0m-5 22h0m26 73h0m5-147h0m-15-83h0m9-27h0m20-92h0m-13 26h0m3 7h0m5 67h0m-5 19h0m4 2h0m1 8h0m6 13h0m-10 3h0m0 9h0m7 62h0m-11 59h0m3 0h0m11 7h0m0 0h0m-7 18h0m4 42h0m-5 10h0m7 36h0m15-59h0m-11-51h0m0-6h0m0-5h0m5-15h0m3-6h0m3-7h0m-12-12h0m2-40h0m1-6h0m1-3h0m4-15h0m-1-47h0m5-25h0m-8-13h0m10-60h0m13 133h0m-2 61h0m-3 22h0m-2 13h0m7 16h0m-5 4h0m4 17h0m-6 35h0m5 70h0m21-55h0m-14-28h0m7-26h0m5-48h0m-10-9h0m10-58h0m-8-71h0m6-16h0m-7-8h0m11-57h0m-2-78h0m2-16h0m6 68h0m-4 29h0m0 89h0m12 14h0m-9 146h0m-3 14h0m26-15h0m14-165h0m3 60h0m-1 16h0m0 6h0m5 10h0m-1 10h0m-10 5h0m-2 6h0m5 29h0m7 28h0m-5 77h0m6 27h0m6 12h0m-1-3h0m3-107h0m-1-8h0m-4-3h0m3-30h0m-3-5h0m-1-27h0m3-25h0m2-4h0m-2-41h0m5-2h0m-2-14h0m1-22h0m2-94h0m-7-18h0m1-13h0m6-40h0m-10-31h0m21 146h0m3 1h0m-8 108h0m7 8h0m-7 20h0m19 258h0m2-31h0m2-25h0m-7-151h0m21-164h0m8 4h0m2 75h0m-1 20h0m-1 12h0m-2 24h0m-3 88h0m2 84h0m6 73h0m11-138h0m1-5h0m-6-14h0m2-25h0m-2-6h0m-1-12h0m8-108h0m-3-19h0m-2-8h0m5-16h0m0-22h0m-13-22h0m1-9h0m6-16h0m2-11h0m1-3h0m-5-12h0m11-2h0m1 79h0m4 22h0m0 8h0m-1 19h0m6 14h0m1 2h0m-8 61h0m5 81h0m0 34h0m-4 58h0m25-13h0m-13-120h0m9-55h0m14-181h0m-6 37h0m11 25h0m-6 79h0m-6 87h0m48 162h0m2-246h0m6-95h0m20 171h0m0 50h0m1 59h0m-5 64h0m-8 42h0m23 4h0m-3-20h0m-2-58h0m4-2h0m-4-7h0m10-25h0m-12-239h0m6-63h0m41 114h0m-4-26h0m35-136h0m24 332h0m-1-122h0m4-38h0m34-151h0m8 37h0m31 108h0m-1 48h0m56-12h0m8-170h0m1 12h0m-2 12h0m31 179h0m8-68h0m-4 37h0m-2 254h0"/>
<path stroke="#31ea6d" d="M180 390h0m24-203h0m0 0h0m2 31h0m-1 57h0m-7 2h0m-4 2h0m8 357h0m7-54h0m7-300h0m-4-67h0m15 2h0m6 49h0m7 291h0m27-138h0m-2 101h0m3 46h0m12 18h0m-7-193h0m0-52h0m8-5h0m-8-96h0m1-31h0m25 186h0m-8 108h0m7 12h0m19-57h0m1-6h0m-7-2h0m0-108h0m6-46h0m3 117h0m8 82h0m3 55h0m-11 27h0m29 24h0m0-36h0m-12-15h0m14-26h0m-1-7h0m-12-38h0m9-70h0m-4-12h0m4-17h0m2-14h0m-12-22h0m11-36h0m-1-27h0m-11-23h0m17-17h0m2 78h0m9 23h0m-8 5h0m6 83h0m-5 129h0m22 132h0m0-63h0m-1-31h0m-3-1h0m7-8h0m-2-16h0m2 0h0m-4-22h0m3 0h0m-5-9h0m7-27h0m-3-34h0m0-107h0m6-163h0m0 68h0m4 133h0m4 20h0m1 53h0m-9 18h0m3 42h0m6 24h0m-11 11h0m11 0h0m-4 8h0m-1 27h0m-6 12h0m1 3h0m22 10h0m7-6h0m-14-11h0m0 0h0m12-12h0m-2-278h0m7-14h0m2 59h0m7 48h0m-10 12h0m12 10h0m1 86h0m-2 12h0m3 46h0m-5 0h0m-2 7h0m-7 1h0m4 125h0m12 9h0m10-19h0m4-15h0m-14-23h0m6-21h0m8-51h0m-8-34h0m9-7h0m-3-14h0m-7-1h0m7-3h0m-2-38h0m1-15h0m2-16h0m-4-35h0m-3-43h0m6-29h0m-6-18h0m-1-4h0m9-38h0m9-23h0m2 77h0m0 12h0m-2 1h0m4 9h0m-2 4h0m3 15h0m-2 11h0m2 16h0m-10 8h0m8 8h0m-2 9h0m3 9h0m3 9h0m-2 14h0m0 1h0m-1 20h0m-7 9h0m4 1h0m-2 10h0m5 31h0m-3 1h0m-8 141h0m19 13h0m-1-103h0m13-18h0m-11-1h0m2-4h0m-2-2h0m9-13h0m-3 0h0m4-6h0m-10-7h0m3-5h0m-7-7h0m6-10h0m3-18h0m6-5h0m-9-4h0m3-2h0m-4-41h0m-4-4h0m6-1h0m6-20h0m-3-42h0m0-14h0m4-20h0m-8-24h0m-1-4h0m0-15h0m3-24h0m-1-1h0m5-10h0m-7-5h0m5-32h0m-6-56h0m16 31h0m11 19h0m-14 42h0m8 101h0m-9 62h0m2 19h0m6 14h0m0 35h0m2 4h0m-4 32h0m-3 1h0m4 20h0m-5 29h0m9 1h0m5-70h0m0-1h0m13-248h0m15-24h0m-6 8h0m-2 84h0m-1 36h0m4 65h0m1 40h0m5 5h0m-1 3h0m-3 18h0m1 44h0m1 14h0m-3 21h0m-1 9h0m3 16h0m-5 27h0m0 31h0m12 7h0m8-49h0m6-10h0m-1-3h0m-7-62h0m8-19h0m-4-18h0m-10-32h0m2-28h0m10-21h0m-4-29h0m-9-12h0m5-82h0m25-79h0m-12 10h0m5 24h0m3 6h0m2 58h0m-6 59h0m3 8h0m2 39h0m3 31h0m-10 23h0m6 18h0m-4 7h0m3 22h0m-3 4h0m3 18h0m-2 18h0m0 18h0m-7 15h0m29 35h0m-12-67h0m1-44h0m8-10h0m-8-11h0m13-50h0m-4 0h0m3-6h0m1-40h0m-14-70h0m5-2h0m22-90h0m-7 1h0m-1 53h0m-1 13h0m12 10h0m-14 8h0m10 56h0m3 9h0m-4 7h0m-2 21h0m-6 5h0m3 1h0m7 16h0m-1 33h0m3 32h0m-4 44h0m-2 8h0m-2 3h0m5 4h0m4 7h0m-6 6h0m-5 37h0m21-11h0m2-42h0m1-4h0m-6-1h0m-5-7h0m4-3h0m-4-19h0m4-5h0m10-12h0m-14-9h0m12-29h0m-12-13h0m10-25h0m-11-4h0m3-3h0m6-7h0m0-65h0m-9-24h0m1-74h0m29-69h0m-10 30h0m-4 121h0m13 2h0m-10 5h0m11 28h0m-12 5h0m7 34h0m-1 29h0m7 6h0m-4 7h0m-4 18h0m7 129h0m-13 9h0m12 28h0m-3 21h0m11-98h0m-5-3h0m4-6h0m0-21h0m1-10h0m0-44h0m-2-136h0m7-4h0m-9-29h0m1-13h0m-1-4h0m2-65h0m18 26h0m10 6h0m-2 113h0m1 60h0m-3 6h0m2 5h0m2 4h0m-5 16h0m0 23h0m-1 1h0m-1 0h0m3 12h0m1 14h0m-3 11h0m-4 34h0m4 151h0m22-140h0m-15-23h0m0-69h0m8-26h0m7-7h0m-7-71h0m-2-91h0m7-4h0m-8-1h0m9-16h0m-11-5h0m11-1h0m8 47h0m9 43h0m-3 20h0m-6 15h0m-3 17h0m12 24h0m-9 118h0m3 13h0m1 80h0m-6 40h0m25-120h0m-1-19h0m-4-30h0m-3-37h0m6-42h0m-6-38h0m4-30h0m13-151h0m6 47h0m-1 17h0m-9 1h0m1 42h0m-1 4h0m12 27h0m-10 48h0m4 0h0m-7 3h0m8 75h0m-4 1h0m6 14h0m3 1h0m0 6h0m-6 6h0m-4 20h0m2 0h0m1 9h0m-4 12h0m5 4h0m6 7h0m-1 31h0m-10 4h0m6 51h0m0 20h0m3 23h0m7-11h0m-1-61h0m-2-4h0m1-108h0m9-19h0m-6-7h0m7-107h0m3-26h0m13-48h0m-6 66h0m5 0h0m-4 97h0m3 71h0m6 11h0m-14 41h0m6 6h0m1 37h0m-1 17h0m-7 23h0m2 6h0m21-64h0m-1-295h0m-4-35h0m3-91h0m14 51h0m2 199h0m-3 66h0m25 174h0m-4-96h0m-2-24h0m7-310h0m17 8h0m0 139h0m-6 4h0m-3 23h0m9 40h0m0 13h0m-1 4h0m-2 3h0m-1 2h0m0 18h0m-1 24h0m2 16h0m1 23h0m-2 40h0m5 6h0m-2 28h0m-8 51h0m17-58h0m8-41h0m-3-3h0m-7-18h0m6-25h0m-6-1h0m2-7h0m9-19h0m-4-10h0m-5-22h0m1-16h0m-4-1h0m3-23h0m0-8h0m2-61h0m-1-19h0m5-141h0m5 309h0m5 24h0m-5 34h0m25 108h0m-8-113h0m1-12h0m25-284h0m0 37h0m4 148h0m-5 45h0m4 62h0m-4 25h0m16 125h0m-2-51h0m6-42h0m-8-73h0m-1-1h0m3-16h0m4 0h0m1-42h0m-11-12h0m6-1h0m7-82h0m-2-67h0m8-54h0m6 21h0m-1 57h0m-6 10h0m9 60h0m-10 37h0m8 114h0m-6 1h0m7 75h0m24-330h0m8 153h0m40 228h0m14-309h0m13 14h0m-8 25h0m12 257h0m3-15h0m-4-25h0m-2-21h0m0-58h0m5-69h0m0-17h0m37 21h0m3-48h0m2-59h0m0-23h0m1-9h0m59 298h0m-5-171h0m1-45h0m3-122h0m40 4h0m28 146h0m-4-44h0m14 73h0m-8 7h0m60-34h0m3-227h0m3 32h0m-1 41h0m30 193h0m-4-207h0"/>
<path stroke="#23ed86" d="M146 634h0m0-493h0m42 313h0m-6-33h0m18-157h0m0 95h0m-5 145h0m6 82h0m18 30h0m-11-26h0m4-6h0m1-14h0m25-366h0m-2 321h0m4-57h0m14-236h0m15 367h0m10 24h0m8-51h0m-2-44h0m-10-153h0m8-153h0m13 70h0m-7 212h0m7 84h0m-1 32h0m22-5h0m-6-64h0m4-72h0m-1-60h0m0-86h0m16-79h0m-8 211h0m10 1h0m9 132h0m7-239h0m-3-45h0m3-114h0m11 123h0m3 68h0m-1 57h0m3 19h0m2 64h0m17 47h0m0-4h0m-7-107h0m-2-127h0m-2-72h0m13-59h0m11 96h0m-9 33h0m4 7h0m-3 32h0m0 15h0m6 90h0m-10 75h0m2 71h0m25-23h0m-6-66h0m4 0h0m3-6h0m2-23h0m-5-1h0m5-26h0m-2-11h0m3-37h0m-12-40h0m26-140h0m1 81h0m0 8h0m-7 72h0m2 144h0m6 1h0m-13 1h0m-2 9h0m11 24h0m-4 45h0m17 38h0m-5-50h0m-1-44h0m13-16h0m-5-5h0m4-1h0m1-4h0m-14-11h0m14-13h0m-9-3h0m4 0h0m-8-92h0m13-138h0m1-1h0m11 3h0m0 45h0m-7 3h0m0 32h0m10 49h0m-10 6h0m8 24h0m-4 8h0m2 2h0m5 40h0m-9 10h0m-2 20h0m3 4h0m5 9h0m-12 18h0m12 11h0m-8 16h0m0 7h0m19 87h0m2-39h0m3-3h0m-2-3h0m1-8h0m-10-20h0m4-33h0m4-12h0m-6-2h0m-1-1h0m0-13h0m6-8h0m-6-3h0m-1-2h0m14-10h0m-13-27h0m12-7h0m0-16h0m-1-36h0m-13-7h0m10-7h0m-8 0h0m8-11h0m-10-1h0m13-96h0m-12-31h0m16 132h0m3 57h0m5 3h0m-4 15h0m7 15h0m-5 6h0m2 16h0m2 19h0m-9 22h0m11 8h0m-13 10h0m15 14h0m0 37h0m-11 21h0m2 13h0m19-33h0m-9-70h0m7-36h0m-3-213h0m2-27h0m18-22h0m2 23h0m1 26h0m-6 30h0m9 119h0m-4 14h0m0 132h0m4 33h0m0 48h0m-2 21h0m-1 1h0m20 4h0m-10-122h0m8-11h0m0-57h0m9-5h0m-1 28h0m-1 5h0m1 25h0m11 53h0m14-43h0m-6-39h0m5-10h0m-6-25h0m2-8h0m-1-19h0m6-76h0m1-46h0m-9-21h0m0-53h0m15-26h0m-4 56h0m1 1h0m-1 123h0m11 18h0m0 17h0m-2 11h0m3 8h0m-11 42h0m11 39h0m-3 2h0m-3 2h0m2 0h0m-6 7h0m-3 6h0m1 9h0m0 6h0m6 67h0m15-122h0m8-30h0m-12-87h0m3-21h0m3-108h0m-8-96h0m29 63h0m-11 133h0m10 16h0m2 121h0m0 37h0m-8 1h0m-1 12h0m0 62h0m-3 6h0m28-101h0m-9-37h0m6-26h0m-7-32h0m-4-117h0m30-133h0m-4 21h0m-3 133h0m-3 16h0m4 32h0m2 8h0m4 29h0m-14 31h0m3 23h0m3 19h0m1 34h0m7 19h0m-1 7h0m-4 16h0m-9 7h0m29 33h0m-9-33h0m6-25h0m-4-5h0m4-8h0m-5-1h0m8-14h0m-4-23h0m5-2h0m-14-14h0m6-7h0m7-5h0m-2-32h0m0-17h0m0-6h0m-2-5h0m2-4h0m-2-112h0m1-79h0m21 65h0m-14 44h0m14 71h0m-6 5h0m-4 41h0m5 51h0m-1 3h0m-8 6h0m1 50h0m5 54h0m4 14h0m14 4h0m-1-57h0m7-56h0m0-12h0m-5-79h0m2-10h0m-10-1h0m7-26h0m3-100h0m15-58h0m-1 41h0m2 16h0m-11 93h0m5 18h0m-6 19h0m6 16h0m0 8h0m-5 36h0m5 8h0m3 21h0m-3 23h0m0 16h0m0 40h0m18-6h0m-4-58h0m11-120h0m-4-5h0m19-141h0m-8 80h0m6 133h0m3 7h0m-2 41h0m-9 32h0m8 5h0m-6 3h0m24 81h0m-11-22h0m7-82h0m-2-27h0m-3-14h0m7-11h0m-6-64h0m8-3h0m-1-98h0m-9-76h0m16-60h0m0 111h0m-4 279h0m31 28h0m0-188h0m-1-36h0m-7-93h0m6-51h0m18 81h0m0 51h0m-11 10h0m7 5h0m3 10h0m-11 24h0m7 68h0m-2 4h0m-2 2h0m-6 32h0m10 1h0m1 0h0m3 8h0m-14 38h0m15 129h0m7-93h0m-4-38h0m-2-34h0m3-15h0m3-81h0m-3-70h0m4-62h0m-5-10h0m7-11h0m19 16h0m-1 41h0m2 328h0m13 8h0m2-16h0m3-193h0m1-99h0m13 76h0m1 23h0m-1 55h0m-11 27h0m9 56h0m13 2h0m2-34h0m-9-37h0m5-51h0m-1-3h0m5-5h0m-10-42h0m10-8h0m-9-42h0m14-51h0m-9-29h0m13 161h0m0 52h0m2 32h0m5 3h0m-10 24h0m6 29h0m-4 33h0m15-30h0m16-176h0m8 28h0m0 1h0m-8 6h0m21-190h0m33 190h0m3-149h0m21 7h0m-2 125h0m0 201h0m13 10h0m-4-17h0m-1-120h0m-4-115h0m15 267h0m30-146h0m-9-36h0m4-44h0m6-59h0m31-126h0m32 202h0m-8-196h0m39 36h0m29 5h0m9 150h0m67-213h0m-5 207h0m31 32h0"/>
<path stroke="#36dd98" d="M141 237h0m43 189h0m6-169h0m17-4h0m9 327h0m-1-312h0m24-51h0m17 36h0m10 218h0m8 46h0m8-8h0m5-108h0m3-53h0m1 300h0m19-390h0m31 12h0m18 230h0m-4 29h0m7 28h0m9 17h0m5-46h0m6-18h0m0-6h0m-4-139h0m-2-22h0m12-125h0m7 132h0m-6 148h0m-2 21h0m0 26h0m6 4h0m-4 8h0m-5 26h0m1 32h0m-1 1h0m29 82h0m-6-100h0m5-22h0m-7-30h0m3-26h0m-1-197h0m-1-48h0m16-71h0m0 165h0m9 39h0m-2 24h0m2 3h0m0 57h0m-15 45h0m12 47h0m-10 33h0m1 21h0m6 47h0m14 5h0m6-19h0m-4-1h0m0-25h0m-2-42h0m5-13h0m-2 0h0m4-86h0m-5-6h0m-1-18h0m7-15h0m-5-48h0m-4-78h0m15-37h0m-3 191h0m11 22h0m-8 52h0m-4 46h0m29 83h0m-13-14h0m5-26h0m-2-14h0m8-6h0m2-1h0m-12-40h0m12-7h0m0-24h0m-4-44h0m-5-6h0m2-59h0m3-81h0m2-99h0m-5-5h0m9 75h0m10 214h0m-4 13h0m4 26h0m10-355h0m2-15h0m21 215h0m-8 96h0m-1 37h0m9 17h0m0 60h0m16 114h0m4-100h0m-13-70h0m13-17h0m-15-106h0m5-22h0m-3-92h0m29 30h0m-6 84h0m-3 78h0m8 31h0m-5 52h0m-7 148h0m27-110h0m-1-10h0m0-18h0m-2-55h0m0-28h0m-9-26h0m11-56h0m3-22h0m-3-122h0m13-91h0m3 209h0m-12 8h0m5 21h0m-2 3h0m1 41h0m11 3h0m-14 4h0m4 18h0m6 7h0m-7 7h0m2 7h0m1 22h0m8 12h0m-6 6h0m6 4h0m-15 9h0m6 2h0m-1 54h0m-1 27h0m16-22h0m-1-45h0m2-34h0m-4-40h0m5-2h0m2-20h0m-4-31h0m-2-148h0m15-24h0m12 55h0m2 104h0m-14 88h0m5 4h0m8 4h0m-2 0h0m3 44h0m-7 2h0m2 18h0m-5 20h0m7 1h0m11 21h0m0-26h0m-1-71h0m1-50h0m0-62h0m16-166h0m4 107h0m2 36h0m2 23h0m-15 47h0m15 40h0m-2 26h0m-1 48h0m-2 4h0m-4 58h0m5 22h0m17-14h0m-5-112h0m-2-6h0m-5-15h0m0-16h0m12-7h0m-8-19h0m5-46h0m-6-52h0m13-160h0m14 10h0m-13 67h0m4 153h0m2 45h0m22 82h0m1-22h0m-4-1h0m2-50h0m-2-70h0m18-284h0m-6 270h0m-6 34h0m3 13h0m1 17h0m8 1h0m-4 42h0m-3 5h0m6 30h0m-4 4h0m-1 17h0m10 30h0m15-73h0m-14-51h0m2-249h0m18 177h0m3 109h0m-4 80h0m18-177h0m-2-90h0m15-171h0m2 123h0m1 240h0m-3 34h0m28 27h0m-6-99h0m1-112h0m-5-46h0m12-29h0m5 27h0m0 0h0m-5 89h0m8 16h0m-6 41h0m-1 4h0m-1 19h0m11 12h0m-2 55h0m1 15h0m3 5h0m-6 4h0m8 54h0m4-15h0m3-89h0m-5-22h0m2-178h0m20-155h0m7 335h0m-1 107h0m12 5h0m14-158h0m1 32h0m0 58h0m13 100h0m1-94h0m3-48h0m-10-1h0m12-17h0m-4-42h0m-2-4h0m-5-13h0m6-45h0m3-48h0m-4-47h0m-5-29h0m21 131h0m-1 11h0m-3 15h0m5 114h0m-1 3h0m-2 2h0m34-117h0m49 228h0m0-165h0m24 94h0m1 53h0m10-45h0m-8-4h0m6-17h0m6-58h0m-11-147h0m5-1h0m37 77h0m0-12h0m3 36h0m0 11h0m27-203h0m33 350h0m-4-158h0m1-50h0m2-46h0m64 110h0m4-87h0m-6-4h0m1-104h0m6 109h0m3 43h0m-2 37h0m69-282h0m-6 27h0m3 5h0m27 435h0m3-395h0m9 100h0m-7 27h0"/>
<path stroke="#48cdab" d="M185 507h0m-4-46h0m-2-10h0m9-11h0m6-199h0m14 389h0m3-11h0m-2-24h0m23-313h0m-8 54h0m19 3h0m40 181h0m-8-107h0m1-11h0m4-206h0m12 406h0m3 52h0m21-378h0m19 288h0m13-39h0m15-189h0m-5 215h0m25 108h0m-3-16h0m-1-34h0m0-43h0m10 13h0m-2 33h0m13-5h0m10-50h0m1-30h0m5 35h0m7 101h0m-7 1h0m8 12h0m-7 30h0m21 28h0m-1-51h0m4-44h0m3-39h0m1-64h0m2-21h0m-2-62h0m-1-29h0m-6-36h0m24 102h0m-10 71h0m8 35h0m-1 94h0m17-53h0m-6-21h0m3-14h0m5-2h0m-8-36h0m0-59h0m8-10h0m-3-13h0m-9-105h0m15-7h0m-1 85h0m9 52h0m-7 56h0m7 10h0m2 26h0m-8 29h0m22-252h0m-5-45h0m25 192h0m-4 30h0m-3 13h0m0 5h0m2 64h0m5 56h0m-6 20h0m24 20h0m-1-86h0m-14-6h0m1-3h0m11-34h0m-4-14h0m-8-12h0m5-63h0m-4-13h0m29-235h0m1 148h0m-3 151h0m-11 101h0m1 1h0m2 104h0m22-123h0m3-80h0m-9-136h0m21-75h0m-8 129h0m13 55h0m1 33h0m-12 6h0m12 28h0m-4 22h0m-8 5h0m6 6h0m4 34h0m-10 4h0m0 21h0m16 11h0m4-41h0m-6-2h0m8-58h0m-2-44h0m4-145h0m20-56h0m-6 13h0m-5 27h0m12 281h0m1-41h0m0-106h0m1-309h0m26 57h0m-8 174h0m4 2h0m-1 49h0m-4 21h0m11 11h0m-4 27h0m-7 34h0m12 16h0m-1 41h0m-4 67h0m15-147h0m-3-21h0m2-7h0m-2-25h0m8-81h0m-6-38h0m-8-27h0m16 26h0m4 124h0m-4 14h0m5 22h0m-3 78h0m9 19h0m20-45h0m8-410h0m-1 441h0m4 9h0m12 3h0m9-18h0m14-280h0m-11 91h0m12 126h0m-1 30h0m-7 54h0m6 29h0m-2 4h0m15-33h0m2-16h0m20-315h0m-10 177h0m16 151h0m12-265h0m13 43h0m-10 112h0m11 137h0m4 63h0m-2-25h0m-1-47h0m2-2h0m10-4h0m-9-42h0m0-12h0m1-27h0m-3-9h0m3-114h0m43 267h0m-3-27h0m14-331h0m9 371h0m5-38h0m-6-163h0m7-30h0m-5-12h0m9-49h0m-13-83h0m30 33h0m-10 91h0m2 3h0m4 73h0m-5 9h0m3 146h0m38-428h0m-9 186h0m55 268h0m25-16h0m0-35h0m2-27h0m-6-370h0m46 354h0m-2-217h0m3 21h0m4 6h0m26-161h0m22 218h0m6-179h0m67 121h0m3 24h0m0 25h0m3 24h0m67-196h0m27-18h0m1 177h0m7 42h0"/>
<path stroke="#46bdc2" d="M174 414h0m5 103h0m-2-75h0m6-17h0m-2-23h0m103-20h0m40 194h0m27-215h0m-3-5h0m32-65h0m5 312h0m23-109h0m6-92h0m-3-57h0m8-13h0m2 340h0m22-21h0m-4-38h0m19-148h0m-10 33h0m8 57h0m-1 11h0m-5 1h0m3 40h0m16 41h0m2-2h0m-2-15h0m4-22h0m3-22h0m-4-2h0m-2-6h0m2-14h0m1-202h0m-5-26h0m21 190h0m2 29h0m-11 24h0m9 38h0m6 59h0m-4 15h0m33-332h0m2 203h0m-2 162h0m19-417h0m3 61h0m11 149h0m-8 133h0m24-17h0m-9-11h0m9-17h0m15-98h0m-6 40h0m-5 75h0m1 12h0m12 78h0m12-27h0m-10-25h0m0-8h0m9-109h0m0-120h0m20-231h0m3 467h0m4-33h0m24-57h0m-6 33h0m3 3h0m3 1h0m3 94h0m-3 11h0m3 13h0m16-11h0m-1-47h0m-13-24h0m8-69h0m-1-69h0m4-35h0m-3-139h0m-5-58h0m22 34h0m-10 191h0m9 139h0m-7 4h0m24-298h0m15-41h0m-6 267h0m13-65h0m1-1h0m2-10h0m1-3h0m27 70h0m-13 26h0m18-309h0m5-24h0m27 108h0m19 263h0m3 45h0m-3 15h0m11 63h0m7-5h0m-5-7h0m3-31h0m0-2h0m-3-22h0m-4-86h0m11-67h0m18 201h0m5-405h0m36 380h0m-4-23h0m12-17h0m-10-28h0m7-65h0m-7-276h0m21 380h0m-5 17h0m89 9h0m21-252h0m45 45h0m2 26h0m57 181h0m-2-166h0m70-142h0m5 80h0m96 2h0m2 11h0m1 37h0m-3 27h0m-2 46h0"/>
<path stroke="#3eacda" d="M174 483h0m6 16h0m1-14h0m-5-43h0m5-26h0m27 189h0m4-47h0m20-275h0m29 150h0m9 25h0m15 237h0m-1-495h0m2-6h0m8 366h0m23-218h0m7 152h0m24 19h0m11 111h0m19-156h0m16 34h0m2 47h0m-11 41h0m0 37h0m25 85h0m2-48h0m-5-189h0m21-156h0m10 412h0m-5-160h0m10-264h0m20 273h0m-8 54h0m20 75h0m-2-10h0m-4-35h0m3-82h0m0-26h0m5-4h0m-9-26h0m4-161h0m9 134h0m5 26h0m-2 149h0m5 6h0m7-65h0m1-16h0m46 136h0m-1-14h0m0-115h0m-14-5h0m8-75h0m11 116h0m-3 24h0m16-147h0m20 70h0m7 92h0m8-53h0m4-126h0m15 96h0m12-183h0m20-121h0m2 257h0m-8 80h0m9 26h0m15 45h0m-6-6h0m-2-40h0m0-26h0m13-34h0m5-273h0m-1 235h0m4 159h0m1 2h0m4 15h0m61-127h0m50-111h0m-2-20h0m5-134h0m14 145h0m4 26h0m-7 18h0m-4 21h0m2 34h0m9 20h0m6 130h0m-3-1h0m1-98h0m7-26h0m-8-39h0m19-323h0m42 282h0m-2 151h0m33-396h0m21 55h0m22 130h0m-1-132h0m68 408h0m94-1h0m69-391h0m9 180h0m91-51h0m-1 5h0m3 15h0m-2 47h0"/>
<path stroke="#3b9de7" d="M175 444h0m12 16h0m-9-3h0m10-32h0m6 73h0m7 65h0m17-202h0m36-40h0m3-47h0m25 366h0m0-313h0m31 168h0m52-22h0m23 4h0m-3 158h0m59-21h0m-4-12h0m0-210h0m3-122h0m5 170h0m2 300h0m25-112h0m1-85h0m-10-222h0m19 190h0m24-157h0m16 261h0m-11 75h0m9 44h0m38-127h0m9-122h0m-9-59h0m19 255h0m15-30h0m12-29h0m-10-233h0m10-178h0m2 507h0m26-419h0m19 292h0m-1 100h0m15-79h0m0-231h0m-4-35h0m13 231h0m-1 32h0m34-314h0m22 275h0m8-74h0m9 44h0m13-259h0m36 97h0m-2-23h0m9-25h0m-1 145h0m3 110h0m5 181h0m4 9h0m5-32h0m1 0h0m1-31h0m-7-27h0m50 36h0m18-102h0m1-26h0m7-240h0m7 101h0m50-111h0m98 314h0m8-108h0m2 90h0m225-132h0m2 4h0m1 2h0m-4 67h0"/>
<path stroke="#3a8fec" d="M388 637h0m88 28h0m-11-171h0m11-83h0m12 68h0m55 337h0m-4-47h0m-6-108h0m50-262h0m10 18h0m56 85h0m3 150h0m25-307h0m18 205h0m44 129h0m27-126h0m-6-55h0m44-137h0m9 364h0m15-56h0m121-281h0m4-63h0m97 358h0m230-172h0"/>
<path stroke="#3c7cef" d="M182 473h0m60 74h0m47-275h0m140 285h0m10-185h0m35 247h0m-6-158h0m60-27h0m31 112h0m18 143h0m27-309h0m107 61h0m94-115h0m1 125h0m19 356h0m-1-61h0m18-163h0m56-65h0m35 44h0"/>
<path stroke="#435eed" d="M177 503h0m7-1h0m33 109h0m68-59h0m33-52h0m63 154h0m88 38h0m15-106h0m1 49h0m94-151h0m4 87h0m16-256h0m122 300h0m8-251h0m67 107h0m-5-75h0m0-91h0m7-16h0m1-17h0m3 90h0m5 100h0m20 237h0m-8-32h0m-2-74h0m75-9h0m-4-35h0"/>
<path stroke="#4b40eb" d="M263 285h0m284 342h0m48-13h0m68 28h0m288-139h0m70 35h0"/>
<path stroke="#5920e9" d="M183 400h0m199-42h0m11 52h0m109 152h0m42 214h0m0 4h0m45-262h0m69 225h0m350-15h0m271-204h0"/>
<path stroke="#7411e3" d="M210 594h0m75 68h0m183-259h0m340 46h0"/>
<path stroke="#9609dc" d="M411 689h0m64-70h0m107 30h0m398 32h0"/>
<path stroke="#ca0bc9" d="M596 722h0m348-348h0"/>
</g>
<line x1="40.5" y1="160.3" x2="673.5" y2="274.2" stroke="#222" stroke-width="1.3"/>
<g stroke="#999" stroke-width="1">
<line x1="36.5" y1="108.9" x2="40" y2="108.9"/><line x1="36.5" y1="235.7" x2="40" y2="235.7"/><line x1="36.5" y1="362.5" x2="40" y2="362.5"/>
<line x1="68.4" y1="441" x2="68.4" y2="444.5"/><line x1="226.8" y1="441" x2="226.8" y2="444.5"/><line x1="385.2" y1="441" x2="385.2" y2="444.5"/><line x1="543.6" y1="441" x2="543.6" y2="444.5"/>
</g>
<rect x="544.7" y="27.1" width="95" height="18.8" fill="url(#cg)"/>
<g stroke="#fff" stroke-width="0.8" opacity="0.8"><line x1="553.5" y1="27.1" x2="553.5" y2="30.5"/><line x1="553.5" y1="42.5" x2="553.5" y2="45.9"/><line x1="566.4" y1="27.1" x2="566.4" y2="30.5"/><line x1="566.4" y1="42.5" x2="566.4" y2="45.9"/><line x1="579.2" y1="27.1" x2="579.2" y2="30.5"/><line x1="579.2" y1="42.5" x2="579.2" y2="45.9"/><line x1="592.1" y1="27.1" x2="592.1" y2="30.5"/><line x1="592.1" y1="42.5" x2="592.1" y2="45.9"/><line x1="605.0" y1="27.1" x2="605.0" y2="30.5"/><line x1="605.0" y1="42.5" x2="605.0" y2="45.9"/><line x1="617.9" y1="27.1" x2="617.9" y2="30.5"/><line x1="617.9" y1="42.5" x2="617.9" y2="45.9"/><line x1="630.8" y1="27.1" x2="630.8" y2="30.5"/><line x1="630.8" y1="42.5" x2="630.8" y2="45.9"/></g>
</svg>
<div class="t b" style="left:107px;top:8.1px;font-size:14.85px">Partial Mantel</div>
<div style="position:absolute;left:206.2px;top:10.15px;width:2.6px;height:2.6px;border-radius:50%;background:#111"></div><div style="position:absolute;left:206.2px;top:17.25px;width:2.6px;height:2.6px;border-radius:50%;background:#111"></div>
<div class="t b" style="left:132.3px;top:34.1px;font-size:14.78px">Environmental distance</div>
<div style="position:absolute;left:301.9px;top:36.4px;width:2.4px;height:2.4px;border-radius:50%;background:#111"></div><div style="position:absolute;left:301.9px;top:43.3px;width:2.4px;height:2.4px;border-radius:50%;background:#111"></div>
<div class="t b" style="left:314.7px;top:34.1px;font-size:14.7px"><i>r</i> = 0.31, <i>p</i> &lt; 0.01</div>
<div class="t b" style="left:189.3px;top:60px;font-size:14.7px">Spatial distance:</div>
<div class="t b" style="left:321px;top:60px;font-size:14.7px"><i>r</i> = 0.05, <i>p</i> = 0.2</div>
<div class="t b" style="left:519px;top:9.5px;font-size:13.2px">Environmental distance</div>
<div class="t" style="left:550.4px;top:50px;font-size:13px">1</div>
<div class="t" style="left:562.8px;top:50px;font-size:13px">2</div>
<div class="t" style="left:575.7px;top:50px;font-size:13px">3</div>
<div class="t" style="left:588.5px;top:50px;font-size:13px">4</div>
<div class="t" style="left:601.6px;top:50px;font-size:13px">5</div>
<div class="t" style="left:614.2px;top:50px;font-size:13px">6</div>
<div class="t" style="left:626.8px;top:50px;font-size:13px">7</div>
<div class="t" style="left:535.5px;top:76.8px;font-size:13px">y = -0.015x + 0.511</div>
<div class="t" style="left:563.4px;top:95.5px;font-size:13px">P &lt; 0.001</div>
<div class="t" style="left:0;width:34px;text-align:right;top:102.6px;font-size:13.4px">0.6</div>
<div class="t" style="left:0;width:34px;text-align:right;top:229.5px;font-size:13.4px">0.4</div>
<div class="t" style="left:0;width:34px;text-align:right;top:356.2px;font-size:13.4px">0.2</div>
<div class="t" style="left:58.4px;width:20px;text-align:center;top:445.1px;font-size:13.4px">0</div>
<div class="t" style="left:216.8px;width:20px;text-align:center;top:445.1px;font-size:13.4px">3</div>
<div class="t" style="left:375.2px;width:20px;text-align:center;top:445.1px;font-size:13.4px">6</div>
<div class="t" style="left:533.6px;width:20px;text-align:center;top:445.1px;font-size:13.4px">9</div>
<div class="t" style="left:246.8px;top:457.2px;font-size:16.6px">Geographic distance (100 km)</div>
<div class="t" style="left:-1.3px;top:296.4px;font-size:16.4px;transform:rotate(-90deg);transform-origin:0 0">Community similarity</div>

</body></html>
